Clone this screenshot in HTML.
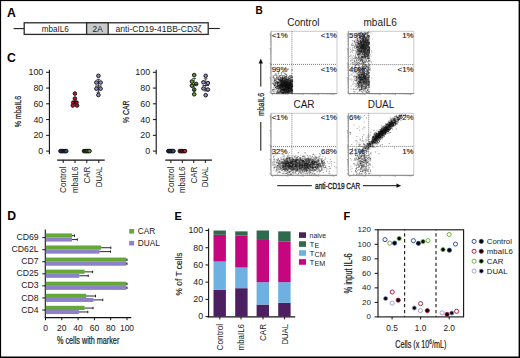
<!DOCTYPE html>
<html><head><meta charset="utf-8"><title>Figure</title>
<style>html,body{margin:0;padding:0;background:#fff;width:520px;height:358px;overflow:hidden}svg{display:block}text{font-family:"Liberation Sans", sans-serif}</style>
</head><body>
<svg width="520" height="358" viewBox="0 0 520 358" font-family='"Liberation Sans", sans-serif'><rect width="520" height="358" fill="#fff"/><rect x="0.00" y="0.00" width="520.00" height="1.10" fill="#000" stroke="none" stroke-width="1" />
<rect x="0.00" y="0.00" width="1.10" height="358.00" fill="#000" stroke="none" stroke-width="1" />
<rect x="518.60" y="0.00" width="1.40" height="358.00" fill="#000" stroke="none" stroke-width="1" />
<rect x="0.00" y="356.50" width="520.00" height="1.50" fill="#000" stroke="none" stroke-width="1" />
<text x="7.00" y="16.60" font-size="12.2" text-anchor="start" font-weight="bold" fill="#000" >A</text>
<line x1="13.60" y1="28.60" x2="24.20" y2="28.60" stroke="#222" stroke-width="1.1" />
<line x1="208.20" y1="28.50" x2="219.80" y2="28.50" stroke="#222" stroke-width="1.1" />
<rect x="24.20" y="22.80" width="184.00" height="11.60" fill="#fff" stroke="#2a2a2a" stroke-width="1.3" />
<rect x="86.60" y="22.80" width="21.60" height="11.60" fill="#cbcbcb" stroke="#2a2a2a" stroke-width="1.3" />
<text x="55.30" y="32.01" font-size="8.7" text-anchor="middle" font-weight="normal" fill="#1a1a1a" textLength="27" lengthAdjust="spacingAndGlyphs">mbaIL6</text>
<text x="97.70" y="31.87" font-size="8.3" text-anchor="middle" font-weight="normal" fill="#1a1a1a" >2A</text>
<text x="158.60" y="31.98" font-size="8.6" text-anchor="middle" font-weight="normal" fill="#1a1a1a" textLength="86" lengthAdjust="spacingAndGlyphs">anti-CD19-41BB-CD3ζ</text>
<text x="255.50" y="14.20" font-size="10" text-anchor="start" font-weight="bold" fill="#000" >B</text>
<text x="303.30" y="25.98" font-size="10" text-anchor="middle" font-weight="normal" fill="#1a1a1a" >Control</text>
<text x="380.20" y="25.98" font-size="10" text-anchor="middle" font-weight="normal" fill="#1a1a1a" >mbaIL6</text>
<text x="304.00" y="107.58" font-size="10" text-anchor="middle" font-weight="normal" fill="#1a1a1a" >CAR</text>
<text x="381.00" y="107.58" font-size="10" text-anchor="middle" font-weight="normal" fill="#1a1a1a" >DUAL</text>
<line x1="271.00" y1="31.30" x2="337.00" y2="31.30" stroke="#c4c4c4" stroke-width="0.9" />
<line x1="337.00" y1="31.30" x2="337.00" y2="93.60" stroke="#c4c4c4" stroke-width="0.9" />
<line x1="291.90" y1="31.30" x2="291.90" y2="93.60" stroke="#707070" stroke-width="0.9" stroke-dasharray="1 1"/>
<line x1="271.00" y1="64.40" x2="337.00" y2="64.40" stroke="#6a6a6a" stroke-width="0.9" stroke-dasharray="1 1"/>
<line x1="271.00" y1="31.30" x2="271.00" y2="93.60" stroke="#7a7a7a" stroke-width="0.9" />
<line x1="271.00" y1="93.60" x2="337.00" y2="93.60" stroke="#6a6a6a" stroke-width="0.9" />
<path d="M272.50 93.60v1.6M277.12 93.60v0.9M279.82 93.60v0.9M281.74 93.60v0.9M283.23 93.60v0.9M284.44 93.60v0.9M285.47 93.60v0.9M286.36 93.60v0.9M287.15 93.60v0.9M287.85 93.60v1.6M292.47 93.60v0.9M295.17 93.60v0.9M297.09 93.60v0.9M298.58 93.60v0.9M299.79 93.60v0.9M300.82 93.60v0.9M301.71 93.60v0.9M302.50 93.60v0.9M303.20 93.60v1.6M307.82 93.60v0.9M310.52 93.60v0.9M312.44 93.60v0.9M313.93 93.60v0.9M315.14 93.60v0.9M316.17 93.60v0.9M317.06 93.60v0.9M317.84 93.60v0.9M318.55 93.60v1.6M323.17 93.60v0.9M325.87 93.60v0.9M327.79 93.60v0.9M329.27 93.60v0.9M330.49 93.60v0.9M331.52 93.60v0.9M332.41 93.60v0.9M333.19 93.60v0.9M333.90 93.60v1.6M271.00 92.10h-1.6M271.00 87.74h-0.9M271.00 85.19h-0.9M271.00 83.38h-0.9M271.00 81.97h-0.9M271.00 80.83h-0.9M271.00 79.86h-0.9M271.00 79.02h-0.9M271.00 78.27h-0.9M271.00 77.61h-1.6M271.00 73.25h-0.9M271.00 70.70h-0.9M271.00 68.89h-0.9M271.00 67.48h-0.9M271.00 66.34h-0.9M271.00 65.37h-0.9M271.00 64.53h-0.9M271.00 63.79h-0.9M271.00 63.12h-1.6M271.00 58.76h-0.9M271.00 56.21h-0.9M271.00 54.40h-0.9M271.00 53.00h-0.9M271.00 51.85h-0.9M271.00 50.88h-0.9M271.00 50.04h-0.9M271.00 49.30h-0.9M271.00 48.63h-1.6M271.00 44.27h-0.9M271.00 41.72h-0.9M271.00 39.91h-0.9M271.00 38.51h-0.9M271.00 37.36h-0.9M271.00 36.39h-0.9M271.00 35.55h-0.9M271.00 34.81h-0.9M271.00 34.15h-1.6" stroke="#888" stroke-width="0.6" fill="none"/>
<line x1="348.30" y1="31.30" x2="413.80" y2="31.30" stroke="#c4c4c4" stroke-width="0.9" />
<line x1="413.80" y1="31.30" x2="413.80" y2="93.60" stroke="#c4c4c4" stroke-width="0.9" />
<line x1="368.70" y1="31.30" x2="368.70" y2="93.60" stroke="#707070" stroke-width="0.9" stroke-dasharray="1 1"/>
<line x1="348.30" y1="64.60" x2="413.80" y2="64.60" stroke="#6a6a6a" stroke-width="0.9" stroke-dasharray="1 1"/>
<line x1="348.30" y1="31.30" x2="348.30" y2="93.60" stroke="#7a7a7a" stroke-width="0.9" />
<line x1="348.30" y1="93.60" x2="413.80" y2="93.60" stroke="#6a6a6a" stroke-width="0.9" />
<path d="M349.80 93.60v1.6M354.39 93.60v0.9M357.07 93.60v0.9M358.97 93.60v0.9M360.45 93.60v0.9M361.65 93.60v0.9M362.67 93.60v0.9M363.56 93.60v0.9M364.34 93.60v0.9M365.03 93.60v1.6M369.62 93.60v0.9M372.30 93.60v0.9M374.20 93.60v0.9M375.68 93.60v0.9M376.89 93.60v0.9M377.91 93.60v0.9M378.79 93.60v0.9M379.57 93.60v0.9M380.27 93.60v1.6M384.85 93.60v0.9M387.53 93.60v0.9M389.44 93.60v0.9M390.91 93.60v0.9M392.12 93.60v0.9M393.14 93.60v0.9M394.02 93.60v0.9M394.80 93.60v0.9M395.50 93.60v1.6M400.08 93.60v0.9M402.77 93.60v0.9M404.67 93.60v0.9M406.14 93.60v0.9M407.35 93.60v0.9M408.37 93.60v0.9M409.25 93.60v0.9M410.03 93.60v0.9M410.73 93.60v1.6M348.30 92.10h-1.6M348.30 87.74h-0.9M348.30 85.19h-0.9M348.30 83.38h-0.9M348.30 81.97h-0.9M348.30 80.83h-0.9M348.30 79.86h-0.9M348.30 79.02h-0.9M348.30 78.27h-0.9M348.30 77.61h-1.6M348.30 73.25h-0.9M348.30 70.70h-0.9M348.30 68.89h-0.9M348.30 67.48h-0.9M348.30 66.34h-0.9M348.30 65.37h-0.9M348.30 64.53h-0.9M348.30 63.79h-0.9M348.30 63.12h-1.6M348.30 58.76h-0.9M348.30 56.21h-0.9M348.30 54.40h-0.9M348.30 53.00h-0.9M348.30 51.85h-0.9M348.30 50.88h-0.9M348.30 50.04h-0.9M348.30 49.30h-0.9M348.30 48.63h-1.6M348.30 44.27h-0.9M348.30 41.72h-0.9M348.30 39.91h-0.9M348.30 38.51h-0.9M348.30 37.36h-0.9M348.30 36.39h-0.9M348.30 35.55h-0.9M348.30 34.81h-0.9M348.30 34.15h-1.6" stroke="#888" stroke-width="0.6" fill="none"/>
<line x1="271.00" y1="113.30" x2="337.00" y2="113.30" stroke="#c4c4c4" stroke-width="0.9" />
<line x1="337.00" y1="113.30" x2="337.00" y2="175.30" stroke="#c4c4c4" stroke-width="0.9" />
<line x1="291.90" y1="113.30" x2="291.90" y2="175.30" stroke="#707070" stroke-width="0.9" stroke-dasharray="1 1"/>
<line x1="271.00" y1="146.60" x2="337.00" y2="146.60" stroke="#6a6a6a" stroke-width="0.9" stroke-dasharray="1 1"/>
<line x1="271.00" y1="113.30" x2="271.00" y2="175.30" stroke="#7a7a7a" stroke-width="0.9" />
<line x1="271.00" y1="175.30" x2="337.00" y2="175.30" stroke="#6a6a6a" stroke-width="0.9" />
<path d="M272.50 175.30v1.6M277.12 175.30v0.9M279.82 175.30v0.9M281.74 175.30v0.9M283.23 175.30v0.9M284.44 175.30v0.9M285.47 175.30v0.9M286.36 175.30v0.9M287.15 175.30v0.9M287.85 175.30v1.6M292.47 175.30v0.9M295.17 175.30v0.9M297.09 175.30v0.9M298.58 175.30v0.9M299.79 175.30v0.9M300.82 175.30v0.9M301.71 175.30v0.9M302.50 175.30v0.9M303.20 175.30v1.6M307.82 175.30v0.9M310.52 175.30v0.9M312.44 175.30v0.9M313.93 175.30v0.9M315.14 175.30v0.9M316.17 175.30v0.9M317.06 175.30v0.9M317.84 175.30v0.9M318.55 175.30v1.6M323.17 175.30v0.9M325.87 175.30v0.9M327.79 175.30v0.9M329.27 175.30v0.9M330.49 175.30v0.9M331.52 175.30v0.9M332.41 175.30v0.9M333.19 175.30v0.9M333.90 175.30v1.6M271.00 173.80h-1.6M271.00 169.46h-0.9M271.00 166.92h-0.9M271.00 165.12h-0.9M271.00 163.72h-0.9M271.00 162.58h-0.9M271.00 161.61h-0.9M271.00 160.78h-0.9M271.00 160.04h-0.9M271.00 159.38h-1.6M271.00 155.04h-0.9M271.00 152.50h-0.9M271.00 150.70h-0.9M271.00 149.30h-0.9M271.00 148.16h-0.9M271.00 147.20h-0.9M271.00 146.36h-0.9M271.00 145.62h-0.9M271.00 144.96h-1.6M271.00 140.62h-0.9M271.00 138.08h-0.9M271.00 136.28h-0.9M271.00 134.88h-0.9M271.00 133.74h-0.9M271.00 132.78h-0.9M271.00 131.94h-0.9M271.00 131.20h-0.9M271.00 130.54h-1.6M271.00 126.20h-0.9M271.00 123.66h-0.9M271.00 121.86h-0.9M271.00 120.47h-0.9M271.00 119.32h-0.9M271.00 118.36h-0.9M271.00 117.52h-0.9M271.00 116.79h-0.9M271.00 116.13h-1.6" stroke="#888" stroke-width="0.6" fill="none"/>
<line x1="348.30" y1="113.30" x2="413.80" y2="113.30" stroke="#c4c4c4" stroke-width="0.9" />
<line x1="413.80" y1="113.30" x2="413.80" y2="175.30" stroke="#c4c4c4" stroke-width="0.9" />
<line x1="368.70" y1="113.30" x2="368.70" y2="175.30" stroke="#707070" stroke-width="0.9" stroke-dasharray="1 1"/>
<line x1="348.30" y1="146.40" x2="413.80" y2="146.40" stroke="#6a6a6a" stroke-width="0.9" stroke-dasharray="1 1"/>
<line x1="348.30" y1="113.30" x2="348.30" y2="175.30" stroke="#7a7a7a" stroke-width="0.9" />
<line x1="348.30" y1="175.30" x2="413.80" y2="175.30" stroke="#6a6a6a" stroke-width="0.9" />
<path d="M349.80 175.30v1.6M354.39 175.30v0.9M357.07 175.30v0.9M358.97 175.30v0.9M360.45 175.30v0.9M361.65 175.30v0.9M362.67 175.30v0.9M363.56 175.30v0.9M364.34 175.30v0.9M365.03 175.30v1.6M369.62 175.30v0.9M372.30 175.30v0.9M374.20 175.30v0.9M375.68 175.30v0.9M376.89 175.30v0.9M377.91 175.30v0.9M378.79 175.30v0.9M379.57 175.30v0.9M380.27 175.30v1.6M384.85 175.30v0.9M387.53 175.30v0.9M389.44 175.30v0.9M390.91 175.30v0.9M392.12 175.30v0.9M393.14 175.30v0.9M394.02 175.30v0.9M394.80 175.30v0.9M395.50 175.30v1.6M400.08 175.30v0.9M402.77 175.30v0.9M404.67 175.30v0.9M406.14 175.30v0.9M407.35 175.30v0.9M408.37 175.30v0.9M409.25 175.30v0.9M410.03 175.30v0.9M410.73 175.30v1.6M348.30 173.80h-1.6M348.30 169.46h-0.9M348.30 166.92h-0.9M348.30 165.12h-0.9M348.30 163.72h-0.9M348.30 162.58h-0.9M348.30 161.61h-0.9M348.30 160.78h-0.9M348.30 160.04h-0.9M348.30 159.38h-1.6M348.30 155.04h-0.9M348.30 152.50h-0.9M348.30 150.70h-0.9M348.30 149.30h-0.9M348.30 148.16h-0.9M348.30 147.20h-0.9M348.30 146.36h-0.9M348.30 145.62h-0.9M348.30 144.96h-1.6M348.30 140.62h-0.9M348.30 138.08h-0.9M348.30 136.28h-0.9M348.30 134.88h-0.9M348.30 133.74h-0.9M348.30 132.78h-0.9M348.30 131.94h-0.9M348.30 131.20h-0.9M348.30 130.54h-1.6M348.30 126.20h-0.9M348.30 123.66h-0.9M348.30 121.86h-0.9M348.30 120.47h-0.9M348.30 119.32h-0.9M348.30 118.36h-0.9M348.30 117.52h-0.9M348.30 116.79h-0.9M348.30 116.13h-1.6" stroke="#888" stroke-width="0.6" fill="none"/>
<path d="M286.0 85.8h1.0v1.0h-1.0zM285.6 83.2h1.0v1.0h-1.0zM280.1 84.2h1.0v1.0h-1.0zM286.4 85.5h1.0v1.0h-1.0zM292.0 83.5h1.0v1.0h-1.0zM286.9 91.7h1.0v1.0h-1.0zM287.5 79.9h1.0v1.0h-1.0zM286.4 84.8h1.0v1.0h-1.0zM287.8 80.4h1.0v1.0h-1.0zM282.2 85.6h1.0v1.0h-1.0zM287.0 80.0h1.0v1.0h-1.0zM286.2 86.2h1.0v1.0h-1.0zM285.9 83.4h1.0v1.0h-1.0zM285.8 84.8h1.0v1.0h-1.0zM287.2 81.5h1.0v1.0h-1.0zM285.3 86.1h1.0v1.0h-1.0zM283.1 79.1h1.0v1.0h-1.0zM277.6 85.8h1.0v1.0h-1.0zM287.7 79.8h1.0v1.0h-1.0zM285.7 83.3h1.0v1.0h-1.0zM273.8 74.7h1.0v1.0h-1.0zM284.1 79.7h1.0v1.0h-1.0zM286.6 91.1h1.0v1.0h-1.0zM291.1 83.2h1.0v1.0h-1.0zM281.8 87.1h1.0v1.0h-1.0zM289.1 87.5h1.0v1.0h-1.0zM288.9 88.2h1.0v1.0h-1.0zM290.7 78.9h1.0v1.0h-1.0zM280.4 85.6h1.0v1.0h-1.0zM272.5 75.5h1.0v1.0h-1.0zM285.0 84.3h1.0v1.0h-1.0zM284.8 85.2h1.0v1.0h-1.0zM274.7 73.7h1.0v1.0h-1.0zM284.3 89.9h1.0v1.0h-1.0zM285.5 88.5h1.0v1.0h-1.0zM284.0 88.5h1.0v1.0h-1.0zM287.9 81.5h1.0v1.0h-1.0zM290.0 90.5h1.0v1.0h-1.0zM280.3 79.2h1.0v1.0h-1.0zM291.2 90.6h1.0v1.0h-1.0zM291.6 86.4h1.0v1.0h-1.0zM279.0 86.2h1.0v1.0h-1.0zM286.5 84.5h1.0v1.0h-1.0zM279.9 85.4h1.0v1.0h-1.0zM285.6 89.7h1.0v1.0h-1.0zM281.2 84.7h1.0v1.0h-1.0zM289.5 89.1h1.0v1.0h-1.0zM277.0 82.2h1.0v1.0h-1.0zM285.0 88.0h1.0v1.0h-1.0zM287.5 80.6h1.0v1.0h-1.0zM273.4 84.2h1.0v1.0h-1.0zM285.4 87.6h1.0v1.0h-1.0zM282.8 88.6h1.0v1.0h-1.0zM280.9 86.4h1.0v1.0h-1.0zM286.2 88.2h1.0v1.0h-1.0zM285.6 88.1h1.0v1.0h-1.0zM289.6 80.1h1.0v1.0h-1.0zM285.7 84.2h1.0v1.0h-1.0zM286.6 86.5h1.0v1.0h-1.0zM282.4 90.4h1.0v1.0h-1.0zM285.6 86.4h1.0v1.0h-1.0zM285.4 80.0h1.0v1.0h-1.0zM274.7 83.6h1.0v1.0h-1.0zM284.4 90.6h1.0v1.0h-1.0zM284.4 81.1h1.0v1.0h-1.0zM287.1 80.0h1.0v1.0h-1.0zM279.9 84.1h1.0v1.0h-1.0zM285.1 84.8h1.0v1.0h-1.0zM285.9 91.8h1.0v1.0h-1.0zM286.9 82.3h1.0v1.0h-1.0zM281.1 79.8h1.0v1.0h-1.0zM287.4 85.1h1.0v1.0h-1.0zM287.3 83.6h1.0v1.0h-1.0zM278.7 85.8h1.0v1.0h-1.0zM280.9 84.4h1.0v1.0h-1.0zM286.7 86.8h1.0v1.0h-1.0zM287.3 86.9h1.0v1.0h-1.0zM286.2 87.8h1.0v1.0h-1.0zM279.7 83.9h1.0v1.0h-1.0zM276.0 79.2h1.0v1.0h-1.0zM283.7 82.9h1.0v1.0h-1.0zM282.2 85.3h1.0v1.0h-1.0zM277.4 86.9h1.0v1.0h-1.0zM288.5 78.8h1.0v1.0h-1.0zM292.1 88.9h1.0v1.0h-1.0zM289.4 89.2h1.0v1.0h-1.0zM286.9 86.1h1.0v1.0h-1.0zM285.6 82.3h1.0v1.0h-1.0zM289.7 86.1h1.0v1.0h-1.0zM277.2 83.5h1.0v1.0h-1.0zM281.8 89.0h1.0v1.0h-1.0zM290.5 90.3h1.0v1.0h-1.0zM274.6 80.1h1.0v1.0h-1.0zM283.2 86.9h1.0v1.0h-1.0zM290.3 85.2h1.0v1.0h-1.0zM289.1 83.5h1.0v1.0h-1.0zM290.4 87.4h1.0v1.0h-1.0zM281.2 92.3h1.0v1.0h-1.0zM288.1 78.6h1.0v1.0h-1.0zM291.7 70.0h1.0v1.0h-1.0zM282.8 86.0h1.0v1.0h-1.0zM283.7 91.7h1.0v1.0h-1.0zM284.4 91.3h1.0v1.0h-1.0zM286.9 84.9h1.0v1.0h-1.0zM283.4 88.7h1.0v1.0h-1.0zM280.9 85.9h1.0v1.0h-1.0zM279.1 91.3h1.0v1.0h-1.0zM280.4 88.5h1.0v1.0h-1.0zM290.8 82.4h1.0v1.0h-1.0zM290.4 79.8h1.0v1.0h-1.0zM280.4 88.3h1.0v1.0h-1.0zM282.6 87.1h1.0v1.0h-1.0zM277.8 85.1h1.0v1.0h-1.0zM279.7 84.1h1.0v1.0h-1.0zM285.4 89.7h1.0v1.0h-1.0zM275.0 86.7h1.0v1.0h-1.0zM286.9 87.5h1.0v1.0h-1.0zM284.5 91.8h1.0v1.0h-1.0zM291.6 69.3h1.0v1.0h-1.0zM287.4 82.9h1.0v1.0h-1.0zM290.0 82.7h1.0v1.0h-1.0zM280.1 79.5h1.0v1.0h-1.0zM276.8 92.5h1.0v1.0h-1.0zM286.1 91.3h1.0v1.0h-1.0zM281.8 77.6h1.0v1.0h-1.0zM275.3 79.4h1.0v1.0h-1.0zM281.9 83.9h1.0v1.0h-1.0zM290.9 87.7h1.0v1.0h-1.0zM287.6 86.7h1.0v1.0h-1.0zM282.7 91.9h1.0v1.0h-1.0zM280.6 89.4h1.0v1.0h-1.0zM278.1 88.2h1.0v1.0h-1.0zM283.7 80.6h1.0v1.0h-1.0zM276.0 77.6h1.0v1.0h-1.0zM278.4 84.3h1.0v1.0h-1.0zM288.0 87.8h1.0v1.0h-1.0zM282.4 86.6h1.0v1.0h-1.0zM280.5 80.5h1.0v1.0h-1.0zM285.7 82.7h1.0v1.0h-1.0zM286.7 81.7h1.0v1.0h-1.0zM285.2 88.0h1.0v1.0h-1.0zM285.3 84.5h1.0v1.0h-1.0zM289.6 76.3h1.0v1.0h-1.0zM286.2 91.2h1.0v1.0h-1.0zM283.9 90.7h1.0v1.0h-1.0zM282.4 83.9h1.0v1.0h-1.0zM284.0 87.6h1.0v1.0h-1.0zM282.0 89.0h1.0v1.0h-1.0zM276.7 87.8h1.0v1.0h-1.0zM281.1 73.8h1.0v1.0h-1.0zM291.1 85.3h1.0v1.0h-1.0zM291.1 75.6h1.0v1.0h-1.0zM274.8 84.6h1.0v1.0h-1.0zM281.7 82.1h1.0v1.0h-1.0zM283.1 81.5h1.0v1.0h-1.0zM282.0 78.4h1.0v1.0h-1.0zM284.5 82.3h1.0v1.0h-1.0zM287.4 90.9h1.0v1.0h-1.0zM285.6 83.5h1.0v1.0h-1.0zM284.2 84.8h1.0v1.0h-1.0zM285.9 76.8h1.0v1.0h-1.0zM287.8 86.2h1.0v1.0h-1.0zM287.4 92.7h1.0v1.0h-1.0zM277.5 71.6h1.0v1.0h-1.0zM288.8 85.4h1.0v1.0h-1.0zM282.2 87.0h1.0v1.0h-1.0zM286.9 91.7h1.0v1.0h-1.0zM284.1 84.2h1.0v1.0h-1.0zM285.5 88.5h1.0v1.0h-1.0zM280.9 88.6h1.0v1.0h-1.0zM279.6 86.5h1.0v1.0h-1.0zM279.8 86.2h1.0v1.0h-1.0zM284.7 86.5h1.0v1.0h-1.0zM280.9 91.8h1.0v1.0h-1.0zM286.4 87.0h1.0v1.0h-1.0zM291.7 81.0h1.0v1.0h-1.0zM284.6 88.4h1.0v1.0h-1.0zM275.1 79.8h1.0v1.0h-1.0zM288.8 87.0h1.0v1.0h-1.0zM279.9 79.9h1.0v1.0h-1.0zM291.1 89.7h1.0v1.0h-1.0zM280.4 87.7h1.0v1.0h-1.0zM288.7 82.1h1.0v1.0h-1.0zM290.5 92.7h1.0v1.0h-1.0zM289.0 84.4h1.0v1.0h-1.0zM287.7 84.5h1.0v1.0h-1.0zM274.6 79.5h1.0v1.0h-1.0zM289.1 83.4h1.0v1.0h-1.0zM284.9 82.2h1.0v1.0h-1.0zM288.1 85.4h1.0v1.0h-1.0zM278.8 91.6h1.0v1.0h-1.0zM280.2 91.8h1.0v1.0h-1.0zM280.3 83.0h1.0v1.0h-1.0zM282.0 85.7h1.0v1.0h-1.0zM291.8 81.3h1.0v1.0h-1.0zM277.1 76.6h1.0v1.0h-1.0zM280.5 85.9h1.0v1.0h-1.0zM290.8 90.5h1.0v1.0h-1.0zM286.3 83.3h1.0v1.0h-1.0zM284.2 90.6h1.0v1.0h-1.0zM287.0 83.1h1.0v1.0h-1.0zM288.0 84.9h1.0v1.0h-1.0zM288.9 90.6h1.0v1.0h-1.0zM289.5 76.1h1.0v1.0h-1.0zM279.9 90.1h1.0v1.0h-1.0zM287.0 83.0h1.0v1.0h-1.0zM277.6 82.4h1.0v1.0h-1.0zM286.1 86.0h1.0v1.0h-1.0zM287.0 89.8h1.0v1.0h-1.0zM282.3 78.0h1.0v1.0h-1.0zM287.4 81.0h1.0v1.0h-1.0zM288.3 88.1h1.0v1.0h-1.0zM280.4 82.7h1.0v1.0h-1.0zM286.1 90.0h1.0v1.0h-1.0zM289.7 86.7h1.0v1.0h-1.0zM287.3 86.8h1.0v1.0h-1.0zM290.0 85.4h1.0v1.0h-1.0zM289.7 86.4h1.0v1.0h-1.0zM285.2 83.0h1.0v1.0h-1.0zM284.7 88.2h1.0v1.0h-1.0zM290.9 82.2h1.0v1.0h-1.0zM288.7 90.5h1.0v1.0h-1.0zM287.6 84.5h1.0v1.0h-1.0zM284.1 86.0h1.0v1.0h-1.0zM282.1 86.0h1.0v1.0h-1.0zM282.1 80.0h1.0v1.0h-1.0zM284.0 90.6h1.0v1.0h-1.0zM287.2 92.2h1.0v1.0h-1.0zM289.5 86.3h1.0v1.0h-1.0zM285.4 82.6h1.0v1.0h-1.0zM289.2 84.7h1.0v1.0h-1.0zM286.9 85.8h1.0v1.0h-1.0zM289.7 85.4h1.0v1.0h-1.0zM287.0 83.1h1.0v1.0h-1.0zM286.9 81.8h1.0v1.0h-1.0zM289.1 77.9h1.0v1.0h-1.0zM279.7 85.0h1.0v1.0h-1.0zM289.9 88.6h1.0v1.0h-1.0zM272.5 82.5h1.0v1.0h-1.0zM287.8 68.8h1.0v1.0h-1.0zM279.4 85.3h1.0v1.0h-1.0zM276.5 91.1h1.0v1.0h-1.0zM283.2 81.2h1.0v1.0h-1.0zM288.3 92.0h1.0v1.0h-1.0zM285.7 81.1h1.0v1.0h-1.0zM273.2 88.8h1.0v1.0h-1.0zM289.3 82.5h1.0v1.0h-1.0zM283.8 84.0h1.0v1.0h-1.0zM287.3 83.6h1.0v1.0h-1.0zM283.8 82.6h1.0v1.0h-1.0zM288.7 75.8h1.0v1.0h-1.0zM282.3 87.6h1.0v1.0h-1.0zM291.5 77.0h1.0v1.0h-1.0zM289.4 84.1h1.0v1.0h-1.0zM278.2 83.4h1.0v1.0h-1.0zM282.9 80.8h1.0v1.0h-1.0zM282.6 79.4h1.0v1.0h-1.0zM275.0 80.6h1.0v1.0h-1.0zM287.6 82.7h1.0v1.0h-1.0zM278.3 80.3h1.0v1.0h-1.0zM280.9 83.2h1.0v1.0h-1.0zM279.4 75.0h1.0v1.0h-1.0zM279.6 87.3h1.0v1.0h-1.0zM286.5 90.3h1.0v1.0h-1.0zM285.3 85.0h1.0v1.0h-1.0zM284.6 83.8h1.0v1.0h-1.0zM284.3 87.7h1.0v1.0h-1.0zM291.0 80.7h1.0v1.0h-1.0zM285.0 87.2h1.0v1.0h-1.0zM291.0 88.3h1.0v1.0h-1.0zM280.4 85.5h1.0v1.0h-1.0zM289.1 87.5h1.0v1.0h-1.0zM284.6 73.1h1.0v1.0h-1.0zM281.4 85.5h1.0v1.0h-1.0zM287.7 87.2h1.0v1.0h-1.0zM276.9 80.9h1.0v1.0h-1.0zM276.7 85.9h1.0v1.0h-1.0zM284.7 83.8h1.0v1.0h-1.0zM284.6 82.9h1.0v1.0h-1.0zM288.2 90.2h1.0v1.0h-1.0zM281.0 86.5h1.0v1.0h-1.0zM284.9 82.7h1.0v1.0h-1.0zM287.0 84.8h1.0v1.0h-1.0zM281.0 82.3h1.0v1.0h-1.0zM291.0 90.7h1.0v1.0h-1.0zM285.0 80.7h1.0v1.0h-1.0zM281.4 83.5h1.0v1.0h-1.0zM281.9 84.3h1.0v1.0h-1.0zM289.7 81.8h1.0v1.0h-1.0zM281.2 90.5h1.0v1.0h-1.0z" fill="#000" fill-opacity="0.42"/>
<path d="M286.9 86.5h1.0v1.0h-1.0zM280.0 83.6h1.0v1.0h-1.0zM277.4 75.8h1.0v1.0h-1.0zM291.6 76.1h1.0v1.0h-1.0zM282.1 89.0h1.0v1.0h-1.0zM289.0 90.4h1.0v1.0h-1.0zM283.9 82.3h1.0v1.0h-1.0zM288.3 77.3h1.0v1.0h-1.0zM282.2 89.6h1.0v1.0h-1.0zM283.5 88.6h1.0v1.0h-1.0zM283.3 87.0h1.0v1.0h-1.0zM287.5 88.9h1.0v1.0h-1.0zM288.5 83.1h1.0v1.0h-1.0zM280.4 83.6h1.0v1.0h-1.0zM280.9 88.9h1.0v1.0h-1.0zM272.3 89.5h1.0v1.0h-1.0zM285.5 84.2h1.0v1.0h-1.0zM287.0 86.1h1.0v1.0h-1.0zM279.9 91.6h1.0v1.0h-1.0zM286.6 91.4h1.0v1.0h-1.0zM285.5 87.0h1.0v1.0h-1.0zM292.1 79.0h1.0v1.0h-1.0zM285.7 88.4h1.0v1.0h-1.0zM285.2 86.2h1.0v1.0h-1.0zM282.7 86.3h1.0v1.0h-1.0zM280.9 80.7h1.0v1.0h-1.0zM285.7 80.7h1.0v1.0h-1.0zM278.3 84.8h1.0v1.0h-1.0zM290.9 87.1h1.0v1.0h-1.0zM286.0 84.7h1.0v1.0h-1.0zM290.8 89.4h1.0v1.0h-1.0zM283.9 80.3h1.0v1.0h-1.0zM286.3 84.4h1.0v1.0h-1.0zM280.5 82.0h1.0v1.0h-1.0zM282.1 83.4h1.0v1.0h-1.0zM272.6 90.8h1.0v1.0h-1.0zM285.3 89.6h1.0v1.0h-1.0zM287.2 86.8h1.0v1.0h-1.0zM289.4 84.1h1.0v1.0h-1.0zM286.6 89.7h1.0v1.0h-1.0zM284.7 85.0h1.0v1.0h-1.0zM279.5 79.2h1.0v1.0h-1.0zM289.8 90.9h1.0v1.0h-1.0zM290.5 88.0h1.0v1.0h-1.0zM287.4 82.8h1.0v1.0h-1.0zM284.0 90.2h1.0v1.0h-1.0zM279.7 85.4h1.0v1.0h-1.0zM288.1 81.0h1.0v1.0h-1.0zM278.7 79.2h1.0v1.0h-1.0zM288.8 85.2h1.0v1.0h-1.0zM287.7 82.5h1.0v1.0h-1.0zM282.5 81.0h1.0v1.0h-1.0zM281.2 84.9h1.0v1.0h-1.0zM287.8 86.5h1.0v1.0h-1.0zM291.6 85.8h1.0v1.0h-1.0zM279.6 84.6h1.0v1.0h-1.0zM287.2 79.4h1.0v1.0h-1.0zM276.7 84.5h1.0v1.0h-1.0zM278.2 82.3h1.0v1.0h-1.0zM283.8 76.8h1.0v1.0h-1.0zM271.9 82.7h1.0v1.0h-1.0zM281.7 83.9h1.0v1.0h-1.0zM272.9 75.4h1.0v1.0h-1.0zM291.2 92.2h1.0v1.0h-1.0zM279.7 87.0h1.0v1.0h-1.0zM287.9 82.3h1.0v1.0h-1.0zM283.0 89.9h1.0v1.0h-1.0zM285.4 87.7h1.0v1.0h-1.0zM290.2 91.2h1.0v1.0h-1.0zM292.1 80.2h1.0v1.0h-1.0zM277.2 82.1h1.0v1.0h-1.0zM285.5 85.3h1.0v1.0h-1.0zM284.9 88.1h1.0v1.0h-1.0zM292.0 85.5h1.0v1.0h-1.0zM289.1 86.7h1.0v1.0h-1.0zM281.7 89.0h1.0v1.0h-1.0zM287.9 88.7h1.0v1.0h-1.0zM287.6 89.4h1.0v1.0h-1.0zM285.7 85.0h1.0v1.0h-1.0zM280.2 84.4h1.0v1.0h-1.0zM289.5 84.8h1.0v1.0h-1.0zM281.5 86.7h1.0v1.0h-1.0zM283.5 83.1h1.0v1.0h-1.0zM278.5 88.0h1.0v1.0h-1.0zM283.7 85.4h1.0v1.0h-1.0zM290.2 91.7h1.0v1.0h-1.0zM281.9 81.9h1.0v1.0h-1.0zM288.9 81.0h1.0v1.0h-1.0zM283.8 85.9h1.0v1.0h-1.0zM286.2 85.1h1.0v1.0h-1.0zM287.8 79.5h1.0v1.0h-1.0zM272.8 91.1h1.0v1.0h-1.0zM282.2 87.1h1.0v1.0h-1.0zM281.0 86.0h1.0v1.0h-1.0zM290.3 82.2h1.0v1.0h-1.0zM286.1 92.0h1.0v1.0h-1.0zM286.8 83.3h1.0v1.0h-1.0zM283.6 85.2h1.0v1.0h-1.0zM284.4 89.2h1.0v1.0h-1.0zM284.7 82.2h1.0v1.0h-1.0zM281.6 85.2h1.0v1.0h-1.0zM283.9 82.9h1.0v1.0h-1.0zM282.4 85.5h1.0v1.0h-1.0zM288.9 90.9h1.0v1.0h-1.0zM283.7 83.3h1.0v1.0h-1.0zM290.7 83.7h1.0v1.0h-1.0zM289.3 88.4h1.0v1.0h-1.0zM287.4 90.6h1.0v1.0h-1.0zM280.1 77.1h1.0v1.0h-1.0zM288.9 84.5h1.0v1.0h-1.0zM279.7 83.7h1.0v1.0h-1.0zM272.4 90.4h1.0v1.0h-1.0zM282.3 85.2h1.0v1.0h-1.0zM287.7 87.7h1.0v1.0h-1.0zM292.0 84.0h1.0v1.0h-1.0zM289.9 84.4h1.0v1.0h-1.0zM288.6 85.2h1.0v1.0h-1.0zM287.0 81.8h1.0v1.0h-1.0zM290.4 84.3h1.0v1.0h-1.0zM280.4 87.2h1.0v1.0h-1.0zM289.3 84.3h1.0v1.0h-1.0zM290.5 87.7h1.0v1.0h-1.0zM289.7 85.4h1.0v1.0h-1.0zM290.3 90.1h1.0v1.0h-1.0zM285.8 89.1h1.0v1.0h-1.0zM275.1 86.3h1.0v1.0h-1.0zM277.4 74.5h1.0v1.0h-1.0zM289.1 85.3h1.0v1.0h-1.0zM285.5 90.2h1.0v1.0h-1.0zM278.7 91.6h1.0v1.0h-1.0zM282.3 83.0h1.0v1.0h-1.0zM274.0 85.1h1.0v1.0h-1.0zM285.9 82.9h1.0v1.0h-1.0zM285.3 76.8h1.0v1.0h-1.0zM279.6 90.3h1.0v1.0h-1.0zM277.2 84.9h1.0v1.0h-1.0zM284.1 82.5h1.0v1.0h-1.0zM285.6 90.9h1.0v1.0h-1.0zM273.3 87.1h1.0v1.0h-1.0zM284.3 84.8h1.0v1.0h-1.0zM286.3 85.4h1.0v1.0h-1.0zM282.3 77.5h1.0v1.0h-1.0zM283.0 92.7h1.0v1.0h-1.0zM287.9 90.1h1.0v1.0h-1.0zM281.9 77.6h1.0v1.0h-1.0zM287.5 80.4h1.0v1.0h-1.0zM281.9 82.7h1.0v1.0h-1.0zM285.2 81.3h1.0v1.0h-1.0zM285.1 84.7h1.0v1.0h-1.0zM291.0 86.3h1.0v1.0h-1.0zM288.7 90.4h1.0v1.0h-1.0zM289.7 78.5h1.0v1.0h-1.0zM281.6 85.2h1.0v1.0h-1.0zM290.0 78.5h1.0v1.0h-1.0zM284.4 86.8h1.0v1.0h-1.0zM288.1 83.5h1.0v1.0h-1.0zM285.0 86.7h1.0v1.0h-1.0zM281.7 86.2h1.0v1.0h-1.0zM283.2 89.7h1.0v1.0h-1.0zM291.8 81.3h1.0v1.0h-1.0zM286.0 78.9h1.0v1.0h-1.0zM280.6 90.4h1.0v1.0h-1.0zM287.3 85.5h1.0v1.0h-1.0zM282.9 77.6h1.0v1.0h-1.0zM282.4 80.1h1.0v1.0h-1.0zM280.9 87.0h1.0v1.0h-1.0zM282.1 92.3h1.0v1.0h-1.0zM286.6 86.7h1.0v1.0h-1.0zM281.2 83.1h1.0v1.0h-1.0zM280.2 83.4h1.0v1.0h-1.0zM284.3 88.1h1.0v1.0h-1.0zM288.4 82.2h1.0v1.0h-1.0zM283.4 75.2h1.0v1.0h-1.0zM278.2 72.2h1.0v1.0h-1.0zM287.3 88.1h1.0v1.0h-1.0zM287.8 82.5h1.0v1.0h-1.0zM282.3 84.6h1.0v1.0h-1.0zM284.1 86.4h1.0v1.0h-1.0zM285.3 81.8h1.0v1.0h-1.0zM283.6 87.1h1.0v1.0h-1.0zM274.3 82.4h1.0v1.0h-1.0zM286.1 89.7h1.0v1.0h-1.0zM284.1 88.3h1.0v1.0h-1.0zM292.2 80.8h1.0v1.0h-1.0zM286.0 89.7h1.0v1.0h-1.0zM283.9 89.0h1.0v1.0h-1.0zM280.3 82.5h1.0v1.0h-1.0zM282.1 78.4h1.0v1.0h-1.0zM285.9 81.2h1.0v1.0h-1.0zM282.5 85.7h1.0v1.0h-1.0zM285.9 91.6h1.0v1.0h-1.0zM282.0 82.3h1.0v1.0h-1.0zM275.5 74.3h1.0v1.0h-1.0zM286.2 88.0h1.0v1.0h-1.0zM281.6 89.4h1.0v1.0h-1.0zM288.3 78.8h1.0v1.0h-1.0zM284.2 88.5h1.0v1.0h-1.0zM286.2 84.6h1.0v1.0h-1.0zM282.7 80.8h1.0v1.0h-1.0zM286.3 85.1h1.0v1.0h-1.0zM288.4 87.8h1.0v1.0h-1.0zM288.9 82.6h1.0v1.0h-1.0zM277.9 78.9h1.0v1.0h-1.0zM286.5 84.3h1.0v1.0h-1.0zM290.5 89.5h1.0v1.0h-1.0zM288.5 88.1h1.0v1.0h-1.0zM282.2 79.6h1.0v1.0h-1.0zM291.9 85.9h1.0v1.0h-1.0zM280.5 74.9h1.0v1.0h-1.0zM291.9 85.3h1.0v1.0h-1.0zM285.3 85.9h1.0v1.0h-1.0zM287.0 89.1h1.0v1.0h-1.0zM275.4 82.4h1.0v1.0h-1.0zM285.1 85.6h1.0v1.0h-1.0zM287.8 84.7h1.0v1.0h-1.0zM286.3 83.4h1.0v1.0h-1.0zM290.9 86.2h1.0v1.0h-1.0zM289.2 85.3h1.0v1.0h-1.0zM283.0 87.1h1.0v1.0h-1.0zM282.3 80.8h1.0v1.0h-1.0zM284.3 79.3h1.0v1.0h-1.0zM290.4 80.5h1.0v1.0h-1.0zM282.2 84.2h1.0v1.0h-1.0zM275.9 88.2h1.0v1.0h-1.0zM289.5 85.4h1.0v1.0h-1.0zM273.0 76.5h1.0v1.0h-1.0zM284.3 82.7h1.0v1.0h-1.0zM282.9 83.8h1.0v1.0h-1.0zM290.1 92.6h1.0v1.0h-1.0zM279.6 82.7h1.0v1.0h-1.0zM287.0 78.7h1.0v1.0h-1.0zM288.0 87.9h1.0v1.0h-1.0zM291.7 82.8h1.0v1.0h-1.0zM284.3 81.1h1.0v1.0h-1.0zM282.7 83.4h1.0v1.0h-1.0zM292.2 84.2h1.0v1.0h-1.0zM284.9 79.4h1.0v1.0h-1.0zM283.6 86.9h1.0v1.0h-1.0zM288.5 91.3h1.0v1.0h-1.0zM284.5 78.2h1.0v1.0h-1.0zM290.1 88.9h1.0v1.0h-1.0zM283.7 87.2h1.0v1.0h-1.0zM283.5 82.0h1.0v1.0h-1.0zM281.4 86.1h1.0v1.0h-1.0zM283.2 88.4h1.0v1.0h-1.0zM285.9 82.3h1.0v1.0h-1.0zM281.4 86.6h1.0v1.0h-1.0zM290.4 82.3h1.0v1.0h-1.0zM285.5 85.7h1.0v1.0h-1.0zM284.5 88.2h1.0v1.0h-1.0zM289.8 88.2h1.0v1.0h-1.0zM285.2 88.9h1.0v1.0h-1.0zM286.8 81.3h1.0v1.0h-1.0zM281.4 79.7h1.0v1.0h-1.0zM283.1 84.0h1.0v1.0h-1.0zM283.2 84.8h1.0v1.0h-1.0zM276.6 87.0h1.0v1.0h-1.0zM285.4 92.5h1.0v1.0h-1.0zM281.4 84.6h1.0v1.0h-1.0zM285.7 86.6h1.0v1.0h-1.0zM278.9 79.4h1.0v1.0h-1.0zM287.0 79.4h1.0v1.0h-1.0zM284.7 83.1h1.0v1.0h-1.0zM284.5 85.8h1.0v1.0h-1.0zM285.0 83.8h1.0v1.0h-1.0zM288.8 91.4h1.0v1.0h-1.0zM281.5 79.1h1.0v1.0h-1.0zM285.2 87.1h1.0v1.0h-1.0zM280.4 80.3h1.0v1.0h-1.0zM290.7 82.3h1.0v1.0h-1.0zM276.7 89.9h1.0v1.0h-1.0zM287.7 84.2h1.0v1.0h-1.0zM278.9 86.8h1.0v1.0h-1.0zM283.3 84.6h1.0v1.0h-1.0zM279.7 90.0h1.0v1.0h-1.0zM285.6 92.4h1.0v1.0h-1.0zM279.4 83.8h1.0v1.0h-1.0zM274.3 81.0h1.0v1.0h-1.0zM282.5 83.1h1.0v1.0h-1.0zM283.4 83.2h1.0v1.0h-1.0zM274.0 80.4h1.0v1.0h-1.0zM287.6 77.3h1.0v1.0h-1.0zM288.0 92.8h1.0v1.0h-1.0zM289.9 82.0h1.0v1.0h-1.0zM282.7 82.4h1.0v1.0h-1.0zM285.4 78.9h1.0v1.0h-1.0zM284.6 88.5h1.0v1.0h-1.0zM287.5 85.7h1.0v1.0h-1.0zM285.6 84.4h1.0v1.0h-1.0zM286.8 89.7h1.0v1.0h-1.0z" fill="#000" fill-opacity="0.42"/>
<path d="M282.5 89.3h1.0v1.0h-1.0zM284.5 83.2h1.0v1.0h-1.0zM281.9 80.5h1.0v1.0h-1.0zM284.1 83.3h1.0v1.0h-1.0zM282.0 82.4h1.0v1.0h-1.0zM280.7 84.5h1.0v1.0h-1.0zM285.4 91.5h1.0v1.0h-1.0zM291.0 91.8h1.0v1.0h-1.0zM272.5 76.9h1.0v1.0h-1.0zM282.1 92.4h1.0v1.0h-1.0zM275.5 73.1h1.0v1.0h-1.0zM280.3 80.6h1.0v1.0h-1.0zM288.3 83.0h1.0v1.0h-1.0zM281.0 88.7h1.0v1.0h-1.0zM285.0 87.1h1.0v1.0h-1.0zM286.4 84.2h1.0v1.0h-1.0zM285.1 80.2h1.0v1.0h-1.0zM285.7 78.5h1.0v1.0h-1.0zM288.0 84.5h1.0v1.0h-1.0zM292.1 89.2h1.0v1.0h-1.0zM285.9 83.2h1.0v1.0h-1.0zM278.9 80.6h1.0v1.0h-1.0zM282.9 82.9h1.0v1.0h-1.0zM284.7 86.8h1.0v1.0h-1.0zM276.8 83.8h1.0v1.0h-1.0zM281.3 86.5h1.0v1.0h-1.0zM284.5 79.5h1.0v1.0h-1.0zM280.9 85.9h1.0v1.0h-1.0zM284.2 73.3h1.0v1.0h-1.0zM282.0 81.3h1.0v1.0h-1.0zM283.2 82.4h1.0v1.0h-1.0zM285.8 86.9h1.0v1.0h-1.0zM282.5 75.2h1.0v1.0h-1.0zM282.6 83.9h1.0v1.0h-1.0zM275.7 87.0h1.0v1.0h-1.0zM289.4 89.8h1.0v1.0h-1.0zM285.8 81.9h1.0v1.0h-1.0zM285.4 81.4h1.0v1.0h-1.0zM284.2 85.2h1.0v1.0h-1.0zM281.3 84.0h1.0v1.0h-1.0zM272.7 89.1h1.0v1.0h-1.0zM288.1 85.4h1.0v1.0h-1.0zM288.5 90.7h1.0v1.0h-1.0zM284.5 78.2h1.0v1.0h-1.0zM283.8 88.6h1.0v1.0h-1.0zM279.5 91.3h1.0v1.0h-1.0zM283.1 81.0h1.0v1.0h-1.0zM284.7 87.2h1.0v1.0h-1.0zM281.3 88.5h1.0v1.0h-1.0zM289.0 82.4h1.0v1.0h-1.0zM288.6 92.5h1.0v1.0h-1.0zM277.5 82.6h1.0v1.0h-1.0zM284.0 80.3h1.0v1.0h-1.0zM291.5 92.2h1.0v1.0h-1.0zM280.3 86.9h1.0v1.0h-1.0zM279.1 75.2h1.0v1.0h-1.0zM285.3 80.3h1.0v1.0h-1.0zM286.1 85.6h1.0v1.0h-1.0zM277.6 78.9h1.0v1.0h-1.0zM288.2 88.5h1.0v1.0h-1.0zM282.5 83.5h1.0v1.0h-1.0zM291.6 89.5h1.0v1.0h-1.0zM287.6 77.1h1.0v1.0h-1.0zM284.6 92.7h1.0v1.0h-1.0zM286.9 84.4h1.0v1.0h-1.0zM287.8 80.3h1.0v1.0h-1.0zM291.5 80.3h1.0v1.0h-1.0zM285.2 85.8h1.0v1.0h-1.0zM278.6 86.5h1.0v1.0h-1.0zM286.1 88.4h1.0v1.0h-1.0zM280.8 83.6h1.0v1.0h-1.0zM278.3 90.7h1.0v1.0h-1.0zM290.7 86.8h1.0v1.0h-1.0zM284.6 82.5h1.0v1.0h-1.0zM290.7 90.1h1.0v1.0h-1.0zM291.5 79.7h1.0v1.0h-1.0zM283.7 90.2h1.0v1.0h-1.0zM275.9 74.8h1.0v1.0h-1.0zM286.8 86.6h1.0v1.0h-1.0zM277.0 84.5h1.0v1.0h-1.0zM286.5 81.3h1.0v1.0h-1.0zM280.1 84.8h1.0v1.0h-1.0zM288.3 86.8h1.0v1.0h-1.0zM282.8 85.0h1.0v1.0h-1.0zM279.3 81.9h1.0v1.0h-1.0zM289.7 88.3h1.0v1.0h-1.0zM280.3 78.8h1.0v1.0h-1.0zM281.1 86.0h1.0v1.0h-1.0zM288.9 78.3h1.0v1.0h-1.0zM289.9 83.7h1.0v1.0h-1.0zM283.3 82.8h1.0v1.0h-1.0zM289.1 81.4h1.0v1.0h-1.0zM284.9 91.5h1.0v1.0h-1.0zM287.8 88.4h1.0v1.0h-1.0zM283.7 88.9h1.0v1.0h-1.0zM280.0 87.6h1.0v1.0h-1.0zM286.5 85.0h1.0v1.0h-1.0zM285.1 84.4h1.0v1.0h-1.0zM291.4 92.5h1.0v1.0h-1.0zM281.1 86.6h1.0v1.0h-1.0zM289.4 81.5h1.0v1.0h-1.0zM289.7 82.5h1.0v1.0h-1.0zM281.6 78.6h1.0v1.0h-1.0zM283.2 89.6h1.0v1.0h-1.0zM281.9 77.1h1.0v1.0h-1.0zM290.0 81.1h1.0v1.0h-1.0zM286.9 82.8h1.0v1.0h-1.0zM275.5 86.4h1.0v1.0h-1.0zM286.5 89.3h1.0v1.0h-1.0zM282.4 82.9h1.0v1.0h-1.0zM280.6 82.2h1.0v1.0h-1.0zM282.4 92.3h1.0v1.0h-1.0zM281.0 72.0h1.0v1.0h-1.0zM288.2 90.3h1.0v1.0h-1.0zM289.2 84.3h1.0v1.0h-1.0zM282.0 80.5h1.0v1.0h-1.0zM276.8 85.4h1.0v1.0h-1.0zM290.9 87.8h1.0v1.0h-1.0zM290.8 91.7h1.0v1.0h-1.0zM291.8 89.1h1.0v1.0h-1.0zM286.0 85.1h1.0v1.0h-1.0zM281.0 88.8h1.0v1.0h-1.0zM284.5 88.1h1.0v1.0h-1.0zM282.0 78.6h1.0v1.0h-1.0zM290.9 89.0h1.0v1.0h-1.0zM291.4 85.3h1.0v1.0h-1.0zM283.8 83.2h1.0v1.0h-1.0zM284.4 86.7h1.0v1.0h-1.0zM292.0 76.5h1.0v1.0h-1.0zM289.0 88.9h1.0v1.0h-1.0zM277.7 82.5h1.0v1.0h-1.0zM285.6 86.9h1.0v1.0h-1.0zM291.9 89.9h1.0v1.0h-1.0zM284.8 92.2h1.0v1.0h-1.0zM282.6 82.7h1.0v1.0h-1.0zM285.9 86.8h1.0v1.0h-1.0zM284.5 88.7h1.0v1.0h-1.0zM284.9 82.9h1.0v1.0h-1.0zM288.2 81.4h1.0v1.0h-1.0zM275.4 84.9h1.0v1.0h-1.0zM281.4 88.8h1.0v1.0h-1.0zM286.0 85.2h1.0v1.0h-1.0zM285.6 89.3h1.0v1.0h-1.0zM288.3 82.6h1.0v1.0h-1.0zM279.7 87.1h1.0v1.0h-1.0zM286.4 84.6h1.0v1.0h-1.0zM279.0 86.7h1.0v1.0h-1.0zM286.2 84.4h1.0v1.0h-1.0zM282.2 85.9h1.0v1.0h-1.0zM274.9 82.2h1.0v1.0h-1.0zM281.6 85.7h1.0v1.0h-1.0zM290.3 82.5h1.0v1.0h-1.0zM277.2 85.9h1.0v1.0h-1.0zM284.5 84.5h1.0v1.0h-1.0zM289.1 79.8h1.0v1.0h-1.0zM291.7 86.0h1.0v1.0h-1.0zM273.8 85.2h1.0v1.0h-1.0zM279.5 80.7h1.0v1.0h-1.0zM289.9 87.5h1.0v1.0h-1.0zM281.2 80.7h1.0v1.0h-1.0zM276.3 79.4h1.0v1.0h-1.0zM287.5 85.8h1.0v1.0h-1.0zM275.0 87.2h1.0v1.0h-1.0zM280.8 86.8h1.0v1.0h-1.0zM276.6 81.0h1.0v1.0h-1.0zM287.7 86.0h1.0v1.0h-1.0zM289.2 83.4h1.0v1.0h-1.0zM283.0 81.9h1.0v1.0h-1.0zM287.4 83.9h1.0v1.0h-1.0zM285.3 85.8h1.0v1.0h-1.0zM277.3 91.5h1.0v1.0h-1.0zM289.4 83.6h1.0v1.0h-1.0zM288.2 81.8h1.0v1.0h-1.0zM281.9 86.0h1.0v1.0h-1.0zM290.0 79.6h1.0v1.0h-1.0zM287.3 91.2h1.0v1.0h-1.0zM291.0 81.5h1.0v1.0h-1.0zM285.4 86.7h1.0v1.0h-1.0zM285.8 85.7h1.0v1.0h-1.0zM289.9 81.4h1.0v1.0h-1.0zM289.0 83.0h1.0v1.0h-1.0zM285.0 83.4h1.0v1.0h-1.0zM280.3 82.7h1.0v1.0h-1.0zM282.0 86.5h1.0v1.0h-1.0zM284.7 92.7h1.0v1.0h-1.0zM284.0 87.1h1.0v1.0h-1.0zM286.5 86.7h1.0v1.0h-1.0zM291.3 87.2h1.0v1.0h-1.0zM288.4 85.1h1.0v1.0h-1.0zM281.3 89.3h1.0v1.0h-1.0zM286.2 88.0h1.0v1.0h-1.0zM287.2 87.0h1.0v1.0h-1.0zM286.4 75.3h1.0v1.0h-1.0zM279.0 86.6h1.0v1.0h-1.0zM276.6 82.5h1.0v1.0h-1.0zM289.2 86.3h1.0v1.0h-1.0zM281.0 83.6h1.0v1.0h-1.0zM284.1 82.3h1.0v1.0h-1.0zM281.5 88.4h1.0v1.0h-1.0zM290.4 80.3h1.0v1.0h-1.0zM284.9 83.6h1.0v1.0h-1.0zM285.7 87.0h1.0v1.0h-1.0zM287.6 89.6h1.0v1.0h-1.0zM275.2 78.0h1.0v1.0h-1.0zM278.7 84.9h1.0v1.0h-1.0zM284.2 81.8h1.0v1.0h-1.0zM281.3 81.0h1.0v1.0h-1.0zM287.9 86.8h1.0v1.0h-1.0zM281.2 86.0h1.0v1.0h-1.0zM285.9 83.8h1.0v1.0h-1.0zM279.6 86.4h1.0v1.0h-1.0zM286.9 84.0h1.0v1.0h-1.0zM290.7 86.1h1.0v1.0h-1.0zM288.1 87.1h1.0v1.0h-1.0zM283.4 83.4h1.0v1.0h-1.0zM284.1 77.9h1.0v1.0h-1.0zM285.5 81.5h1.0v1.0h-1.0zM288.1 90.0h1.0v1.0h-1.0zM285.8 78.7h1.0v1.0h-1.0zM285.2 85.1h1.0v1.0h-1.0zM289.2 87.3h1.0v1.0h-1.0zM288.2 86.0h1.0v1.0h-1.0zM289.6 80.7h1.0v1.0h-1.0zM291.0 86.7h1.0v1.0h-1.0zM282.0 79.8h1.0v1.0h-1.0zM291.4 83.6h1.0v1.0h-1.0zM287.3 81.0h1.0v1.0h-1.0zM287.7 82.8h1.0v1.0h-1.0zM282.1 86.6h1.0v1.0h-1.0zM291.3 90.6h1.0v1.0h-1.0zM291.8 77.7h1.0v1.0h-1.0zM282.8 81.0h1.0v1.0h-1.0zM286.4 89.2h1.0v1.0h-1.0zM280.3 85.3h1.0v1.0h-1.0zM288.0 87.8h1.0v1.0h-1.0zM280.9 80.0h1.0v1.0h-1.0zM284.4 82.0h1.0v1.0h-1.0zM282.8 88.0h1.0v1.0h-1.0zM282.8 85.1h1.0v1.0h-1.0zM290.7 75.0h1.0v1.0h-1.0zM285.7 85.3h1.0v1.0h-1.0zM286.5 85.3h1.0v1.0h-1.0zM282.0 84.9h1.0v1.0h-1.0zM283.8 84.1h1.0v1.0h-1.0zM288.5 85.4h1.0v1.0h-1.0zM275.0 87.1h1.0v1.0h-1.0zM280.4 80.7h1.0v1.0h-1.0zM284.6 84.6h1.0v1.0h-1.0zM292.1 81.5h1.0v1.0h-1.0zM290.0 78.8h1.0v1.0h-1.0zM286.5 82.6h1.0v1.0h-1.0zM285.6 76.0h1.0v1.0h-1.0zM284.5 84.1h1.0v1.0h-1.0zM290.7 86.6h1.0v1.0h-1.0zM286.4 85.3h1.0v1.0h-1.0zM287.6 80.3h1.0v1.0h-1.0zM284.6 75.8h1.0v1.0h-1.0zM276.5 87.6h1.0v1.0h-1.0zM284.8 78.0h1.0v1.0h-1.0zM290.6 91.1h1.0v1.0h-1.0zM288.1 83.7h1.0v1.0h-1.0zM286.8 79.1h1.0v1.0h-1.0zM290.2 83.5h1.0v1.0h-1.0zM290.1 84.7h1.0v1.0h-1.0zM288.1 85.6h1.0v1.0h-1.0zM283.9 91.4h1.0v1.0h-1.0zM288.9 88.5h1.0v1.0h-1.0zM284.6 89.0h1.0v1.0h-1.0zM286.9 88.4h1.0v1.0h-1.0zM288.5 85.5h1.0v1.0h-1.0zM288.8 86.4h1.0v1.0h-1.0zM274.2 91.5h1.0v1.0h-1.0zM282.7 88.9h1.0v1.0h-1.0zM286.5 88.4h1.0v1.0h-1.0zM288.8 91.9h1.0v1.0h-1.0zM284.7 82.9h1.0v1.0h-1.0zM286.3 91.6h1.0v1.0h-1.0zM286.2 85.8h1.0v1.0h-1.0zM279.7 84.3h1.0v1.0h-1.0zM281.6 87.0h1.0v1.0h-1.0zM289.1 80.4h1.0v1.0h-1.0zM287.3 92.3h1.0v1.0h-1.0zM284.3 78.2h1.0v1.0h-1.0zM282.7 84.0h1.0v1.0h-1.0zM281.5 76.7h1.0v1.0h-1.0zM285.5 88.5h1.0v1.0h-1.0zM289.3 87.8h1.0v1.0h-1.0zM283.2 92.6h1.0v1.0h-1.0zM283.0 85.5h1.0v1.0h-1.0zM284.7 92.1h1.0v1.0h-1.0z" fill="#000" fill-opacity="0.42"/>
<path d="M286.3 86.1h1.0v1.0h-1.0zM281.3 90.9h1.0v1.0h-1.0zM287.8 90.8h1.0v1.0h-1.0zM287.4 86.2h1.0v1.0h-1.0zM284.7 83.7h1.0v1.0h-1.0zM275.2 87.1h1.0v1.0h-1.0zM285.9 85.7h1.0v1.0h-1.0zM291.8 82.5h1.0v1.0h-1.0zM284.9 80.7h1.0v1.0h-1.0zM280.5 84.3h1.0v1.0h-1.0zM292.1 79.3h1.0v1.0h-1.0zM282.1 85.9h1.0v1.0h-1.0zM285.1 86.8h1.0v1.0h-1.0zM284.7 89.0h1.0v1.0h-1.0zM285.8 80.5h1.0v1.0h-1.0zM285.1 90.3h1.0v1.0h-1.0zM280.1 86.6h1.0v1.0h-1.0zM284.8 88.7h1.0v1.0h-1.0zM282.2 77.7h1.0v1.0h-1.0zM283.0 86.0h1.0v1.0h-1.0zM281.2 91.8h1.0v1.0h-1.0zM281.8 88.5h1.0v1.0h-1.0zM276.7 77.3h1.0v1.0h-1.0zM288.2 84.0h1.0v1.0h-1.0zM277.8 73.1h1.0v1.0h-1.0zM282.5 87.5h1.0v1.0h-1.0zM277.0 83.3h1.0v1.0h-1.0zM284.9 86.4h1.0v1.0h-1.0zM289.6 89.2h1.0v1.0h-1.0zM285.6 86.1h1.0v1.0h-1.0zM286.7 84.5h1.0v1.0h-1.0zM287.6 83.9h1.0v1.0h-1.0zM286.7 83.7h1.0v1.0h-1.0zM282.5 81.8h1.0v1.0h-1.0zM278.7 81.5h1.0v1.0h-1.0zM273.3 83.6h1.0v1.0h-1.0zM290.2 77.1h1.0v1.0h-1.0zM289.0 86.0h1.0v1.0h-1.0zM276.5 82.2h1.0v1.0h-1.0zM284.6 90.1h1.0v1.0h-1.0zM280.7 79.9h1.0v1.0h-1.0zM284.7 85.2h1.0v1.0h-1.0zM288.7 87.5h1.0v1.0h-1.0zM278.8 84.9h1.0v1.0h-1.0zM290.5 86.5h1.0v1.0h-1.0zM288.0 85.7h1.0v1.0h-1.0zM280.7 81.6h1.0v1.0h-1.0zM282.7 86.3h1.0v1.0h-1.0zM288.6 79.2h1.0v1.0h-1.0zM282.7 85.3h1.0v1.0h-1.0zM291.0 88.3h1.0v1.0h-1.0zM282.6 77.3h1.0v1.0h-1.0zM289.5 84.9h1.0v1.0h-1.0zM290.7 85.8h1.0v1.0h-1.0zM287.2 84.0h1.0v1.0h-1.0zM283.4 83.6h1.0v1.0h-1.0zM286.7 86.4h1.0v1.0h-1.0zM284.5 82.2h1.0v1.0h-1.0zM287.6 78.2h1.0v1.0h-1.0zM279.4 88.5h1.0v1.0h-1.0zM277.1 78.4h1.0v1.0h-1.0zM282.6 89.7h1.0v1.0h-1.0zM291.9 79.7h1.0v1.0h-1.0zM283.0 86.9h1.0v1.0h-1.0zM291.1 83.6h1.0v1.0h-1.0zM287.9 85.9h1.0v1.0h-1.0zM288.6 80.5h1.0v1.0h-1.0zM278.7 80.5h1.0v1.0h-1.0zM283.0 85.1h1.0v1.0h-1.0zM280.7 85.4h1.0v1.0h-1.0zM277.0 85.9h1.0v1.0h-1.0zM281.6 90.6h1.0v1.0h-1.0zM282.3 87.3h1.0v1.0h-1.0zM288.4 85.8h1.0v1.0h-1.0zM290.2 89.4h1.0v1.0h-1.0zM279.1 79.7h1.0v1.0h-1.0zM286.4 82.2h1.0v1.0h-1.0zM285.0 80.1h1.0v1.0h-1.0zM285.7 88.7h1.0v1.0h-1.0zM290.4 84.7h1.0v1.0h-1.0zM283.8 89.8h1.0v1.0h-1.0zM279.6 81.8h1.0v1.0h-1.0zM287.2 86.4h1.0v1.0h-1.0zM290.6 82.6h1.0v1.0h-1.0zM289.0 82.8h1.0v1.0h-1.0zM283.5 85.9h1.0v1.0h-1.0zM292.0 79.2h1.0v1.0h-1.0zM276.5 85.8h1.0v1.0h-1.0zM281.6 92.3h1.0v1.0h-1.0zM289.8 82.6h1.0v1.0h-1.0zM285.7 88.0h1.0v1.0h-1.0zM283.2 91.0h1.0v1.0h-1.0zM287.6 82.9h1.0v1.0h-1.0zM279.8 84.5h1.0v1.0h-1.0zM284.3 80.0h1.0v1.0h-1.0zM287.1 91.9h1.0v1.0h-1.0zM281.0 88.7h1.0v1.0h-1.0zM278.7 85.2h1.0v1.0h-1.0zM275.8 87.4h1.0v1.0h-1.0zM287.5 84.4h1.0v1.0h-1.0zM283.4 79.7h1.0v1.0h-1.0zM281.8 85.9h1.0v1.0h-1.0zM288.5 90.8h1.0v1.0h-1.0zM282.9 89.1h1.0v1.0h-1.0zM283.7 85.3h1.0v1.0h-1.0zM289.7 85.4h1.0v1.0h-1.0zM285.5 86.8h1.0v1.0h-1.0zM287.8 87.4h1.0v1.0h-1.0zM288.4 81.3h1.0v1.0h-1.0zM285.9 78.4h1.0v1.0h-1.0zM287.2 79.4h1.0v1.0h-1.0zM283.6 88.1h1.0v1.0h-1.0zM282.4 84.1h1.0v1.0h-1.0zM277.6 88.3h1.0v1.0h-1.0zM283.1 83.9h1.0v1.0h-1.0zM276.0 76.2h1.0v1.0h-1.0zM279.9 90.6h1.0v1.0h-1.0zM282.5 84.7h1.0v1.0h-1.0zM285.7 90.7h1.0v1.0h-1.0zM286.8 89.1h1.0v1.0h-1.0zM281.0 83.6h1.0v1.0h-1.0zM287.2 81.6h1.0v1.0h-1.0zM286.4 81.2h1.0v1.0h-1.0zM284.5 85.8h1.0v1.0h-1.0zM285.8 83.2h1.0v1.0h-1.0zM288.9 87.9h1.0v1.0h-1.0zM285.0 89.9h1.0v1.0h-1.0zM290.9 89.2h1.0v1.0h-1.0zM275.4 75.0h1.0v1.0h-1.0zM286.9 88.9h1.0v1.0h-1.0zM284.6 88.2h1.0v1.0h-1.0zM281.5 82.0h1.0v1.0h-1.0zM281.3 84.7h1.0v1.0h-1.0zM286.7 81.1h1.0v1.0h-1.0zM282.3 84.5h1.0v1.0h-1.0zM284.5 85.5h1.0v1.0h-1.0zM290.3 77.4h1.0v1.0h-1.0zM286.3 90.7h1.0v1.0h-1.0zM281.8 89.5h1.0v1.0h-1.0zM281.6 82.9h1.0v1.0h-1.0zM283.0 89.5h1.0v1.0h-1.0zM279.7 77.5h1.0v1.0h-1.0zM280.0 78.4h1.0v1.0h-1.0zM285.7 89.8h1.0v1.0h-1.0zM283.1 89.9h1.0v1.0h-1.0zM289.1 88.3h1.0v1.0h-1.0zM283.3 79.9h1.0v1.0h-1.0zM289.3 84.5h1.0v1.0h-1.0zM291.9 86.4h1.0v1.0h-1.0zM281.7 79.4h1.0v1.0h-1.0zM289.9 89.1h1.0v1.0h-1.0zM280.7 77.5h1.0v1.0h-1.0zM278.9 76.0h1.0v1.0h-1.0zM284.3 89.0h1.0v1.0h-1.0zM282.4 75.8h1.0v1.0h-1.0zM289.3 88.4h1.0v1.0h-1.0zM281.5 86.3h1.0v1.0h-1.0zM278.0 81.8h1.0v1.0h-1.0zM292.0 90.1h1.0v1.0h-1.0zM285.3 85.4h1.0v1.0h-1.0zM292.1 82.6h1.0v1.0h-1.0zM283.9 82.8h1.0v1.0h-1.0zM285.2 83.8h1.0v1.0h-1.0zM278.0 87.5h1.0v1.0h-1.0zM280.6 77.3h1.0v1.0h-1.0zM275.9 91.8h1.0v1.0h-1.0zM284.1 80.8h1.0v1.0h-1.0zM285.1 73.9h1.0v1.0h-1.0zM289.2 75.6h1.0v1.0h-1.0zM283.1 78.1h1.0v1.0h-1.0zM283.7 84.6h1.0v1.0h-1.0zM288.4 85.2h1.0v1.0h-1.0zM287.0 87.5h1.0v1.0h-1.0zM288.0 84.8h1.0v1.0h-1.0zM282.2 86.8h1.0v1.0h-1.0zM283.5 70.7h1.0v1.0h-1.0zM291.4 88.3h1.0v1.0h-1.0zM282.5 89.8h1.0v1.0h-1.0zM282.3 87.3h1.0v1.0h-1.0zM287.4 87.0h1.0v1.0h-1.0zM284.4 89.3h1.0v1.0h-1.0zM290.4 84.0h1.0v1.0h-1.0zM291.4 89.9h1.0v1.0h-1.0zM283.5 78.6h1.0v1.0h-1.0zM273.9 78.5h1.0v1.0h-1.0zM280.9 92.4h1.0v1.0h-1.0zM276.0 77.2h1.0v1.0h-1.0zM273.6 81.2h1.0v1.0h-1.0zM274.3 85.0h1.0v1.0h-1.0zM290.6 87.6h1.0v1.0h-1.0zM286.7 82.6h1.0v1.0h-1.0zM290.3 89.7h1.0v1.0h-1.0zM284.6 92.3h1.0v1.0h-1.0zM287.2 87.4h1.0v1.0h-1.0zM286.2 87.0h1.0v1.0h-1.0zM287.2 81.5h1.0v1.0h-1.0zM281.8 83.5h1.0v1.0h-1.0zM281.5 88.3h1.0v1.0h-1.0zM286.3 81.7h1.0v1.0h-1.0zM281.4 80.1h1.0v1.0h-1.0zM285.8 83.5h1.0v1.0h-1.0zM287.9 84.8h1.0v1.0h-1.0zM289.0 90.5h1.0v1.0h-1.0zM284.2 86.3h1.0v1.0h-1.0zM287.4 84.2h1.0v1.0h-1.0zM285.4 88.3h1.0v1.0h-1.0zM276.0 92.4h1.0v1.0h-1.0zM280.2 87.9h1.0v1.0h-1.0zM286.4 82.3h1.0v1.0h-1.0zM279.5 81.7h1.0v1.0h-1.0zM291.5 84.0h1.0v1.0h-1.0zM289.1 86.9h1.0v1.0h-1.0zM282.7 86.3h1.0v1.0h-1.0zM285.9 86.5h1.0v1.0h-1.0zM276.7 82.4h1.0v1.0h-1.0zM290.5 86.4h1.0v1.0h-1.0zM283.9 88.4h1.0v1.0h-1.0zM285.8 83.3h1.0v1.0h-1.0zM277.3 81.5h1.0v1.0h-1.0zM286.5 84.2h1.0v1.0h-1.0zM282.1 85.2h1.0v1.0h-1.0zM280.0 79.5h1.0v1.0h-1.0zM279.9 80.5h1.0v1.0h-1.0zM285.5 87.1h1.0v1.0h-1.0zM286.9 87.9h1.0v1.0h-1.0zM273.0 83.9h1.0v1.0h-1.0zM285.8 88.8h1.0v1.0h-1.0zM290.0 81.2h1.0v1.0h-1.0zM292.1 86.2h1.0v1.0h-1.0zM282.2 79.1h1.0v1.0h-1.0zM289.2 83.5h1.0v1.0h-1.0zM278.3 89.2h1.0v1.0h-1.0zM286.3 79.6h1.0v1.0h-1.0zM282.7 81.2h1.0v1.0h-1.0zM283.6 86.2h1.0v1.0h-1.0zM291.6 76.6h1.0v1.0h-1.0zM278.1 85.1h1.0v1.0h-1.0zM283.2 87.8h1.0v1.0h-1.0zM280.8 80.7h1.0v1.0h-1.0zM283.8 77.5h1.0v1.0h-1.0zM289.0 89.1h1.0v1.0h-1.0zM291.6 80.5h1.0v1.0h-1.0zM281.1 85.5h1.0v1.0h-1.0zM283.6 83.3h1.0v1.0h-1.0zM286.5 85.1h1.0v1.0h-1.0zM287.5 68.5h1.0v1.0h-1.0zM283.8 83.4h1.0v1.0h-1.0zM290.5 83.7h1.0v1.0h-1.0zM291.1 90.4h1.0v1.0h-1.0zM290.5 79.5h1.0v1.0h-1.0zM278.9 92.4h1.0v1.0h-1.0zM290.1 82.9h1.0v1.0h-1.0zM288.0 88.6h1.0v1.0h-1.0zM288.2 84.5h1.0v1.0h-1.0zM288.6 87.0h1.0v1.0h-1.0zM288.9 89.4h1.0v1.0h-1.0zM281.2 88.9h1.0v1.0h-1.0zM291.0 82.6h1.0v1.0h-1.0zM285.0 77.6h1.0v1.0h-1.0zM290.2 86.4h1.0v1.0h-1.0zM275.7 88.8h1.0v1.0h-1.0zM280.8 72.9h1.0v1.0h-1.0zM279.4 86.5h1.0v1.0h-1.0zM282.2 86.6h1.0v1.0h-1.0zM286.9 79.0h1.0v1.0h-1.0zM292.0 79.8h1.0v1.0h-1.0zM278.5 83.3h1.0v1.0h-1.0zM288.6 82.7h1.0v1.0h-1.0zM277.4 77.4h1.0v1.0h-1.0zM284.6 82.3h1.0v1.0h-1.0zM283.2 92.2h1.0v1.0h-1.0zM288.3 87.2h1.0v1.0h-1.0zM284.6 83.3h1.0v1.0h-1.0zM276.6 87.9h1.0v1.0h-1.0zM282.6 83.4h1.0v1.0h-1.0zM281.4 88.1h1.0v1.0h-1.0zM283.3 85.9h1.0v1.0h-1.0zM279.4 91.5h1.0v1.0h-1.0zM277.7 82.7h1.0v1.0h-1.0zM288.1 90.0h1.0v1.0h-1.0zM278.0 84.9h1.0v1.0h-1.0zM286.4 85.2h1.0v1.0h-1.0zM283.7 89.8h1.0v1.0h-1.0zM284.7 82.4h1.0v1.0h-1.0zM287.6 86.3h1.0v1.0h-1.0zM286.0 86.9h1.0v1.0h-1.0zM281.5 83.4h1.0v1.0h-1.0zM283.7 89.9h1.0v1.0h-1.0zM291.0 85.5h1.0v1.0h-1.0z" fill="#000" fill-opacity="0.42"/>
<path d="M286.6 85.9h1.0v1.0h-1.0zM282.5 90.7h1.0v1.0h-1.0zM286.5 87.2h1.0v1.0h-1.0zM283.2 86.3h1.0v1.0h-1.0zM287.6 87.3h1.0v1.0h-1.0zM289.1 83.8h1.0v1.0h-1.0zM288.1 91.5h1.0v1.0h-1.0zM281.2 77.7h1.0v1.0h-1.0zM286.5 88.7h1.0v1.0h-1.0zM285.0 88.5h1.0v1.0h-1.0zM289.8 88.3h1.0v1.0h-1.0zM287.3 90.4h1.0v1.0h-1.0zM283.4 90.9h1.0v1.0h-1.0zM290.0 86.9h1.0v1.0h-1.0zM291.1 86.7h1.0v1.0h-1.0zM281.8 82.7h1.0v1.0h-1.0zM286.9 82.2h1.0v1.0h-1.0zM286.8 86.8h1.0v1.0h-1.0zM288.1 86.4h1.0v1.0h-1.0zM280.2 84.4h1.0v1.0h-1.0zM290.7 90.5h1.0v1.0h-1.0zM277.0 83.0h1.0v1.0h-1.0zM289.3 81.9h1.0v1.0h-1.0zM281.8 87.4h1.0v1.0h-1.0zM278.0 86.6h1.0v1.0h-1.0zM283.0 91.3h1.0v1.0h-1.0zM288.2 90.4h1.0v1.0h-1.0zM285.5 83.0h1.0v1.0h-1.0zM284.6 82.6h1.0v1.0h-1.0zM281.9 84.6h1.0v1.0h-1.0zM286.8 88.3h1.0v1.0h-1.0zM280.0 80.4h1.0v1.0h-1.0zM292.0 87.8h1.0v1.0h-1.0zM282.3 84.3h1.0v1.0h-1.0zM292.1 90.9h1.0v1.0h-1.0zM278.4 85.9h1.0v1.0h-1.0zM289.7 81.9h1.0v1.0h-1.0zM280.0 88.5h1.0v1.0h-1.0zM273.3 88.7h1.0v1.0h-1.0zM287.6 76.2h1.0v1.0h-1.0zM278.0 76.7h1.0v1.0h-1.0zM282.3 84.8h1.0v1.0h-1.0zM285.6 83.6h1.0v1.0h-1.0zM282.2 90.2h1.0v1.0h-1.0zM286.3 75.0h1.0v1.0h-1.0zM284.1 82.6h1.0v1.0h-1.0zM283.9 83.6h1.0v1.0h-1.0zM274.3 82.7h1.0v1.0h-1.0zM291.8 92.6h1.0v1.0h-1.0zM287.8 83.9h1.0v1.0h-1.0zM278.1 92.2h1.0v1.0h-1.0zM284.9 91.9h1.0v1.0h-1.0zM281.2 81.6h1.0v1.0h-1.0zM285.4 90.9h1.0v1.0h-1.0zM283.3 89.8h1.0v1.0h-1.0zM283.0 82.0h1.0v1.0h-1.0zM281.3 79.3h1.0v1.0h-1.0zM290.7 86.4h1.0v1.0h-1.0zM289.9 84.6h1.0v1.0h-1.0zM283.6 83.4h1.0v1.0h-1.0zM276.0 85.9h1.0v1.0h-1.0zM286.3 87.7h1.0v1.0h-1.0zM288.4 87.7h1.0v1.0h-1.0zM289.4 85.7h1.0v1.0h-1.0zM285.4 89.9h1.0v1.0h-1.0zM284.9 91.0h1.0v1.0h-1.0zM289.0 86.2h1.0v1.0h-1.0zM291.9 84.6h1.0v1.0h-1.0zM283.2 89.4h1.0v1.0h-1.0zM285.8 92.4h1.0v1.0h-1.0zM280.4 74.9h1.0v1.0h-1.0zM288.3 88.9h1.0v1.0h-1.0zM284.1 85.5h1.0v1.0h-1.0zM290.8 89.4h1.0v1.0h-1.0zM284.1 90.0h1.0v1.0h-1.0zM285.9 81.1h1.0v1.0h-1.0zM279.8 83.8h1.0v1.0h-1.0zM282.8 88.4h1.0v1.0h-1.0zM285.5 84.8h1.0v1.0h-1.0zM276.9 91.5h1.0v1.0h-1.0zM284.7 90.5h1.0v1.0h-1.0zM272.7 92.5h1.0v1.0h-1.0zM285.7 84.5h1.0v1.0h-1.0zM288.4 89.2h1.0v1.0h-1.0zM290.8 84.6h1.0v1.0h-1.0zM283.7 84.6h1.0v1.0h-1.0zM286.5 81.8h1.0v1.0h-1.0zM278.1 81.3h1.0v1.0h-1.0zM282.6 81.0h1.0v1.0h-1.0zM286.3 85.8h1.0v1.0h-1.0zM288.7 80.5h1.0v1.0h-1.0zM291.0 88.1h1.0v1.0h-1.0zM282.3 81.2h1.0v1.0h-1.0zM285.1 79.6h1.0v1.0h-1.0zM285.9 78.3h1.0v1.0h-1.0zM287.5 78.2h1.0v1.0h-1.0zM280.2 90.6h1.0v1.0h-1.0zM285.9 92.2h1.0v1.0h-1.0zM290.7 86.6h1.0v1.0h-1.0zM272.7 81.3h1.0v1.0h-1.0zM284.0 81.8h1.0v1.0h-1.0zM285.4 85.0h1.0v1.0h-1.0zM274.3 84.2h1.0v1.0h-1.0zM288.8 82.5h1.0v1.0h-1.0zM288.5 83.8h1.0v1.0h-1.0zM277.2 88.3h1.0v1.0h-1.0zM289.0 89.2h1.0v1.0h-1.0zM276.3 82.7h1.0v1.0h-1.0zM285.3 83.1h1.0v1.0h-1.0zM281.7 78.8h1.0v1.0h-1.0zM289.7 85.3h1.0v1.0h-1.0zM288.3 90.9h1.0v1.0h-1.0zM288.9 91.1h1.0v1.0h-1.0zM274.9 83.2h1.0v1.0h-1.0zM282.7 86.4h1.0v1.0h-1.0zM289.6 91.6h1.0v1.0h-1.0zM288.0 84.2h1.0v1.0h-1.0zM283.8 83.7h1.0v1.0h-1.0zM281.4 85.3h1.0v1.0h-1.0zM285.0 87.2h1.0v1.0h-1.0zM285.3 85.5h1.0v1.0h-1.0zM281.3 84.2h1.0v1.0h-1.0zM277.0 83.7h1.0v1.0h-1.0zM287.7 85.2h1.0v1.0h-1.0zM289.0 92.0h1.0v1.0h-1.0zM283.3 88.8h1.0v1.0h-1.0zM283.8 76.2h1.0v1.0h-1.0zM284.0 90.5h1.0v1.0h-1.0zM290.0 82.9h1.0v1.0h-1.0zM282.1 82.2h1.0v1.0h-1.0zM283.8 83.6h1.0v1.0h-1.0zM279.6 89.5h1.0v1.0h-1.0zM285.3 79.2h1.0v1.0h-1.0zM287.5 82.7h1.0v1.0h-1.0zM280.6 82.8h1.0v1.0h-1.0zM285.5 89.6h1.0v1.0h-1.0zM286.0 80.8h1.0v1.0h-1.0zM286.2 86.6h1.0v1.0h-1.0zM286.0 76.1h1.0v1.0h-1.0zM287.9 91.2h1.0v1.0h-1.0zM285.1 82.2h1.0v1.0h-1.0zM286.1 78.7h1.0v1.0h-1.0zM277.5 78.2h1.0v1.0h-1.0zM286.9 91.2h1.0v1.0h-1.0zM286.0 83.1h1.0v1.0h-1.0zM292.0 90.1h1.0v1.0h-1.0zM283.9 80.8h1.0v1.0h-1.0zM284.8 78.2h1.0v1.0h-1.0zM277.5 88.5h1.0v1.0h-1.0zM278.4 78.7h1.0v1.0h-1.0zM285.7 92.3h1.0v1.0h-1.0zM290.6 78.7h1.0v1.0h-1.0zM284.2 76.7h1.0v1.0h-1.0zM284.7 92.5h1.0v1.0h-1.0zM288.0 90.3h1.0v1.0h-1.0zM279.5 87.0h1.0v1.0h-1.0zM280.2 88.3h1.0v1.0h-1.0zM283.6 92.0h1.0v1.0h-1.0zM291.3 88.4h1.0v1.0h-1.0zM288.9 85.4h1.0v1.0h-1.0zM282.4 81.7h1.0v1.0h-1.0zM282.7 82.6h1.0v1.0h-1.0zM279.9 85.7h1.0v1.0h-1.0zM279.3 85.0h1.0v1.0h-1.0zM289.7 82.0h1.0v1.0h-1.0zM279.6 79.1h1.0v1.0h-1.0zM280.5 85.1h1.0v1.0h-1.0zM283.7 84.3h1.0v1.0h-1.0zM289.8 88.6h1.0v1.0h-1.0zM284.0 78.9h1.0v1.0h-1.0zM281.9 84.8h1.0v1.0h-1.0zM280.2 83.5h1.0v1.0h-1.0zM288.1 78.4h1.0v1.0h-1.0zM283.8 71.5h1.0v1.0h-1.0zM285.6 87.4h1.0v1.0h-1.0zM274.2 79.7h1.0v1.0h-1.0zM287.5 87.6h1.0v1.0h-1.0zM289.5 92.1h1.0v1.0h-1.0zM284.4 83.9h1.0v1.0h-1.0zM280.4 88.9h1.0v1.0h-1.0zM291.4 87.3h1.0v1.0h-1.0zM273.9 79.4h1.0v1.0h-1.0zM285.0 87.2h1.0v1.0h-1.0zM274.3 79.5h1.0v1.0h-1.0zM285.4 84.7h1.0v1.0h-1.0zM277.3 82.0h1.0v1.0h-1.0zM286.3 84.2h1.0v1.0h-1.0zM281.8 89.4h1.0v1.0h-1.0zM283.6 77.2h1.0v1.0h-1.0zM287.7 84.8h1.0v1.0h-1.0zM288.0 90.6h1.0v1.0h-1.0zM291.7 86.8h1.0v1.0h-1.0zM287.7 86.3h1.0v1.0h-1.0zM287.4 84.4h1.0v1.0h-1.0zM289.3 83.6h1.0v1.0h-1.0zM278.8 87.3h1.0v1.0h-1.0zM282.0 89.6h1.0v1.0h-1.0zM280.2 80.5h1.0v1.0h-1.0zM286.3 80.2h1.0v1.0h-1.0zM289.7 84.7h1.0v1.0h-1.0zM289.9 85.2h1.0v1.0h-1.0zM282.5 83.0h1.0v1.0h-1.0zM285.8 92.8h1.0v1.0h-1.0zM290.3 87.0h1.0v1.0h-1.0zM290.5 80.1h1.0v1.0h-1.0zM277.5 90.4h1.0v1.0h-1.0zM285.1 82.4h1.0v1.0h-1.0zM285.5 77.2h1.0v1.0h-1.0zM289.8 82.6h1.0v1.0h-1.0zM272.3 79.5h1.0v1.0h-1.0zM289.4 82.7h1.0v1.0h-1.0zM274.6 82.4h1.0v1.0h-1.0zM279.0 79.2h1.0v1.0h-1.0zM274.4 82.3h1.0v1.0h-1.0zM279.9 81.8h1.0v1.0h-1.0zM285.9 90.4h1.0v1.0h-1.0zM283.9 88.8h1.0v1.0h-1.0zM280.8 92.2h1.0v1.0h-1.0zM283.9 91.2h1.0v1.0h-1.0zM284.9 87.2h1.0v1.0h-1.0zM283.6 85.6h1.0v1.0h-1.0zM286.1 82.5h1.0v1.0h-1.0zM290.3 80.8h1.0v1.0h-1.0zM286.7 91.7h1.0v1.0h-1.0zM289.4 75.3h1.0v1.0h-1.0zM287.2 84.3h1.0v1.0h-1.0zM287.2 88.7h1.0v1.0h-1.0zM283.4 84.7h1.0v1.0h-1.0zM285.5 73.7h1.0v1.0h-1.0zM286.2 86.3h1.0v1.0h-1.0zM289.0 88.3h1.0v1.0h-1.0zM279.0 87.9h1.0v1.0h-1.0zM289.3 84.6h1.0v1.0h-1.0zM276.5 82.1h1.0v1.0h-1.0zM289.7 85.2h1.0v1.0h-1.0zM279.6 89.9h1.0v1.0h-1.0zM278.7 77.7h1.0v1.0h-1.0zM289.4 83.3h1.0v1.0h-1.0zM284.6 82.1h1.0v1.0h-1.0zM285.0 78.7h1.0v1.0h-1.0zM285.5 92.1h1.0v1.0h-1.0zM282.6 90.1h1.0v1.0h-1.0zM287.0 89.2h1.0v1.0h-1.0zM281.5 91.7h1.0v1.0h-1.0zM291.3 92.5h1.0v1.0h-1.0zM287.9 90.1h1.0v1.0h-1.0zM282.2 92.7h1.0v1.0h-1.0zM283.3 81.6h1.0v1.0h-1.0zM281.5 85.9h1.0v1.0h-1.0zM283.1 92.8h1.0v1.0h-1.0zM286.6 82.3h1.0v1.0h-1.0zM286.2 86.2h1.0v1.0h-1.0zM279.0 70.8h1.0v1.0h-1.0zM285.1 86.7h1.0v1.0h-1.0zM280.9 84.0h1.0v1.0h-1.0zM276.2 84.4h1.0v1.0h-1.0zM285.4 83.2h1.0v1.0h-1.0zM279.9 88.1h1.0v1.0h-1.0zM272.7 77.8h1.0v1.0h-1.0zM284.2 84.6h1.0v1.0h-1.0zM281.9 76.7h1.0v1.0h-1.0zM289.7 87.6h1.0v1.0h-1.0zM284.4 83.1h1.0v1.0h-1.0zM287.2 88.7h1.0v1.0h-1.0zM286.8 82.9h1.0v1.0h-1.0zM283.2 91.7h1.0v1.0h-1.0zM288.5 82.3h1.0v1.0h-1.0zM285.8 84.2h1.0v1.0h-1.0zM278.0 92.8h1.0v1.0h-1.0zM288.3 85.0h1.0v1.0h-1.0zM289.8 88.6h1.0v1.0h-1.0zM285.0 86.2h1.0v1.0h-1.0zM286.3 81.4h1.0v1.0h-1.0zM283.3 82.5h1.0v1.0h-1.0zM284.9 83.8h1.0v1.0h-1.0zM290.1 83.9h1.0v1.0h-1.0zM292.2 85.7h1.0v1.0h-1.0zM286.5 85.6h1.0v1.0h-1.0zM276.1 81.4h1.0v1.0h-1.0zM285.5 83.1h1.0v1.0h-1.0zM279.4 76.2h1.0v1.0h-1.0zM280.9 88.4h1.0v1.0h-1.0zM286.2 76.4h1.0v1.0h-1.0zM288.3 86.6h1.0v1.0h-1.0zM287.8 88.2h1.0v1.0h-1.0zM283.7 82.1h1.0v1.0h-1.0zM277.3 84.2h1.0v1.0h-1.0zM290.3 83.8h1.0v1.0h-1.0zM292.1 81.6h1.0v1.0h-1.0z" fill="#000" fill-opacity="0.42"/>
<path d="M290.8 84.2h1.0v1.0h-1.0zM280.6 81.8h1.0v1.0h-1.0zM286.0 74.1h1.0v1.0h-1.0zM287.8 82.0h1.0v1.0h-1.0zM280.1 90.2h1.0v1.0h-1.0zM277.9 88.4h1.0v1.0h-1.0zM285.2 86.6h1.0v1.0h-1.0zM287.9 89.4h1.0v1.0h-1.0zM284.5 89.4h1.0v1.0h-1.0zM283.4 85.8h1.0v1.0h-1.0zM285.2 82.5h1.0v1.0h-1.0zM286.9 88.4h1.0v1.0h-1.0zM281.4 88.1h1.0v1.0h-1.0zM282.8 84.4h1.0v1.0h-1.0zM290.9 83.7h1.0v1.0h-1.0zM281.6 80.6h1.0v1.0h-1.0zM277.7 82.3h1.0v1.0h-1.0zM285.2 87.4h1.0v1.0h-1.0zM289.9 80.6h1.0v1.0h-1.0zM282.9 89.5h1.0v1.0h-1.0zM284.2 83.4h1.0v1.0h-1.0zM290.0 90.9h1.0v1.0h-1.0zM281.8 85.5h1.0v1.0h-1.0zM277.8 91.9h1.0v1.0h-1.0zM277.0 90.4h1.0v1.0h-1.0zM284.8 92.6h1.0v1.0h-1.0zM287.7 78.8h1.0v1.0h-1.0zM280.6 81.1h1.0v1.0h-1.0zM285.1 76.0h1.0v1.0h-1.0zM278.7 86.3h1.0v1.0h-1.0zM284.8 84.8h1.0v1.0h-1.0zM281.5 87.8h1.0v1.0h-1.0zM286.5 86.8h1.0v1.0h-1.0zM290.3 85.1h1.0v1.0h-1.0zM281.9 84.0h1.0v1.0h-1.0zM278.8 85.3h1.0v1.0h-1.0zM287.6 87.5h1.0v1.0h-1.0zM288.4 78.5h1.0v1.0h-1.0zM287.2 91.7h1.0v1.0h-1.0zM287.8 91.5h1.0v1.0h-1.0zM284.6 76.4h1.0v1.0h-1.0zM286.8 84.9h1.0v1.0h-1.0zM290.4 87.0h1.0v1.0h-1.0zM281.5 80.4h1.0v1.0h-1.0zM292.2 92.4h1.0v1.0h-1.0zM283.2 84.0h1.0v1.0h-1.0zM279.6 79.2h1.0v1.0h-1.0zM278.3 89.6h1.0v1.0h-1.0zM281.6 78.5h1.0v1.0h-1.0zM291.3 80.8h1.0v1.0h-1.0zM286.5 89.2h1.0v1.0h-1.0zM273.6 77.1h1.0v1.0h-1.0zM291.9 85.9h1.0v1.0h-1.0zM280.4 78.1h1.0v1.0h-1.0zM276.8 92.3h1.0v1.0h-1.0zM290.3 75.5h1.0v1.0h-1.0zM287.6 87.0h1.0v1.0h-1.0zM282.7 78.0h1.0v1.0h-1.0zM290.1 85.3h1.0v1.0h-1.0zM288.6 82.9h1.0v1.0h-1.0zM290.3 87.7h1.0v1.0h-1.0zM280.5 80.7h1.0v1.0h-1.0zM274.3 78.0h1.0v1.0h-1.0zM291.4 73.2h1.0v1.0h-1.0zM287.9 90.3h1.0v1.0h-1.0zM291.3 83.6h1.0v1.0h-1.0zM289.2 85.3h1.0v1.0h-1.0zM287.6 80.6h1.0v1.0h-1.0zM283.0 87.9h1.0v1.0h-1.0zM283.3 92.3h1.0v1.0h-1.0zM284.3 81.7h1.0v1.0h-1.0zM291.3 85.2h1.0v1.0h-1.0zM285.6 81.8h1.0v1.0h-1.0zM279.9 87.5h1.0v1.0h-1.0zM292.2 85.4h1.0v1.0h-1.0zM283.0 85.8h1.0v1.0h-1.0zM282.5 87.4h1.0v1.0h-1.0zM278.0 85.9h1.0v1.0h-1.0zM283.6 88.2h1.0v1.0h-1.0zM283.9 80.5h1.0v1.0h-1.0zM284.4 80.8h1.0v1.0h-1.0zM286.0 86.5h1.0v1.0h-1.0zM282.8 88.3h1.0v1.0h-1.0zM282.8 83.9h1.0v1.0h-1.0zM291.4 88.3h1.0v1.0h-1.0zM286.5 84.2h1.0v1.0h-1.0zM278.8 83.0h1.0v1.0h-1.0zM274.0 85.8h1.0v1.0h-1.0zM284.4 88.6h1.0v1.0h-1.0zM290.9 77.3h1.0v1.0h-1.0zM288.7 79.9h1.0v1.0h-1.0zM289.1 83.7h1.0v1.0h-1.0zM281.5 78.0h1.0v1.0h-1.0zM279.2 84.2h1.0v1.0h-1.0zM291.5 86.0h1.0v1.0h-1.0zM284.4 77.5h1.0v1.0h-1.0zM291.7 91.8h1.0v1.0h-1.0zM286.7 88.9h1.0v1.0h-1.0zM272.8 83.0h1.0v1.0h-1.0zM281.3 90.4h1.0v1.0h-1.0zM285.8 77.7h1.0v1.0h-1.0zM284.3 81.2h1.0v1.0h-1.0zM275.6 82.0h1.0v1.0h-1.0zM289.7 87.1h1.0v1.0h-1.0zM278.0 78.3h1.0v1.0h-1.0zM283.4 81.9h1.0v1.0h-1.0zM289.9 89.6h1.0v1.0h-1.0zM288.2 90.0h1.0v1.0h-1.0zM287.3 92.3h1.0v1.0h-1.0zM282.3 91.5h1.0v1.0h-1.0zM283.2 91.7h1.0v1.0h-1.0zM285.3 84.3h1.0v1.0h-1.0zM283.6 89.8h1.0v1.0h-1.0zM281.6 92.2h1.0v1.0h-1.0zM281.3 87.8h1.0v1.0h-1.0zM275.9 81.1h1.0v1.0h-1.0zM290.4 81.2h1.0v1.0h-1.0zM288.9 84.7h1.0v1.0h-1.0zM274.2 88.5h1.0v1.0h-1.0zM286.7 90.4h1.0v1.0h-1.0zM281.9 79.6h1.0v1.0h-1.0zM279.5 86.1h1.0v1.0h-1.0zM286.2 79.4h1.0v1.0h-1.0zM283.6 88.3h1.0v1.0h-1.0zM282.6 80.5h1.0v1.0h-1.0zM282.6 71.7h1.0v1.0h-1.0zM283.0 82.5h1.0v1.0h-1.0zM288.1 82.5h1.0v1.0h-1.0zM281.4 89.0h1.0v1.0h-1.0zM285.4 82.3h1.0v1.0h-1.0zM285.0 85.8h1.0v1.0h-1.0zM286.1 80.0h1.0v1.0h-1.0zM287.3 85.3h1.0v1.0h-1.0zM287.1 88.8h1.0v1.0h-1.0zM282.6 83.3h1.0v1.0h-1.0zM282.4 84.9h1.0v1.0h-1.0zM291.8 90.4h1.0v1.0h-1.0zM279.9 88.2h1.0v1.0h-1.0zM288.6 87.5h1.0v1.0h-1.0zM281.2 81.1h1.0v1.0h-1.0zM282.0 75.6h1.0v1.0h-1.0zM286.1 84.8h1.0v1.0h-1.0zM291.6 80.1h1.0v1.0h-1.0zM289.9 84.0h1.0v1.0h-1.0zM278.4 77.4h1.0v1.0h-1.0zM281.9 84.8h1.0v1.0h-1.0zM283.5 85.6h1.0v1.0h-1.0zM281.7 84.3h1.0v1.0h-1.0zM279.6 81.2h1.0v1.0h-1.0zM282.6 81.3h1.0v1.0h-1.0zM290.4 85.3h1.0v1.0h-1.0zM274.6 84.3h1.0v1.0h-1.0zM286.8 82.2h1.0v1.0h-1.0zM289.2 78.0h1.0v1.0h-1.0zM291.5 80.4h1.0v1.0h-1.0zM284.3 88.7h1.0v1.0h-1.0zM286.6 84.9h1.0v1.0h-1.0zM281.6 85.5h1.0v1.0h-1.0zM282.0 77.8h1.0v1.0h-1.0zM283.9 86.5h1.0v1.0h-1.0zM289.6 90.7h1.0v1.0h-1.0zM280.2 90.7h1.0v1.0h-1.0zM289.3 86.8h1.0v1.0h-1.0zM282.0 92.5h1.0v1.0h-1.0zM276.7 85.7h1.0v1.0h-1.0zM281.0 82.3h1.0v1.0h-1.0zM284.9 82.6h1.0v1.0h-1.0zM282.6 79.6h1.0v1.0h-1.0zM282.2 86.9h1.0v1.0h-1.0zM275.0 79.5h1.0v1.0h-1.0zM278.1 87.1h1.0v1.0h-1.0zM285.9 90.9h1.0v1.0h-1.0zM292.0 84.8h1.0v1.0h-1.0zM289.6 83.1h1.0v1.0h-1.0zM285.2 86.1h1.0v1.0h-1.0zM282.2 91.0h1.0v1.0h-1.0zM283.1 89.4h1.0v1.0h-1.0zM290.5 82.9h1.0v1.0h-1.0zM279.0 88.5h1.0v1.0h-1.0zM292.0 85.0h1.0v1.0h-1.0zM274.4 88.8h1.0v1.0h-1.0zM281.3 81.3h1.0v1.0h-1.0zM274.2 80.1h1.0v1.0h-1.0zM290.3 83.9h1.0v1.0h-1.0zM284.3 91.1h1.0v1.0h-1.0zM279.7 91.9h1.0v1.0h-1.0zM286.8 91.4h1.0v1.0h-1.0zM278.8 83.8h1.0v1.0h-1.0zM284.3 84.2h1.0v1.0h-1.0zM280.9 91.6h1.0v1.0h-1.0zM284.4 91.0h1.0v1.0h-1.0zM285.6 80.8h1.0v1.0h-1.0zM286.0 89.9h1.0v1.0h-1.0zM285.5 79.4h1.0v1.0h-1.0zM281.6 92.3h1.0v1.0h-1.0zM283.0 79.6h1.0v1.0h-1.0zM281.6 79.3h1.0v1.0h-1.0zM283.8 77.8h1.0v1.0h-1.0zM281.5 90.0h1.0v1.0h-1.0zM290.4 84.0h1.0v1.0h-1.0zM283.3 90.6h1.0v1.0h-1.0zM285.7 82.2h1.0v1.0h-1.0zM287.8 88.6h1.0v1.0h-1.0zM291.3 88.3h1.0v1.0h-1.0zM289.6 80.1h1.0v1.0h-1.0zM283.6 83.9h1.0v1.0h-1.0zM283.4 83.0h1.0v1.0h-1.0zM275.6 79.5h1.0v1.0h-1.0zM290.3 80.1h1.0v1.0h-1.0zM287.8 83.9h1.0v1.0h-1.0zM290.6 83.2h1.0v1.0h-1.0zM287.0 89.1h1.0v1.0h-1.0zM285.8 89.5h1.0v1.0h-1.0zM287.4 81.6h1.0v1.0h-1.0zM278.8 79.4h1.0v1.0h-1.0zM290.4 84.2h1.0v1.0h-1.0zM288.5 88.4h1.0v1.0h-1.0zM283.7 84.5h1.0v1.0h-1.0zM291.2 86.1h1.0v1.0h-1.0zM283.7 74.7h1.0v1.0h-1.0zM274.4 90.2h1.0v1.0h-1.0zM277.6 85.0h1.0v1.0h-1.0zM289.3 83.2h1.0v1.0h-1.0zM275.2 82.7h1.0v1.0h-1.0zM288.7 76.8h1.0v1.0h-1.0zM281.8 85.1h1.0v1.0h-1.0zM289.7 84.2h1.0v1.0h-1.0zM283.3 89.4h1.0v1.0h-1.0zM288.0 92.0h1.0v1.0h-1.0zM289.0 91.2h1.0v1.0h-1.0zM284.7 81.9h1.0v1.0h-1.0zM282.7 79.8h1.0v1.0h-1.0zM286.6 88.8h1.0v1.0h-1.0zM274.4 79.4h1.0v1.0h-1.0zM285.0 81.3h1.0v1.0h-1.0zM280.6 84.2h1.0v1.0h-1.0zM284.7 83.9h1.0v1.0h-1.0zM291.2 89.6h1.0v1.0h-1.0zM283.2 79.7h1.0v1.0h-1.0zM284.2 84.9h1.0v1.0h-1.0zM281.6 78.6h1.0v1.0h-1.0zM280.8 89.4h1.0v1.0h-1.0zM281.2 81.6h1.0v1.0h-1.0zM281.5 84.1h1.0v1.0h-1.0zM282.3 81.5h1.0v1.0h-1.0zM285.5 83.4h1.0v1.0h-1.0zM283.5 83.1h1.0v1.0h-1.0zM289.8 85.8h1.0v1.0h-1.0zM289.2 83.9h1.0v1.0h-1.0zM288.1 90.7h1.0v1.0h-1.0zM286.3 90.7h1.0v1.0h-1.0zM288.5 84.8h1.0v1.0h-1.0zM290.4 76.7h1.0v1.0h-1.0zM291.2 76.7h1.0v1.0h-1.0zM282.8 89.8h1.0v1.0h-1.0zM282.2 81.8h1.0v1.0h-1.0zM285.6 85.1h1.0v1.0h-1.0zM283.0 90.4h1.0v1.0h-1.0zM292.0 92.2h1.0v1.0h-1.0zM290.1 81.0h1.0v1.0h-1.0zM272.0 89.6h1.0v1.0h-1.0zM283.8 89.2h1.0v1.0h-1.0zM286.9 79.6h1.0v1.0h-1.0zM284.3 81.4h1.0v1.0h-1.0zM279.4 81.6h1.0v1.0h-1.0zM283.9 81.8h1.0v1.0h-1.0zM285.2 92.1h1.0v1.0h-1.0zM278.1 91.9h1.0v1.0h-1.0zM275.6 82.7h1.0v1.0h-1.0zM291.6 81.3h1.0v1.0h-1.0zM283.5 89.5h1.0v1.0h-1.0zM286.7 85.9h1.0v1.0h-1.0zM281.9 87.4h1.0v1.0h-1.0zM280.1 84.0h1.0v1.0h-1.0zM286.6 83.4h1.0v1.0h-1.0zM281.6 84.9h1.0v1.0h-1.0zM288.4 88.0h1.0v1.0h-1.0zM278.8 82.5h1.0v1.0h-1.0zM286.1 86.3h1.0v1.0h-1.0zM280.0 86.7h1.0v1.0h-1.0zM285.1 91.8h1.0v1.0h-1.0zM280.1 76.6h1.0v1.0h-1.0zM292.0 84.4h1.0v1.0h-1.0zM289.9 83.4h1.0v1.0h-1.0zM286.3 86.0h1.0v1.0h-1.0zM289.0 87.2h1.0v1.0h-1.0zM286.0 83.7h1.0v1.0h-1.0zM288.4 85.1h1.0v1.0h-1.0zM284.0 86.2h1.0v1.0h-1.0z" fill="#000" fill-opacity="0.42"/>
<path d="M363.7 72.3h1.0v1.0h-1.0zM368.2 77.9h1.0v1.0h-1.0zM361.6 60.1h1.0v1.0h-1.0zM368.8 36.0h1.0v1.0h-1.0zM362.5 81.4h1.0v1.0h-1.0zM361.2 88.4h1.0v1.0h-1.0zM359.2 43.0h1.0v1.0h-1.0zM361.4 48.7h1.0v1.0h-1.0zM364.4 50.0h1.0v1.0h-1.0zM357.8 43.0h1.0v1.0h-1.0zM365.6 59.1h1.0v1.0h-1.0zM368.5 49.8h1.0v1.0h-1.0zM365.5 36.3h1.0v1.0h-1.0zM362.1 72.7h1.0v1.0h-1.0zM367.4 39.5h1.0v1.0h-1.0zM367.6 44.5h1.0v1.0h-1.0zM362.5 85.3h1.0v1.0h-1.0zM365.8 42.2h1.0v1.0h-1.0zM356.4 42.0h1.0v1.0h-1.0zM367.5 43.3h1.0v1.0h-1.0zM365.0 83.4h1.0v1.0h-1.0zM364.0 54.4h1.0v1.0h-1.0zM362.9 55.3h1.0v1.0h-1.0zM355.1 70.1h1.0v1.0h-1.0zM362.6 86.1h1.0v1.0h-1.0zM366.9 45.2h1.0v1.0h-1.0zM364.4 32.2h1.0v1.0h-1.0zM364.4 52.8h1.0v1.0h-1.0zM360.8 70.0h1.0v1.0h-1.0zM357.0 83.1h1.0v1.0h-1.0zM366.3 49.4h1.0v1.0h-1.0zM361.8 56.2h1.0v1.0h-1.0zM365.4 81.1h1.0v1.0h-1.0zM367.8 81.8h1.0v1.0h-1.0zM362.3 44.3h1.0v1.0h-1.0zM359.3 70.1h1.0v1.0h-1.0zM368.7 50.1h1.0v1.0h-1.0zM363.3 41.0h1.0v1.0h-1.0zM360.2 44.8h1.0v1.0h-1.0zM365.7 50.6h1.0v1.0h-1.0zM367.9 53.9h1.0v1.0h-1.0zM364.7 38.1h1.0v1.0h-1.0zM356.4 45.3h1.0v1.0h-1.0zM362.7 55.2h1.0v1.0h-1.0zM359.3 54.1h1.0v1.0h-1.0zM368.4 43.2h1.0v1.0h-1.0zM367.2 47.5h1.0v1.0h-1.0zM361.5 49.7h1.0v1.0h-1.0zM352.3 83.5h1.0v1.0h-1.0zM358.1 47.4h1.0v1.0h-1.0zM363.4 34.7h1.0v1.0h-1.0zM368.6 35.4h1.0v1.0h-1.0zM366.0 86.2h1.0v1.0h-1.0zM359.3 79.4h1.0v1.0h-1.0zM361.2 57.9h1.0v1.0h-1.0zM361.1 56.4h1.0v1.0h-1.0zM365.4 41.2h1.0v1.0h-1.0zM360.1 82.6h1.0v1.0h-1.0zM356.2 32.7h1.0v1.0h-1.0zM364.4 83.2h1.0v1.0h-1.0zM365.2 53.2h1.0v1.0h-1.0zM365.3 57.3h1.0v1.0h-1.0zM361.4 51.0h1.0v1.0h-1.0zM354.4 35.4h1.0v1.0h-1.0zM367.1 47.1h1.0v1.0h-1.0zM365.3 53.5h1.0v1.0h-1.0zM360.1 41.2h1.0v1.0h-1.0zM367.5 50.1h1.0v1.0h-1.0zM364.2 44.8h1.0v1.0h-1.0zM369.1 48.4h1.0v1.0h-1.0zM360.9 87.7h1.0v1.0h-1.0zM359.1 69.1h1.0v1.0h-1.0zM367.2 35.0h1.0v1.0h-1.0zM366.8 40.0h1.0v1.0h-1.0zM365.9 32.8h1.0v1.0h-1.0zM365.7 78.4h1.0v1.0h-1.0zM366.8 81.0h1.0v1.0h-1.0zM359.1 85.0h1.0v1.0h-1.0zM366.1 70.2h1.0v1.0h-1.0zM357.0 53.9h1.0v1.0h-1.0zM364.4 51.7h1.0v1.0h-1.0zM359.5 81.3h1.0v1.0h-1.0zM364.7 56.7h1.0v1.0h-1.0zM366.7 77.2h1.0v1.0h-1.0zM364.7 65.6h1.0v1.0h-1.0zM365.2 33.5h1.0v1.0h-1.0zM366.9 49.3h1.0v1.0h-1.0zM364.4 87.8h1.0v1.0h-1.0zM363.7 40.5h1.0v1.0h-1.0zM360.9 41.5h1.0v1.0h-1.0zM362.5 40.2h1.0v1.0h-1.0zM363.6 35.6h1.0v1.0h-1.0zM352.5 49.7h1.0v1.0h-1.0zM356.2 56.9h1.0v1.0h-1.0zM361.9 50.7h1.0v1.0h-1.0zM363.7 81.9h1.0v1.0h-1.0zM357.1 38.3h1.0v1.0h-1.0zM366.9 43.8h1.0v1.0h-1.0zM358.7 83.1h1.0v1.0h-1.0zM367.5 74.8h1.0v1.0h-1.0zM358.7 36.4h1.0v1.0h-1.0zM367.9 84.5h1.0v1.0h-1.0zM357.6 43.6h1.0v1.0h-1.0zM357.1 36.4h1.0v1.0h-1.0zM364.1 37.1h1.0v1.0h-1.0zM363.2 50.2h1.0v1.0h-1.0zM355.2 56.2h1.0v1.0h-1.0zM363.0 43.9h1.0v1.0h-1.0zM366.3 42.3h1.0v1.0h-1.0zM363.6 45.9h1.0v1.0h-1.0zM364.8 46.8h1.0v1.0h-1.0zM357.2 84.5h1.0v1.0h-1.0zM362.0 49.8h1.0v1.0h-1.0zM368.1 71.3h1.0v1.0h-1.0zM360.2 42.0h1.0v1.0h-1.0zM363.2 44.9h1.0v1.0h-1.0zM367.0 51.8h1.0v1.0h-1.0zM365.8 41.1h1.0v1.0h-1.0zM368.4 72.6h1.0v1.0h-1.0zM363.4 75.8h1.0v1.0h-1.0zM360.2 40.5h1.0v1.0h-1.0zM366.2 81.8h1.0v1.0h-1.0zM368.5 81.8h1.0v1.0h-1.0zM361.8 50.1h1.0v1.0h-1.0zM360.5 43.8h1.0v1.0h-1.0zM365.9 55.5h1.0v1.0h-1.0zM367.6 87.4h1.0v1.0h-1.0zM367.7 42.7h1.0v1.0h-1.0zM360.9 74.2h1.0v1.0h-1.0zM362.2 40.4h1.0v1.0h-1.0zM363.8 47.7h1.0v1.0h-1.0zM365.7 70.0h1.0v1.0h-1.0zM355.5 42.7h1.0v1.0h-1.0zM365.3 45.0h1.0v1.0h-1.0zM363.6 78.7h1.0v1.0h-1.0zM362.4 81.9h1.0v1.0h-1.0zM354.8 42.1h1.0v1.0h-1.0zM358.1 82.3h1.0v1.0h-1.0zM365.3 77.5h1.0v1.0h-1.0zM360.2 46.7h1.0v1.0h-1.0zM365.2 51.7h1.0v1.0h-1.0zM368.9 52.8h1.0v1.0h-1.0zM356.4 79.0h1.0v1.0h-1.0zM363.5 50.4h1.0v1.0h-1.0zM360.5 78.4h1.0v1.0h-1.0zM364.3 47.7h1.0v1.0h-1.0zM359.9 39.8h1.0v1.0h-1.0zM366.2 74.0h1.0v1.0h-1.0zM365.0 81.8h1.0v1.0h-1.0zM363.0 43.5h1.0v1.0h-1.0zM363.3 47.0h1.0v1.0h-1.0zM362.7 48.3h1.0v1.0h-1.0zM368.4 77.3h1.0v1.0h-1.0zM357.7 80.7h1.0v1.0h-1.0zM361.3 86.8h1.0v1.0h-1.0zM361.0 79.2h1.0v1.0h-1.0zM361.6 49.7h1.0v1.0h-1.0zM360.9 46.4h1.0v1.0h-1.0zM361.2 44.0h1.0v1.0h-1.0zM365.2 46.3h1.0v1.0h-1.0zM360.7 40.7h1.0v1.0h-1.0zM357.1 48.4h1.0v1.0h-1.0zM362.7 51.5h1.0v1.0h-1.0zM361.1 36.2h1.0v1.0h-1.0zM358.4 75.1h1.0v1.0h-1.0zM362.2 87.0h1.0v1.0h-1.0zM369.1 57.9h1.0v1.0h-1.0zM362.0 78.8h1.0v1.0h-1.0zM367.1 72.9h1.0v1.0h-1.0zM356.0 76.9h1.0v1.0h-1.0zM359.4 32.7h1.0v1.0h-1.0zM363.5 77.6h1.0v1.0h-1.0zM361.0 46.0h1.0v1.0h-1.0zM356.9 40.6h1.0v1.0h-1.0zM363.8 65.3h1.0v1.0h-1.0zM363.1 49.6h1.0v1.0h-1.0zM362.7 44.5h1.0v1.0h-1.0zM368.7 58.1h1.0v1.0h-1.0zM366.8 33.7h1.0v1.0h-1.0zM369.2 86.5h1.0v1.0h-1.0zM368.4 48.7h1.0v1.0h-1.0zM360.5 74.3h1.0v1.0h-1.0zM365.1 41.4h1.0v1.0h-1.0zM365.4 48.0h1.0v1.0h-1.0zM364.1 88.7h1.0v1.0h-1.0zM359.7 49.4h1.0v1.0h-1.0zM357.3 87.4h1.0v1.0h-1.0zM363.5 74.3h1.0v1.0h-1.0zM367.0 83.3h1.0v1.0h-1.0zM365.1 80.6h1.0v1.0h-1.0zM365.9 48.0h1.0v1.0h-1.0zM361.7 61.2h1.0v1.0h-1.0zM366.9 52.7h1.0v1.0h-1.0zM363.8 35.5h1.0v1.0h-1.0zM368.9 80.7h1.0v1.0h-1.0zM367.5 32.2h1.0v1.0h-1.0zM367.2 40.8h1.0v1.0h-1.0zM359.4 79.1h1.0v1.0h-1.0zM369.0 75.3h1.0v1.0h-1.0zM361.7 45.3h1.0v1.0h-1.0zM361.4 54.1h1.0v1.0h-1.0zM361.8 43.7h1.0v1.0h-1.0zM364.4 36.5h1.0v1.0h-1.0zM361.0 82.0h1.0v1.0h-1.0zM365.5 51.0h1.0v1.0h-1.0zM362.7 32.9h1.0v1.0h-1.0zM360.6 45.4h1.0v1.0h-1.0zM358.1 49.0h1.0v1.0h-1.0zM361.9 84.8h1.0v1.0h-1.0zM359.0 44.9h1.0v1.0h-1.0zM362.9 72.4h1.0v1.0h-1.0zM361.4 77.8h1.0v1.0h-1.0zM352.9 76.4h1.0v1.0h-1.0zM363.2 46.4h1.0v1.0h-1.0zM359.6 80.4h1.0v1.0h-1.0zM364.5 80.4h1.0v1.0h-1.0zM362.5 76.6h1.0v1.0h-1.0zM358.7 43.0h1.0v1.0h-1.0zM365.1 53.6h1.0v1.0h-1.0zM361.1 69.0h1.0v1.0h-1.0zM365.9 47.4h1.0v1.0h-1.0zM361.6 55.8h1.0v1.0h-1.0zM365.1 81.7h1.0v1.0h-1.0zM365.6 91.3h1.0v1.0h-1.0zM363.8 52.9h1.0v1.0h-1.0zM358.7 41.0h1.0v1.0h-1.0zM366.8 42.4h1.0v1.0h-1.0zM364.7 75.9h1.0v1.0h-1.0zM366.2 66.6h1.0v1.0h-1.0zM361.6 71.9h1.0v1.0h-1.0zM361.7 32.4h1.0v1.0h-1.0zM368.7 55.4h1.0v1.0h-1.0zM358.8 52.7h1.0v1.0h-1.0zM369.0 39.5h1.0v1.0h-1.0zM358.5 49.9h1.0v1.0h-1.0zM362.0 38.4h1.0v1.0h-1.0zM362.0 33.6h1.0v1.0h-1.0zM361.9 41.7h1.0v1.0h-1.0zM365.3 81.6h1.0v1.0h-1.0zM364.3 40.0h1.0v1.0h-1.0zM362.4 53.1h1.0v1.0h-1.0zM363.7 52.7h1.0v1.0h-1.0zM367.8 51.9h1.0v1.0h-1.0zM359.9 49.3h1.0v1.0h-1.0zM364.7 45.0h1.0v1.0h-1.0zM363.8 44.9h1.0v1.0h-1.0zM361.6 48.9h1.0v1.0h-1.0zM363.5 81.9h1.0v1.0h-1.0zM362.6 51.3h1.0v1.0h-1.0zM365.9 37.1h1.0v1.0h-1.0zM362.2 79.2h1.0v1.0h-1.0zM364.0 71.9h1.0v1.0h-1.0zM356.1 88.6h1.0v1.0h-1.0zM360.6 83.2h1.0v1.0h-1.0zM363.4 45.1h1.0v1.0h-1.0zM361.1 79.3h1.0v1.0h-1.0zM364.2 55.0h1.0v1.0h-1.0zM365.6 47.5h1.0v1.0h-1.0zM360.6 68.7h1.0v1.0h-1.0zM363.8 52.8h1.0v1.0h-1.0zM367.7 66.4h1.0v1.0h-1.0zM367.7 77.4h1.0v1.0h-1.0zM353.7 76.0h1.0v1.0h-1.0zM362.2 79.4h1.0v1.0h-1.0zM368.2 71.9h1.0v1.0h-1.0zM361.7 71.9h1.0v1.0h-1.0zM355.4 56.2h1.0v1.0h-1.0zM363.3 42.2h1.0v1.0h-1.0zM362.9 39.3h1.0v1.0h-1.0zM359.2 53.6h1.0v1.0h-1.0zM368.8 83.8h1.0v1.0h-1.0zM360.0 72.0h1.0v1.0h-1.0zM364.1 33.9h1.0v1.0h-1.0zM359.0 53.0h1.0v1.0h-1.0zM362.7 74.2h1.0v1.0h-1.0zM358.3 82.7h1.0v1.0h-1.0zM360.3 72.6h1.0v1.0h-1.0zM362.4 77.0h1.0v1.0h-1.0zM361.4 70.4h1.0v1.0h-1.0zM364.2 45.6h1.0v1.0h-1.0zM364.2 85.9h1.0v1.0h-1.0zM356.2 79.4h1.0v1.0h-1.0zM361.4 47.8h1.0v1.0h-1.0zM361.9 39.1h1.0v1.0h-1.0zM361.0 83.5h1.0v1.0h-1.0zM362.4 36.5h1.0v1.0h-1.0zM365.1 77.1h1.0v1.0h-1.0zM360.0 46.0h1.0v1.0h-1.0zM364.9 46.9h1.0v1.0h-1.0zM362.5 76.9h1.0v1.0h-1.0zM356.4 45.7h1.0v1.0h-1.0zM368.6 76.2h1.0v1.0h-1.0zM366.7 39.4h1.0v1.0h-1.0zM358.8 79.0h1.0v1.0h-1.0zM367.1 91.9h1.0v1.0h-1.0zM361.7 47.3h1.0v1.0h-1.0zM360.5 81.4h1.0v1.0h-1.0zM363.6 49.4h1.0v1.0h-1.0zM364.2 44.5h1.0v1.0h-1.0zM361.2 40.3h1.0v1.0h-1.0zM366.7 80.3h1.0v1.0h-1.0zM359.1 76.4h1.0v1.0h-1.0zM359.9 78.3h1.0v1.0h-1.0zM360.8 89.0h1.0v1.0h-1.0zM366.0 82.8h1.0v1.0h-1.0zM364.1 77.0h1.0v1.0h-1.0zM359.5 47.3h1.0v1.0h-1.0zM363.1 43.4h1.0v1.0h-1.0zM357.6 76.5h1.0v1.0h-1.0zM359.5 83.4h1.0v1.0h-1.0zM369.0 49.9h1.0v1.0h-1.0zM354.7 46.2h1.0v1.0h-1.0zM363.5 80.1h1.0v1.0h-1.0zM358.5 43.0h1.0v1.0h-1.0zM363.2 52.1h1.0v1.0h-1.0zM361.1 45.7h1.0v1.0h-1.0zM364.8 78.8h1.0v1.0h-1.0zM364.3 80.5h1.0v1.0h-1.0zM368.6 86.4h1.0v1.0h-1.0zM368.9 36.0h1.0v1.0h-1.0zM368.6 76.6h1.0v1.0h-1.0zM360.5 40.9h1.0v1.0h-1.0zM364.8 76.5h1.0v1.0h-1.0zM362.2 46.4h1.0v1.0h-1.0zM363.6 55.6h1.0v1.0h-1.0zM361.5 79.4h1.0v1.0h-1.0zM365.9 79.1h1.0v1.0h-1.0zM362.9 38.3h1.0v1.0h-1.0zM360.3 32.0h1.0v1.0h-1.0zM365.6 75.2h1.0v1.0h-1.0zM353.0 81.4h1.0v1.0h-1.0zM359.9 50.6h1.0v1.0h-1.0zM361.7 53.6h1.0v1.0h-1.0zM366.8 53.7h1.0v1.0h-1.0zM359.1 44.1h1.0v1.0h-1.0z" fill="#000" fill-opacity="0.38"/>
<path d="M359.6 56.2h1.0v1.0h-1.0zM360.8 79.0h1.0v1.0h-1.0zM363.3 37.7h1.0v1.0h-1.0zM364.8 46.8h1.0v1.0h-1.0zM361.6 47.6h1.0v1.0h-1.0zM365.5 58.4h1.0v1.0h-1.0zM365.7 46.5h1.0v1.0h-1.0zM364.1 78.3h1.0v1.0h-1.0zM361.7 55.8h1.0v1.0h-1.0zM361.5 46.3h1.0v1.0h-1.0zM367.9 37.5h1.0v1.0h-1.0zM363.2 73.2h1.0v1.0h-1.0zM364.2 87.3h1.0v1.0h-1.0zM368.1 54.0h1.0v1.0h-1.0zM367.6 41.8h1.0v1.0h-1.0zM361.6 52.2h1.0v1.0h-1.0zM360.8 85.3h1.0v1.0h-1.0zM366.5 80.2h1.0v1.0h-1.0zM360.3 47.1h1.0v1.0h-1.0zM356.2 83.4h1.0v1.0h-1.0zM361.2 68.8h1.0v1.0h-1.0zM367.8 79.4h1.0v1.0h-1.0zM363.4 73.0h1.0v1.0h-1.0zM358.6 52.5h1.0v1.0h-1.0zM363.5 80.4h1.0v1.0h-1.0zM366.2 81.6h1.0v1.0h-1.0zM364.9 73.5h1.0v1.0h-1.0zM364.3 47.3h1.0v1.0h-1.0zM359.5 43.5h1.0v1.0h-1.0zM364.8 82.5h1.0v1.0h-1.0zM362.2 77.9h1.0v1.0h-1.0zM364.2 81.2h1.0v1.0h-1.0zM364.2 32.6h1.0v1.0h-1.0zM364.0 78.0h1.0v1.0h-1.0zM364.1 78.2h1.0v1.0h-1.0zM366.3 37.0h1.0v1.0h-1.0zM366.3 54.2h1.0v1.0h-1.0zM364.6 63.7h1.0v1.0h-1.0zM366.7 33.2h1.0v1.0h-1.0zM363.7 68.2h1.0v1.0h-1.0zM360.2 75.7h1.0v1.0h-1.0zM366.3 86.2h1.0v1.0h-1.0zM366.9 41.1h1.0v1.0h-1.0zM365.8 42.2h1.0v1.0h-1.0zM367.8 73.7h1.0v1.0h-1.0zM364.2 37.1h1.0v1.0h-1.0zM360.0 50.7h1.0v1.0h-1.0zM361.4 44.2h1.0v1.0h-1.0zM361.0 83.9h1.0v1.0h-1.0zM362.1 40.2h1.0v1.0h-1.0zM360.0 53.4h1.0v1.0h-1.0zM360.6 89.1h1.0v1.0h-1.0zM367.9 46.0h1.0v1.0h-1.0zM369.2 47.8h1.0v1.0h-1.0zM364.9 47.0h1.0v1.0h-1.0zM367.7 80.7h1.0v1.0h-1.0zM363.5 86.0h1.0v1.0h-1.0zM364.6 48.7h1.0v1.0h-1.0zM366.0 74.3h1.0v1.0h-1.0zM364.2 41.0h1.0v1.0h-1.0zM365.0 77.8h1.0v1.0h-1.0zM367.3 79.1h1.0v1.0h-1.0zM358.2 73.8h1.0v1.0h-1.0zM358.1 47.3h1.0v1.0h-1.0zM362.8 44.0h1.0v1.0h-1.0zM358.8 87.3h1.0v1.0h-1.0zM362.8 44.2h1.0v1.0h-1.0zM361.6 71.1h1.0v1.0h-1.0zM366.1 87.8h1.0v1.0h-1.0zM361.2 84.6h1.0v1.0h-1.0zM366.1 80.6h1.0v1.0h-1.0zM362.5 45.4h1.0v1.0h-1.0zM360.0 79.5h1.0v1.0h-1.0zM367.3 39.8h1.0v1.0h-1.0zM355.2 55.5h1.0v1.0h-1.0zM364.0 45.1h1.0v1.0h-1.0zM368.6 51.5h1.0v1.0h-1.0zM358.8 37.1h1.0v1.0h-1.0zM365.4 42.6h1.0v1.0h-1.0zM365.2 54.3h1.0v1.0h-1.0zM360.4 44.6h1.0v1.0h-1.0zM366.4 43.6h1.0v1.0h-1.0zM362.7 41.2h1.0v1.0h-1.0zM365.4 76.0h1.0v1.0h-1.0zM364.9 75.6h1.0v1.0h-1.0zM356.9 46.0h1.0v1.0h-1.0zM369.0 52.5h1.0v1.0h-1.0zM367.8 35.3h1.0v1.0h-1.0zM366.3 39.8h1.0v1.0h-1.0zM356.6 77.5h1.0v1.0h-1.0zM363.0 35.4h1.0v1.0h-1.0zM357.2 41.7h1.0v1.0h-1.0zM365.2 76.7h1.0v1.0h-1.0zM357.5 51.3h1.0v1.0h-1.0zM367.5 64.1h1.0v1.0h-1.0zM363.2 39.5h1.0v1.0h-1.0zM360.4 77.1h1.0v1.0h-1.0zM362.0 79.6h1.0v1.0h-1.0zM363.5 47.7h1.0v1.0h-1.0zM364.8 67.0h1.0v1.0h-1.0zM358.5 42.5h1.0v1.0h-1.0zM368.5 66.9h1.0v1.0h-1.0zM363.2 76.2h1.0v1.0h-1.0zM367.6 78.8h1.0v1.0h-1.0zM363.4 36.9h1.0v1.0h-1.0zM363.4 47.9h1.0v1.0h-1.0zM360.4 48.4h1.0v1.0h-1.0zM364.5 52.3h1.0v1.0h-1.0zM353.8 83.2h1.0v1.0h-1.0zM360.7 42.7h1.0v1.0h-1.0zM359.1 54.4h1.0v1.0h-1.0zM364.6 45.9h1.0v1.0h-1.0zM363.5 43.4h1.0v1.0h-1.0zM360.0 75.9h1.0v1.0h-1.0zM359.9 40.1h1.0v1.0h-1.0zM367.5 81.0h1.0v1.0h-1.0zM360.0 37.6h1.0v1.0h-1.0zM359.8 85.7h1.0v1.0h-1.0zM364.7 41.9h1.0v1.0h-1.0zM367.3 34.2h1.0v1.0h-1.0zM362.1 74.6h1.0v1.0h-1.0zM358.0 50.1h1.0v1.0h-1.0zM359.8 42.8h1.0v1.0h-1.0zM363.4 78.7h1.0v1.0h-1.0zM362.6 41.0h1.0v1.0h-1.0zM363.9 41.3h1.0v1.0h-1.0zM361.2 52.5h1.0v1.0h-1.0zM362.1 87.8h1.0v1.0h-1.0zM368.3 53.5h1.0v1.0h-1.0zM366.9 35.7h1.0v1.0h-1.0zM363.9 41.0h1.0v1.0h-1.0zM355.3 71.9h1.0v1.0h-1.0zM368.1 46.5h1.0v1.0h-1.0zM359.8 89.2h1.0v1.0h-1.0zM362.5 72.7h1.0v1.0h-1.0zM361.3 74.5h1.0v1.0h-1.0zM365.2 54.9h1.0v1.0h-1.0zM362.8 69.0h1.0v1.0h-1.0zM365.0 85.5h1.0v1.0h-1.0zM360.6 84.7h1.0v1.0h-1.0zM358.0 39.8h1.0v1.0h-1.0zM362.9 79.7h1.0v1.0h-1.0zM367.0 83.5h1.0v1.0h-1.0zM358.9 82.1h1.0v1.0h-1.0zM360.8 37.8h1.0v1.0h-1.0zM362.0 67.4h1.0v1.0h-1.0zM366.7 41.9h1.0v1.0h-1.0zM360.5 78.7h1.0v1.0h-1.0zM365.9 48.5h1.0v1.0h-1.0zM365.9 80.5h1.0v1.0h-1.0zM366.5 70.3h1.0v1.0h-1.0zM361.4 45.5h1.0v1.0h-1.0zM364.0 74.4h1.0v1.0h-1.0zM358.5 51.0h1.0v1.0h-1.0zM358.4 52.9h1.0v1.0h-1.0zM355.3 75.9h1.0v1.0h-1.0zM369.0 38.1h1.0v1.0h-1.0zM358.2 40.8h1.0v1.0h-1.0zM368.0 60.0h1.0v1.0h-1.0zM364.4 41.1h1.0v1.0h-1.0zM363.3 90.0h1.0v1.0h-1.0zM365.2 73.4h1.0v1.0h-1.0zM367.2 71.2h1.0v1.0h-1.0zM359.4 86.2h1.0v1.0h-1.0zM360.3 35.9h1.0v1.0h-1.0zM361.4 48.2h1.0v1.0h-1.0zM365.3 45.1h1.0v1.0h-1.0zM357.2 46.4h1.0v1.0h-1.0zM357.7 54.0h1.0v1.0h-1.0zM360.8 42.1h1.0v1.0h-1.0zM362.6 75.3h1.0v1.0h-1.0zM364.5 47.2h1.0v1.0h-1.0zM362.3 68.2h1.0v1.0h-1.0zM368.3 47.3h1.0v1.0h-1.0zM368.3 83.9h1.0v1.0h-1.0zM355.4 45.2h1.0v1.0h-1.0zM367.7 50.3h1.0v1.0h-1.0zM362.6 80.1h1.0v1.0h-1.0zM366.9 45.1h1.0v1.0h-1.0zM367.2 66.9h1.0v1.0h-1.0zM363.2 38.1h1.0v1.0h-1.0zM364.6 37.0h1.0v1.0h-1.0zM366.3 49.9h1.0v1.0h-1.0zM367.6 69.6h1.0v1.0h-1.0zM363.4 38.9h1.0v1.0h-1.0zM364.2 44.4h1.0v1.0h-1.0zM363.3 79.3h1.0v1.0h-1.0zM362.9 48.9h1.0v1.0h-1.0zM357.5 78.4h1.0v1.0h-1.0zM364.1 45.9h1.0v1.0h-1.0zM363.1 50.4h1.0v1.0h-1.0zM363.0 48.3h1.0v1.0h-1.0zM368.4 47.8h1.0v1.0h-1.0zM367.2 89.3h1.0v1.0h-1.0zM359.6 80.4h1.0v1.0h-1.0zM357.9 70.0h1.0v1.0h-1.0zM357.8 70.7h1.0v1.0h-1.0zM361.1 47.1h1.0v1.0h-1.0zM363.5 43.0h1.0v1.0h-1.0zM365.9 56.3h1.0v1.0h-1.0zM362.2 79.0h1.0v1.0h-1.0zM356.0 60.1h1.0v1.0h-1.0zM366.1 53.5h1.0v1.0h-1.0zM360.8 42.8h1.0v1.0h-1.0zM360.1 74.5h1.0v1.0h-1.0zM363.5 71.5h1.0v1.0h-1.0zM363.5 80.6h1.0v1.0h-1.0zM359.6 53.1h1.0v1.0h-1.0zM368.4 52.1h1.0v1.0h-1.0zM368.3 43.9h1.0v1.0h-1.0zM369.2 50.6h1.0v1.0h-1.0zM362.1 76.6h1.0v1.0h-1.0zM361.8 45.1h1.0v1.0h-1.0zM363.0 82.2h1.0v1.0h-1.0zM361.9 45.7h1.0v1.0h-1.0zM366.4 80.2h1.0v1.0h-1.0zM357.1 82.0h1.0v1.0h-1.0zM360.6 45.5h1.0v1.0h-1.0zM362.0 60.5h1.0v1.0h-1.0zM366.1 44.7h1.0v1.0h-1.0zM365.0 32.7h1.0v1.0h-1.0zM356.0 44.2h1.0v1.0h-1.0zM369.0 51.2h1.0v1.0h-1.0zM362.3 56.2h1.0v1.0h-1.0zM356.0 46.9h1.0v1.0h-1.0zM363.9 36.0h1.0v1.0h-1.0zM364.9 77.4h1.0v1.0h-1.0zM366.3 53.8h1.0v1.0h-1.0zM367.6 55.8h1.0v1.0h-1.0zM367.8 83.9h1.0v1.0h-1.0zM363.1 63.1h1.0v1.0h-1.0zM358.7 48.2h1.0v1.0h-1.0zM367.4 47.4h1.0v1.0h-1.0zM368.2 54.0h1.0v1.0h-1.0zM364.9 78.8h1.0v1.0h-1.0zM358.2 53.8h1.0v1.0h-1.0zM361.7 78.4h1.0v1.0h-1.0zM364.2 60.9h1.0v1.0h-1.0zM364.1 77.6h1.0v1.0h-1.0zM362.0 76.4h1.0v1.0h-1.0zM363.4 80.1h1.0v1.0h-1.0zM363.5 82.7h1.0v1.0h-1.0zM358.8 85.1h1.0v1.0h-1.0zM363.9 75.6h1.0v1.0h-1.0zM361.9 61.3h1.0v1.0h-1.0zM368.2 62.8h1.0v1.0h-1.0zM365.8 75.9h1.0v1.0h-1.0zM358.0 85.9h1.0v1.0h-1.0zM360.7 79.1h1.0v1.0h-1.0zM366.2 67.6h1.0v1.0h-1.0zM362.6 56.6h1.0v1.0h-1.0zM360.5 43.3h1.0v1.0h-1.0zM368.7 67.6h1.0v1.0h-1.0zM366.6 53.0h1.0v1.0h-1.0zM365.6 39.1h1.0v1.0h-1.0zM368.4 61.1h1.0v1.0h-1.0zM354.6 77.9h1.0v1.0h-1.0zM365.9 82.3h1.0v1.0h-1.0zM363.6 54.0h1.0v1.0h-1.0zM366.7 72.3h1.0v1.0h-1.0zM361.5 78.8h1.0v1.0h-1.0zM361.2 45.0h1.0v1.0h-1.0zM363.7 73.1h1.0v1.0h-1.0zM365.2 41.2h1.0v1.0h-1.0zM362.5 41.6h1.0v1.0h-1.0zM367.3 51.9h1.0v1.0h-1.0zM367.6 81.6h1.0v1.0h-1.0zM364.6 54.9h1.0v1.0h-1.0zM365.6 85.7h1.0v1.0h-1.0zM364.5 39.1h1.0v1.0h-1.0zM368.1 84.5h1.0v1.0h-1.0zM367.7 82.1h1.0v1.0h-1.0zM362.1 76.3h1.0v1.0h-1.0zM368.9 41.9h1.0v1.0h-1.0zM368.9 69.1h1.0v1.0h-1.0zM364.9 89.7h1.0v1.0h-1.0zM367.1 35.5h1.0v1.0h-1.0zM361.5 74.1h1.0v1.0h-1.0zM364.2 46.0h1.0v1.0h-1.0zM360.1 59.5h1.0v1.0h-1.0zM361.7 74.2h1.0v1.0h-1.0zM363.7 42.4h1.0v1.0h-1.0zM362.8 85.9h1.0v1.0h-1.0zM367.5 79.3h1.0v1.0h-1.0zM360.0 43.6h1.0v1.0h-1.0zM357.5 44.4h1.0v1.0h-1.0zM363.7 76.8h1.0v1.0h-1.0zM362.9 45.5h1.0v1.0h-1.0zM366.9 69.3h1.0v1.0h-1.0zM362.1 47.6h1.0v1.0h-1.0zM361.2 50.4h1.0v1.0h-1.0zM362.3 41.7h1.0v1.0h-1.0zM358.0 42.9h1.0v1.0h-1.0zM356.5 72.6h1.0v1.0h-1.0zM360.7 74.4h1.0v1.0h-1.0zM361.8 47.5h1.0v1.0h-1.0zM361.8 71.4h1.0v1.0h-1.0zM364.9 37.5h1.0v1.0h-1.0zM358.9 57.4h1.0v1.0h-1.0zM366.6 55.8h1.0v1.0h-1.0zM364.1 78.0h1.0v1.0h-1.0zM361.7 74.6h1.0v1.0h-1.0zM358.7 76.7h1.0v1.0h-1.0zM368.2 52.7h1.0v1.0h-1.0zM363.2 41.5h1.0v1.0h-1.0zM361.7 38.1h1.0v1.0h-1.0zM367.2 32.0h1.0v1.0h-1.0zM362.3 79.6h1.0v1.0h-1.0zM357.3 39.5h1.0v1.0h-1.0zM364.0 45.0h1.0v1.0h-1.0zM358.8 90.1h1.0v1.0h-1.0zM365.4 52.4h1.0v1.0h-1.0zM365.4 56.8h1.0v1.0h-1.0zM361.8 57.0h1.0v1.0h-1.0zM367.7 54.0h1.0v1.0h-1.0zM363.9 50.3h1.0v1.0h-1.0zM362.1 73.4h1.0v1.0h-1.0zM365.6 38.2h1.0v1.0h-1.0zM361.3 56.1h1.0v1.0h-1.0zM360.4 32.1h1.0v1.0h-1.0zM368.3 78.2h1.0v1.0h-1.0zM362.8 78.5h1.0v1.0h-1.0zM368.5 42.8h1.0v1.0h-1.0zM362.3 78.6h1.0v1.0h-1.0zM364.6 68.0h1.0v1.0h-1.0zM364.7 40.4h1.0v1.0h-1.0zM361.0 84.2h1.0v1.0h-1.0zM363.2 47.5h1.0v1.0h-1.0zM362.9 47.5h1.0v1.0h-1.0zM363.5 48.4h1.0v1.0h-1.0zM362.9 74.5h1.0v1.0h-1.0zM362.6 57.4h1.0v1.0h-1.0zM358.3 77.7h1.0v1.0h-1.0zM366.7 77.2h1.0v1.0h-1.0zM363.6 81.2h1.0v1.0h-1.0z" fill="#000" fill-opacity="0.38"/>
<path d="M357.5 72.0h1.0v1.0h-1.0zM364.0 82.5h1.0v1.0h-1.0zM360.1 33.2h1.0v1.0h-1.0zM366.2 49.1h1.0v1.0h-1.0zM364.3 81.3h1.0v1.0h-1.0zM359.2 38.9h1.0v1.0h-1.0zM358.4 75.0h1.0v1.0h-1.0zM358.9 83.9h1.0v1.0h-1.0zM364.9 39.0h1.0v1.0h-1.0zM359.3 60.6h1.0v1.0h-1.0zM365.5 43.9h1.0v1.0h-1.0zM359.6 52.6h1.0v1.0h-1.0zM363.2 47.3h1.0v1.0h-1.0zM359.8 40.4h1.0v1.0h-1.0zM359.4 32.6h1.0v1.0h-1.0zM362.0 74.7h1.0v1.0h-1.0zM365.2 52.3h1.0v1.0h-1.0zM360.4 88.9h1.0v1.0h-1.0zM362.8 76.1h1.0v1.0h-1.0zM361.8 86.1h1.0v1.0h-1.0zM359.6 40.2h1.0v1.0h-1.0zM368.3 34.9h1.0v1.0h-1.0zM366.1 75.4h1.0v1.0h-1.0zM360.7 49.1h1.0v1.0h-1.0zM367.3 39.4h1.0v1.0h-1.0zM366.2 84.1h1.0v1.0h-1.0zM356.5 51.4h1.0v1.0h-1.0zM358.1 51.7h1.0v1.0h-1.0zM368.0 81.8h1.0v1.0h-1.0zM367.6 79.2h1.0v1.0h-1.0zM365.6 46.4h1.0v1.0h-1.0zM363.2 37.2h1.0v1.0h-1.0zM360.7 50.4h1.0v1.0h-1.0zM365.8 72.5h1.0v1.0h-1.0zM365.2 40.9h1.0v1.0h-1.0zM362.5 76.3h1.0v1.0h-1.0zM367.9 55.2h1.0v1.0h-1.0zM362.6 76.8h1.0v1.0h-1.0zM366.6 46.2h1.0v1.0h-1.0zM360.5 74.4h1.0v1.0h-1.0zM363.9 75.7h1.0v1.0h-1.0zM362.9 46.2h1.0v1.0h-1.0zM358.8 35.3h1.0v1.0h-1.0zM367.3 50.2h1.0v1.0h-1.0zM363.0 51.5h1.0v1.0h-1.0zM368.2 45.9h1.0v1.0h-1.0zM366.6 65.8h1.0v1.0h-1.0zM357.8 83.1h1.0v1.0h-1.0zM360.5 77.9h1.0v1.0h-1.0zM364.0 83.0h1.0v1.0h-1.0zM368.3 54.7h1.0v1.0h-1.0zM357.2 50.0h1.0v1.0h-1.0zM364.9 33.5h1.0v1.0h-1.0zM360.3 44.0h1.0v1.0h-1.0zM358.5 37.8h1.0v1.0h-1.0zM364.4 50.1h1.0v1.0h-1.0zM360.3 72.8h1.0v1.0h-1.0zM356.9 50.7h1.0v1.0h-1.0zM366.7 81.6h1.0v1.0h-1.0zM363.2 83.1h1.0v1.0h-1.0zM356.1 76.5h1.0v1.0h-1.0zM364.9 66.3h1.0v1.0h-1.0zM358.3 53.2h1.0v1.0h-1.0zM368.1 79.1h1.0v1.0h-1.0zM362.5 67.9h1.0v1.0h-1.0zM366.6 70.6h1.0v1.0h-1.0zM362.6 39.6h1.0v1.0h-1.0zM360.8 74.6h1.0v1.0h-1.0zM361.7 85.3h1.0v1.0h-1.0zM365.2 57.6h1.0v1.0h-1.0zM361.2 48.1h1.0v1.0h-1.0zM363.4 49.4h1.0v1.0h-1.0zM364.7 42.8h1.0v1.0h-1.0zM364.6 67.9h1.0v1.0h-1.0zM362.3 79.4h1.0v1.0h-1.0zM355.1 57.5h1.0v1.0h-1.0zM358.2 46.2h1.0v1.0h-1.0zM361.2 77.2h1.0v1.0h-1.0zM364.0 54.6h1.0v1.0h-1.0zM364.5 84.7h1.0v1.0h-1.0zM357.6 46.9h1.0v1.0h-1.0zM360.6 79.8h1.0v1.0h-1.0zM362.0 83.7h1.0v1.0h-1.0zM361.4 77.0h1.0v1.0h-1.0zM364.8 41.7h1.0v1.0h-1.0zM360.4 67.3h1.0v1.0h-1.0zM362.7 55.9h1.0v1.0h-1.0zM367.2 89.8h1.0v1.0h-1.0zM365.2 40.3h1.0v1.0h-1.0zM366.8 81.8h1.0v1.0h-1.0zM367.0 57.4h1.0v1.0h-1.0zM365.6 75.6h1.0v1.0h-1.0zM362.3 87.9h1.0v1.0h-1.0zM361.1 56.7h1.0v1.0h-1.0zM363.7 54.7h1.0v1.0h-1.0zM366.8 50.1h1.0v1.0h-1.0zM362.3 84.9h1.0v1.0h-1.0zM358.1 65.2h1.0v1.0h-1.0zM367.5 48.9h1.0v1.0h-1.0zM368.8 42.1h1.0v1.0h-1.0zM357.3 47.8h1.0v1.0h-1.0zM356.9 39.6h1.0v1.0h-1.0zM363.1 85.5h1.0v1.0h-1.0zM364.9 79.6h1.0v1.0h-1.0zM359.8 69.9h1.0v1.0h-1.0zM362.2 33.2h1.0v1.0h-1.0zM358.2 41.6h1.0v1.0h-1.0zM357.0 49.9h1.0v1.0h-1.0zM365.9 84.9h1.0v1.0h-1.0zM362.3 43.6h1.0v1.0h-1.0zM366.5 37.4h1.0v1.0h-1.0zM358.2 42.7h1.0v1.0h-1.0zM365.4 47.5h1.0v1.0h-1.0zM362.9 44.7h1.0v1.0h-1.0zM366.0 68.9h1.0v1.0h-1.0zM368.9 75.3h1.0v1.0h-1.0zM365.2 63.8h1.0v1.0h-1.0zM361.9 53.5h1.0v1.0h-1.0zM358.1 80.7h1.0v1.0h-1.0zM364.9 78.7h1.0v1.0h-1.0zM365.0 75.5h1.0v1.0h-1.0zM360.3 42.2h1.0v1.0h-1.0zM362.2 52.6h1.0v1.0h-1.0zM363.5 51.1h1.0v1.0h-1.0zM361.5 72.4h1.0v1.0h-1.0zM362.9 77.8h1.0v1.0h-1.0zM360.8 43.4h1.0v1.0h-1.0zM361.5 59.1h1.0v1.0h-1.0zM366.8 74.3h1.0v1.0h-1.0zM361.4 79.8h1.0v1.0h-1.0zM357.7 76.9h1.0v1.0h-1.0zM365.8 45.4h1.0v1.0h-1.0zM360.8 75.1h1.0v1.0h-1.0zM359.0 76.7h1.0v1.0h-1.0zM366.7 84.7h1.0v1.0h-1.0zM365.6 39.9h1.0v1.0h-1.0zM359.2 82.1h1.0v1.0h-1.0zM361.8 46.0h1.0v1.0h-1.0zM367.8 36.9h1.0v1.0h-1.0zM364.8 86.7h1.0v1.0h-1.0zM364.2 38.6h1.0v1.0h-1.0zM364.9 72.9h1.0v1.0h-1.0zM359.3 77.2h1.0v1.0h-1.0zM360.3 43.3h1.0v1.0h-1.0zM361.0 76.1h1.0v1.0h-1.0zM362.4 79.0h1.0v1.0h-1.0zM365.1 38.2h1.0v1.0h-1.0zM362.2 82.3h1.0v1.0h-1.0zM357.6 43.8h1.0v1.0h-1.0zM363.8 78.0h1.0v1.0h-1.0zM361.0 50.1h1.0v1.0h-1.0zM368.9 59.9h1.0v1.0h-1.0zM362.6 79.8h1.0v1.0h-1.0zM364.2 85.5h1.0v1.0h-1.0zM365.5 85.8h1.0v1.0h-1.0zM367.3 78.9h1.0v1.0h-1.0zM363.7 35.1h1.0v1.0h-1.0zM364.2 78.2h1.0v1.0h-1.0zM360.0 81.5h1.0v1.0h-1.0zM365.3 63.7h1.0v1.0h-1.0zM362.2 80.9h1.0v1.0h-1.0zM365.2 80.5h1.0v1.0h-1.0zM365.8 75.5h1.0v1.0h-1.0zM366.8 44.0h1.0v1.0h-1.0zM364.1 82.3h1.0v1.0h-1.0zM360.6 51.2h1.0v1.0h-1.0zM361.7 35.9h1.0v1.0h-1.0zM364.8 85.7h1.0v1.0h-1.0zM361.0 77.4h1.0v1.0h-1.0zM368.0 66.2h1.0v1.0h-1.0zM359.9 49.7h1.0v1.0h-1.0zM361.0 32.2h1.0v1.0h-1.0zM363.3 43.8h1.0v1.0h-1.0zM358.1 60.1h1.0v1.0h-1.0zM363.1 49.7h1.0v1.0h-1.0zM358.7 54.6h1.0v1.0h-1.0zM365.6 85.9h1.0v1.0h-1.0zM361.0 52.1h1.0v1.0h-1.0zM363.5 79.6h1.0v1.0h-1.0zM365.5 77.7h1.0v1.0h-1.0zM357.8 49.9h1.0v1.0h-1.0zM360.8 56.2h1.0v1.0h-1.0zM356.8 75.8h1.0v1.0h-1.0zM359.1 82.2h1.0v1.0h-1.0zM365.0 47.5h1.0v1.0h-1.0zM361.7 47.6h1.0v1.0h-1.0zM361.1 38.9h1.0v1.0h-1.0zM364.7 48.5h1.0v1.0h-1.0zM360.4 57.6h1.0v1.0h-1.0zM359.9 51.9h1.0v1.0h-1.0zM362.1 46.9h1.0v1.0h-1.0zM359.7 35.9h1.0v1.0h-1.0zM360.5 40.6h1.0v1.0h-1.0zM359.7 38.5h1.0v1.0h-1.0zM366.1 77.5h1.0v1.0h-1.0zM361.9 43.5h1.0v1.0h-1.0zM366.2 72.6h1.0v1.0h-1.0zM360.7 85.2h1.0v1.0h-1.0zM367.7 58.1h1.0v1.0h-1.0zM362.8 38.1h1.0v1.0h-1.0zM361.5 49.4h1.0v1.0h-1.0zM363.3 75.4h1.0v1.0h-1.0zM357.8 86.5h1.0v1.0h-1.0zM362.5 40.7h1.0v1.0h-1.0zM364.8 49.9h1.0v1.0h-1.0zM361.2 78.8h1.0v1.0h-1.0zM367.0 54.5h1.0v1.0h-1.0zM365.9 92.1h1.0v1.0h-1.0zM367.6 41.9h1.0v1.0h-1.0zM368.5 46.7h1.0v1.0h-1.0zM366.8 54.0h1.0v1.0h-1.0zM358.7 37.0h1.0v1.0h-1.0zM368.6 55.4h1.0v1.0h-1.0zM364.1 81.3h1.0v1.0h-1.0zM360.1 79.5h1.0v1.0h-1.0zM359.2 47.3h1.0v1.0h-1.0zM360.8 46.4h1.0v1.0h-1.0zM364.8 53.4h1.0v1.0h-1.0zM369.1 36.6h1.0v1.0h-1.0zM364.4 43.5h1.0v1.0h-1.0zM361.8 47.9h1.0v1.0h-1.0zM364.3 72.7h1.0v1.0h-1.0zM363.5 69.8h1.0v1.0h-1.0zM363.7 45.3h1.0v1.0h-1.0zM366.8 61.0h1.0v1.0h-1.0zM356.4 39.3h1.0v1.0h-1.0zM361.9 45.2h1.0v1.0h-1.0zM364.4 42.7h1.0v1.0h-1.0zM364.0 43.8h1.0v1.0h-1.0zM364.8 49.7h1.0v1.0h-1.0zM369.1 64.3h1.0v1.0h-1.0zM364.2 42.1h1.0v1.0h-1.0zM358.5 63.8h1.0v1.0h-1.0zM361.8 56.7h1.0v1.0h-1.0zM366.7 81.9h1.0v1.0h-1.0zM368.4 40.7h1.0v1.0h-1.0zM362.5 73.2h1.0v1.0h-1.0zM367.0 44.5h1.0v1.0h-1.0zM362.8 71.0h1.0v1.0h-1.0zM365.2 45.1h1.0v1.0h-1.0zM362.3 34.1h1.0v1.0h-1.0zM355.7 64.1h1.0v1.0h-1.0zM365.9 38.1h1.0v1.0h-1.0zM367.3 46.8h1.0v1.0h-1.0zM361.5 75.0h1.0v1.0h-1.0zM360.6 79.3h1.0v1.0h-1.0zM364.5 50.0h1.0v1.0h-1.0zM363.1 46.3h1.0v1.0h-1.0zM358.7 58.8h1.0v1.0h-1.0zM363.0 61.9h1.0v1.0h-1.0zM364.3 53.4h1.0v1.0h-1.0zM367.2 39.4h1.0v1.0h-1.0zM367.4 46.6h1.0v1.0h-1.0zM366.9 35.2h1.0v1.0h-1.0zM365.5 82.2h1.0v1.0h-1.0zM358.4 85.2h1.0v1.0h-1.0zM364.2 73.5h1.0v1.0h-1.0zM368.7 58.1h1.0v1.0h-1.0zM363.1 35.3h1.0v1.0h-1.0zM359.4 76.4h1.0v1.0h-1.0zM363.0 44.8h1.0v1.0h-1.0zM361.7 73.2h1.0v1.0h-1.0zM361.0 87.2h1.0v1.0h-1.0zM365.8 74.3h1.0v1.0h-1.0zM362.9 71.7h1.0v1.0h-1.0zM358.2 56.6h1.0v1.0h-1.0zM350.7 73.7h1.0v1.0h-1.0zM367.0 53.5h1.0v1.0h-1.0zM364.9 55.7h1.0v1.0h-1.0zM360.7 78.5h1.0v1.0h-1.0zM354.7 39.5h1.0v1.0h-1.0zM367.5 85.3h1.0v1.0h-1.0zM361.2 41.9h1.0v1.0h-1.0zM365.3 80.7h1.0v1.0h-1.0zM363.7 37.1h1.0v1.0h-1.0zM365.4 56.2h1.0v1.0h-1.0zM367.7 81.5h1.0v1.0h-1.0zM359.5 52.2h1.0v1.0h-1.0zM359.3 49.1h1.0v1.0h-1.0zM364.5 87.9h1.0v1.0h-1.0zM363.8 76.1h1.0v1.0h-1.0zM365.8 42.2h1.0v1.0h-1.0zM364.2 56.0h1.0v1.0h-1.0zM363.4 81.4h1.0v1.0h-1.0zM364.7 39.5h1.0v1.0h-1.0zM363.7 34.7h1.0v1.0h-1.0zM362.4 57.1h1.0v1.0h-1.0zM367.2 42.0h1.0v1.0h-1.0zM360.4 43.8h1.0v1.0h-1.0zM367.7 44.2h1.0v1.0h-1.0zM368.2 85.6h1.0v1.0h-1.0zM367.5 80.2h1.0v1.0h-1.0zM365.3 78.0h1.0v1.0h-1.0zM362.7 84.1h1.0v1.0h-1.0zM363.1 78.6h1.0v1.0h-1.0zM368.5 35.5h1.0v1.0h-1.0zM365.8 56.3h1.0v1.0h-1.0zM363.4 38.8h1.0v1.0h-1.0zM363.6 52.0h1.0v1.0h-1.0zM365.0 41.5h1.0v1.0h-1.0zM356.0 76.7h1.0v1.0h-1.0zM362.3 80.6h1.0v1.0h-1.0zM364.1 73.7h1.0v1.0h-1.0zM367.3 76.3h1.0v1.0h-1.0zM359.6 42.5h1.0v1.0h-1.0zM361.4 89.2h1.0v1.0h-1.0zM360.3 45.4h1.0v1.0h-1.0zM359.4 71.7h1.0v1.0h-1.0zM362.0 53.4h1.0v1.0h-1.0zM359.0 49.3h1.0v1.0h-1.0zM364.0 41.0h1.0v1.0h-1.0zM354.5 66.3h1.0v1.0h-1.0zM363.4 82.3h1.0v1.0h-1.0zM364.0 56.7h1.0v1.0h-1.0zM363.3 41.8h1.0v1.0h-1.0zM362.2 34.1h1.0v1.0h-1.0zM363.4 85.5h1.0v1.0h-1.0zM355.3 83.2h1.0v1.0h-1.0zM365.5 40.2h1.0v1.0h-1.0zM366.6 51.9h1.0v1.0h-1.0zM366.8 36.0h1.0v1.0h-1.0zM365.8 38.6h1.0v1.0h-1.0zM367.6 76.5h1.0v1.0h-1.0zM359.4 60.5h1.0v1.0h-1.0zM364.3 40.7h1.0v1.0h-1.0zM361.0 66.5h1.0v1.0h-1.0zM358.0 50.0h1.0v1.0h-1.0zM362.8 40.3h1.0v1.0h-1.0zM366.2 76.6h1.0v1.0h-1.0zM365.6 32.6h1.0v1.0h-1.0zM359.8 53.0h1.0v1.0h-1.0zM362.9 47.4h1.0v1.0h-1.0zM361.9 86.2h1.0v1.0h-1.0zM365.2 82.7h1.0v1.0h-1.0zM359.0 85.4h1.0v1.0h-1.0z" fill="#000" fill-opacity="0.38"/>
<path d="M363.8 84.0h1.0v1.0h-1.0zM363.7 74.0h1.0v1.0h-1.0zM368.3 54.6h1.0v1.0h-1.0zM360.9 50.2h1.0v1.0h-1.0zM368.4 43.7h1.0v1.0h-1.0zM359.5 52.9h1.0v1.0h-1.0zM359.7 77.6h1.0v1.0h-1.0zM361.0 42.7h1.0v1.0h-1.0zM358.7 91.1h1.0v1.0h-1.0zM365.4 79.9h1.0v1.0h-1.0zM365.2 49.0h1.0v1.0h-1.0zM358.6 74.7h1.0v1.0h-1.0zM365.8 85.6h1.0v1.0h-1.0zM366.1 79.2h1.0v1.0h-1.0zM355.4 53.5h1.0v1.0h-1.0zM362.6 40.4h1.0v1.0h-1.0zM362.3 55.9h1.0v1.0h-1.0zM365.5 46.3h1.0v1.0h-1.0zM355.5 48.2h1.0v1.0h-1.0zM366.6 32.8h1.0v1.0h-1.0zM361.1 81.3h1.0v1.0h-1.0zM365.4 52.8h1.0v1.0h-1.0zM360.0 76.8h1.0v1.0h-1.0zM363.5 51.5h1.0v1.0h-1.0zM365.2 38.2h1.0v1.0h-1.0zM366.0 73.4h1.0v1.0h-1.0zM357.4 50.3h1.0v1.0h-1.0zM367.8 91.7h1.0v1.0h-1.0zM365.3 76.4h1.0v1.0h-1.0zM365.4 41.7h1.0v1.0h-1.0zM364.4 77.1h1.0v1.0h-1.0zM363.3 80.6h1.0v1.0h-1.0zM365.3 51.6h1.0v1.0h-1.0zM365.7 85.6h1.0v1.0h-1.0zM366.3 42.7h1.0v1.0h-1.0zM369.0 69.8h1.0v1.0h-1.0zM363.4 35.1h1.0v1.0h-1.0zM363.8 51.6h1.0v1.0h-1.0zM363.0 77.0h1.0v1.0h-1.0zM366.2 79.4h1.0v1.0h-1.0zM365.8 46.8h1.0v1.0h-1.0zM362.4 35.9h1.0v1.0h-1.0zM359.1 36.2h1.0v1.0h-1.0zM369.0 49.0h1.0v1.0h-1.0zM363.3 55.9h1.0v1.0h-1.0zM361.0 81.9h1.0v1.0h-1.0zM361.3 41.8h1.0v1.0h-1.0zM361.6 48.3h1.0v1.0h-1.0zM361.6 49.0h1.0v1.0h-1.0zM359.7 43.1h1.0v1.0h-1.0zM363.0 54.1h1.0v1.0h-1.0zM359.0 73.4h1.0v1.0h-1.0zM364.3 91.3h1.0v1.0h-1.0zM366.1 47.1h1.0v1.0h-1.0zM362.0 46.1h1.0v1.0h-1.0zM366.7 55.5h1.0v1.0h-1.0zM365.7 60.4h1.0v1.0h-1.0zM367.8 72.2h1.0v1.0h-1.0zM359.6 90.2h1.0v1.0h-1.0zM359.6 48.3h1.0v1.0h-1.0zM363.3 68.7h1.0v1.0h-1.0zM362.0 40.0h1.0v1.0h-1.0zM361.8 51.2h1.0v1.0h-1.0zM360.8 73.9h1.0v1.0h-1.0zM364.7 37.9h1.0v1.0h-1.0zM365.1 34.1h1.0v1.0h-1.0zM357.7 54.5h1.0v1.0h-1.0zM358.4 72.1h1.0v1.0h-1.0zM363.8 77.2h1.0v1.0h-1.0zM365.2 45.8h1.0v1.0h-1.0zM361.1 76.3h1.0v1.0h-1.0zM366.8 56.1h1.0v1.0h-1.0zM364.6 41.3h1.0v1.0h-1.0zM366.5 50.9h1.0v1.0h-1.0zM364.0 42.3h1.0v1.0h-1.0zM364.8 61.4h1.0v1.0h-1.0zM366.4 77.9h1.0v1.0h-1.0zM361.3 62.5h1.0v1.0h-1.0zM368.2 34.9h1.0v1.0h-1.0zM360.3 41.8h1.0v1.0h-1.0zM358.5 46.1h1.0v1.0h-1.0zM357.6 85.4h1.0v1.0h-1.0zM364.9 87.6h1.0v1.0h-1.0zM357.6 52.5h1.0v1.0h-1.0zM365.5 38.6h1.0v1.0h-1.0zM357.7 40.4h1.0v1.0h-1.0zM365.6 82.9h1.0v1.0h-1.0zM360.6 41.2h1.0v1.0h-1.0zM367.0 85.1h1.0v1.0h-1.0zM360.5 42.8h1.0v1.0h-1.0zM361.7 59.5h1.0v1.0h-1.0zM361.8 45.0h1.0v1.0h-1.0zM363.3 80.9h1.0v1.0h-1.0zM356.7 37.8h1.0v1.0h-1.0zM359.3 49.9h1.0v1.0h-1.0zM363.8 52.4h1.0v1.0h-1.0zM363.4 69.3h1.0v1.0h-1.0zM364.5 53.3h1.0v1.0h-1.0zM364.2 40.9h1.0v1.0h-1.0zM367.1 50.6h1.0v1.0h-1.0zM364.3 41.1h1.0v1.0h-1.0zM360.4 46.5h1.0v1.0h-1.0zM363.1 51.1h1.0v1.0h-1.0zM364.4 39.6h1.0v1.0h-1.0zM359.6 51.3h1.0v1.0h-1.0zM360.5 47.1h1.0v1.0h-1.0zM367.3 40.8h1.0v1.0h-1.0zM360.6 43.7h1.0v1.0h-1.0zM352.8 64.2h1.0v1.0h-1.0zM367.0 51.5h1.0v1.0h-1.0zM368.2 48.7h1.0v1.0h-1.0zM355.3 79.9h1.0v1.0h-1.0zM364.9 46.3h1.0v1.0h-1.0zM367.4 40.5h1.0v1.0h-1.0zM365.3 48.2h1.0v1.0h-1.0zM369.2 47.2h1.0v1.0h-1.0zM362.5 41.7h1.0v1.0h-1.0zM368.7 49.7h1.0v1.0h-1.0zM365.0 64.3h1.0v1.0h-1.0zM362.8 42.0h1.0v1.0h-1.0zM356.0 35.2h1.0v1.0h-1.0zM358.8 45.3h1.0v1.0h-1.0zM366.0 54.1h1.0v1.0h-1.0zM360.6 79.1h1.0v1.0h-1.0zM361.9 68.2h1.0v1.0h-1.0zM358.4 81.8h1.0v1.0h-1.0zM357.5 76.6h1.0v1.0h-1.0zM363.8 47.5h1.0v1.0h-1.0zM362.9 43.5h1.0v1.0h-1.0zM364.2 49.4h1.0v1.0h-1.0zM361.5 56.9h1.0v1.0h-1.0zM366.5 48.3h1.0v1.0h-1.0zM355.9 41.8h1.0v1.0h-1.0zM361.8 73.8h1.0v1.0h-1.0zM365.9 39.4h1.0v1.0h-1.0zM361.3 47.9h1.0v1.0h-1.0zM359.1 36.8h1.0v1.0h-1.0zM364.6 49.2h1.0v1.0h-1.0zM364.7 79.2h1.0v1.0h-1.0zM363.6 77.9h1.0v1.0h-1.0zM368.9 48.2h1.0v1.0h-1.0zM363.2 40.6h1.0v1.0h-1.0zM355.8 57.0h1.0v1.0h-1.0zM361.2 43.3h1.0v1.0h-1.0zM361.1 50.7h1.0v1.0h-1.0zM357.8 78.7h1.0v1.0h-1.0zM367.4 54.9h1.0v1.0h-1.0zM361.3 73.0h1.0v1.0h-1.0zM366.9 71.2h1.0v1.0h-1.0zM367.6 41.8h1.0v1.0h-1.0zM364.2 43.1h1.0v1.0h-1.0zM363.3 88.5h1.0v1.0h-1.0zM366.6 66.4h1.0v1.0h-1.0zM361.8 84.6h1.0v1.0h-1.0zM355.5 67.7h1.0v1.0h-1.0zM366.4 45.2h1.0v1.0h-1.0zM358.0 68.0h1.0v1.0h-1.0zM359.0 82.2h1.0v1.0h-1.0zM353.9 46.1h1.0v1.0h-1.0zM362.0 84.2h1.0v1.0h-1.0zM360.4 79.8h1.0v1.0h-1.0zM366.9 79.6h1.0v1.0h-1.0zM359.5 38.0h1.0v1.0h-1.0zM366.1 52.2h1.0v1.0h-1.0zM366.3 47.4h1.0v1.0h-1.0zM363.6 32.6h1.0v1.0h-1.0zM364.2 47.3h1.0v1.0h-1.0zM366.3 43.5h1.0v1.0h-1.0zM361.3 45.0h1.0v1.0h-1.0zM362.0 48.1h1.0v1.0h-1.0zM362.5 45.7h1.0v1.0h-1.0zM366.1 52.9h1.0v1.0h-1.0zM364.2 34.1h1.0v1.0h-1.0zM358.6 76.2h1.0v1.0h-1.0zM361.0 78.4h1.0v1.0h-1.0zM367.5 36.2h1.0v1.0h-1.0zM361.0 51.4h1.0v1.0h-1.0zM367.0 74.5h1.0v1.0h-1.0zM361.8 78.8h1.0v1.0h-1.0zM366.8 73.7h1.0v1.0h-1.0zM357.1 69.7h1.0v1.0h-1.0zM354.0 79.5h1.0v1.0h-1.0zM364.3 48.9h1.0v1.0h-1.0zM355.7 47.6h1.0v1.0h-1.0zM364.1 74.9h1.0v1.0h-1.0zM367.6 49.6h1.0v1.0h-1.0zM357.6 46.9h1.0v1.0h-1.0zM364.7 79.5h1.0v1.0h-1.0zM366.1 39.2h1.0v1.0h-1.0zM368.1 67.9h1.0v1.0h-1.0zM351.9 33.4h1.0v1.0h-1.0zM363.6 50.0h1.0v1.0h-1.0zM363.0 34.7h1.0v1.0h-1.0zM364.4 39.5h1.0v1.0h-1.0zM362.6 48.5h1.0v1.0h-1.0zM360.8 43.6h1.0v1.0h-1.0zM361.3 43.1h1.0v1.0h-1.0zM358.9 78.2h1.0v1.0h-1.0zM361.0 44.8h1.0v1.0h-1.0zM361.8 47.3h1.0v1.0h-1.0zM361.7 46.4h1.0v1.0h-1.0zM365.2 39.0h1.0v1.0h-1.0zM363.9 66.1h1.0v1.0h-1.0zM364.9 39.8h1.0v1.0h-1.0zM361.4 41.7h1.0v1.0h-1.0zM363.5 76.1h1.0v1.0h-1.0zM366.0 87.5h1.0v1.0h-1.0zM367.8 80.4h1.0v1.0h-1.0zM364.0 48.6h1.0v1.0h-1.0zM363.9 34.3h1.0v1.0h-1.0zM363.1 56.2h1.0v1.0h-1.0zM362.7 77.0h1.0v1.0h-1.0zM366.0 50.7h1.0v1.0h-1.0zM358.6 86.4h1.0v1.0h-1.0zM365.4 77.5h1.0v1.0h-1.0zM364.6 41.8h1.0v1.0h-1.0zM361.8 44.3h1.0v1.0h-1.0zM363.2 75.3h1.0v1.0h-1.0zM362.9 46.6h1.0v1.0h-1.0zM367.5 45.8h1.0v1.0h-1.0zM356.2 79.2h1.0v1.0h-1.0zM357.4 42.0h1.0v1.0h-1.0zM364.2 43.3h1.0v1.0h-1.0zM363.8 48.3h1.0v1.0h-1.0zM358.2 62.1h1.0v1.0h-1.0zM365.8 79.7h1.0v1.0h-1.0zM368.3 68.5h1.0v1.0h-1.0zM365.7 81.4h1.0v1.0h-1.0zM360.0 81.9h1.0v1.0h-1.0zM360.6 41.7h1.0v1.0h-1.0zM360.9 88.2h1.0v1.0h-1.0zM366.8 47.3h1.0v1.0h-1.0zM362.1 89.0h1.0v1.0h-1.0zM367.4 51.4h1.0v1.0h-1.0zM366.1 45.0h1.0v1.0h-1.0zM359.2 80.8h1.0v1.0h-1.0zM367.5 44.8h1.0v1.0h-1.0zM361.8 47.2h1.0v1.0h-1.0zM362.6 78.4h1.0v1.0h-1.0zM361.1 79.5h1.0v1.0h-1.0zM364.1 72.4h1.0v1.0h-1.0zM361.2 43.3h1.0v1.0h-1.0zM365.9 45.0h1.0v1.0h-1.0zM357.7 73.3h1.0v1.0h-1.0zM366.9 68.7h1.0v1.0h-1.0zM360.6 40.8h1.0v1.0h-1.0zM357.2 76.3h1.0v1.0h-1.0zM363.1 47.2h1.0v1.0h-1.0zM365.8 83.4h1.0v1.0h-1.0zM364.6 77.8h1.0v1.0h-1.0zM365.8 43.2h1.0v1.0h-1.0zM363.6 80.3h1.0v1.0h-1.0zM365.8 50.8h1.0v1.0h-1.0zM359.1 62.7h1.0v1.0h-1.0zM365.3 76.2h1.0v1.0h-1.0zM365.0 56.4h1.0v1.0h-1.0zM369.1 45.8h1.0v1.0h-1.0zM362.9 45.3h1.0v1.0h-1.0zM357.9 41.2h1.0v1.0h-1.0zM362.1 54.2h1.0v1.0h-1.0zM361.5 71.9h1.0v1.0h-1.0zM362.4 45.5h1.0v1.0h-1.0zM364.2 51.8h1.0v1.0h-1.0zM356.7 75.0h1.0v1.0h-1.0zM369.2 82.2h1.0v1.0h-1.0zM368.8 43.2h1.0v1.0h-1.0zM362.7 44.5h1.0v1.0h-1.0zM364.5 68.1h1.0v1.0h-1.0zM364.6 37.0h1.0v1.0h-1.0zM361.7 82.4h1.0v1.0h-1.0zM362.6 65.8h1.0v1.0h-1.0zM363.8 73.6h1.0v1.0h-1.0zM363.3 35.7h1.0v1.0h-1.0zM366.9 71.0h1.0v1.0h-1.0zM362.2 47.2h1.0v1.0h-1.0zM358.3 83.6h1.0v1.0h-1.0zM360.4 41.5h1.0v1.0h-1.0zM362.1 39.8h1.0v1.0h-1.0zM361.6 45.8h1.0v1.0h-1.0zM359.0 74.6h1.0v1.0h-1.0zM363.3 74.0h1.0v1.0h-1.0zM363.6 44.7h1.0v1.0h-1.0zM360.3 41.1h1.0v1.0h-1.0zM362.6 62.1h1.0v1.0h-1.0zM368.4 76.6h1.0v1.0h-1.0zM365.3 45.9h1.0v1.0h-1.0zM358.5 74.4h1.0v1.0h-1.0zM364.6 43.9h1.0v1.0h-1.0zM364.3 83.8h1.0v1.0h-1.0zM363.8 83.1h1.0v1.0h-1.0zM368.9 80.7h1.0v1.0h-1.0zM366.8 74.2h1.0v1.0h-1.0zM364.2 55.7h1.0v1.0h-1.0zM364.7 45.6h1.0v1.0h-1.0zM357.9 55.1h1.0v1.0h-1.0zM363.2 53.9h1.0v1.0h-1.0zM361.8 78.7h1.0v1.0h-1.0zM359.0 81.2h1.0v1.0h-1.0zM357.4 63.5h1.0v1.0h-1.0zM359.7 47.7h1.0v1.0h-1.0zM362.4 74.5h1.0v1.0h-1.0zM364.0 35.2h1.0v1.0h-1.0zM368.9 46.3h1.0v1.0h-1.0zM364.7 48.7h1.0v1.0h-1.0zM363.5 68.9h1.0v1.0h-1.0zM358.9 44.0h1.0v1.0h-1.0zM361.1 75.4h1.0v1.0h-1.0zM367.5 78.0h1.0v1.0h-1.0zM364.7 56.2h1.0v1.0h-1.0zM365.8 41.8h1.0v1.0h-1.0zM366.1 66.2h1.0v1.0h-1.0zM354.1 41.0h1.0v1.0h-1.0zM363.8 68.8h1.0v1.0h-1.0zM362.9 32.8h1.0v1.0h-1.0zM358.7 89.0h1.0v1.0h-1.0zM368.7 59.9h1.0v1.0h-1.0zM357.5 41.9h1.0v1.0h-1.0zM359.7 47.7h1.0v1.0h-1.0zM366.9 70.7h1.0v1.0h-1.0zM365.4 68.3h1.0v1.0h-1.0zM365.5 84.2h1.0v1.0h-1.0zM364.6 87.4h1.0v1.0h-1.0zM365.6 45.0h1.0v1.0h-1.0zM363.9 69.3h1.0v1.0h-1.0zM364.2 74.8h1.0v1.0h-1.0zM364.3 81.2h1.0v1.0h-1.0zM367.3 58.2h1.0v1.0h-1.0zM364.3 53.4h1.0v1.0h-1.0zM365.1 53.0h1.0v1.0h-1.0zM366.1 54.6h1.0v1.0h-1.0zM365.5 40.2h1.0v1.0h-1.0zM366.6 43.7h1.0v1.0h-1.0zM365.6 48.0h1.0v1.0h-1.0zM361.3 91.2h1.0v1.0h-1.0zM367.1 49.3h1.0v1.0h-1.0z" fill="#000" fill-opacity="0.38"/>
<path d="M358.7 34.0h1.0v1.0h-1.0zM360.9 42.4h1.0v1.0h-1.0zM358.9 50.2h1.0v1.0h-1.0zM361.9 48.6h1.0v1.0h-1.0zM365.4 81.6h1.0v1.0h-1.0zM358.8 78.5h1.0v1.0h-1.0zM360.5 87.8h1.0v1.0h-1.0zM365.1 48.9h1.0v1.0h-1.0zM360.9 81.7h1.0v1.0h-1.0zM366.3 51.2h1.0v1.0h-1.0zM364.8 40.2h1.0v1.0h-1.0zM368.4 36.4h1.0v1.0h-1.0zM360.2 37.3h1.0v1.0h-1.0zM365.7 39.1h1.0v1.0h-1.0zM363.7 56.0h1.0v1.0h-1.0zM368.8 77.0h1.0v1.0h-1.0zM364.5 48.8h1.0v1.0h-1.0zM366.3 40.0h1.0v1.0h-1.0zM362.1 42.2h1.0v1.0h-1.0zM363.3 38.8h1.0v1.0h-1.0zM361.1 83.3h1.0v1.0h-1.0zM361.2 44.4h1.0v1.0h-1.0zM367.7 41.2h1.0v1.0h-1.0zM368.0 77.3h1.0v1.0h-1.0zM363.7 74.4h1.0v1.0h-1.0zM367.9 38.1h1.0v1.0h-1.0zM367.3 55.9h1.0v1.0h-1.0zM354.7 69.1h1.0v1.0h-1.0zM369.0 51.5h1.0v1.0h-1.0zM367.6 42.8h1.0v1.0h-1.0zM368.5 32.0h1.0v1.0h-1.0zM364.4 54.9h1.0v1.0h-1.0zM367.5 84.8h1.0v1.0h-1.0zM359.3 35.0h1.0v1.0h-1.0zM354.7 45.0h1.0v1.0h-1.0zM367.2 71.4h1.0v1.0h-1.0zM369.2 80.3h1.0v1.0h-1.0zM362.9 43.3h1.0v1.0h-1.0zM359.2 76.8h1.0v1.0h-1.0zM363.6 77.1h1.0v1.0h-1.0zM369.0 72.3h1.0v1.0h-1.0zM359.5 34.7h1.0v1.0h-1.0zM357.8 54.3h1.0v1.0h-1.0zM357.5 43.1h1.0v1.0h-1.0zM358.7 74.0h1.0v1.0h-1.0zM361.7 42.9h1.0v1.0h-1.0zM367.4 75.6h1.0v1.0h-1.0zM360.1 50.5h1.0v1.0h-1.0zM366.5 73.6h1.0v1.0h-1.0zM359.5 50.4h1.0v1.0h-1.0zM358.6 76.1h1.0v1.0h-1.0zM361.8 37.9h1.0v1.0h-1.0zM365.4 36.6h1.0v1.0h-1.0zM363.5 75.3h1.0v1.0h-1.0zM355.8 86.2h1.0v1.0h-1.0zM359.2 86.4h1.0v1.0h-1.0zM361.3 80.5h1.0v1.0h-1.0zM364.2 56.4h1.0v1.0h-1.0zM363.4 49.3h1.0v1.0h-1.0zM357.7 58.6h1.0v1.0h-1.0zM365.1 56.8h1.0v1.0h-1.0zM365.6 42.4h1.0v1.0h-1.0zM362.8 81.0h1.0v1.0h-1.0zM365.9 65.5h1.0v1.0h-1.0zM366.9 89.8h1.0v1.0h-1.0zM363.8 55.5h1.0v1.0h-1.0zM368.0 48.9h1.0v1.0h-1.0zM366.7 46.0h1.0v1.0h-1.0zM364.1 40.6h1.0v1.0h-1.0zM367.8 45.9h1.0v1.0h-1.0zM366.2 43.3h1.0v1.0h-1.0zM367.1 37.5h1.0v1.0h-1.0zM368.3 41.6h1.0v1.0h-1.0zM365.8 60.0h1.0v1.0h-1.0zM360.4 43.8h1.0v1.0h-1.0zM361.6 45.7h1.0v1.0h-1.0zM364.6 42.6h1.0v1.0h-1.0zM365.8 52.0h1.0v1.0h-1.0zM359.6 36.9h1.0v1.0h-1.0zM358.3 80.4h1.0v1.0h-1.0zM363.9 45.3h1.0v1.0h-1.0zM366.4 77.4h1.0v1.0h-1.0zM362.5 45.9h1.0v1.0h-1.0zM366.0 44.2h1.0v1.0h-1.0zM366.2 44.3h1.0v1.0h-1.0zM368.6 67.4h1.0v1.0h-1.0zM367.5 68.5h1.0v1.0h-1.0zM362.3 63.0h1.0v1.0h-1.0zM360.1 44.3h1.0v1.0h-1.0zM366.2 79.9h1.0v1.0h-1.0zM358.9 58.5h1.0v1.0h-1.0zM364.2 41.5h1.0v1.0h-1.0zM367.8 47.4h1.0v1.0h-1.0zM360.4 78.0h1.0v1.0h-1.0zM360.5 84.9h1.0v1.0h-1.0zM366.6 71.8h1.0v1.0h-1.0zM362.9 45.8h1.0v1.0h-1.0zM361.7 59.6h1.0v1.0h-1.0zM364.9 76.1h1.0v1.0h-1.0zM366.2 66.3h1.0v1.0h-1.0zM364.3 46.6h1.0v1.0h-1.0zM362.1 43.0h1.0v1.0h-1.0zM359.4 75.9h1.0v1.0h-1.0zM360.7 76.6h1.0v1.0h-1.0zM369.0 42.2h1.0v1.0h-1.0zM360.8 42.4h1.0v1.0h-1.0zM358.8 43.7h1.0v1.0h-1.0zM354.2 42.6h1.0v1.0h-1.0zM362.9 46.9h1.0v1.0h-1.0zM364.6 82.0h1.0v1.0h-1.0zM362.4 39.3h1.0v1.0h-1.0zM356.3 46.6h1.0v1.0h-1.0zM369.0 46.9h1.0v1.0h-1.0zM354.5 45.2h1.0v1.0h-1.0zM363.7 48.3h1.0v1.0h-1.0zM360.4 51.7h1.0v1.0h-1.0zM366.3 52.0h1.0v1.0h-1.0zM361.3 76.7h1.0v1.0h-1.0zM359.6 77.1h1.0v1.0h-1.0zM364.9 67.9h1.0v1.0h-1.0zM362.7 53.9h1.0v1.0h-1.0zM363.5 84.2h1.0v1.0h-1.0zM365.4 70.9h1.0v1.0h-1.0zM360.2 57.2h1.0v1.0h-1.0zM362.0 43.1h1.0v1.0h-1.0zM363.2 74.4h1.0v1.0h-1.0zM356.9 49.3h1.0v1.0h-1.0zM354.4 91.5h1.0v1.0h-1.0zM362.0 91.8h1.0v1.0h-1.0zM363.7 36.6h1.0v1.0h-1.0zM359.6 82.3h1.0v1.0h-1.0zM366.0 75.6h1.0v1.0h-1.0zM364.7 88.5h1.0v1.0h-1.0zM363.0 88.3h1.0v1.0h-1.0zM365.8 47.9h1.0v1.0h-1.0zM361.2 48.3h1.0v1.0h-1.0zM362.7 43.4h1.0v1.0h-1.0zM364.1 51.1h1.0v1.0h-1.0zM362.7 52.3h1.0v1.0h-1.0zM365.6 52.7h1.0v1.0h-1.0zM364.3 71.9h1.0v1.0h-1.0zM366.3 35.6h1.0v1.0h-1.0zM362.1 45.0h1.0v1.0h-1.0zM361.5 56.4h1.0v1.0h-1.0zM362.8 57.8h1.0v1.0h-1.0zM362.2 42.0h1.0v1.0h-1.0zM367.4 39.2h1.0v1.0h-1.0zM364.5 41.7h1.0v1.0h-1.0zM365.0 73.2h1.0v1.0h-1.0zM366.4 90.7h1.0v1.0h-1.0zM356.1 75.9h1.0v1.0h-1.0zM358.1 54.1h1.0v1.0h-1.0zM358.7 50.8h1.0v1.0h-1.0zM363.8 77.1h1.0v1.0h-1.0zM366.9 50.9h1.0v1.0h-1.0zM359.5 51.6h1.0v1.0h-1.0zM360.3 77.2h1.0v1.0h-1.0zM364.0 68.6h1.0v1.0h-1.0zM363.1 51.3h1.0v1.0h-1.0zM360.8 50.9h1.0v1.0h-1.0zM367.9 73.0h1.0v1.0h-1.0zM362.3 33.6h1.0v1.0h-1.0zM359.9 45.7h1.0v1.0h-1.0zM362.3 48.9h1.0v1.0h-1.0zM366.7 39.9h1.0v1.0h-1.0zM361.7 51.4h1.0v1.0h-1.0zM363.9 56.2h1.0v1.0h-1.0zM360.7 41.2h1.0v1.0h-1.0zM362.3 43.7h1.0v1.0h-1.0zM363.3 57.9h1.0v1.0h-1.0zM368.4 76.3h1.0v1.0h-1.0zM368.1 74.4h1.0v1.0h-1.0zM355.7 77.1h1.0v1.0h-1.0zM363.8 44.1h1.0v1.0h-1.0zM364.9 50.7h1.0v1.0h-1.0zM357.5 43.8h1.0v1.0h-1.0zM358.1 56.4h1.0v1.0h-1.0zM363.5 72.2h1.0v1.0h-1.0zM366.6 41.7h1.0v1.0h-1.0zM360.7 45.2h1.0v1.0h-1.0zM366.0 53.8h1.0v1.0h-1.0zM367.2 57.4h1.0v1.0h-1.0zM368.5 82.8h1.0v1.0h-1.0zM365.6 35.8h1.0v1.0h-1.0zM360.0 78.7h1.0v1.0h-1.0zM368.4 76.6h1.0v1.0h-1.0zM364.3 77.2h1.0v1.0h-1.0zM363.5 52.1h1.0v1.0h-1.0zM363.5 46.2h1.0v1.0h-1.0zM366.2 51.9h1.0v1.0h-1.0zM362.9 68.2h1.0v1.0h-1.0zM360.1 60.1h1.0v1.0h-1.0zM356.3 62.1h1.0v1.0h-1.0zM362.7 82.8h1.0v1.0h-1.0zM355.4 64.2h1.0v1.0h-1.0zM360.9 44.7h1.0v1.0h-1.0zM367.8 83.1h1.0v1.0h-1.0zM363.5 78.4h1.0v1.0h-1.0zM354.2 57.6h1.0v1.0h-1.0zM358.1 83.9h1.0v1.0h-1.0zM364.3 71.0h1.0v1.0h-1.0zM365.7 79.1h1.0v1.0h-1.0zM364.5 80.7h1.0v1.0h-1.0zM360.7 86.7h1.0v1.0h-1.0zM357.3 44.9h1.0v1.0h-1.0zM363.3 43.4h1.0v1.0h-1.0zM366.7 45.7h1.0v1.0h-1.0zM362.8 45.8h1.0v1.0h-1.0zM361.8 51.3h1.0v1.0h-1.0zM366.5 42.0h1.0v1.0h-1.0zM364.1 46.7h1.0v1.0h-1.0zM364.8 73.6h1.0v1.0h-1.0zM366.4 52.3h1.0v1.0h-1.0zM363.9 45.2h1.0v1.0h-1.0zM363.7 41.4h1.0v1.0h-1.0zM366.2 44.6h1.0v1.0h-1.0zM366.2 45.2h1.0v1.0h-1.0zM359.3 36.0h1.0v1.0h-1.0zM358.6 48.1h1.0v1.0h-1.0zM365.4 42.5h1.0v1.0h-1.0zM361.7 78.3h1.0v1.0h-1.0zM367.6 49.4h1.0v1.0h-1.0zM362.9 81.2h1.0v1.0h-1.0zM356.6 79.5h1.0v1.0h-1.0zM358.7 75.7h1.0v1.0h-1.0zM365.6 39.9h1.0v1.0h-1.0zM365.9 47.2h1.0v1.0h-1.0zM361.4 73.7h1.0v1.0h-1.0zM355.0 43.6h1.0v1.0h-1.0zM367.8 39.2h1.0v1.0h-1.0zM366.6 32.5h1.0v1.0h-1.0zM360.7 86.5h1.0v1.0h-1.0zM361.2 50.8h1.0v1.0h-1.0zM364.1 78.0h1.0v1.0h-1.0zM354.2 42.4h1.0v1.0h-1.0zM366.9 76.8h1.0v1.0h-1.0zM365.4 44.0h1.0v1.0h-1.0zM367.7 56.8h1.0v1.0h-1.0zM359.2 42.6h1.0v1.0h-1.0zM367.3 45.6h1.0v1.0h-1.0zM362.5 50.5h1.0v1.0h-1.0zM363.1 66.3h1.0v1.0h-1.0zM366.9 83.6h1.0v1.0h-1.0zM363.2 41.6h1.0v1.0h-1.0zM364.3 51.0h1.0v1.0h-1.0zM359.8 36.5h1.0v1.0h-1.0zM365.0 44.0h1.0v1.0h-1.0zM365.5 64.5h1.0v1.0h-1.0zM361.1 78.8h1.0v1.0h-1.0zM362.7 70.6h1.0v1.0h-1.0zM359.9 46.9h1.0v1.0h-1.0zM366.8 38.7h1.0v1.0h-1.0zM362.0 61.1h1.0v1.0h-1.0zM366.1 45.2h1.0v1.0h-1.0zM361.3 57.3h1.0v1.0h-1.0zM365.8 75.4h1.0v1.0h-1.0zM357.7 45.4h1.0v1.0h-1.0zM363.9 46.7h1.0v1.0h-1.0zM356.4 45.8h1.0v1.0h-1.0zM363.4 89.5h1.0v1.0h-1.0zM361.9 41.5h1.0v1.0h-1.0zM365.3 35.3h1.0v1.0h-1.0zM367.0 44.7h1.0v1.0h-1.0zM366.8 72.0h1.0v1.0h-1.0zM363.0 43.3h1.0v1.0h-1.0zM366.8 42.5h1.0v1.0h-1.0zM362.0 42.8h1.0v1.0h-1.0zM364.0 74.7h1.0v1.0h-1.0zM367.8 79.9h1.0v1.0h-1.0zM358.1 44.5h1.0v1.0h-1.0zM360.6 80.8h1.0v1.0h-1.0zM368.6 83.8h1.0v1.0h-1.0zM362.7 48.8h1.0v1.0h-1.0zM368.4 91.0h1.0v1.0h-1.0zM364.9 87.3h1.0v1.0h-1.0zM356.9 34.4h1.0v1.0h-1.0zM363.2 50.4h1.0v1.0h-1.0zM359.5 77.1h1.0v1.0h-1.0zM363.1 40.1h1.0v1.0h-1.0zM366.7 46.1h1.0v1.0h-1.0zM365.1 82.2h1.0v1.0h-1.0zM359.6 82.7h1.0v1.0h-1.0zM358.1 83.4h1.0v1.0h-1.0zM358.5 47.3h1.0v1.0h-1.0zM366.5 55.0h1.0v1.0h-1.0zM368.7 86.9h1.0v1.0h-1.0zM362.1 65.6h1.0v1.0h-1.0zM363.7 47.0h1.0v1.0h-1.0zM363.7 58.2h1.0v1.0h-1.0zM365.5 35.2h1.0v1.0h-1.0zM360.9 38.4h1.0v1.0h-1.0zM368.5 50.5h1.0v1.0h-1.0zM355.3 33.8h1.0v1.0h-1.0zM364.0 45.4h1.0v1.0h-1.0zM364.9 46.4h1.0v1.0h-1.0zM365.2 52.5h1.0v1.0h-1.0zM361.9 47.9h1.0v1.0h-1.0zM360.8 36.2h1.0v1.0h-1.0zM362.7 47.2h1.0v1.0h-1.0zM364.6 53.1h1.0v1.0h-1.0zM362.3 49.3h1.0v1.0h-1.0zM364.5 43.9h1.0v1.0h-1.0zM360.1 58.7h1.0v1.0h-1.0zM360.4 42.1h1.0v1.0h-1.0zM365.1 75.3h1.0v1.0h-1.0zM364.2 40.4h1.0v1.0h-1.0zM366.7 43.7h1.0v1.0h-1.0zM364.6 54.6h1.0v1.0h-1.0zM362.5 39.3h1.0v1.0h-1.0zM362.1 45.0h1.0v1.0h-1.0zM361.9 77.0h1.0v1.0h-1.0zM367.7 84.2h1.0v1.0h-1.0zM359.3 79.8h1.0v1.0h-1.0zM356.4 36.3h1.0v1.0h-1.0zM363.0 63.9h1.0v1.0h-1.0zM365.5 48.5h1.0v1.0h-1.0zM359.0 45.4h1.0v1.0h-1.0zM368.4 44.0h1.0v1.0h-1.0zM362.8 68.8h1.0v1.0h-1.0zM368.6 78.9h1.0v1.0h-1.0zM358.7 80.3h1.0v1.0h-1.0zM368.6 35.2h1.0v1.0h-1.0zM365.0 76.0h1.0v1.0h-1.0zM362.2 43.9h1.0v1.0h-1.0zM368.7 36.0h1.0v1.0h-1.0zM361.0 48.0h1.0v1.0h-1.0zM367.6 50.4h1.0v1.0h-1.0zM366.2 87.3h1.0v1.0h-1.0zM364.4 33.3h1.0v1.0h-1.0zM360.6 44.1h1.0v1.0h-1.0zM360.0 50.2h1.0v1.0h-1.0zM362.2 56.6h1.0v1.0h-1.0zM363.3 81.6h1.0v1.0h-1.0zM363.3 59.9h1.0v1.0h-1.0zM362.7 53.4h1.0v1.0h-1.0z" fill="#000" fill-opacity="0.38"/>
<path d="M369.0 47.9h1.0v1.0h-1.0zM363.0 76.4h1.0v1.0h-1.0zM365.1 87.5h1.0v1.0h-1.0zM363.6 81.8h1.0v1.0h-1.0zM368.6 72.1h1.0v1.0h-1.0zM360.0 79.9h1.0v1.0h-1.0zM367.0 55.5h1.0v1.0h-1.0zM363.8 70.1h1.0v1.0h-1.0zM364.2 61.6h1.0v1.0h-1.0zM363.2 39.8h1.0v1.0h-1.0zM362.5 44.2h1.0v1.0h-1.0zM367.1 38.6h1.0v1.0h-1.0zM367.7 35.9h1.0v1.0h-1.0zM368.9 64.8h1.0v1.0h-1.0zM357.4 48.4h1.0v1.0h-1.0zM362.1 33.9h1.0v1.0h-1.0zM358.7 51.0h1.0v1.0h-1.0zM361.0 84.8h1.0v1.0h-1.0zM358.7 65.2h1.0v1.0h-1.0zM367.5 53.1h1.0v1.0h-1.0zM359.6 73.5h1.0v1.0h-1.0zM365.0 47.9h1.0v1.0h-1.0zM367.9 58.0h1.0v1.0h-1.0zM362.1 39.9h1.0v1.0h-1.0zM361.5 45.4h1.0v1.0h-1.0zM366.6 37.5h1.0v1.0h-1.0zM360.8 41.1h1.0v1.0h-1.0zM364.9 46.6h1.0v1.0h-1.0zM360.0 76.8h1.0v1.0h-1.0zM365.3 38.9h1.0v1.0h-1.0zM366.1 83.4h1.0v1.0h-1.0zM357.8 73.9h1.0v1.0h-1.0zM369.2 49.3h1.0v1.0h-1.0zM359.3 36.6h1.0v1.0h-1.0zM358.4 51.8h1.0v1.0h-1.0zM358.8 70.9h1.0v1.0h-1.0zM364.9 49.8h1.0v1.0h-1.0zM369.1 43.4h1.0v1.0h-1.0zM361.3 40.6h1.0v1.0h-1.0zM365.8 43.0h1.0v1.0h-1.0zM367.6 76.7h1.0v1.0h-1.0zM359.0 89.4h1.0v1.0h-1.0zM357.9 56.4h1.0v1.0h-1.0zM365.0 51.3h1.0v1.0h-1.0zM356.4 46.4h1.0v1.0h-1.0zM364.1 75.0h1.0v1.0h-1.0zM350.3 54.7h1.0v1.0h-1.0zM366.2 44.1h1.0v1.0h-1.0zM363.8 43.9h1.0v1.0h-1.0zM363.3 75.9h1.0v1.0h-1.0zM362.7 46.2h1.0v1.0h-1.0zM364.4 75.2h1.0v1.0h-1.0zM364.0 44.7h1.0v1.0h-1.0zM357.1 52.9h1.0v1.0h-1.0zM364.7 49.6h1.0v1.0h-1.0zM363.2 71.9h1.0v1.0h-1.0zM362.2 37.4h1.0v1.0h-1.0zM359.2 81.7h1.0v1.0h-1.0zM368.8 49.8h1.0v1.0h-1.0zM364.9 46.3h1.0v1.0h-1.0zM363.9 78.3h1.0v1.0h-1.0zM361.6 80.4h1.0v1.0h-1.0zM364.2 79.3h1.0v1.0h-1.0zM357.4 86.7h1.0v1.0h-1.0zM368.4 72.4h1.0v1.0h-1.0zM368.2 71.9h1.0v1.0h-1.0zM362.8 66.6h1.0v1.0h-1.0zM359.8 48.3h1.0v1.0h-1.0zM364.7 55.3h1.0v1.0h-1.0zM363.5 37.5h1.0v1.0h-1.0zM356.5 51.2h1.0v1.0h-1.0zM362.7 36.8h1.0v1.0h-1.0zM365.5 40.9h1.0v1.0h-1.0zM366.0 83.0h1.0v1.0h-1.0zM364.6 56.7h1.0v1.0h-1.0zM367.6 49.1h1.0v1.0h-1.0zM357.0 49.1h1.0v1.0h-1.0zM364.0 43.0h1.0v1.0h-1.0zM364.1 77.8h1.0v1.0h-1.0zM368.4 81.2h1.0v1.0h-1.0zM363.4 74.4h1.0v1.0h-1.0zM362.3 67.9h1.0v1.0h-1.0zM365.6 42.7h1.0v1.0h-1.0zM359.0 56.3h1.0v1.0h-1.0zM359.5 81.3h1.0v1.0h-1.0zM361.4 33.1h1.0v1.0h-1.0zM366.3 49.0h1.0v1.0h-1.0zM364.2 53.6h1.0v1.0h-1.0zM364.9 84.2h1.0v1.0h-1.0zM368.7 51.6h1.0v1.0h-1.0zM357.9 75.1h1.0v1.0h-1.0zM358.5 80.3h1.0v1.0h-1.0zM364.6 57.3h1.0v1.0h-1.0zM357.6 44.2h1.0v1.0h-1.0zM366.8 49.6h1.0v1.0h-1.0zM368.9 92.5h1.0v1.0h-1.0zM362.7 67.0h1.0v1.0h-1.0zM365.8 55.7h1.0v1.0h-1.0zM366.1 46.0h1.0v1.0h-1.0zM361.0 47.6h1.0v1.0h-1.0zM367.5 57.1h1.0v1.0h-1.0zM362.9 86.9h1.0v1.0h-1.0zM365.1 70.6h1.0v1.0h-1.0zM359.4 57.2h1.0v1.0h-1.0zM361.3 59.2h1.0v1.0h-1.0zM360.4 72.6h1.0v1.0h-1.0zM361.1 76.1h1.0v1.0h-1.0zM354.9 54.5h1.0v1.0h-1.0zM365.8 41.4h1.0v1.0h-1.0zM359.4 45.1h1.0v1.0h-1.0zM368.9 83.1h1.0v1.0h-1.0zM361.8 37.5h1.0v1.0h-1.0zM359.7 40.1h1.0v1.0h-1.0zM365.2 75.3h1.0v1.0h-1.0zM365.7 48.1h1.0v1.0h-1.0zM357.9 83.9h1.0v1.0h-1.0zM362.6 75.4h1.0v1.0h-1.0zM358.0 80.9h1.0v1.0h-1.0zM362.8 46.8h1.0v1.0h-1.0zM368.3 84.2h1.0v1.0h-1.0zM363.9 43.4h1.0v1.0h-1.0zM365.9 50.5h1.0v1.0h-1.0zM362.1 43.7h1.0v1.0h-1.0zM363.5 80.4h1.0v1.0h-1.0zM359.4 89.1h1.0v1.0h-1.0zM368.6 53.6h1.0v1.0h-1.0zM358.5 41.3h1.0v1.0h-1.0zM364.5 42.9h1.0v1.0h-1.0zM368.9 81.3h1.0v1.0h-1.0zM364.1 51.0h1.0v1.0h-1.0zM358.1 84.2h1.0v1.0h-1.0zM365.8 45.7h1.0v1.0h-1.0zM360.1 37.7h1.0v1.0h-1.0zM354.1 47.5h1.0v1.0h-1.0zM357.1 46.6h1.0v1.0h-1.0zM364.7 51.1h1.0v1.0h-1.0zM366.2 37.1h1.0v1.0h-1.0zM363.6 47.9h1.0v1.0h-1.0zM365.2 78.7h1.0v1.0h-1.0zM360.7 46.2h1.0v1.0h-1.0zM360.3 74.4h1.0v1.0h-1.0zM365.3 44.6h1.0v1.0h-1.0zM366.6 48.2h1.0v1.0h-1.0zM359.0 70.3h1.0v1.0h-1.0zM364.7 58.0h1.0v1.0h-1.0zM360.6 34.8h1.0v1.0h-1.0zM359.5 48.6h1.0v1.0h-1.0zM358.2 46.0h1.0v1.0h-1.0zM362.9 73.8h1.0v1.0h-1.0zM358.2 42.9h1.0v1.0h-1.0zM361.5 47.9h1.0v1.0h-1.0zM363.1 38.2h1.0v1.0h-1.0zM361.9 76.9h1.0v1.0h-1.0zM364.2 37.8h1.0v1.0h-1.0zM360.0 76.5h1.0v1.0h-1.0zM364.3 76.9h1.0v1.0h-1.0zM360.0 47.2h1.0v1.0h-1.0zM366.4 91.4h1.0v1.0h-1.0zM360.9 86.9h1.0v1.0h-1.0zM358.2 56.3h1.0v1.0h-1.0zM360.8 79.8h1.0v1.0h-1.0zM366.6 77.6h1.0v1.0h-1.0zM368.6 42.4h1.0v1.0h-1.0zM365.3 39.6h1.0v1.0h-1.0zM361.0 49.9h1.0v1.0h-1.0zM367.7 42.3h1.0v1.0h-1.0zM362.8 74.0h1.0v1.0h-1.0zM362.7 43.7h1.0v1.0h-1.0zM365.4 38.8h1.0v1.0h-1.0zM368.4 84.3h1.0v1.0h-1.0zM365.2 41.1h1.0v1.0h-1.0zM365.9 43.5h1.0v1.0h-1.0zM366.1 51.2h1.0v1.0h-1.0zM368.2 40.6h1.0v1.0h-1.0zM358.9 51.5h1.0v1.0h-1.0zM360.6 45.8h1.0v1.0h-1.0zM360.3 76.6h1.0v1.0h-1.0zM367.1 41.0h1.0v1.0h-1.0zM363.1 82.7h1.0v1.0h-1.0zM356.5 38.3h1.0v1.0h-1.0zM367.2 89.5h1.0v1.0h-1.0zM358.3 77.8h1.0v1.0h-1.0zM363.9 47.1h1.0v1.0h-1.0zM358.8 81.4h1.0v1.0h-1.0zM367.1 42.7h1.0v1.0h-1.0zM362.5 64.9h1.0v1.0h-1.0zM358.4 34.8h1.0v1.0h-1.0zM366.5 40.0h1.0v1.0h-1.0zM368.0 47.4h1.0v1.0h-1.0zM367.7 39.5h1.0v1.0h-1.0zM361.6 46.7h1.0v1.0h-1.0zM362.8 44.4h1.0v1.0h-1.0zM361.6 36.0h1.0v1.0h-1.0zM363.6 73.5h1.0v1.0h-1.0zM363.1 41.6h1.0v1.0h-1.0zM358.7 71.1h1.0v1.0h-1.0zM358.9 77.6h1.0v1.0h-1.0zM367.3 47.6h1.0v1.0h-1.0zM363.0 39.2h1.0v1.0h-1.0zM361.7 47.9h1.0v1.0h-1.0zM363.7 78.6h1.0v1.0h-1.0zM362.2 82.2h1.0v1.0h-1.0zM360.7 51.3h1.0v1.0h-1.0zM360.5 82.9h1.0v1.0h-1.0zM364.8 51.0h1.0v1.0h-1.0zM360.6 85.0h1.0v1.0h-1.0zM358.8 81.9h1.0v1.0h-1.0zM356.4 75.8h1.0v1.0h-1.0zM361.6 59.1h1.0v1.0h-1.0zM365.6 88.5h1.0v1.0h-1.0zM366.6 32.6h1.0v1.0h-1.0zM361.3 85.1h1.0v1.0h-1.0zM368.8 52.3h1.0v1.0h-1.0zM359.6 42.5h1.0v1.0h-1.0zM357.6 85.1h1.0v1.0h-1.0zM368.7 84.4h1.0v1.0h-1.0zM364.0 75.0h1.0v1.0h-1.0zM367.0 42.2h1.0v1.0h-1.0zM362.8 78.5h1.0v1.0h-1.0zM359.4 76.2h1.0v1.0h-1.0zM362.0 73.8h1.0v1.0h-1.0zM356.6 78.0h1.0v1.0h-1.0zM362.4 68.6h1.0v1.0h-1.0zM366.5 34.3h1.0v1.0h-1.0zM362.6 81.6h1.0v1.0h-1.0zM364.6 79.8h1.0v1.0h-1.0zM361.9 47.9h1.0v1.0h-1.0zM365.0 32.8h1.0v1.0h-1.0zM365.2 43.3h1.0v1.0h-1.0zM358.0 50.5h1.0v1.0h-1.0zM366.9 46.3h1.0v1.0h-1.0zM364.5 53.2h1.0v1.0h-1.0zM358.3 45.8h1.0v1.0h-1.0zM364.2 75.7h1.0v1.0h-1.0zM368.7 43.1h1.0v1.0h-1.0zM361.5 84.6h1.0v1.0h-1.0zM358.5 83.1h1.0v1.0h-1.0zM357.3 82.4h1.0v1.0h-1.0zM367.3 45.5h1.0v1.0h-1.0zM366.8 54.0h1.0v1.0h-1.0zM359.8 70.8h1.0v1.0h-1.0zM362.8 44.2h1.0v1.0h-1.0zM367.9 43.2h1.0v1.0h-1.0zM360.6 82.9h1.0v1.0h-1.0zM361.3 71.5h1.0v1.0h-1.0zM359.5 54.6h1.0v1.0h-1.0zM355.6 79.6h1.0v1.0h-1.0zM368.3 39.3h1.0v1.0h-1.0zM360.5 86.1h1.0v1.0h-1.0zM361.2 45.7h1.0v1.0h-1.0zM367.1 58.3h1.0v1.0h-1.0zM357.1 46.0h1.0v1.0h-1.0zM363.8 40.5h1.0v1.0h-1.0zM359.7 37.4h1.0v1.0h-1.0zM362.1 82.2h1.0v1.0h-1.0zM362.0 41.2h1.0v1.0h-1.0zM358.5 50.9h1.0v1.0h-1.0zM366.6 81.8h1.0v1.0h-1.0zM364.2 75.6h1.0v1.0h-1.0zM361.5 85.6h1.0v1.0h-1.0zM363.1 40.1h1.0v1.0h-1.0zM360.7 78.1h1.0v1.0h-1.0zM363.4 66.4h1.0v1.0h-1.0zM360.5 46.6h1.0v1.0h-1.0zM367.3 67.5h1.0v1.0h-1.0zM367.5 54.0h1.0v1.0h-1.0zM362.4 53.4h1.0v1.0h-1.0zM367.4 55.7h1.0v1.0h-1.0zM358.7 75.4h1.0v1.0h-1.0zM366.0 72.8h1.0v1.0h-1.0zM358.8 49.7h1.0v1.0h-1.0zM360.2 89.8h1.0v1.0h-1.0zM366.8 50.0h1.0v1.0h-1.0zM362.9 46.7h1.0v1.0h-1.0zM366.5 71.1h1.0v1.0h-1.0zM363.2 47.3h1.0v1.0h-1.0zM360.1 42.1h1.0v1.0h-1.0zM367.8 47.0h1.0v1.0h-1.0zM365.1 55.8h1.0v1.0h-1.0zM364.1 51.6h1.0v1.0h-1.0zM357.6 51.5h1.0v1.0h-1.0zM362.1 46.4h1.0v1.0h-1.0zM364.4 47.4h1.0v1.0h-1.0zM360.1 60.6h1.0v1.0h-1.0zM362.5 72.4h1.0v1.0h-1.0zM363.4 54.5h1.0v1.0h-1.0zM359.5 79.4h1.0v1.0h-1.0zM360.1 68.1h1.0v1.0h-1.0zM367.2 47.5h1.0v1.0h-1.0zM363.9 46.8h1.0v1.0h-1.0zM360.4 52.2h1.0v1.0h-1.0zM366.6 78.9h1.0v1.0h-1.0zM363.0 35.5h1.0v1.0h-1.0zM358.0 77.2h1.0v1.0h-1.0zM365.6 65.6h1.0v1.0h-1.0zM354.5 40.4h1.0v1.0h-1.0zM362.4 39.3h1.0v1.0h-1.0zM362.6 37.8h1.0v1.0h-1.0zM360.1 35.5h1.0v1.0h-1.0zM368.9 81.5h1.0v1.0h-1.0zM365.4 42.3h1.0v1.0h-1.0zM358.4 73.4h1.0v1.0h-1.0zM365.5 83.6h1.0v1.0h-1.0zM367.4 74.8h1.0v1.0h-1.0zM368.2 44.3h1.0v1.0h-1.0zM367.8 43.4h1.0v1.0h-1.0zM361.3 49.2h1.0v1.0h-1.0zM361.0 84.6h1.0v1.0h-1.0zM359.3 46.2h1.0v1.0h-1.0zM364.2 76.2h1.0v1.0h-1.0zM363.1 40.6h1.0v1.0h-1.0zM367.2 73.7h1.0v1.0h-1.0zM362.2 64.6h1.0v1.0h-1.0zM363.1 46.1h1.0v1.0h-1.0zM355.6 57.9h1.0v1.0h-1.0zM361.2 83.1h1.0v1.0h-1.0zM364.4 44.1h1.0v1.0h-1.0zM359.3 56.7h1.0v1.0h-1.0zM364.0 46.7h1.0v1.0h-1.0zM363.0 35.7h1.0v1.0h-1.0zM358.6 81.0h1.0v1.0h-1.0zM365.1 78.0h1.0v1.0h-1.0zM364.2 48.2h1.0v1.0h-1.0zM358.5 51.3h1.0v1.0h-1.0zM360.3 41.1h1.0v1.0h-1.0zM358.4 43.6h1.0v1.0h-1.0zM360.9 86.4h1.0v1.0h-1.0zM360.4 33.5h1.0v1.0h-1.0zM361.8 79.6h1.0v1.0h-1.0zM364.9 50.2h1.0v1.0h-1.0zM365.8 43.9h1.0v1.0h-1.0zM366.1 40.5h1.0v1.0h-1.0zM368.6 82.5h1.0v1.0h-1.0zM363.2 76.6h1.0v1.0h-1.0z" fill="#000" fill-opacity="0.38"/>
<path d="M355.2 80.3h1.0v1.0h-1.0zM351.0 36.3h1.0v1.0h-1.0zM356.2 80.9h1.0v1.0h-1.0zM349.2 68.8h1.0v1.0h-1.0zM358.8 67.3h1.0v1.0h-1.0zM349.9 60.8h1.0v1.0h-1.0zM354.5 75.8h1.0v1.0h-1.0zM354.6 57.3h1.0v1.0h-1.0zM351.9 40.0h1.0v1.0h-1.0zM357.1 82.6h1.0v1.0h-1.0zM358.4 59.0h1.0v1.0h-1.0zM365.3 61.6h1.0v1.0h-1.0zM355.2 69.1h1.0v1.0h-1.0zM365.9 83.8h1.0v1.0h-1.0zM360.5 68.5h1.0v1.0h-1.0zM350.5 85.8h1.0v1.0h-1.0zM356.4 63.4h1.0v1.0h-1.0zM361.6 66.0h1.0v1.0h-1.0zM357.3 87.5h1.0v1.0h-1.0zM358.7 74.7h1.0v1.0h-1.0zM353.2 44.7h1.0v1.0h-1.0zM362.6 51.5h1.0v1.0h-1.0zM356.0 64.1h1.0v1.0h-1.0zM355.6 52.2h1.0v1.0h-1.0zM369.8 69.0h1.0v1.0h-1.0zM350.4 55.5h1.0v1.0h-1.0zM352.3 79.2h1.0v1.0h-1.0zM352.7 71.5h1.0v1.0h-1.0zM359.6 75.7h1.0v1.0h-1.0zM362.6 62.8h1.0v1.0h-1.0zM359.5 74.4h1.0v1.0h-1.0zM359.6 79.1h1.0v1.0h-1.0zM366.0 80.9h1.0v1.0h-1.0zM355.4 50.0h1.0v1.0h-1.0zM360.7 59.5h1.0v1.0h-1.0zM352.0 59.8h1.0v1.0h-1.0zM351.9 51.8h1.0v1.0h-1.0zM357.3 54.1h1.0v1.0h-1.0zM359.5 54.4h1.0v1.0h-1.0zM364.5 64.7h1.0v1.0h-1.0zM361.4 60.5h1.0v1.0h-1.0zM368.6 64.6h1.0v1.0h-1.0zM354.7 64.9h1.0v1.0h-1.0zM367.7 55.1h1.0v1.0h-1.0zM349.2 56.1h1.0v1.0h-1.0zM360.6 57.9h1.0v1.0h-1.0zM354.9 62.3h1.0v1.0h-1.0zM354.0 60.8h1.0v1.0h-1.0zM349.1 74.9h1.0v1.0h-1.0zM356.0 58.9h1.0v1.0h-1.0zM368.1 69.6h1.0v1.0h-1.0zM362.5 58.6h1.0v1.0h-1.0zM352.3 49.7h1.0v1.0h-1.0zM364.2 59.6h1.0v1.0h-1.0zM359.1 45.7h1.0v1.0h-1.0zM367.9 51.6h1.0v1.0h-1.0zM355.6 51.2h1.0v1.0h-1.0zM353.6 55.8h1.0v1.0h-1.0zM359.5 51.2h1.0v1.0h-1.0zM369.8 69.8h1.0v1.0h-1.0zM356.8 73.7h1.0v1.0h-1.0zM350.6 88.5h1.0v1.0h-1.0zM369.0 48.0h1.0v1.0h-1.0zM356.9 40.2h1.0v1.0h-1.0zM363.0 43.2h1.0v1.0h-1.0zM365.6 86.6h1.0v1.0h-1.0zM353.9 91.2h1.0v1.0h-1.0zM358.7 78.0h1.0v1.0h-1.0zM366.8 78.4h1.0v1.0h-1.0zM360.1 48.0h1.0v1.0h-1.0zM364.2 36.2h1.0v1.0h-1.0zM358.4 48.3h1.0v1.0h-1.0zM355.5 83.9h1.0v1.0h-1.0zM351.8 45.2h1.0v1.0h-1.0zM352.7 62.0h1.0v1.0h-1.0zM356.2 51.5h1.0v1.0h-1.0zM353.7 40.1h1.0v1.0h-1.0zM363.4 71.5h1.0v1.0h-1.0zM361.8 67.7h1.0v1.0h-1.0zM361.1 41.6h1.0v1.0h-1.0zM371.0 77.6h1.0v1.0h-1.0zM363.4 46.1h1.0v1.0h-1.0zM367.7 51.3h1.0v1.0h-1.0zM360.7 54.2h1.0v1.0h-1.0zM362.6 44.7h1.0v1.0h-1.0zM361.3 74.8h1.0v1.0h-1.0zM358.1 49.4h1.0v1.0h-1.0zM356.5 58.2h1.0v1.0h-1.0zM369.0 56.7h1.0v1.0h-1.0zM359.1 66.4h1.0v1.0h-1.0zM355.0 44.0h1.0v1.0h-1.0zM361.2 38.5h1.0v1.0h-1.0zM350.4 71.0h1.0v1.0h-1.0zM360.5 58.9h1.0v1.0h-1.0zM353.3 68.3h1.0v1.0h-1.0zM356.6 77.7h1.0v1.0h-1.0zM352.8 40.8h1.0v1.0h-1.0zM356.2 61.0h1.0v1.0h-1.0zM365.3 43.7h1.0v1.0h-1.0zM360.0 83.8h1.0v1.0h-1.0zM354.1 59.6h1.0v1.0h-1.0zM370.7 55.4h1.0v1.0h-1.0zM349.5 36.9h1.0v1.0h-1.0zM364.2 34.0h1.0v1.0h-1.0zM366.7 65.3h1.0v1.0h-1.0zM359.8 81.3h1.0v1.0h-1.0zM368.7 52.3h1.0v1.0h-1.0zM352.5 68.0h1.0v1.0h-1.0zM359.0 76.8h1.0v1.0h-1.0zM358.7 45.9h1.0v1.0h-1.0zM354.3 66.9h1.0v1.0h-1.0zM349.4 66.1h1.0v1.0h-1.0zM358.2 64.4h1.0v1.0h-1.0zM362.1 37.4h1.0v1.0h-1.0zM369.4 66.5h1.0v1.0h-1.0zM363.8 62.2h1.0v1.0h-1.0zM352.4 42.6h1.0v1.0h-1.0zM357.7 81.4h1.0v1.0h-1.0zM360.0 45.3h1.0v1.0h-1.0zM363.7 62.2h1.0v1.0h-1.0zM370.5 32.4h1.0v1.0h-1.0zM355.9 64.1h1.0v1.0h-1.0zM365.6 65.4h1.0v1.0h-1.0zM352.9 89.3h1.0v1.0h-1.0zM368.1 70.3h1.0v1.0h-1.0zM369.0 42.0h1.0v1.0h-1.0zM357.6 32.2h1.0v1.0h-1.0zM351.6 62.8h1.0v1.0h-1.0zM365.0 42.8h1.0v1.0h-1.0zM351.8 62.6h1.0v1.0h-1.0zM368.6 50.5h1.0v1.0h-1.0zM354.2 60.9h1.0v1.0h-1.0zM352.4 49.2h1.0v1.0h-1.0zM366.3 58.2h1.0v1.0h-1.0zM353.4 58.0h1.0v1.0h-1.0zM357.5 41.5h1.0v1.0h-1.0zM367.3 87.3h1.0v1.0h-1.0zM354.0 41.0h1.0v1.0h-1.0z" fill="#000" fill-opacity="0.3"/>
<path d="M354.8 73.6h1.0v1.0h-1.0zM362.4 90.2h1.0v1.0h-1.0zM355.0 65.7h1.0v1.0h-1.0zM365.7 47.3h1.0v1.0h-1.0zM363.9 48.3h1.0v1.0h-1.0zM355.7 63.3h1.0v1.0h-1.0zM365.5 40.5h1.0v1.0h-1.0zM354.1 71.2h1.0v1.0h-1.0zM351.6 57.8h1.0v1.0h-1.0zM356.6 89.3h1.0v1.0h-1.0zM352.2 65.9h1.0v1.0h-1.0zM361.3 58.8h1.0v1.0h-1.0zM359.3 63.0h1.0v1.0h-1.0zM356.0 41.3h1.0v1.0h-1.0zM356.5 39.9h1.0v1.0h-1.0zM363.8 46.9h1.0v1.0h-1.0zM356.8 73.0h1.0v1.0h-1.0zM361.9 66.9h1.0v1.0h-1.0zM359.1 48.9h1.0v1.0h-1.0zM360.2 54.9h1.0v1.0h-1.0zM358.2 66.9h1.0v1.0h-1.0zM360.5 69.6h1.0v1.0h-1.0zM360.7 46.5h1.0v1.0h-1.0zM359.1 67.3h1.0v1.0h-1.0zM360.6 76.9h1.0v1.0h-1.0zM354.5 80.2h1.0v1.0h-1.0zM362.2 78.5h1.0v1.0h-1.0zM359.3 48.0h1.0v1.0h-1.0zM362.0 70.0h1.0v1.0h-1.0zM362.3 67.3h1.0v1.0h-1.0zM369.0 51.5h1.0v1.0h-1.0zM356.8 62.6h1.0v1.0h-1.0zM358.5 33.6h1.0v1.0h-1.0zM369.5 65.4h1.0v1.0h-1.0zM356.9 43.3h1.0v1.0h-1.0zM356.8 55.0h1.0v1.0h-1.0zM356.6 61.3h1.0v1.0h-1.0zM357.9 69.8h1.0v1.0h-1.0zM362.3 62.5h1.0v1.0h-1.0zM362.8 91.6h1.0v1.0h-1.0zM358.4 50.8h1.0v1.0h-1.0zM358.0 68.6h1.0v1.0h-1.0zM354.4 62.1h1.0v1.0h-1.0zM351.4 45.0h1.0v1.0h-1.0zM362.2 52.4h1.0v1.0h-1.0zM364.1 63.6h1.0v1.0h-1.0zM361.9 71.3h1.0v1.0h-1.0zM361.9 39.2h1.0v1.0h-1.0zM362.2 60.2h1.0v1.0h-1.0zM363.5 88.5h1.0v1.0h-1.0zM359.4 74.7h1.0v1.0h-1.0zM350.1 59.9h1.0v1.0h-1.0zM372.0 38.4h1.0v1.0h-1.0zM351.2 79.7h1.0v1.0h-1.0zM362.9 57.2h1.0v1.0h-1.0zM357.6 60.0h1.0v1.0h-1.0zM351.7 42.9h1.0v1.0h-1.0zM363.6 51.8h1.0v1.0h-1.0zM364.5 49.1h1.0v1.0h-1.0zM365.1 49.8h1.0v1.0h-1.0zM361.4 36.2h1.0v1.0h-1.0zM357.6 47.1h1.0v1.0h-1.0zM357.3 55.4h1.0v1.0h-1.0zM358.5 67.7h1.0v1.0h-1.0zM350.3 51.0h1.0v1.0h-1.0zM361.3 87.2h1.0v1.0h-1.0zM356.4 81.8h1.0v1.0h-1.0zM364.8 61.9h1.0v1.0h-1.0zM361.8 50.6h1.0v1.0h-1.0zM357.3 38.5h1.0v1.0h-1.0zM353.7 62.9h1.0v1.0h-1.0zM361.1 64.1h1.0v1.0h-1.0zM362.6 60.7h1.0v1.0h-1.0zM352.1 62.0h1.0v1.0h-1.0zM363.5 61.3h1.0v1.0h-1.0zM356.4 63.6h1.0v1.0h-1.0zM363.0 60.8h1.0v1.0h-1.0zM354.7 78.4h1.0v1.0h-1.0zM357.4 43.0h1.0v1.0h-1.0zM359.1 72.8h1.0v1.0h-1.0zM354.5 88.9h1.0v1.0h-1.0zM358.3 53.3h1.0v1.0h-1.0zM355.6 52.8h1.0v1.0h-1.0zM357.5 83.4h1.0v1.0h-1.0zM356.4 73.7h1.0v1.0h-1.0zM371.2 50.1h1.0v1.0h-1.0zM354.6 75.5h1.0v1.0h-1.0zM357.4 80.4h1.0v1.0h-1.0zM355.6 63.2h1.0v1.0h-1.0zM360.1 82.0h1.0v1.0h-1.0zM364.8 67.3h1.0v1.0h-1.0zM358.1 57.8h1.0v1.0h-1.0zM353.7 60.7h1.0v1.0h-1.0zM369.9 59.6h1.0v1.0h-1.0zM359.9 47.2h1.0v1.0h-1.0zM356.0 85.2h1.0v1.0h-1.0zM369.1 91.2h1.0v1.0h-1.0zM370.1 67.9h1.0v1.0h-1.0zM360.0 60.8h1.0v1.0h-1.0zM356.0 48.8h1.0v1.0h-1.0zM359.4 70.9h1.0v1.0h-1.0zM355.5 71.2h1.0v1.0h-1.0zM366.7 70.0h1.0v1.0h-1.0zM355.4 69.0h1.0v1.0h-1.0zM354.0 63.5h1.0v1.0h-1.0zM353.3 58.0h1.0v1.0h-1.0zM358.0 56.9h1.0v1.0h-1.0zM363.8 66.7h1.0v1.0h-1.0zM351.5 66.5h1.0v1.0h-1.0zM360.7 63.0h1.0v1.0h-1.0zM352.5 46.7h1.0v1.0h-1.0zM359.6 80.7h1.0v1.0h-1.0zM356.8 39.0h1.0v1.0h-1.0zM358.1 71.8h1.0v1.0h-1.0zM356.6 64.8h1.0v1.0h-1.0zM357.7 62.4h1.0v1.0h-1.0zM359.7 59.8h1.0v1.0h-1.0zM354.3 76.7h1.0v1.0h-1.0zM355.0 70.9h1.0v1.0h-1.0zM351.3 50.6h1.0v1.0h-1.0zM363.5 62.5h1.0v1.0h-1.0zM361.2 43.5h1.0v1.0h-1.0zM354.4 68.1h1.0v1.0h-1.0zM350.8 44.5h1.0v1.0h-1.0zM352.4 63.5h1.0v1.0h-1.0zM361.0 77.1h1.0v1.0h-1.0zM351.4 74.6h1.0v1.0h-1.0zM359.2 65.7h1.0v1.0h-1.0zM359.3 72.2h1.0v1.0h-1.0zM363.9 49.5h1.0v1.0h-1.0zM358.2 77.7h1.0v1.0h-1.0zM353.2 88.4h1.0v1.0h-1.0zM355.2 86.3h1.0v1.0h-1.0zM358.6 58.5h1.0v1.0h-1.0zM357.1 42.0h1.0v1.0h-1.0zM354.8 63.5h1.0v1.0h-1.0zM368.8 85.8h1.0v1.0h-1.0zM354.4 60.8h1.0v1.0h-1.0z" fill="#000" fill-opacity="0.3"/>
<path d="M363.1 69.2h1.0v1.0h-1.0zM364.7 91.3h1.0v1.0h-1.0zM363.5 54.1h1.0v1.0h-1.0zM365.3 68.4h1.0v1.0h-1.0zM360.6 74.1h1.0v1.0h-1.0zM360.4 40.4h1.0v1.0h-1.0zM368.6 56.5h1.0v1.0h-1.0zM367.6 69.7h1.0v1.0h-1.0zM354.7 85.6h1.0v1.0h-1.0zM355.7 35.2h1.0v1.0h-1.0zM354.9 50.4h1.0v1.0h-1.0zM353.6 47.2h1.0v1.0h-1.0zM358.4 70.2h1.0v1.0h-1.0zM351.9 47.8h1.0v1.0h-1.0zM358.4 56.4h1.0v1.0h-1.0zM352.3 73.3h1.0v1.0h-1.0zM359.7 51.2h1.0v1.0h-1.0zM356.2 45.8h1.0v1.0h-1.0zM355.9 78.0h1.0v1.0h-1.0zM355.5 58.2h1.0v1.0h-1.0zM359.4 69.4h1.0v1.0h-1.0zM362.7 63.9h1.0v1.0h-1.0zM358.9 69.2h1.0v1.0h-1.0zM357.5 70.1h1.0v1.0h-1.0zM355.3 88.8h1.0v1.0h-1.0zM350.8 69.3h1.0v1.0h-1.0zM359.5 78.5h1.0v1.0h-1.0zM365.6 60.1h1.0v1.0h-1.0zM355.4 47.8h1.0v1.0h-1.0zM367.0 62.1h1.0v1.0h-1.0zM371.2 51.6h1.0v1.0h-1.0zM356.4 80.1h1.0v1.0h-1.0zM359.1 88.4h1.0v1.0h-1.0zM358.9 32.9h1.0v1.0h-1.0zM357.8 77.5h1.0v1.0h-1.0zM357.0 84.8h1.0v1.0h-1.0zM364.3 67.4h1.0v1.0h-1.0zM356.8 46.5h1.0v1.0h-1.0zM364.2 57.5h1.0v1.0h-1.0zM369.4 61.2h1.0v1.0h-1.0zM357.8 69.1h1.0v1.0h-1.0zM351.8 44.3h1.0v1.0h-1.0zM371.0 62.4h1.0v1.0h-1.0zM355.4 67.1h1.0v1.0h-1.0zM351.5 60.2h1.0v1.0h-1.0zM369.0 46.7h1.0v1.0h-1.0zM350.1 48.9h1.0v1.0h-1.0zM357.8 67.0h1.0v1.0h-1.0zM362.1 65.4h1.0v1.0h-1.0zM367.4 82.9h1.0v1.0h-1.0zM360.6 73.5h1.0v1.0h-1.0zM358.5 47.9h1.0v1.0h-1.0zM362.5 80.9h1.0v1.0h-1.0zM368.4 73.6h1.0v1.0h-1.0zM366.6 56.5h1.0v1.0h-1.0zM354.9 65.0h1.0v1.0h-1.0zM356.6 58.6h1.0v1.0h-1.0zM356.4 47.0h1.0v1.0h-1.0zM359.0 75.4h1.0v1.0h-1.0zM353.1 91.3h1.0v1.0h-1.0zM359.8 83.6h1.0v1.0h-1.0zM349.4 78.7h1.0v1.0h-1.0zM353.8 59.8h1.0v1.0h-1.0zM357.8 77.0h1.0v1.0h-1.0zM360.0 77.5h1.0v1.0h-1.0zM361.1 58.4h1.0v1.0h-1.0zM352.7 44.8h1.0v1.0h-1.0zM366.9 50.2h1.0v1.0h-1.0zM359.9 48.2h1.0v1.0h-1.0zM357.2 63.2h1.0v1.0h-1.0zM361.3 54.9h1.0v1.0h-1.0zM350.6 78.5h1.0v1.0h-1.0zM359.5 39.6h1.0v1.0h-1.0zM361.4 58.4h1.0v1.0h-1.0zM353.7 74.8h1.0v1.0h-1.0zM357.9 61.4h1.0v1.0h-1.0zM361.1 56.1h1.0v1.0h-1.0zM351.5 58.9h1.0v1.0h-1.0zM359.7 47.6h1.0v1.0h-1.0zM356.5 49.7h1.0v1.0h-1.0zM357.4 68.4h1.0v1.0h-1.0zM370.8 61.3h1.0v1.0h-1.0zM361.4 86.1h1.0v1.0h-1.0zM349.8 58.0h1.0v1.0h-1.0zM360.7 50.0h1.0v1.0h-1.0zM362.6 70.3h1.0v1.0h-1.0zM358.9 68.4h1.0v1.0h-1.0zM357.4 48.8h1.0v1.0h-1.0zM349.8 47.4h1.0v1.0h-1.0zM349.9 51.9h1.0v1.0h-1.0zM361.3 53.2h1.0v1.0h-1.0zM357.2 92.2h1.0v1.0h-1.0zM359.6 41.3h1.0v1.0h-1.0zM357.1 57.7h1.0v1.0h-1.0zM359.1 61.6h1.0v1.0h-1.0zM353.5 50.0h1.0v1.0h-1.0zM351.3 44.1h1.0v1.0h-1.0zM369.8 53.9h1.0v1.0h-1.0zM352.8 55.2h1.0v1.0h-1.0zM356.3 44.7h1.0v1.0h-1.0zM359.5 78.0h1.0v1.0h-1.0zM363.7 49.0h1.0v1.0h-1.0zM356.6 52.6h1.0v1.0h-1.0zM361.0 45.1h1.0v1.0h-1.0zM356.8 53.9h1.0v1.0h-1.0zM353.2 67.7h1.0v1.0h-1.0zM354.4 60.8h1.0v1.0h-1.0zM358.5 78.7h1.0v1.0h-1.0zM356.4 59.7h1.0v1.0h-1.0zM360.9 62.9h1.0v1.0h-1.0zM354.1 70.2h1.0v1.0h-1.0zM359.4 78.9h1.0v1.0h-1.0zM354.5 66.9h1.0v1.0h-1.0zM365.6 61.5h1.0v1.0h-1.0zM369.1 85.0h1.0v1.0h-1.0zM362.5 50.2h1.0v1.0h-1.0zM353.3 72.1h1.0v1.0h-1.0zM351.6 56.6h1.0v1.0h-1.0zM359.5 51.1h1.0v1.0h-1.0zM361.6 55.9h1.0v1.0h-1.0zM363.1 66.5h1.0v1.0h-1.0zM361.0 46.0h1.0v1.0h-1.0zM363.5 59.5h1.0v1.0h-1.0zM350.9 60.4h1.0v1.0h-1.0zM360.9 90.7h1.0v1.0h-1.0zM360.6 38.4h1.0v1.0h-1.0zM352.8 88.5h1.0v1.0h-1.0zM359.6 71.9h1.0v1.0h-1.0zM363.2 69.8h1.0v1.0h-1.0zM356.1 46.2h1.0v1.0h-1.0zM363.3 84.1h1.0v1.0h-1.0zM362.5 43.1h1.0v1.0h-1.0zM358.8 32.7h1.0v1.0h-1.0zM350.2 62.9h1.0v1.0h-1.0zM359.7 58.1h1.0v1.0h-1.0zM362.8 75.6h1.0v1.0h-1.0zM359.5 63.2h1.0v1.0h-1.0z" fill="#000" fill-opacity="0.3"/>
<path d="M315.4 166.3h1.0v1.0h-1.0zM277.1 165.1h1.0v1.0h-1.0zM286.3 165.0h1.0v1.0h-1.0zM292.2 168.4h1.0v1.0h-1.0zM307.7 164.3h1.0v1.0h-1.0zM304.6 167.5h1.0v1.0h-1.0zM310.3 164.2h1.0v1.0h-1.0zM305.1 173.5h1.0v1.0h-1.0zM291.8 169.8h1.0v1.0h-1.0zM328.5 166.3h1.0v1.0h-1.0zM283.3 164.3h1.0v1.0h-1.0zM289.5 160.2h1.0v1.0h-1.0zM322.8 165.0h1.0v1.0h-1.0zM312.2 165.3h1.0v1.0h-1.0zM295.0 160.4h1.0v1.0h-1.0zM299.9 165.9h1.0v1.0h-1.0zM293.2 160.8h1.0v1.0h-1.0zM290.9 165.9h1.0v1.0h-1.0zM312.9 166.8h1.0v1.0h-1.0zM312.7 168.5h1.0v1.0h-1.0zM298.4 165.2h1.0v1.0h-1.0zM284.9 162.0h1.0v1.0h-1.0zM317.7 173.9h1.0v1.0h-1.0zM282.4 159.0h1.0v1.0h-1.0zM286.2 158.6h1.0v1.0h-1.0zM312.3 167.3h1.0v1.0h-1.0zM288.5 157.4h1.0v1.0h-1.0zM284.4 156.4h1.0v1.0h-1.0zM287.7 170.7h1.0v1.0h-1.0zM278.1 163.1h1.0v1.0h-1.0zM308.0 165.2h1.0v1.0h-1.0zM300.4 157.5h1.0v1.0h-1.0zM292.3 161.5h1.0v1.0h-1.0zM300.0 161.3h1.0v1.0h-1.0zM303.6 168.8h1.0v1.0h-1.0zM286.2 164.2h1.0v1.0h-1.0zM295.6 161.5h1.0v1.0h-1.0zM289.9 160.1h1.0v1.0h-1.0zM317.8 158.9h1.0v1.0h-1.0zM313.1 163.9h1.0v1.0h-1.0zM296.7 169.3h1.0v1.0h-1.0zM300.3 163.0h1.0v1.0h-1.0zM303.5 163.3h1.0v1.0h-1.0zM317.5 161.0h1.0v1.0h-1.0zM301.0 160.4h1.0v1.0h-1.0zM299.5 171.3h1.0v1.0h-1.0zM282.0 162.1h1.0v1.0h-1.0zM293.7 157.2h1.0v1.0h-1.0zM290.2 161.0h1.0v1.0h-1.0zM285.8 160.6h1.0v1.0h-1.0zM273.2 156.0h1.0v1.0h-1.0zM300.8 162.2h1.0v1.0h-1.0zM302.6 169.7h1.0v1.0h-1.0zM301.9 166.2h1.0v1.0h-1.0zM297.9 156.1h1.0v1.0h-1.0zM311.0 161.7h1.0v1.0h-1.0zM309.8 163.8h1.0v1.0h-1.0zM315.1 170.1h1.0v1.0h-1.0zM330.1 167.7h1.0v1.0h-1.0zM283.7 158.4h1.0v1.0h-1.0zM303.8 172.5h1.0v1.0h-1.0zM296.0 160.8h1.0v1.0h-1.0zM291.9 164.8h1.0v1.0h-1.0zM313.4 157.3h1.0v1.0h-1.0zM301.8 160.3h1.0v1.0h-1.0zM285.9 160.6h1.0v1.0h-1.0zM304.3 162.8h1.0v1.0h-1.0zM317.0 163.2h1.0v1.0h-1.0zM316.5 167.2h1.0v1.0h-1.0zM303.9 170.7h1.0v1.0h-1.0zM304.2 169.5h1.0v1.0h-1.0zM302.5 165.1h1.0v1.0h-1.0zM283.1 163.1h1.0v1.0h-1.0zM289.4 161.9h1.0v1.0h-1.0zM285.6 166.9h1.0v1.0h-1.0zM293.0 170.5h1.0v1.0h-1.0zM313.0 164.0h1.0v1.0h-1.0zM291.1 161.5h1.0v1.0h-1.0zM301.4 167.0h1.0v1.0h-1.0zM315.5 174.4h1.0v1.0h-1.0zM300.1 163.0h1.0v1.0h-1.0zM279.4 172.0h1.0v1.0h-1.0zM291.1 162.6h1.0v1.0h-1.0zM306.8 164.6h1.0v1.0h-1.0zM286.4 164.1h1.0v1.0h-1.0zM318.0 164.5h1.0v1.0h-1.0zM315.4 161.1h1.0v1.0h-1.0zM277.5 165.2h1.0v1.0h-1.0zM288.1 167.2h1.0v1.0h-1.0zM304.0 167.2h1.0v1.0h-1.0zM299.8 168.0h1.0v1.0h-1.0zM307.2 162.8h1.0v1.0h-1.0zM303.5 162.7h1.0v1.0h-1.0zM290.7 167.3h1.0v1.0h-1.0zM314.5 157.6h1.0v1.0h-1.0zM295.1 158.3h1.0v1.0h-1.0zM299.9 172.6h1.0v1.0h-1.0zM321.2 169.7h1.0v1.0h-1.0zM280.0 163.2h1.0v1.0h-1.0zM288.9 165.8h1.0v1.0h-1.0zM295.1 165.4h1.0v1.0h-1.0zM285.1 165.7h1.0v1.0h-1.0zM314.7 166.7h1.0v1.0h-1.0zM288.1 160.9h1.0v1.0h-1.0zM305.9 161.6h1.0v1.0h-1.0zM315.4 161.4h1.0v1.0h-1.0zM304.9 165.0h1.0v1.0h-1.0zM307.1 157.7h1.0v1.0h-1.0zM304.2 155.9h1.0v1.0h-1.0zM298.5 164.9h1.0v1.0h-1.0zM275.4 154.2h1.0v1.0h-1.0zM306.2 166.9h1.0v1.0h-1.0zM312.3 167.4h1.0v1.0h-1.0zM288.0 168.6h1.0v1.0h-1.0zM284.5 168.3h1.0v1.0h-1.0zM299.4 170.8h1.0v1.0h-1.0zM311.8 160.1h1.0v1.0h-1.0zM311.4 170.3h1.0v1.0h-1.0zM291.4 157.3h1.0v1.0h-1.0zM299.4 167.7h1.0v1.0h-1.0zM320.9 160.2h1.0v1.0h-1.0zM321.2 161.8h1.0v1.0h-1.0zM287.5 166.8h1.0v1.0h-1.0zM309.6 159.4h1.0v1.0h-1.0zM285.1 169.3h1.0v1.0h-1.0zM306.0 172.4h1.0v1.0h-1.0zM296.5 164.1h1.0v1.0h-1.0zM311.8 164.5h1.0v1.0h-1.0zM317.1 169.1h1.0v1.0h-1.0zM319.5 171.1h1.0v1.0h-1.0zM305.3 166.2h1.0v1.0h-1.0zM278.2 161.3h1.0v1.0h-1.0zM302.1 163.0h1.0v1.0h-1.0zM306.2 159.9h1.0v1.0h-1.0zM295.2 164.5h1.0v1.0h-1.0zM289.9 162.2h1.0v1.0h-1.0zM283.9 159.5h1.0v1.0h-1.0zM307.5 167.0h1.0v1.0h-1.0zM313.1 164.8h1.0v1.0h-1.0zM283.2 163.8h1.0v1.0h-1.0zM278.4 162.0h1.0v1.0h-1.0zM281.4 162.3h1.0v1.0h-1.0zM301.7 156.4h1.0v1.0h-1.0zM301.0 164.5h1.0v1.0h-1.0zM308.9 166.5h1.0v1.0h-1.0zM299.9 164.9h1.0v1.0h-1.0zM310.7 164.0h1.0v1.0h-1.0zM278.6 164.5h1.0v1.0h-1.0zM281.5 162.8h1.0v1.0h-1.0zM312.3 159.3h1.0v1.0h-1.0zM281.2 166.2h1.0v1.0h-1.0zM283.1 163.3h1.0v1.0h-1.0zM289.7 160.5h1.0v1.0h-1.0zM299.1 168.7h1.0v1.0h-1.0zM316.4 166.7h1.0v1.0h-1.0zM282.6 169.6h1.0v1.0h-1.0zM286.8 161.4h1.0v1.0h-1.0zM298.1 158.5h1.0v1.0h-1.0zM299.2 162.1h1.0v1.0h-1.0zM287.5 163.6h1.0v1.0h-1.0zM290.9 161.8h1.0v1.0h-1.0zM296.8 164.8h1.0v1.0h-1.0zM283.6 160.0h1.0v1.0h-1.0zM289.8 163.3h1.0v1.0h-1.0zM294.2 161.6h1.0v1.0h-1.0zM285.7 168.0h1.0v1.0h-1.0zM282.5 164.3h1.0v1.0h-1.0zM293.2 171.7h1.0v1.0h-1.0zM311.4 161.3h1.0v1.0h-1.0zM298.2 162.2h1.0v1.0h-1.0zM298.8 168.8h1.0v1.0h-1.0zM319.5 162.9h1.0v1.0h-1.0zM288.2 165.7h1.0v1.0h-1.0zM296.0 159.1h1.0v1.0h-1.0zM307.8 158.9h1.0v1.0h-1.0zM273.6 161.7h1.0v1.0h-1.0zM298.6 166.0h1.0v1.0h-1.0zM283.8 172.4h1.0v1.0h-1.0zM284.2 167.6h1.0v1.0h-1.0zM282.3 154.1h1.0v1.0h-1.0zM319.0 161.8h1.0v1.0h-1.0zM296.4 160.1h1.0v1.0h-1.0zM306.9 164.0h1.0v1.0h-1.0zM325.9 168.5h1.0v1.0h-1.0zM295.5 172.8h1.0v1.0h-1.0zM280.5 162.6h1.0v1.0h-1.0zM304.7 163.2h1.0v1.0h-1.0zM289.3 163.4h1.0v1.0h-1.0zM305.5 160.4h1.0v1.0h-1.0zM284.2 163.0h1.0v1.0h-1.0zM303.1 161.2h1.0v1.0h-1.0zM299.2 165.9h1.0v1.0h-1.0zM290.1 161.1h1.0v1.0h-1.0zM285.9 168.3h1.0v1.0h-1.0zM306.3 161.8h1.0v1.0h-1.0zM316.1 161.9h1.0v1.0h-1.0zM306.0 169.1h1.0v1.0h-1.0zM308.1 168.1h1.0v1.0h-1.0zM307.6 169.8h1.0v1.0h-1.0zM304.5 166.1h1.0v1.0h-1.0zM304.2 165.2h1.0v1.0h-1.0zM284.4 168.7h1.0v1.0h-1.0zM302.4 160.1h1.0v1.0h-1.0zM306.3 171.0h1.0v1.0h-1.0zM299.7 164.9h1.0v1.0h-1.0zM304.3 167.0h1.0v1.0h-1.0zM296.9 167.9h1.0v1.0h-1.0zM309.0 166.1h1.0v1.0h-1.0zM289.6 162.5h1.0v1.0h-1.0zM300.0 164.3h1.0v1.0h-1.0zM295.8 161.5h1.0v1.0h-1.0zM303.6 166.3h1.0v1.0h-1.0zM320.6 169.4h1.0v1.0h-1.0zM283.4 158.6h1.0v1.0h-1.0zM300.4 159.2h1.0v1.0h-1.0zM300.2 164.3h1.0v1.0h-1.0zM295.4 160.2h1.0v1.0h-1.0zM307.5 168.6h1.0v1.0h-1.0zM315.5 166.7h1.0v1.0h-1.0zM308.4 172.5h1.0v1.0h-1.0zM278.4 172.0h1.0v1.0h-1.0zM283.6 155.2h1.0v1.0h-1.0zM299.6 160.2h1.0v1.0h-1.0zM312.1 164.5h1.0v1.0h-1.0zM295.0 161.8h1.0v1.0h-1.0zM319.8 154.1h1.0v1.0h-1.0zM303.6 168.5h1.0v1.0h-1.0zM285.7 168.6h1.0v1.0h-1.0zM294.4 159.3h1.0v1.0h-1.0zM327.4 168.5h1.0v1.0h-1.0zM296.7 162.5h1.0v1.0h-1.0zM296.1 163.9h1.0v1.0h-1.0zM301.7 161.5h1.0v1.0h-1.0zM286.0 170.7h1.0v1.0h-1.0zM291.6 166.2h1.0v1.0h-1.0zM304.4 167.8h1.0v1.0h-1.0zM275.6 160.4h1.0v1.0h-1.0zM290.5 166.3h1.0v1.0h-1.0zM305.7 154.4h1.0v1.0h-1.0zM279.8 166.9h1.0v1.0h-1.0zM307.4 166.2h1.0v1.0h-1.0zM290.2 163.7h1.0v1.0h-1.0zM308.7 160.7h1.0v1.0h-1.0zM312.5 163.0h1.0v1.0h-1.0zM324.9 167.1h1.0v1.0h-1.0zM320.4 164.4h1.0v1.0h-1.0zM284.7 165.1h1.0v1.0h-1.0zM299.6 164.5h1.0v1.0h-1.0zM288.9 163.6h1.0v1.0h-1.0zM286.3 162.1h1.0v1.0h-1.0zM293.5 171.4h1.0v1.0h-1.0zM293.8 156.4h1.0v1.0h-1.0zM322.4 162.9h1.0v1.0h-1.0zM273.7 162.7h1.0v1.0h-1.0zM299.8 162.0h1.0v1.0h-1.0zM306.5 170.1h1.0v1.0h-1.0zM291.7 165.7h1.0v1.0h-1.0zM293.5 161.6h1.0v1.0h-1.0zM284.9 161.4h1.0v1.0h-1.0zM308.3 164.8h1.0v1.0h-1.0zM324.8 158.8h1.0v1.0h-1.0zM290.5 158.7h1.0v1.0h-1.0zM304.5 158.2h1.0v1.0h-1.0zM273.0 157.2h1.0v1.0h-1.0zM285.0 166.3h1.0v1.0h-1.0zM305.6 159.2h1.0v1.0h-1.0zM315.5 161.8h1.0v1.0h-1.0zM313.8 164.7h1.0v1.0h-1.0zM278.8 166.8h1.0v1.0h-1.0zM291.2 161.1h1.0v1.0h-1.0zM318.5 156.5h1.0v1.0h-1.0zM320.0 165.1h1.0v1.0h-1.0zM320.1 163.8h1.0v1.0h-1.0zM303.7 168.3h1.0v1.0h-1.0zM288.1 167.8h1.0v1.0h-1.0zM293.7 162.5h1.0v1.0h-1.0zM308.1 163.5h1.0v1.0h-1.0zM306.2 166.2h1.0v1.0h-1.0zM305.3 164.5h1.0v1.0h-1.0zM291.9 160.4h1.0v1.0h-1.0zM311.5 165.5h1.0v1.0h-1.0zM306.3 165.6h1.0v1.0h-1.0zM292.9 171.9h1.0v1.0h-1.0zM311.7 162.6h1.0v1.0h-1.0zM285.2 163.6h1.0v1.0h-1.0zM319.2 172.4h1.0v1.0h-1.0zM305.4 158.5h1.0v1.0h-1.0zM292.2 165.3h1.0v1.0h-1.0zM299.6 164.3h1.0v1.0h-1.0zM293.7 166.0h1.0v1.0h-1.0zM306.2 170.1h1.0v1.0h-1.0zM294.3 160.4h1.0v1.0h-1.0zM303.3 162.6h1.0v1.0h-1.0zM312.1 161.1h1.0v1.0h-1.0zM314.9 160.9h1.0v1.0h-1.0zM303.2 162.1h1.0v1.0h-1.0zM313.2 159.4h1.0v1.0h-1.0zM284.5 164.7h1.0v1.0h-1.0zM313.2 158.4h1.0v1.0h-1.0zM295.9 169.6h1.0v1.0h-1.0zM291.7 166.0h1.0v1.0h-1.0zM298.1 152.3h1.0v1.0h-1.0zM297.1 163.0h1.0v1.0h-1.0zM306.1 163.0h1.0v1.0h-1.0zM302.0 163.9h1.0v1.0h-1.0zM301.1 162.7h1.0v1.0h-1.0zM286.2 166.6h1.0v1.0h-1.0zM291.3 167.6h1.0v1.0h-1.0zM321.6 158.8h1.0v1.0h-1.0zM280.2 164.9h1.0v1.0h-1.0zM311.5 165.1h1.0v1.0h-1.0zM305.5 170.4h1.0v1.0h-1.0zM286.3 163.5h1.0v1.0h-1.0zM288.8 157.7h1.0v1.0h-1.0zM295.6 169.9h1.0v1.0h-1.0zM290.5 167.9h1.0v1.0h-1.0zM281.1 164.7h1.0v1.0h-1.0zM319.8 165.0h1.0v1.0h-1.0zM289.5 168.2h1.0v1.0h-1.0zM287.3 170.1h1.0v1.0h-1.0zM305.2 167.6h1.0v1.0h-1.0zM307.9 163.3h1.0v1.0h-1.0zM295.5 164.7h1.0v1.0h-1.0zM290.1 170.6h1.0v1.0h-1.0zM283.4 154.3h1.0v1.0h-1.0zM301.6 161.3h1.0v1.0h-1.0zM287.4 163.3h1.0v1.0h-1.0zM301.5 164.5h1.0v1.0h-1.0zM304.2 163.8h1.0v1.0h-1.0zM294.2 168.2h1.0v1.0h-1.0zM299.0 166.2h1.0v1.0h-1.0zM321.6 165.1h1.0v1.0h-1.0zM287.2 162.5h1.0v1.0h-1.0zM282.4 162.6h1.0v1.0h-1.0zM317.4 166.0h1.0v1.0h-1.0zM285.4 162.6h1.0v1.0h-1.0zM290.0 162.7h1.0v1.0h-1.0zM316.7 159.9h1.0v1.0h-1.0zM322.7 166.5h1.0v1.0h-1.0zM293.2 167.5h1.0v1.0h-1.0zM290.7 161.6h1.0v1.0h-1.0zM289.6 167.8h1.0v1.0h-1.0zM286.1 157.8h1.0v1.0h-1.0zM291.3 161.6h1.0v1.0h-1.0zM296.7 158.9h1.0v1.0h-1.0zM282.2 167.2h1.0v1.0h-1.0zM306.5 161.4h1.0v1.0h-1.0zM289.9 164.8h1.0v1.0h-1.0zM293.1 164.2h1.0v1.0h-1.0zM304.0 163.5h1.0v1.0h-1.0zM321.2 167.7h1.0v1.0h-1.0zM287.0 160.4h1.0v1.0h-1.0zM301.2 168.8h1.0v1.0h-1.0zM297.7 166.5h1.0v1.0h-1.0zM291.9 161.8h1.0v1.0h-1.0zM305.3 168.4h1.0v1.0h-1.0zM318.1 163.4h1.0v1.0h-1.0zM299.5 157.9h1.0v1.0h-1.0zM297.4 159.2h1.0v1.0h-1.0zM311.6 159.7h1.0v1.0h-1.0zM308.1 159.4h1.0v1.0h-1.0zM322.6 161.7h1.0v1.0h-1.0zM296.1 162.0h1.0v1.0h-1.0zM314.0 169.1h1.0v1.0h-1.0zM328.6 162.9h1.0v1.0h-1.0zM316.2 161.2h1.0v1.0h-1.0zM293.3 159.1h1.0v1.0h-1.0zM321.3 162.6h1.0v1.0h-1.0zM310.8 163.2h1.0v1.0h-1.0zM299.0 164.6h1.0v1.0h-1.0zM300.0 159.0h1.0v1.0h-1.0zM307.0 166.8h1.0v1.0h-1.0zM276.2 158.8h1.0v1.0h-1.0zM298.2 165.4h1.0v1.0h-1.0zM306.0 169.4h1.0v1.0h-1.0zM302.5 157.7h1.0v1.0h-1.0zM314.5 156.3h1.0v1.0h-1.0zM285.2 170.3h1.0v1.0h-1.0zM317.6 160.6h1.0v1.0h-1.0zM307.5 167.8h1.0v1.0h-1.0z" fill="#000" fill-opacity="0.36"/>
<path d="M297.0 157.0h1.0v1.0h-1.0zM300.4 164.8h1.0v1.0h-1.0zM279.3 160.2h1.0v1.0h-1.0zM311.3 156.8h1.0v1.0h-1.0zM299.0 167.3h1.0v1.0h-1.0zM284.3 162.0h1.0v1.0h-1.0zM271.6 150.8h1.0v1.0h-1.0zM293.9 160.5h1.0v1.0h-1.0zM289.9 160.6h1.0v1.0h-1.0zM284.7 162.7h1.0v1.0h-1.0zM280.5 162.1h1.0v1.0h-1.0zM321.4 161.2h1.0v1.0h-1.0zM304.0 168.6h1.0v1.0h-1.0zM289.8 162.5h1.0v1.0h-1.0zM315.0 166.8h1.0v1.0h-1.0zM309.9 167.1h1.0v1.0h-1.0zM306.0 167.9h1.0v1.0h-1.0zM288.0 153.4h1.0v1.0h-1.0zM296.1 165.7h1.0v1.0h-1.0zM284.7 167.6h1.0v1.0h-1.0zM302.9 170.4h1.0v1.0h-1.0zM303.3 169.1h1.0v1.0h-1.0zM287.1 172.6h1.0v1.0h-1.0zM329.3 173.1h1.0v1.0h-1.0zM300.4 169.7h1.0v1.0h-1.0zM288.8 164.6h1.0v1.0h-1.0zM304.0 159.0h1.0v1.0h-1.0zM295.2 156.7h1.0v1.0h-1.0zM274.9 164.4h1.0v1.0h-1.0zM278.1 168.3h1.0v1.0h-1.0zM314.3 161.2h1.0v1.0h-1.0zM279.3 165.8h1.0v1.0h-1.0zM309.3 161.3h1.0v1.0h-1.0zM302.8 159.6h1.0v1.0h-1.0zM294.9 172.0h1.0v1.0h-1.0zM289.7 164.4h1.0v1.0h-1.0zM296.3 165.7h1.0v1.0h-1.0zM322.5 163.3h1.0v1.0h-1.0zM284.4 169.4h1.0v1.0h-1.0zM298.9 161.2h1.0v1.0h-1.0zM314.0 163.9h1.0v1.0h-1.0zM284.0 161.9h1.0v1.0h-1.0zM293.6 165.9h1.0v1.0h-1.0zM285.4 166.5h1.0v1.0h-1.0zM309.4 159.4h1.0v1.0h-1.0zM317.2 163.9h1.0v1.0h-1.0zM288.8 162.1h1.0v1.0h-1.0zM279.3 165.7h1.0v1.0h-1.0zM291.6 169.0h1.0v1.0h-1.0zM307.1 167.3h1.0v1.0h-1.0zM276.7 161.1h1.0v1.0h-1.0zM316.4 170.7h1.0v1.0h-1.0zM316.3 165.3h1.0v1.0h-1.0zM295.0 171.4h1.0v1.0h-1.0zM298.0 172.7h1.0v1.0h-1.0zM333.9 161.7h1.0v1.0h-1.0zM290.1 168.3h1.0v1.0h-1.0zM298.4 163.8h1.0v1.0h-1.0zM312.3 162.5h1.0v1.0h-1.0zM305.2 162.2h1.0v1.0h-1.0zM294.9 156.3h1.0v1.0h-1.0zM302.6 161.7h1.0v1.0h-1.0zM281.6 163.3h1.0v1.0h-1.0zM324.6 167.0h1.0v1.0h-1.0zM283.5 160.8h1.0v1.0h-1.0zM328.7 170.5h1.0v1.0h-1.0zM311.4 167.2h1.0v1.0h-1.0zM316.9 165.9h1.0v1.0h-1.0zM311.6 163.3h1.0v1.0h-1.0zM273.4 169.6h1.0v1.0h-1.0zM291.9 160.5h1.0v1.0h-1.0zM293.2 159.8h1.0v1.0h-1.0zM281.8 165.3h1.0v1.0h-1.0zM301.8 166.4h1.0v1.0h-1.0zM300.4 162.9h1.0v1.0h-1.0zM294.1 166.2h1.0v1.0h-1.0zM290.8 159.7h1.0v1.0h-1.0zM309.6 159.6h1.0v1.0h-1.0zM310.2 156.5h1.0v1.0h-1.0zM310.8 163.9h1.0v1.0h-1.0zM306.4 166.8h1.0v1.0h-1.0zM309.5 169.3h1.0v1.0h-1.0zM281.7 163.6h1.0v1.0h-1.0zM333.6 161.7h1.0v1.0h-1.0zM288.0 167.2h1.0v1.0h-1.0zM288.2 166.7h1.0v1.0h-1.0zM304.8 167.1h1.0v1.0h-1.0zM311.9 154.2h1.0v1.0h-1.0zM302.3 165.7h1.0v1.0h-1.0zM286.2 165.9h1.0v1.0h-1.0zM306.3 164.1h1.0v1.0h-1.0zM290.4 165.4h1.0v1.0h-1.0zM304.9 160.1h1.0v1.0h-1.0zM302.3 164.2h1.0v1.0h-1.0zM290.3 161.2h1.0v1.0h-1.0zM292.9 165.5h1.0v1.0h-1.0zM305.1 162.4h1.0v1.0h-1.0zM288.7 167.8h1.0v1.0h-1.0zM287.4 163.1h1.0v1.0h-1.0zM278.3 167.3h1.0v1.0h-1.0zM306.6 167.1h1.0v1.0h-1.0zM298.8 166.1h1.0v1.0h-1.0zM288.9 165.9h1.0v1.0h-1.0zM284.4 166.2h1.0v1.0h-1.0zM299.3 165.2h1.0v1.0h-1.0zM298.8 158.0h1.0v1.0h-1.0zM299.5 162.7h1.0v1.0h-1.0zM312.9 163.8h1.0v1.0h-1.0zM292.0 163.7h1.0v1.0h-1.0zM283.3 161.7h1.0v1.0h-1.0zM293.0 162.6h1.0v1.0h-1.0zM289.3 157.1h1.0v1.0h-1.0zM296.5 160.0h1.0v1.0h-1.0zM290.9 159.6h1.0v1.0h-1.0zM307.4 162.6h1.0v1.0h-1.0zM306.8 158.2h1.0v1.0h-1.0zM318.0 165.4h1.0v1.0h-1.0zM287.6 164.6h1.0v1.0h-1.0zM333.9 166.1h1.0v1.0h-1.0zM298.3 163.5h1.0v1.0h-1.0zM306.8 169.0h1.0v1.0h-1.0zM280.6 162.2h1.0v1.0h-1.0zM307.3 159.5h1.0v1.0h-1.0zM303.9 161.6h1.0v1.0h-1.0zM304.6 164.6h1.0v1.0h-1.0zM282.3 159.5h1.0v1.0h-1.0zM282.7 171.6h1.0v1.0h-1.0zM292.8 166.8h1.0v1.0h-1.0zM287.8 162.9h1.0v1.0h-1.0zM312.3 163.7h1.0v1.0h-1.0zM316.7 166.0h1.0v1.0h-1.0zM286.7 157.9h1.0v1.0h-1.0zM304.8 162.0h1.0v1.0h-1.0zM305.9 159.4h1.0v1.0h-1.0zM291.6 155.6h1.0v1.0h-1.0zM296.6 158.8h1.0v1.0h-1.0zM277.2 159.7h1.0v1.0h-1.0zM300.2 164.1h1.0v1.0h-1.0zM311.2 163.8h1.0v1.0h-1.0zM309.1 172.2h1.0v1.0h-1.0zM293.0 165.3h1.0v1.0h-1.0zM287.7 162.9h1.0v1.0h-1.0zM309.2 163.9h1.0v1.0h-1.0zM304.8 169.5h1.0v1.0h-1.0zM282.3 163.0h1.0v1.0h-1.0zM306.8 163.8h1.0v1.0h-1.0zM307.3 164.1h1.0v1.0h-1.0zM311.7 170.3h1.0v1.0h-1.0zM318.2 161.1h1.0v1.0h-1.0zM288.5 154.9h1.0v1.0h-1.0zM288.5 161.9h1.0v1.0h-1.0zM323.6 168.6h1.0v1.0h-1.0zM316.9 171.1h1.0v1.0h-1.0zM279.0 163.3h1.0v1.0h-1.0zM284.6 162.7h1.0v1.0h-1.0zM298.1 167.4h1.0v1.0h-1.0zM305.4 169.9h1.0v1.0h-1.0zM295.0 164.2h1.0v1.0h-1.0zM314.2 163.6h1.0v1.0h-1.0zM296.4 165.5h1.0v1.0h-1.0zM293.2 168.7h1.0v1.0h-1.0zM293.3 161.1h1.0v1.0h-1.0zM298.0 167.0h1.0v1.0h-1.0zM292.4 163.9h1.0v1.0h-1.0zM319.9 166.1h1.0v1.0h-1.0zM286.2 164.0h1.0v1.0h-1.0zM287.2 161.3h1.0v1.0h-1.0zM297.8 168.4h1.0v1.0h-1.0zM306.3 165.8h1.0v1.0h-1.0zM305.6 163.9h1.0v1.0h-1.0zM316.3 163.8h1.0v1.0h-1.0zM289.8 162.2h1.0v1.0h-1.0zM303.8 165.5h1.0v1.0h-1.0zM297.1 167.9h1.0v1.0h-1.0zM288.3 163.4h1.0v1.0h-1.0zM289.1 164.0h1.0v1.0h-1.0zM284.9 164.1h1.0v1.0h-1.0zM293.3 166.4h1.0v1.0h-1.0zM290.2 165.0h1.0v1.0h-1.0zM303.5 155.0h1.0v1.0h-1.0zM286.9 170.0h1.0v1.0h-1.0zM285.8 163.8h1.0v1.0h-1.0zM303.8 167.9h1.0v1.0h-1.0zM283.0 161.2h1.0v1.0h-1.0zM283.9 160.9h1.0v1.0h-1.0zM315.4 167.8h1.0v1.0h-1.0zM292.6 161.6h1.0v1.0h-1.0zM318.5 165.9h1.0v1.0h-1.0zM289.6 157.3h1.0v1.0h-1.0zM308.8 169.5h1.0v1.0h-1.0zM308.9 165.1h1.0v1.0h-1.0zM305.0 156.7h1.0v1.0h-1.0zM298.7 164.0h1.0v1.0h-1.0zM283.2 168.3h1.0v1.0h-1.0zM305.4 159.0h1.0v1.0h-1.0zM306.8 164.0h1.0v1.0h-1.0zM306.2 160.8h1.0v1.0h-1.0zM311.1 159.7h1.0v1.0h-1.0zM297.8 163.6h1.0v1.0h-1.0zM283.3 164.6h1.0v1.0h-1.0zM292.3 161.6h1.0v1.0h-1.0zM295.7 163.3h1.0v1.0h-1.0zM285.5 168.2h1.0v1.0h-1.0zM291.1 162.7h1.0v1.0h-1.0zM283.2 172.9h1.0v1.0h-1.0zM291.7 169.4h1.0v1.0h-1.0zM288.6 162.2h1.0v1.0h-1.0zM290.5 174.0h1.0v1.0h-1.0zM322.7 159.9h1.0v1.0h-1.0zM277.6 169.0h1.0v1.0h-1.0zM291.0 161.2h1.0v1.0h-1.0zM279.3 169.1h1.0v1.0h-1.0zM295.9 169.5h1.0v1.0h-1.0zM301.8 164.9h1.0v1.0h-1.0zM293.3 159.6h1.0v1.0h-1.0zM303.5 162.6h1.0v1.0h-1.0zM288.0 162.4h1.0v1.0h-1.0zM304.7 163.2h1.0v1.0h-1.0zM280.7 168.1h1.0v1.0h-1.0zM290.9 173.8h1.0v1.0h-1.0zM299.6 170.9h1.0v1.0h-1.0zM312.6 159.3h1.0v1.0h-1.0zM279.7 161.0h1.0v1.0h-1.0zM285.1 166.4h1.0v1.0h-1.0zM276.8 173.6h1.0v1.0h-1.0zM306.3 161.5h1.0v1.0h-1.0zM288.2 162.4h1.0v1.0h-1.0zM297.9 166.9h1.0v1.0h-1.0zM311.3 168.7h1.0v1.0h-1.0zM304.5 168.3h1.0v1.0h-1.0zM298.3 167.1h1.0v1.0h-1.0zM294.9 165.3h1.0v1.0h-1.0zM302.9 155.9h1.0v1.0h-1.0zM301.8 158.8h1.0v1.0h-1.0zM284.0 161.3h1.0v1.0h-1.0zM298.9 161.0h1.0v1.0h-1.0zM324.7 163.1h1.0v1.0h-1.0zM311.8 167.1h1.0v1.0h-1.0zM314.0 169.9h1.0v1.0h-1.0zM284.9 165.3h1.0v1.0h-1.0zM307.6 159.7h1.0v1.0h-1.0zM307.6 165.9h1.0v1.0h-1.0zM318.8 169.3h1.0v1.0h-1.0zM324.0 166.9h1.0v1.0h-1.0zM287.8 161.5h1.0v1.0h-1.0zM309.0 162.0h1.0v1.0h-1.0zM318.0 169.5h1.0v1.0h-1.0zM316.8 161.6h1.0v1.0h-1.0zM283.9 170.1h1.0v1.0h-1.0zM307.2 165.2h1.0v1.0h-1.0zM286.3 164.6h1.0v1.0h-1.0zM285.8 160.7h1.0v1.0h-1.0zM290.3 165.8h1.0v1.0h-1.0zM286.7 162.2h1.0v1.0h-1.0zM301.7 161.5h1.0v1.0h-1.0zM291.5 163.7h1.0v1.0h-1.0zM283.2 168.9h1.0v1.0h-1.0zM283.7 161.1h1.0v1.0h-1.0zM278.2 163.3h1.0v1.0h-1.0zM317.2 166.9h1.0v1.0h-1.0zM308.7 169.5h1.0v1.0h-1.0zM316.1 162.3h1.0v1.0h-1.0zM319.4 170.6h1.0v1.0h-1.0zM303.9 164.1h1.0v1.0h-1.0zM295.4 164.4h1.0v1.0h-1.0zM297.2 170.2h1.0v1.0h-1.0zM300.3 166.8h1.0v1.0h-1.0zM309.1 170.8h1.0v1.0h-1.0zM304.4 152.4h1.0v1.0h-1.0zM290.4 160.9h1.0v1.0h-1.0zM286.5 169.5h1.0v1.0h-1.0zM289.7 159.5h1.0v1.0h-1.0zM283.2 167.8h1.0v1.0h-1.0zM306.5 164.7h1.0v1.0h-1.0zM297.1 162.5h1.0v1.0h-1.0zM308.7 169.2h1.0v1.0h-1.0zM311.7 160.5h1.0v1.0h-1.0zM303.1 168.7h1.0v1.0h-1.0zM287.5 160.5h1.0v1.0h-1.0zM283.3 161.9h1.0v1.0h-1.0zM285.2 159.5h1.0v1.0h-1.0zM276.4 170.5h1.0v1.0h-1.0zM309.7 174.4h1.0v1.0h-1.0zM302.1 166.1h1.0v1.0h-1.0zM283.3 165.7h1.0v1.0h-1.0zM303.6 166.5h1.0v1.0h-1.0zM286.3 161.8h1.0v1.0h-1.0zM281.7 161.1h1.0v1.0h-1.0zM302.5 166.1h1.0v1.0h-1.0zM308.7 158.2h1.0v1.0h-1.0zM297.4 166.8h1.0v1.0h-1.0zM308.0 160.0h1.0v1.0h-1.0zM290.4 163.2h1.0v1.0h-1.0zM314.4 164.0h1.0v1.0h-1.0zM306.8 169.5h1.0v1.0h-1.0zM292.0 166.1h1.0v1.0h-1.0zM309.7 167.0h1.0v1.0h-1.0zM314.9 168.7h1.0v1.0h-1.0zM284.3 168.5h1.0v1.0h-1.0zM294.6 161.7h1.0v1.0h-1.0zM294.7 163.7h1.0v1.0h-1.0zM287.5 155.8h1.0v1.0h-1.0zM306.1 166.9h1.0v1.0h-1.0zM295.6 164.9h1.0v1.0h-1.0zM306.5 166.2h1.0v1.0h-1.0zM312.4 164.1h1.0v1.0h-1.0zM318.9 153.1h1.0v1.0h-1.0zM297.6 167.9h1.0v1.0h-1.0zM293.2 165.9h1.0v1.0h-1.0zM316.5 171.5h1.0v1.0h-1.0zM296.0 164.6h1.0v1.0h-1.0zM308.5 167.1h1.0v1.0h-1.0zM312.5 161.1h1.0v1.0h-1.0zM322.0 161.1h1.0v1.0h-1.0zM284.5 160.4h1.0v1.0h-1.0zM301.6 161.4h1.0v1.0h-1.0zM296.7 165.3h1.0v1.0h-1.0zM317.6 161.5h1.0v1.0h-1.0zM288.6 171.8h1.0v1.0h-1.0zM300.6 167.4h1.0v1.0h-1.0zM302.2 161.6h1.0v1.0h-1.0zM307.6 160.7h1.0v1.0h-1.0zM285.1 162.9h1.0v1.0h-1.0zM305.7 162.9h1.0v1.0h-1.0zM304.0 162.0h1.0v1.0h-1.0zM315.5 161.9h1.0v1.0h-1.0zM314.8 163.6h1.0v1.0h-1.0zM310.5 163.1h1.0v1.0h-1.0zM307.5 164.4h1.0v1.0h-1.0zM300.1 158.2h1.0v1.0h-1.0zM297.2 163.2h1.0v1.0h-1.0zM328.8 171.0h1.0v1.0h-1.0zM310.3 169.3h1.0v1.0h-1.0zM315.6 157.6h1.0v1.0h-1.0zM301.2 164.3h1.0v1.0h-1.0zM290.9 165.8h1.0v1.0h-1.0zM295.6 164.8h1.0v1.0h-1.0zM287.5 163.3h1.0v1.0h-1.0zM293.1 169.3h1.0v1.0h-1.0zM307.8 163.6h1.0v1.0h-1.0zM286.8 174.3h1.0v1.0h-1.0zM299.5 166.6h1.0v1.0h-1.0zM312.7 167.9h1.0v1.0h-1.0zM297.9 163.0h1.0v1.0h-1.0zM305.6 161.5h1.0v1.0h-1.0zM309.1 164.8h1.0v1.0h-1.0zM308.1 161.6h1.0v1.0h-1.0zM313.1 161.1h1.0v1.0h-1.0zM309.6 166.8h1.0v1.0h-1.0zM299.6 164.6h1.0v1.0h-1.0zM288.2 156.7h1.0v1.0h-1.0zM299.3 160.7h1.0v1.0h-1.0zM319.3 165.4h1.0v1.0h-1.0zM299.5 162.4h1.0v1.0h-1.0zM293.0 166.7h1.0v1.0h-1.0zM301.3 169.7h1.0v1.0h-1.0zM293.3 164.5h1.0v1.0h-1.0zM280.4 157.3h1.0v1.0h-1.0zM297.5 164.2h1.0v1.0h-1.0zM276.4 164.7h1.0v1.0h-1.0zM289.1 171.0h1.0v1.0h-1.0zM285.1 159.2h1.0v1.0h-1.0zM284.3 170.6h1.0v1.0h-1.0zM304.0 165.2h1.0v1.0h-1.0zM307.1 170.0h1.0v1.0h-1.0zM290.3 163.1h1.0v1.0h-1.0zM310.6 157.7h1.0v1.0h-1.0zM303.8 160.8h1.0v1.0h-1.0zM302.2 160.7h1.0v1.0h-1.0zM296.9 158.9h1.0v1.0h-1.0zM309.9 158.5h1.0v1.0h-1.0zM315.1 159.2h1.0v1.0h-1.0zM288.4 165.9h1.0v1.0h-1.0zM283.2 165.4h1.0v1.0h-1.0zM305.0 169.0h1.0v1.0h-1.0zM315.8 158.6h1.0v1.0h-1.0zM308.5 159.0h1.0v1.0h-1.0zM302.0 167.3h1.0v1.0h-1.0zM305.5 162.3h1.0v1.0h-1.0zM313.9 162.1h1.0v1.0h-1.0z" fill="#000" fill-opacity="0.36"/>
<path d="M279.4 162.0h1.0v1.0h-1.0zM301.2 172.6h1.0v1.0h-1.0zM281.8 173.0h1.0v1.0h-1.0zM312.6 167.0h1.0v1.0h-1.0zM288.8 161.2h1.0v1.0h-1.0zM283.3 163.6h1.0v1.0h-1.0zM281.4 161.5h1.0v1.0h-1.0zM308.6 161.5h1.0v1.0h-1.0zM307.4 160.8h1.0v1.0h-1.0zM301.6 160.2h1.0v1.0h-1.0zM290.4 174.2h1.0v1.0h-1.0zM292.1 169.1h1.0v1.0h-1.0zM322.4 169.5h1.0v1.0h-1.0zM315.4 160.9h1.0v1.0h-1.0zM302.1 155.6h1.0v1.0h-1.0zM289.3 167.4h1.0v1.0h-1.0zM288.5 161.8h1.0v1.0h-1.0zM310.1 164.6h1.0v1.0h-1.0zM310.1 164.8h1.0v1.0h-1.0zM294.1 167.4h1.0v1.0h-1.0zM280.1 163.7h1.0v1.0h-1.0zM303.8 161.7h1.0v1.0h-1.0zM315.6 163.0h1.0v1.0h-1.0zM303.8 164.2h1.0v1.0h-1.0zM294.1 165.9h1.0v1.0h-1.0zM309.1 162.8h1.0v1.0h-1.0zM325.0 165.5h1.0v1.0h-1.0zM292.5 168.8h1.0v1.0h-1.0zM293.8 166.7h1.0v1.0h-1.0zM286.3 166.4h1.0v1.0h-1.0zM292.6 158.9h1.0v1.0h-1.0zM304.7 152.2h1.0v1.0h-1.0zM323.9 162.1h1.0v1.0h-1.0zM290.1 168.4h1.0v1.0h-1.0zM297.4 159.8h1.0v1.0h-1.0zM307.6 167.8h1.0v1.0h-1.0zM296.4 160.7h1.0v1.0h-1.0zM287.4 164.7h1.0v1.0h-1.0zM294.3 165.2h1.0v1.0h-1.0zM277.2 166.3h1.0v1.0h-1.0zM299.8 157.4h1.0v1.0h-1.0zM312.0 166.5h1.0v1.0h-1.0zM300.3 159.0h1.0v1.0h-1.0zM287.1 161.0h1.0v1.0h-1.0zM312.1 161.0h1.0v1.0h-1.0zM285.4 164.9h1.0v1.0h-1.0zM313.7 174.3h1.0v1.0h-1.0zM303.4 165.0h1.0v1.0h-1.0zM285.5 162.9h1.0v1.0h-1.0zM285.4 158.0h1.0v1.0h-1.0zM307.5 159.4h1.0v1.0h-1.0zM286.5 162.4h1.0v1.0h-1.0zM294.5 165.3h1.0v1.0h-1.0zM291.9 164.3h1.0v1.0h-1.0zM286.3 162.2h1.0v1.0h-1.0zM276.0 170.2h1.0v1.0h-1.0zM320.2 155.4h1.0v1.0h-1.0zM286.9 156.3h1.0v1.0h-1.0zM312.2 162.8h1.0v1.0h-1.0zM319.7 164.9h1.0v1.0h-1.0zM275.9 168.9h1.0v1.0h-1.0zM304.7 162.3h1.0v1.0h-1.0zM277.1 169.8h1.0v1.0h-1.0zM289.7 173.9h1.0v1.0h-1.0zM293.5 168.4h1.0v1.0h-1.0zM285.8 168.8h1.0v1.0h-1.0zM283.3 166.8h1.0v1.0h-1.0zM280.6 165.2h1.0v1.0h-1.0zM284.3 166.0h1.0v1.0h-1.0zM331.1 164.8h1.0v1.0h-1.0zM281.3 158.5h1.0v1.0h-1.0zM313.1 167.1h1.0v1.0h-1.0zM294.1 163.7h1.0v1.0h-1.0zM309.2 160.8h1.0v1.0h-1.0zM311.1 166.2h1.0v1.0h-1.0zM322.6 155.7h1.0v1.0h-1.0zM310.4 167.2h1.0v1.0h-1.0zM282.2 163.8h1.0v1.0h-1.0zM313.8 162.4h1.0v1.0h-1.0zM309.8 165.9h1.0v1.0h-1.0zM307.8 163.2h1.0v1.0h-1.0zM290.3 166.2h1.0v1.0h-1.0zM283.9 163.9h1.0v1.0h-1.0zM289.9 167.4h1.0v1.0h-1.0zM281.1 162.6h1.0v1.0h-1.0zM297.5 169.5h1.0v1.0h-1.0zM299.9 164.7h1.0v1.0h-1.0zM313.0 163.5h1.0v1.0h-1.0zM297.0 158.9h1.0v1.0h-1.0zM286.9 165.0h1.0v1.0h-1.0zM288.3 165.9h1.0v1.0h-1.0zM289.7 162.2h1.0v1.0h-1.0zM321.6 164.6h1.0v1.0h-1.0zM313.2 153.5h1.0v1.0h-1.0zM319.4 170.2h1.0v1.0h-1.0zM280.0 165.7h1.0v1.0h-1.0zM307.7 164.1h1.0v1.0h-1.0zM293.4 169.7h1.0v1.0h-1.0zM306.1 164.3h1.0v1.0h-1.0zM286.8 157.9h1.0v1.0h-1.0zM317.9 164.3h1.0v1.0h-1.0zM274.2 158.6h1.0v1.0h-1.0zM285.8 169.6h1.0v1.0h-1.0zM324.2 164.8h1.0v1.0h-1.0zM290.1 162.4h1.0v1.0h-1.0zM296.8 168.9h1.0v1.0h-1.0zM298.9 163.0h1.0v1.0h-1.0zM295.1 172.8h1.0v1.0h-1.0zM305.4 163.0h1.0v1.0h-1.0zM309.1 166.1h1.0v1.0h-1.0zM279.8 161.6h1.0v1.0h-1.0zM304.2 157.0h1.0v1.0h-1.0zM292.5 164.5h1.0v1.0h-1.0zM306.7 167.3h1.0v1.0h-1.0zM293.8 165.9h1.0v1.0h-1.0zM289.2 160.6h1.0v1.0h-1.0zM316.2 163.5h1.0v1.0h-1.0zM315.6 166.9h1.0v1.0h-1.0zM304.6 167.5h1.0v1.0h-1.0zM288.6 156.4h1.0v1.0h-1.0zM312.4 172.2h1.0v1.0h-1.0zM294.9 165.4h1.0v1.0h-1.0zM319.3 164.7h1.0v1.0h-1.0zM291.7 169.4h1.0v1.0h-1.0zM301.7 162.1h1.0v1.0h-1.0zM298.4 163.4h1.0v1.0h-1.0zM318.1 162.8h1.0v1.0h-1.0zM314.2 161.6h1.0v1.0h-1.0zM296.1 165.5h1.0v1.0h-1.0zM280.7 159.2h1.0v1.0h-1.0zM301.8 159.7h1.0v1.0h-1.0zM294.9 158.7h1.0v1.0h-1.0zM317.6 164.9h1.0v1.0h-1.0zM290.6 167.8h1.0v1.0h-1.0zM312.8 163.6h1.0v1.0h-1.0zM277.3 170.1h1.0v1.0h-1.0zM295.1 166.2h1.0v1.0h-1.0zM293.8 168.0h1.0v1.0h-1.0zM287.5 166.2h1.0v1.0h-1.0zM297.0 164.6h1.0v1.0h-1.0zM293.1 163.1h1.0v1.0h-1.0zM288.1 161.9h1.0v1.0h-1.0zM313.9 162.1h1.0v1.0h-1.0zM314.7 169.8h1.0v1.0h-1.0zM293.9 165.6h1.0v1.0h-1.0zM273.6 155.4h1.0v1.0h-1.0zM286.8 161.8h1.0v1.0h-1.0zM316.4 165.5h1.0v1.0h-1.0zM292.5 160.7h1.0v1.0h-1.0zM291.9 166.8h1.0v1.0h-1.0zM296.4 166.5h1.0v1.0h-1.0zM290.1 165.1h1.0v1.0h-1.0zM317.2 163.9h1.0v1.0h-1.0zM285.0 173.0h1.0v1.0h-1.0zM286.9 168.5h1.0v1.0h-1.0zM301.4 167.5h1.0v1.0h-1.0zM315.9 165.1h1.0v1.0h-1.0zM286.5 166.1h1.0v1.0h-1.0zM313.5 163.7h1.0v1.0h-1.0zM302.4 160.7h1.0v1.0h-1.0zM308.0 160.4h1.0v1.0h-1.0zM323.7 159.6h1.0v1.0h-1.0zM291.2 162.1h1.0v1.0h-1.0zM290.1 158.6h1.0v1.0h-1.0zM316.1 156.5h1.0v1.0h-1.0zM286.7 162.4h1.0v1.0h-1.0zM322.4 164.2h1.0v1.0h-1.0zM293.3 161.6h1.0v1.0h-1.0zM312.5 168.6h1.0v1.0h-1.0zM301.5 164.8h1.0v1.0h-1.0zM291.4 166.9h1.0v1.0h-1.0zM296.3 162.1h1.0v1.0h-1.0zM318.5 167.8h1.0v1.0h-1.0zM307.8 165.5h1.0v1.0h-1.0zM305.8 160.4h1.0v1.0h-1.0zM307.5 167.3h1.0v1.0h-1.0zM316.4 169.6h1.0v1.0h-1.0zM316.2 164.9h1.0v1.0h-1.0zM290.1 171.0h1.0v1.0h-1.0zM304.4 166.1h1.0v1.0h-1.0zM288.7 164.7h1.0v1.0h-1.0zM281.9 166.7h1.0v1.0h-1.0zM292.8 168.6h1.0v1.0h-1.0zM295.8 160.4h1.0v1.0h-1.0zM274.5 165.5h1.0v1.0h-1.0zM301.5 170.3h1.0v1.0h-1.0zM319.9 164.4h1.0v1.0h-1.0zM313.1 170.5h1.0v1.0h-1.0zM310.1 164.5h1.0v1.0h-1.0zM288.5 163.4h1.0v1.0h-1.0zM299.5 167.7h1.0v1.0h-1.0zM298.3 159.4h1.0v1.0h-1.0zM314.3 159.9h1.0v1.0h-1.0zM282.6 166.4h1.0v1.0h-1.0zM281.0 170.0h1.0v1.0h-1.0zM294.5 168.5h1.0v1.0h-1.0zM279.3 163.5h1.0v1.0h-1.0zM286.4 163.3h1.0v1.0h-1.0zM302.6 165.3h1.0v1.0h-1.0zM321.0 160.6h1.0v1.0h-1.0zM291.6 168.8h1.0v1.0h-1.0zM282.0 169.9h1.0v1.0h-1.0zM295.2 164.8h1.0v1.0h-1.0zM312.4 162.5h1.0v1.0h-1.0zM298.3 162.7h1.0v1.0h-1.0zM312.8 163.3h1.0v1.0h-1.0zM295.4 167.1h1.0v1.0h-1.0zM294.5 165.0h1.0v1.0h-1.0zM281.5 161.2h1.0v1.0h-1.0zM287.3 166.5h1.0v1.0h-1.0zM304.6 164.9h1.0v1.0h-1.0zM291.3 159.5h1.0v1.0h-1.0zM286.3 168.1h1.0v1.0h-1.0zM296.2 159.8h1.0v1.0h-1.0zM305.9 164.9h1.0v1.0h-1.0zM293.5 163.2h1.0v1.0h-1.0zM303.8 161.1h1.0v1.0h-1.0zM284.5 170.6h1.0v1.0h-1.0zM303.9 164.5h1.0v1.0h-1.0zM299.4 168.3h1.0v1.0h-1.0zM296.5 169.2h1.0v1.0h-1.0zM282.2 166.9h1.0v1.0h-1.0zM303.9 164.4h1.0v1.0h-1.0zM295.4 166.4h1.0v1.0h-1.0zM289.0 160.2h1.0v1.0h-1.0zM295.5 169.5h1.0v1.0h-1.0zM296.1 169.2h1.0v1.0h-1.0zM310.1 171.4h1.0v1.0h-1.0zM313.2 170.4h1.0v1.0h-1.0zM299.6 163.6h1.0v1.0h-1.0zM287.8 164.9h1.0v1.0h-1.0zM292.4 167.3h1.0v1.0h-1.0zM279.1 163.7h1.0v1.0h-1.0zM302.0 167.4h1.0v1.0h-1.0zM311.1 159.0h1.0v1.0h-1.0zM309.0 161.7h1.0v1.0h-1.0zM294.5 163.7h1.0v1.0h-1.0zM295.4 167.0h1.0v1.0h-1.0zM302.8 160.2h1.0v1.0h-1.0zM285.9 162.3h1.0v1.0h-1.0zM329.3 168.1h1.0v1.0h-1.0zM289.2 166.1h1.0v1.0h-1.0zM296.4 161.9h1.0v1.0h-1.0zM303.3 156.2h1.0v1.0h-1.0zM291.6 163.3h1.0v1.0h-1.0zM299.6 162.8h1.0v1.0h-1.0zM289.5 161.4h1.0v1.0h-1.0zM308.2 165.6h1.0v1.0h-1.0zM289.2 165.4h1.0v1.0h-1.0zM287.8 163.6h1.0v1.0h-1.0zM294.9 160.7h1.0v1.0h-1.0zM279.9 169.0h1.0v1.0h-1.0zM303.5 162.8h1.0v1.0h-1.0zM294.3 168.9h1.0v1.0h-1.0zM304.5 170.8h1.0v1.0h-1.0zM303.7 163.0h1.0v1.0h-1.0zM299.7 162.7h1.0v1.0h-1.0zM280.3 161.6h1.0v1.0h-1.0zM303.8 165.5h1.0v1.0h-1.0zM293.4 172.8h1.0v1.0h-1.0zM283.0 165.7h1.0v1.0h-1.0zM305.5 163.6h1.0v1.0h-1.0zM302.6 167.1h1.0v1.0h-1.0zM310.2 166.2h1.0v1.0h-1.0zM294.6 162.3h1.0v1.0h-1.0zM292.1 167.4h1.0v1.0h-1.0zM280.8 168.4h1.0v1.0h-1.0zM312.3 160.4h1.0v1.0h-1.0zM304.9 167.5h1.0v1.0h-1.0zM314.1 163.2h1.0v1.0h-1.0zM311.4 166.4h1.0v1.0h-1.0zM320.1 163.6h1.0v1.0h-1.0zM282.1 169.1h1.0v1.0h-1.0zM314.6 167.1h1.0v1.0h-1.0zM297.8 159.6h1.0v1.0h-1.0zM318.5 169.2h1.0v1.0h-1.0zM288.9 167.5h1.0v1.0h-1.0zM315.8 160.0h1.0v1.0h-1.0zM284.8 163.4h1.0v1.0h-1.0zM282.8 168.4h1.0v1.0h-1.0zM278.9 161.3h1.0v1.0h-1.0zM288.8 166.9h1.0v1.0h-1.0zM297.2 162.8h1.0v1.0h-1.0zM295.2 165.7h1.0v1.0h-1.0zM292.0 164.9h1.0v1.0h-1.0zM300.9 165.8h1.0v1.0h-1.0zM286.0 168.0h1.0v1.0h-1.0zM299.5 164.4h1.0v1.0h-1.0zM292.6 164.4h1.0v1.0h-1.0zM294.7 167.1h1.0v1.0h-1.0zM307.2 163.5h1.0v1.0h-1.0zM299.8 160.2h1.0v1.0h-1.0zM291.7 163.8h1.0v1.0h-1.0zM309.2 164.0h1.0v1.0h-1.0zM289.0 172.1h1.0v1.0h-1.0zM283.1 162.0h1.0v1.0h-1.0zM295.9 167.5h1.0v1.0h-1.0zM319.3 169.8h1.0v1.0h-1.0zM284.0 159.9h1.0v1.0h-1.0zM302.1 161.3h1.0v1.0h-1.0zM273.8 167.2h1.0v1.0h-1.0zM282.3 165.5h1.0v1.0h-1.0zM314.4 157.7h1.0v1.0h-1.0zM306.4 161.5h1.0v1.0h-1.0zM307.1 166.8h1.0v1.0h-1.0zM299.4 161.2h1.0v1.0h-1.0zM288.9 160.8h1.0v1.0h-1.0zM299.9 158.3h1.0v1.0h-1.0zM276.7 172.3h1.0v1.0h-1.0zM311.1 170.0h1.0v1.0h-1.0zM299.0 165.9h1.0v1.0h-1.0zM310.2 164.7h1.0v1.0h-1.0zM301.7 174.3h1.0v1.0h-1.0zM301.2 167.3h1.0v1.0h-1.0zM328.7 166.1h1.0v1.0h-1.0zM310.7 161.8h1.0v1.0h-1.0zM297.3 159.6h1.0v1.0h-1.0zM286.7 168.2h1.0v1.0h-1.0zM291.3 160.4h1.0v1.0h-1.0zM289.4 158.8h1.0v1.0h-1.0zM312.6 162.0h1.0v1.0h-1.0zM314.6 165.5h1.0v1.0h-1.0zM316.1 162.7h1.0v1.0h-1.0zM312.1 163.4h1.0v1.0h-1.0zM316.6 164.6h1.0v1.0h-1.0zM311.2 162.6h1.0v1.0h-1.0zM292.6 160.0h1.0v1.0h-1.0zM302.2 165.5h1.0v1.0h-1.0zM295.3 170.1h1.0v1.0h-1.0zM315.3 159.5h1.0v1.0h-1.0zM295.5 170.1h1.0v1.0h-1.0zM276.7 161.8h1.0v1.0h-1.0zM283.6 166.6h1.0v1.0h-1.0zM300.6 164.8h1.0v1.0h-1.0zM296.7 167.4h1.0v1.0h-1.0zM299.2 163.3h1.0v1.0h-1.0zM291.3 161.4h1.0v1.0h-1.0zM287.1 163.0h1.0v1.0h-1.0zM292.3 163.9h1.0v1.0h-1.0zM323.1 166.9h1.0v1.0h-1.0zM305.7 158.7h1.0v1.0h-1.0zM297.2 155.8h1.0v1.0h-1.0zM308.4 162.3h1.0v1.0h-1.0zM295.1 164.3h1.0v1.0h-1.0zM298.7 163.3h1.0v1.0h-1.0zM295.0 162.3h1.0v1.0h-1.0zM273.0 163.8h1.0v1.0h-1.0zM291.8 162.1h1.0v1.0h-1.0zM291.0 163.6h1.0v1.0h-1.0zM297.4 160.3h1.0v1.0h-1.0zM293.4 167.9h1.0v1.0h-1.0zM294.0 160.0h1.0v1.0h-1.0zM313.9 173.1h1.0v1.0h-1.0zM306.6 173.0h1.0v1.0h-1.0zM305.9 164.0h1.0v1.0h-1.0zM299.5 169.4h1.0v1.0h-1.0zM294.5 163.8h1.0v1.0h-1.0zM293.3 162.1h1.0v1.0h-1.0zM297.6 159.8h1.0v1.0h-1.0zM320.2 166.4h1.0v1.0h-1.0zM305.7 160.4h1.0v1.0h-1.0zM294.5 168.3h1.0v1.0h-1.0zM309.6 166.3h1.0v1.0h-1.0zM306.7 166.1h1.0v1.0h-1.0zM275.9 166.5h1.0v1.0h-1.0zM284.2 162.4h1.0v1.0h-1.0zM301.5 160.4h1.0v1.0h-1.0zM294.9 165.9h1.0v1.0h-1.0zM309.5 166.0h1.0v1.0h-1.0zM277.2 160.1h1.0v1.0h-1.0zM294.4 168.0h1.0v1.0h-1.0zM318.7 166.2h1.0v1.0h-1.0zM285.1 162.8h1.0v1.0h-1.0zM285.7 165.0h1.0v1.0h-1.0zM292.5 165.7h1.0v1.0h-1.0zM287.9 163.4h1.0v1.0h-1.0zM311.7 167.7h1.0v1.0h-1.0zM315.1 161.7h1.0v1.0h-1.0zM289.3 162.1h1.0v1.0h-1.0zM315.2 162.3h1.0v1.0h-1.0z" fill="#000" fill-opacity="0.36"/>
<path d="M315.5 166.3h1.0v1.0h-1.0zM288.3 164.3h1.0v1.0h-1.0zM309.8 159.7h1.0v1.0h-1.0zM272.4 164.8h1.0v1.0h-1.0zM318.4 164.9h1.0v1.0h-1.0zM295.0 163.5h1.0v1.0h-1.0zM302.4 164.3h1.0v1.0h-1.0zM277.4 166.1h1.0v1.0h-1.0zM300.8 162.2h1.0v1.0h-1.0zM311.0 162.3h1.0v1.0h-1.0zM288.8 170.8h1.0v1.0h-1.0zM318.5 158.0h1.0v1.0h-1.0zM293.2 158.7h1.0v1.0h-1.0zM308.5 167.7h1.0v1.0h-1.0zM292.0 160.3h1.0v1.0h-1.0zM316.7 165.1h1.0v1.0h-1.0zM288.5 162.8h1.0v1.0h-1.0zM289.5 159.8h1.0v1.0h-1.0zM335.5 167.2h1.0v1.0h-1.0zM286.3 159.1h1.0v1.0h-1.0zM287.0 170.0h1.0v1.0h-1.0zM318.5 165.0h1.0v1.0h-1.0zM308.8 162.2h1.0v1.0h-1.0zM302.3 160.6h1.0v1.0h-1.0zM294.3 164.4h1.0v1.0h-1.0zM290.0 161.8h1.0v1.0h-1.0zM300.6 168.4h1.0v1.0h-1.0zM283.6 165.6h1.0v1.0h-1.0zM299.0 165.9h1.0v1.0h-1.0zM277.8 157.9h1.0v1.0h-1.0zM289.0 167.8h1.0v1.0h-1.0zM298.3 165.3h1.0v1.0h-1.0zM285.9 163.7h1.0v1.0h-1.0zM296.8 165.6h1.0v1.0h-1.0zM307.5 159.9h1.0v1.0h-1.0zM309.5 169.4h1.0v1.0h-1.0zM309.9 163.7h1.0v1.0h-1.0zM294.2 156.0h1.0v1.0h-1.0zM282.7 164.9h1.0v1.0h-1.0zM286.3 163.3h1.0v1.0h-1.0zM287.1 168.4h1.0v1.0h-1.0zM306.9 167.4h1.0v1.0h-1.0zM308.3 166.8h1.0v1.0h-1.0zM289.0 167.8h1.0v1.0h-1.0zM286.1 160.2h1.0v1.0h-1.0zM297.4 170.3h1.0v1.0h-1.0zM307.9 159.7h1.0v1.0h-1.0zM309.9 158.5h1.0v1.0h-1.0zM290.0 165.7h1.0v1.0h-1.0zM277.9 163.9h1.0v1.0h-1.0zM304.9 163.0h1.0v1.0h-1.0zM284.8 160.4h1.0v1.0h-1.0zM309.1 161.1h1.0v1.0h-1.0zM313.0 162.4h1.0v1.0h-1.0zM305.5 167.1h1.0v1.0h-1.0zM295.8 170.6h1.0v1.0h-1.0zM300.2 159.8h1.0v1.0h-1.0zM307.4 170.0h1.0v1.0h-1.0zM301.1 160.7h1.0v1.0h-1.0zM299.8 159.9h1.0v1.0h-1.0zM318.4 162.5h1.0v1.0h-1.0zM287.9 168.5h1.0v1.0h-1.0zM298.3 170.9h1.0v1.0h-1.0zM308.4 158.4h1.0v1.0h-1.0zM304.3 165.0h1.0v1.0h-1.0zM292.6 166.4h1.0v1.0h-1.0zM292.2 166.3h1.0v1.0h-1.0zM304.7 162.7h1.0v1.0h-1.0zM318.6 162.7h1.0v1.0h-1.0zM298.9 164.9h1.0v1.0h-1.0zM297.1 162.7h1.0v1.0h-1.0zM303.2 161.5h1.0v1.0h-1.0zM287.0 165.4h1.0v1.0h-1.0zM310.1 167.3h1.0v1.0h-1.0zM306.2 169.5h1.0v1.0h-1.0zM304.5 164.8h1.0v1.0h-1.0zM276.8 168.1h1.0v1.0h-1.0zM305.8 167.7h1.0v1.0h-1.0zM281.2 159.6h1.0v1.0h-1.0zM289.1 166.5h1.0v1.0h-1.0zM294.3 161.3h1.0v1.0h-1.0zM301.8 170.9h1.0v1.0h-1.0zM302.0 170.9h1.0v1.0h-1.0zM310.0 164.1h1.0v1.0h-1.0zM306.7 166.4h1.0v1.0h-1.0zM313.8 161.4h1.0v1.0h-1.0zM287.7 172.0h1.0v1.0h-1.0zM295.7 165.7h1.0v1.0h-1.0zM284.1 160.5h1.0v1.0h-1.0zM294.1 161.2h1.0v1.0h-1.0zM298.5 170.6h1.0v1.0h-1.0zM306.0 165.0h1.0v1.0h-1.0zM284.9 165.8h1.0v1.0h-1.0zM274.8 166.6h1.0v1.0h-1.0zM294.0 160.9h1.0v1.0h-1.0zM318.8 159.4h1.0v1.0h-1.0zM294.5 169.2h1.0v1.0h-1.0zM296.9 169.1h1.0v1.0h-1.0zM288.6 159.8h1.0v1.0h-1.0zM294.4 168.6h1.0v1.0h-1.0zM292.9 167.2h1.0v1.0h-1.0zM295.1 161.1h1.0v1.0h-1.0zM286.5 171.4h1.0v1.0h-1.0zM298.5 170.8h1.0v1.0h-1.0zM292.0 172.1h1.0v1.0h-1.0zM311.5 164.0h1.0v1.0h-1.0zM320.3 159.0h1.0v1.0h-1.0zM296.3 158.3h1.0v1.0h-1.0zM312.1 163.2h1.0v1.0h-1.0zM302.0 165.0h1.0v1.0h-1.0zM298.6 171.7h1.0v1.0h-1.0zM304.2 162.8h1.0v1.0h-1.0zM312.0 164.9h1.0v1.0h-1.0zM299.0 162.4h1.0v1.0h-1.0zM310.0 155.6h1.0v1.0h-1.0zM308.0 171.4h1.0v1.0h-1.0zM301.7 166.1h1.0v1.0h-1.0zM303.9 166.0h1.0v1.0h-1.0zM301.9 169.7h1.0v1.0h-1.0zM282.4 156.5h1.0v1.0h-1.0zM284.4 163.8h1.0v1.0h-1.0zM303.3 165.1h1.0v1.0h-1.0zM296.7 165.0h1.0v1.0h-1.0zM285.8 162.2h1.0v1.0h-1.0zM290.7 166.8h1.0v1.0h-1.0zM282.9 166.6h1.0v1.0h-1.0zM305.2 172.4h1.0v1.0h-1.0zM302.1 163.3h1.0v1.0h-1.0zM298.3 166.6h1.0v1.0h-1.0zM295.0 160.0h1.0v1.0h-1.0zM299.9 172.7h1.0v1.0h-1.0zM295.3 159.6h1.0v1.0h-1.0zM314.0 162.3h1.0v1.0h-1.0zM304.4 166.3h1.0v1.0h-1.0zM306.8 159.9h1.0v1.0h-1.0zM278.6 165.4h1.0v1.0h-1.0zM292.8 167.7h1.0v1.0h-1.0zM305.5 165.5h1.0v1.0h-1.0zM282.7 164.9h1.0v1.0h-1.0zM309.7 168.2h1.0v1.0h-1.0zM301.6 167.6h1.0v1.0h-1.0zM320.8 160.5h1.0v1.0h-1.0zM305.9 158.2h1.0v1.0h-1.0zM307.3 163.1h1.0v1.0h-1.0zM283.4 158.3h1.0v1.0h-1.0zM299.6 171.9h1.0v1.0h-1.0zM303.5 162.8h1.0v1.0h-1.0zM309.4 165.0h1.0v1.0h-1.0zM296.0 167.8h1.0v1.0h-1.0zM298.9 163.7h1.0v1.0h-1.0zM295.3 164.1h1.0v1.0h-1.0zM297.9 161.3h1.0v1.0h-1.0zM304.0 163.2h1.0v1.0h-1.0zM298.9 162.6h1.0v1.0h-1.0zM319.0 163.4h1.0v1.0h-1.0zM303.3 168.9h1.0v1.0h-1.0zM308.5 168.4h1.0v1.0h-1.0zM301.2 160.0h1.0v1.0h-1.0zM312.5 165.8h1.0v1.0h-1.0zM320.2 165.2h1.0v1.0h-1.0zM281.6 162.6h1.0v1.0h-1.0zM295.2 161.6h1.0v1.0h-1.0zM288.4 165.3h1.0v1.0h-1.0zM287.5 167.2h1.0v1.0h-1.0zM288.4 159.7h1.0v1.0h-1.0zM283.4 158.4h1.0v1.0h-1.0zM290.2 163.1h1.0v1.0h-1.0zM302.6 160.4h1.0v1.0h-1.0zM317.8 162.9h1.0v1.0h-1.0zM295.8 163.5h1.0v1.0h-1.0zM305.4 162.7h1.0v1.0h-1.0zM293.4 159.4h1.0v1.0h-1.0zM321.6 161.3h1.0v1.0h-1.0zM292.4 158.9h1.0v1.0h-1.0zM306.5 167.4h1.0v1.0h-1.0zM279.4 163.5h1.0v1.0h-1.0zM311.2 167.9h1.0v1.0h-1.0zM322.8 159.9h1.0v1.0h-1.0zM329.8 161.4h1.0v1.0h-1.0zM307.6 165.3h1.0v1.0h-1.0zM316.0 168.5h1.0v1.0h-1.0zM289.1 164.1h1.0v1.0h-1.0zM315.4 165.6h1.0v1.0h-1.0zM281.4 165.8h1.0v1.0h-1.0zM277.7 162.3h1.0v1.0h-1.0zM277.6 158.9h1.0v1.0h-1.0zM297.7 166.7h1.0v1.0h-1.0zM278.9 163.2h1.0v1.0h-1.0zM317.0 164.1h1.0v1.0h-1.0zM314.6 173.5h1.0v1.0h-1.0zM285.2 164.7h1.0v1.0h-1.0zM300.3 158.8h1.0v1.0h-1.0zM303.0 159.9h1.0v1.0h-1.0zM311.9 159.0h1.0v1.0h-1.0zM320.8 166.0h1.0v1.0h-1.0zM295.8 161.3h1.0v1.0h-1.0zM306.5 166.1h1.0v1.0h-1.0zM301.3 166.5h1.0v1.0h-1.0zM289.8 165.9h1.0v1.0h-1.0zM289.9 164.9h1.0v1.0h-1.0zM294.5 166.0h1.0v1.0h-1.0zM288.9 170.8h1.0v1.0h-1.0zM288.9 164.7h1.0v1.0h-1.0zM303.6 163.5h1.0v1.0h-1.0zM295.1 160.9h1.0v1.0h-1.0zM299.2 160.6h1.0v1.0h-1.0zM313.9 163.8h1.0v1.0h-1.0zM319.6 165.7h1.0v1.0h-1.0zM303.1 161.2h1.0v1.0h-1.0zM291.3 165.2h1.0v1.0h-1.0zM286.9 154.7h1.0v1.0h-1.0zM279.5 164.3h1.0v1.0h-1.0zM309.8 172.2h1.0v1.0h-1.0zM312.0 166.2h1.0v1.0h-1.0zM304.5 163.7h1.0v1.0h-1.0zM287.7 166.0h1.0v1.0h-1.0zM331.1 161.0h1.0v1.0h-1.0zM288.1 163.2h1.0v1.0h-1.0zM294.3 167.6h1.0v1.0h-1.0zM306.3 165.1h1.0v1.0h-1.0zM281.4 161.1h1.0v1.0h-1.0zM292.5 160.0h1.0v1.0h-1.0zM315.4 169.5h1.0v1.0h-1.0zM323.5 162.6h1.0v1.0h-1.0zM295.6 158.2h1.0v1.0h-1.0zM279.2 167.4h1.0v1.0h-1.0zM309.2 164.6h1.0v1.0h-1.0zM274.0 158.7h1.0v1.0h-1.0zM292.6 173.5h1.0v1.0h-1.0zM307.2 163.2h1.0v1.0h-1.0zM276.3 162.1h1.0v1.0h-1.0zM300.1 160.2h1.0v1.0h-1.0zM300.1 156.9h1.0v1.0h-1.0zM292.4 161.5h1.0v1.0h-1.0zM304.8 162.9h1.0v1.0h-1.0zM303.8 170.6h1.0v1.0h-1.0zM286.9 165.0h1.0v1.0h-1.0zM289.8 160.2h1.0v1.0h-1.0zM315.4 169.1h1.0v1.0h-1.0zM306.4 164.6h1.0v1.0h-1.0zM296.7 161.9h1.0v1.0h-1.0zM309.8 161.5h1.0v1.0h-1.0zM288.8 166.6h1.0v1.0h-1.0zM288.9 166.4h1.0v1.0h-1.0zM299.6 170.2h1.0v1.0h-1.0zM311.7 162.0h1.0v1.0h-1.0zM280.8 168.3h1.0v1.0h-1.0zM298.3 159.3h1.0v1.0h-1.0zM317.1 168.1h1.0v1.0h-1.0zM288.6 167.2h1.0v1.0h-1.0zM305.0 158.8h1.0v1.0h-1.0zM295.2 165.4h1.0v1.0h-1.0zM308.2 157.0h1.0v1.0h-1.0zM292.9 168.5h1.0v1.0h-1.0zM280.6 153.6h1.0v1.0h-1.0zM288.2 158.6h1.0v1.0h-1.0zM306.3 167.2h1.0v1.0h-1.0zM306.8 160.8h1.0v1.0h-1.0zM329.9 158.9h1.0v1.0h-1.0zM302.8 164.1h1.0v1.0h-1.0zM285.8 163.8h1.0v1.0h-1.0zM289.0 167.3h1.0v1.0h-1.0zM312.3 167.4h1.0v1.0h-1.0zM286.1 163.5h1.0v1.0h-1.0zM315.5 169.5h1.0v1.0h-1.0zM293.0 160.1h1.0v1.0h-1.0zM306.1 162.9h1.0v1.0h-1.0zM320.0 170.4h1.0v1.0h-1.0zM292.4 164.6h1.0v1.0h-1.0zM327.0 161.6h1.0v1.0h-1.0zM291.6 157.2h1.0v1.0h-1.0zM286.2 168.3h1.0v1.0h-1.0zM295.2 168.1h1.0v1.0h-1.0zM301.8 164.8h1.0v1.0h-1.0zM309.6 165.4h1.0v1.0h-1.0zM298.3 163.1h1.0v1.0h-1.0zM285.6 164.4h1.0v1.0h-1.0zM289.6 164.0h1.0v1.0h-1.0zM288.9 157.6h1.0v1.0h-1.0zM300.8 162.6h1.0v1.0h-1.0zM315.3 162.5h1.0v1.0h-1.0zM309.2 164.8h1.0v1.0h-1.0zM291.4 162.7h1.0v1.0h-1.0zM302.4 163.5h1.0v1.0h-1.0zM272.8 161.3h1.0v1.0h-1.0zM301.1 162.2h1.0v1.0h-1.0zM304.4 162.9h1.0v1.0h-1.0zM294.6 161.7h1.0v1.0h-1.0zM311.6 167.7h1.0v1.0h-1.0zM299.6 157.3h1.0v1.0h-1.0zM294.7 165.9h1.0v1.0h-1.0zM311.6 167.1h1.0v1.0h-1.0zM302.9 167.4h1.0v1.0h-1.0zM301.6 171.2h1.0v1.0h-1.0zM285.7 172.8h1.0v1.0h-1.0zM298.2 163.5h1.0v1.0h-1.0zM318.4 159.8h1.0v1.0h-1.0zM320.5 162.5h1.0v1.0h-1.0zM310.0 164.1h1.0v1.0h-1.0zM312.5 167.2h1.0v1.0h-1.0zM285.3 159.0h1.0v1.0h-1.0zM307.5 166.1h1.0v1.0h-1.0zM291.5 165.6h1.0v1.0h-1.0zM291.4 166.6h1.0v1.0h-1.0zM288.6 173.7h1.0v1.0h-1.0zM320.6 159.9h1.0v1.0h-1.0zM316.5 163.1h1.0v1.0h-1.0zM286.1 160.4h1.0v1.0h-1.0zM274.1 160.3h1.0v1.0h-1.0zM325.6 165.4h1.0v1.0h-1.0zM289.0 158.6h1.0v1.0h-1.0zM301.7 168.8h1.0v1.0h-1.0zM293.4 155.5h1.0v1.0h-1.0zM312.0 161.2h1.0v1.0h-1.0zM291.6 161.6h1.0v1.0h-1.0zM311.9 156.2h1.0v1.0h-1.0zM307.7 165.1h1.0v1.0h-1.0zM293.0 169.6h1.0v1.0h-1.0zM297.4 167.2h1.0v1.0h-1.0zM298.5 163.7h1.0v1.0h-1.0zM299.5 164.4h1.0v1.0h-1.0zM321.9 167.4h1.0v1.0h-1.0zM314.8 165.8h1.0v1.0h-1.0zM290.6 169.5h1.0v1.0h-1.0zM312.0 162.5h1.0v1.0h-1.0zM300.7 167.4h1.0v1.0h-1.0zM292.1 166.7h1.0v1.0h-1.0zM279.5 170.6h1.0v1.0h-1.0zM309.8 164.6h1.0v1.0h-1.0zM322.0 162.6h1.0v1.0h-1.0zM278.0 158.6h1.0v1.0h-1.0zM295.9 158.7h1.0v1.0h-1.0zM292.1 163.0h1.0v1.0h-1.0zM317.1 162.0h1.0v1.0h-1.0zM298.5 159.3h1.0v1.0h-1.0zM286.6 171.4h1.0v1.0h-1.0zM319.3 163.4h1.0v1.0h-1.0zM298.5 159.4h1.0v1.0h-1.0zM299.0 166.2h1.0v1.0h-1.0zM313.3 160.5h1.0v1.0h-1.0zM304.5 167.1h1.0v1.0h-1.0zM303.6 163.0h1.0v1.0h-1.0zM310.5 172.4h1.0v1.0h-1.0zM312.5 160.8h1.0v1.0h-1.0zM300.8 166.5h1.0v1.0h-1.0zM279.0 170.9h1.0v1.0h-1.0zM299.2 167.7h1.0v1.0h-1.0zM291.0 165.7h1.0v1.0h-1.0zM322.7 164.8h1.0v1.0h-1.0zM289.9 161.9h1.0v1.0h-1.0zM286.7 161.0h1.0v1.0h-1.0zM280.2 166.5h1.0v1.0h-1.0zM284.2 164.7h1.0v1.0h-1.0zM278.1 159.0h1.0v1.0h-1.0zM283.0 163.1h1.0v1.0h-1.0zM290.4 162.8h1.0v1.0h-1.0zM306.0 161.8h1.0v1.0h-1.0zM285.6 163.4h1.0v1.0h-1.0zM277.9 158.4h1.0v1.0h-1.0zM308.1 167.6h1.0v1.0h-1.0zM292.7 166.4h1.0v1.0h-1.0zM289.5 162.4h1.0v1.0h-1.0zM304.4 158.5h1.0v1.0h-1.0zM312.0 155.9h1.0v1.0h-1.0zM315.4 169.4h1.0v1.0h-1.0zM310.2 164.7h1.0v1.0h-1.0zM308.2 162.9h1.0v1.0h-1.0zM309.9 166.1h1.0v1.0h-1.0zM289.5 162.0h1.0v1.0h-1.0zM309.1 168.5h1.0v1.0h-1.0zM298.9 167.3h1.0v1.0h-1.0zM286.9 172.8h1.0v1.0h-1.0zM286.5 162.7h1.0v1.0h-1.0zM283.5 162.7h1.0v1.0h-1.0zM288.0 162.3h1.0v1.0h-1.0zM296.4 165.9h1.0v1.0h-1.0zM294.4 162.4h1.0v1.0h-1.0zM300.7 168.0h1.0v1.0h-1.0zM293.7 158.7h1.0v1.0h-1.0zM316.3 163.7h1.0v1.0h-1.0z" fill="#000" fill-opacity="0.36"/>
<path d="M290.6 165.8h1.0v1.0h-1.0zM284.5 160.4h1.0v1.0h-1.0zM313.1 163.5h1.0v1.0h-1.0zM295.1 160.4h1.0v1.0h-1.0zM282.8 165.7h1.0v1.0h-1.0zM285.4 160.9h1.0v1.0h-1.0zM288.1 162.4h1.0v1.0h-1.0zM291.7 162.7h1.0v1.0h-1.0zM279.6 167.4h1.0v1.0h-1.0zM287.8 165.1h1.0v1.0h-1.0zM312.5 161.7h1.0v1.0h-1.0zM303.1 173.6h1.0v1.0h-1.0zM321.7 158.1h1.0v1.0h-1.0zM326.0 170.5h1.0v1.0h-1.0zM294.9 168.6h1.0v1.0h-1.0zM296.9 161.2h1.0v1.0h-1.0zM305.0 164.5h1.0v1.0h-1.0zM288.9 164.5h1.0v1.0h-1.0zM313.5 160.3h1.0v1.0h-1.0zM296.1 163.7h1.0v1.0h-1.0zM284.9 165.3h1.0v1.0h-1.0zM293.5 164.0h1.0v1.0h-1.0zM315.6 162.5h1.0v1.0h-1.0zM321.4 169.0h1.0v1.0h-1.0zM311.6 164.5h1.0v1.0h-1.0zM286.7 166.6h1.0v1.0h-1.0zM317.3 164.2h1.0v1.0h-1.0zM298.4 162.9h1.0v1.0h-1.0zM294.7 163.6h1.0v1.0h-1.0zM297.2 163.7h1.0v1.0h-1.0zM272.3 153.5h1.0v1.0h-1.0zM321.5 160.5h1.0v1.0h-1.0zM280.5 167.1h1.0v1.0h-1.0zM292.2 162.1h1.0v1.0h-1.0zM313.0 159.9h1.0v1.0h-1.0zM283.2 158.5h1.0v1.0h-1.0zM310.3 165.1h1.0v1.0h-1.0zM320.9 167.2h1.0v1.0h-1.0zM307.9 167.1h1.0v1.0h-1.0zM278.1 171.2h1.0v1.0h-1.0zM292.5 161.1h1.0v1.0h-1.0zM283.5 165.7h1.0v1.0h-1.0zM288.9 162.2h1.0v1.0h-1.0zM300.9 159.0h1.0v1.0h-1.0zM318.4 170.8h1.0v1.0h-1.0zM302.5 163.4h1.0v1.0h-1.0zM291.8 163.5h1.0v1.0h-1.0zM286.4 163.0h1.0v1.0h-1.0zM278.4 168.8h1.0v1.0h-1.0zM286.3 157.6h1.0v1.0h-1.0zM295.6 166.3h1.0v1.0h-1.0zM309.6 168.7h1.0v1.0h-1.0zM286.6 159.7h1.0v1.0h-1.0zM276.1 162.1h1.0v1.0h-1.0zM297.1 166.6h1.0v1.0h-1.0zM285.1 162.4h1.0v1.0h-1.0zM284.5 162.2h1.0v1.0h-1.0zM313.9 158.8h1.0v1.0h-1.0zM296.3 165.1h1.0v1.0h-1.0zM304.5 170.1h1.0v1.0h-1.0zM308.8 158.4h1.0v1.0h-1.0zM279.2 160.1h1.0v1.0h-1.0zM306.8 164.8h1.0v1.0h-1.0zM294.4 160.4h1.0v1.0h-1.0zM314.3 162.0h1.0v1.0h-1.0zM307.0 163.4h1.0v1.0h-1.0zM304.6 165.2h1.0v1.0h-1.0zM289.1 151.9h1.0v1.0h-1.0zM302.2 165.0h1.0v1.0h-1.0zM287.5 158.4h1.0v1.0h-1.0zM318.8 155.6h1.0v1.0h-1.0zM305.0 160.9h1.0v1.0h-1.0zM294.6 166.0h1.0v1.0h-1.0zM290.2 168.7h1.0v1.0h-1.0zM287.4 166.2h1.0v1.0h-1.0zM308.6 163.8h1.0v1.0h-1.0zM316.1 156.7h1.0v1.0h-1.0zM306.6 162.7h1.0v1.0h-1.0zM317.7 159.7h1.0v1.0h-1.0zM315.1 161.5h1.0v1.0h-1.0zM318.5 156.6h1.0v1.0h-1.0zM287.3 166.6h1.0v1.0h-1.0zM310.5 165.8h1.0v1.0h-1.0zM312.1 166.5h1.0v1.0h-1.0zM296.3 170.6h1.0v1.0h-1.0zM292.1 158.0h1.0v1.0h-1.0zM290.1 165.2h1.0v1.0h-1.0zM318.6 159.8h1.0v1.0h-1.0zM300.7 164.1h1.0v1.0h-1.0zM294.9 160.0h1.0v1.0h-1.0zM295.3 164.7h1.0v1.0h-1.0zM303.7 160.1h1.0v1.0h-1.0zM305.5 160.8h1.0v1.0h-1.0zM311.2 160.8h1.0v1.0h-1.0zM285.1 166.0h1.0v1.0h-1.0zM295.9 166.2h1.0v1.0h-1.0zM305.3 162.6h1.0v1.0h-1.0zM310.1 166.3h1.0v1.0h-1.0zM299.9 167.2h1.0v1.0h-1.0zM280.4 158.4h1.0v1.0h-1.0zM280.0 168.1h1.0v1.0h-1.0zM308.2 157.7h1.0v1.0h-1.0zM328.3 172.7h1.0v1.0h-1.0zM288.5 165.5h1.0v1.0h-1.0zM311.8 173.0h1.0v1.0h-1.0zM294.3 165.9h1.0v1.0h-1.0zM300.8 169.8h1.0v1.0h-1.0zM313.8 166.7h1.0v1.0h-1.0zM306.3 162.5h1.0v1.0h-1.0zM299.2 159.7h1.0v1.0h-1.0zM318.0 165.6h1.0v1.0h-1.0zM303.0 169.6h1.0v1.0h-1.0zM288.6 163.9h1.0v1.0h-1.0zM312.1 164.3h1.0v1.0h-1.0zM308.0 162.0h1.0v1.0h-1.0zM287.4 158.3h1.0v1.0h-1.0zM311.5 160.8h1.0v1.0h-1.0zM283.1 169.1h1.0v1.0h-1.0zM303.3 159.9h1.0v1.0h-1.0zM317.0 166.5h1.0v1.0h-1.0zM315.5 157.6h1.0v1.0h-1.0zM302.0 161.1h1.0v1.0h-1.0zM312.9 167.1h1.0v1.0h-1.0zM282.9 155.9h1.0v1.0h-1.0zM314.6 161.1h1.0v1.0h-1.0zM316.1 168.0h1.0v1.0h-1.0zM309.7 165.5h1.0v1.0h-1.0zM305.1 165.3h1.0v1.0h-1.0zM295.9 158.2h1.0v1.0h-1.0zM287.9 168.7h1.0v1.0h-1.0zM297.6 152.2h1.0v1.0h-1.0zM312.4 168.2h1.0v1.0h-1.0zM305.2 164.5h1.0v1.0h-1.0zM282.3 162.0h1.0v1.0h-1.0zM300.4 165.0h1.0v1.0h-1.0zM288.8 166.0h1.0v1.0h-1.0zM312.6 162.2h1.0v1.0h-1.0zM292.2 163.8h1.0v1.0h-1.0zM313.6 170.3h1.0v1.0h-1.0zM282.5 166.4h1.0v1.0h-1.0zM317.3 159.9h1.0v1.0h-1.0zM310.5 157.9h1.0v1.0h-1.0zM282.0 162.7h1.0v1.0h-1.0zM295.2 160.6h1.0v1.0h-1.0zM276.9 165.1h1.0v1.0h-1.0zM318.4 166.8h1.0v1.0h-1.0zM303.7 160.8h1.0v1.0h-1.0zM287.0 168.8h1.0v1.0h-1.0zM296.1 160.1h1.0v1.0h-1.0zM287.3 159.0h1.0v1.0h-1.0zM315.8 160.7h1.0v1.0h-1.0zM303.1 167.6h1.0v1.0h-1.0zM314.7 166.7h1.0v1.0h-1.0zM286.6 157.5h1.0v1.0h-1.0zM285.1 161.1h1.0v1.0h-1.0zM325.8 167.3h1.0v1.0h-1.0zM309.5 164.9h1.0v1.0h-1.0zM294.1 169.3h1.0v1.0h-1.0zM274.3 161.6h1.0v1.0h-1.0zM299.0 164.5h1.0v1.0h-1.0zM295.8 161.8h1.0v1.0h-1.0zM298.9 164.9h1.0v1.0h-1.0zM302.4 165.9h1.0v1.0h-1.0zM294.7 163.6h1.0v1.0h-1.0zM312.7 163.9h1.0v1.0h-1.0zM301.9 164.5h1.0v1.0h-1.0zM287.1 163.1h1.0v1.0h-1.0zM314.3 154.8h1.0v1.0h-1.0zM291.4 168.6h1.0v1.0h-1.0zM309.9 162.5h1.0v1.0h-1.0zM301.5 161.2h1.0v1.0h-1.0zM320.9 168.3h1.0v1.0h-1.0zM276.6 159.2h1.0v1.0h-1.0zM295.9 164.6h1.0v1.0h-1.0zM297.0 157.2h1.0v1.0h-1.0zM292.6 169.0h1.0v1.0h-1.0zM284.9 161.2h1.0v1.0h-1.0zM290.5 163.3h1.0v1.0h-1.0zM284.2 168.8h1.0v1.0h-1.0zM306.2 169.9h1.0v1.0h-1.0zM306.7 167.5h1.0v1.0h-1.0zM323.9 161.9h1.0v1.0h-1.0zM304.5 164.9h1.0v1.0h-1.0zM307.1 174.4h1.0v1.0h-1.0zM294.3 167.5h1.0v1.0h-1.0zM296.0 162.3h1.0v1.0h-1.0zM307.1 166.0h1.0v1.0h-1.0zM297.1 158.2h1.0v1.0h-1.0zM292.1 169.4h1.0v1.0h-1.0zM292.3 162.0h1.0v1.0h-1.0zM300.9 164.7h1.0v1.0h-1.0zM313.9 169.5h1.0v1.0h-1.0zM288.0 163.9h1.0v1.0h-1.0zM288.6 166.0h1.0v1.0h-1.0zM323.3 162.2h1.0v1.0h-1.0zM289.2 158.6h1.0v1.0h-1.0zM309.9 163.2h1.0v1.0h-1.0zM300.8 163.6h1.0v1.0h-1.0zM292.2 160.4h1.0v1.0h-1.0zM303.3 161.1h1.0v1.0h-1.0zM289.8 165.4h1.0v1.0h-1.0zM304.8 167.7h1.0v1.0h-1.0zM310.4 169.5h1.0v1.0h-1.0zM311.1 161.8h1.0v1.0h-1.0zM306.2 163.5h1.0v1.0h-1.0zM303.9 170.2h1.0v1.0h-1.0zM285.8 162.1h1.0v1.0h-1.0zM309.4 165.0h1.0v1.0h-1.0zM287.7 169.6h1.0v1.0h-1.0zM314.0 161.5h1.0v1.0h-1.0zM289.9 156.9h1.0v1.0h-1.0zM297.1 165.9h1.0v1.0h-1.0zM290.0 173.2h1.0v1.0h-1.0zM297.6 162.0h1.0v1.0h-1.0zM289.5 159.2h1.0v1.0h-1.0zM312.4 165.8h1.0v1.0h-1.0zM301.7 171.7h1.0v1.0h-1.0zM295.3 162.7h1.0v1.0h-1.0zM310.2 159.0h1.0v1.0h-1.0zM291.2 169.9h1.0v1.0h-1.0zM299.3 157.1h1.0v1.0h-1.0zM301.4 164.7h1.0v1.0h-1.0zM296.1 161.3h1.0v1.0h-1.0zM291.3 165.6h1.0v1.0h-1.0zM301.2 159.8h1.0v1.0h-1.0zM321.8 164.3h1.0v1.0h-1.0zM321.7 161.4h1.0v1.0h-1.0zM310.7 169.4h1.0v1.0h-1.0zM306.4 165.7h1.0v1.0h-1.0zM278.9 165.7h1.0v1.0h-1.0zM292.6 164.8h1.0v1.0h-1.0zM284.6 164.3h1.0v1.0h-1.0zM298.8 168.0h1.0v1.0h-1.0zM300.0 168.8h1.0v1.0h-1.0zM281.4 168.5h1.0v1.0h-1.0zM284.8 160.8h1.0v1.0h-1.0zM289.7 171.6h1.0v1.0h-1.0zM298.8 161.5h1.0v1.0h-1.0zM284.4 165.9h1.0v1.0h-1.0zM291.6 169.3h1.0v1.0h-1.0zM288.3 157.4h1.0v1.0h-1.0zM295.9 167.0h1.0v1.0h-1.0zM285.6 160.7h1.0v1.0h-1.0zM308.8 168.3h1.0v1.0h-1.0zM318.1 163.9h1.0v1.0h-1.0zM313.3 161.1h1.0v1.0h-1.0zM294.6 161.0h1.0v1.0h-1.0zM311.3 164.8h1.0v1.0h-1.0zM282.1 168.2h1.0v1.0h-1.0zM282.3 165.2h1.0v1.0h-1.0zM285.4 166.7h1.0v1.0h-1.0zM279.3 165.5h1.0v1.0h-1.0zM312.4 160.9h1.0v1.0h-1.0zM282.2 161.7h1.0v1.0h-1.0zM295.4 171.1h1.0v1.0h-1.0zM292.9 163.7h1.0v1.0h-1.0zM318.4 165.1h1.0v1.0h-1.0zM302.8 171.8h1.0v1.0h-1.0zM311.2 162.0h1.0v1.0h-1.0zM311.7 161.4h1.0v1.0h-1.0zM286.0 158.5h1.0v1.0h-1.0zM312.9 153.9h1.0v1.0h-1.0zM281.6 163.0h1.0v1.0h-1.0zM302.9 167.7h1.0v1.0h-1.0zM303.2 166.3h1.0v1.0h-1.0zM309.7 165.9h1.0v1.0h-1.0zM313.2 162.8h1.0v1.0h-1.0zM303.2 167.5h1.0v1.0h-1.0zM283.7 165.8h1.0v1.0h-1.0zM288.9 167.4h1.0v1.0h-1.0zM298.7 169.2h1.0v1.0h-1.0zM290.1 166.6h1.0v1.0h-1.0zM323.0 172.1h1.0v1.0h-1.0zM292.2 158.7h1.0v1.0h-1.0zM314.2 164.6h1.0v1.0h-1.0zM305.7 170.9h1.0v1.0h-1.0zM308.7 171.0h1.0v1.0h-1.0zM312.3 169.5h1.0v1.0h-1.0zM302.0 160.6h1.0v1.0h-1.0zM316.2 166.8h1.0v1.0h-1.0zM313.8 158.5h1.0v1.0h-1.0zM300.4 167.7h1.0v1.0h-1.0zM293.1 158.4h1.0v1.0h-1.0zM282.7 165.3h1.0v1.0h-1.0zM320.9 158.8h1.0v1.0h-1.0zM274.1 163.9h1.0v1.0h-1.0zM299.1 165.4h1.0v1.0h-1.0zM299.0 161.7h1.0v1.0h-1.0zM299.6 169.3h1.0v1.0h-1.0zM277.8 165.6h1.0v1.0h-1.0zM281.9 166.6h1.0v1.0h-1.0zM301.9 166.6h1.0v1.0h-1.0zM313.8 165.5h1.0v1.0h-1.0zM286.8 160.8h1.0v1.0h-1.0zM275.2 170.4h1.0v1.0h-1.0zM286.1 167.0h1.0v1.0h-1.0zM305.8 164.4h1.0v1.0h-1.0zM286.8 166.8h1.0v1.0h-1.0zM317.8 160.6h1.0v1.0h-1.0zM317.9 167.7h1.0v1.0h-1.0zM294.6 160.1h1.0v1.0h-1.0zM300.6 163.9h1.0v1.0h-1.0zM303.7 163.9h1.0v1.0h-1.0zM299.1 159.6h1.0v1.0h-1.0zM296.7 169.4h1.0v1.0h-1.0zM288.1 165.3h1.0v1.0h-1.0zM312.4 163.1h1.0v1.0h-1.0zM283.8 168.7h1.0v1.0h-1.0zM317.0 166.0h1.0v1.0h-1.0zM309.6 170.0h1.0v1.0h-1.0zM315.6 164.4h1.0v1.0h-1.0zM304.4 167.9h1.0v1.0h-1.0zM302.4 165.1h1.0v1.0h-1.0zM301.4 164.5h1.0v1.0h-1.0zM303.7 161.2h1.0v1.0h-1.0zM307.8 167.2h1.0v1.0h-1.0zM297.2 174.1h1.0v1.0h-1.0zM308.4 166.5h1.0v1.0h-1.0zM301.1 172.7h1.0v1.0h-1.0zM287.4 163.2h1.0v1.0h-1.0zM307.5 158.6h1.0v1.0h-1.0zM321.1 165.8h1.0v1.0h-1.0zM289.2 169.2h1.0v1.0h-1.0zM296.4 166.7h1.0v1.0h-1.0zM304.3 161.2h1.0v1.0h-1.0zM310.9 166.4h1.0v1.0h-1.0zM310.1 166.1h1.0v1.0h-1.0zM307.4 160.9h1.0v1.0h-1.0zM292.5 168.3h1.0v1.0h-1.0zM308.7 158.4h1.0v1.0h-1.0zM308.3 167.9h1.0v1.0h-1.0zM308.6 165.4h1.0v1.0h-1.0zM294.8 169.4h1.0v1.0h-1.0zM308.6 158.3h1.0v1.0h-1.0zM315.1 157.3h1.0v1.0h-1.0zM296.5 156.8h1.0v1.0h-1.0zM310.0 168.6h1.0v1.0h-1.0zM305.3 159.6h1.0v1.0h-1.0zM297.4 165.8h1.0v1.0h-1.0zM287.1 158.4h1.0v1.0h-1.0zM305.7 160.7h1.0v1.0h-1.0zM282.9 167.7h1.0v1.0h-1.0zM305.5 168.7h1.0v1.0h-1.0zM281.5 163.5h1.0v1.0h-1.0zM294.3 160.5h1.0v1.0h-1.0zM302.9 168.7h1.0v1.0h-1.0zM305.7 164.5h1.0v1.0h-1.0zM313.8 160.8h1.0v1.0h-1.0zM308.9 159.8h1.0v1.0h-1.0zM288.2 164.7h1.0v1.0h-1.0zM314.4 159.0h1.0v1.0h-1.0zM283.3 166.6h1.0v1.0h-1.0zM306.6 162.3h1.0v1.0h-1.0zM313.2 163.5h1.0v1.0h-1.0zM305.5 166.1h1.0v1.0h-1.0zM308.0 168.1h1.0v1.0h-1.0zM286.3 163.5h1.0v1.0h-1.0zM321.0 162.5h1.0v1.0h-1.0zM307.0 165.1h1.0v1.0h-1.0zM289.5 167.1h1.0v1.0h-1.0zM301.1 166.7h1.0v1.0h-1.0zM298.9 160.1h1.0v1.0h-1.0zM293.7 163.0h1.0v1.0h-1.0zM284.8 168.4h1.0v1.0h-1.0zM322.5 162.6h1.0v1.0h-1.0zM318.8 164.1h1.0v1.0h-1.0zM273.8 167.1h1.0v1.0h-1.0zM309.4 160.0h1.0v1.0h-1.0zM307.5 168.3h1.0v1.0h-1.0zM286.1 168.9h1.0v1.0h-1.0zM308.8 165.3h1.0v1.0h-1.0zM296.6 167.7h1.0v1.0h-1.0zM287.2 159.8h1.0v1.0h-1.0zM289.1 166.9h1.0v1.0h-1.0zM302.4 160.3h1.0v1.0h-1.0zM291.7 161.7h1.0v1.0h-1.0zM283.4 163.0h1.0v1.0h-1.0zM322.4 160.9h1.0v1.0h-1.0zM298.3 160.5h1.0v1.0h-1.0zM307.3 164.7h1.0v1.0h-1.0z" fill="#000" fill-opacity="0.36"/>
<path d="M286.7 164.9h1.0v1.0h-1.0zM286.2 163.7h1.0v1.0h-1.0zM315.0 167.2h1.0v1.0h-1.0zM307.9 161.7h1.0v1.0h-1.0zM277.3 167.0h1.0v1.0h-1.0zM301.0 164.9h1.0v1.0h-1.0zM304.3 169.0h1.0v1.0h-1.0zM317.0 160.8h1.0v1.0h-1.0zM312.0 162.3h1.0v1.0h-1.0zM293.5 166.2h1.0v1.0h-1.0zM304.6 165.2h1.0v1.0h-1.0zM304.9 164.0h1.0v1.0h-1.0zM325.0 157.6h1.0v1.0h-1.0zM322.1 163.3h1.0v1.0h-1.0zM303.7 158.4h1.0v1.0h-1.0zM299.1 163.3h1.0v1.0h-1.0zM321.2 169.5h1.0v1.0h-1.0zM306.0 165.1h1.0v1.0h-1.0zM302.6 161.9h1.0v1.0h-1.0zM318.9 163.0h1.0v1.0h-1.0zM295.9 159.1h1.0v1.0h-1.0zM314.1 161.0h1.0v1.0h-1.0zM290.0 165.9h1.0v1.0h-1.0zM312.3 168.1h1.0v1.0h-1.0zM300.3 154.7h1.0v1.0h-1.0zM310.2 165.1h1.0v1.0h-1.0zM297.6 165.4h1.0v1.0h-1.0zM313.6 163.1h1.0v1.0h-1.0zM308.9 173.2h1.0v1.0h-1.0zM300.4 167.6h1.0v1.0h-1.0zM301.5 169.0h1.0v1.0h-1.0zM312.2 167.3h1.0v1.0h-1.0zM313.6 163.2h1.0v1.0h-1.0zM286.3 162.8h1.0v1.0h-1.0zM307.9 163.5h1.0v1.0h-1.0zM286.1 173.0h1.0v1.0h-1.0zM295.1 159.3h1.0v1.0h-1.0zM295.7 167.3h1.0v1.0h-1.0zM305.0 162.9h1.0v1.0h-1.0zM289.1 167.3h1.0v1.0h-1.0zM297.4 159.5h1.0v1.0h-1.0zM290.4 168.3h1.0v1.0h-1.0zM300.8 168.2h1.0v1.0h-1.0zM295.9 159.1h1.0v1.0h-1.0zM300.4 168.6h1.0v1.0h-1.0zM296.4 169.1h1.0v1.0h-1.0zM308.1 158.1h1.0v1.0h-1.0zM278.7 160.5h1.0v1.0h-1.0zM296.2 156.8h1.0v1.0h-1.0zM300.4 168.4h1.0v1.0h-1.0zM307.6 164.3h1.0v1.0h-1.0zM315.8 164.0h1.0v1.0h-1.0zM319.0 163.2h1.0v1.0h-1.0zM313.1 170.8h1.0v1.0h-1.0zM314.3 166.8h1.0v1.0h-1.0zM319.4 162.8h1.0v1.0h-1.0zM292.9 164.3h1.0v1.0h-1.0zM313.3 166.5h1.0v1.0h-1.0zM295.8 163.5h1.0v1.0h-1.0zM302.3 156.3h1.0v1.0h-1.0zM318.2 159.7h1.0v1.0h-1.0zM309.7 170.4h1.0v1.0h-1.0zM295.6 164.1h1.0v1.0h-1.0zM276.1 166.6h1.0v1.0h-1.0zM298.9 159.0h1.0v1.0h-1.0zM287.7 163.1h1.0v1.0h-1.0zM313.6 168.9h1.0v1.0h-1.0zM317.0 161.5h1.0v1.0h-1.0zM310.3 164.5h1.0v1.0h-1.0zM306.6 168.3h1.0v1.0h-1.0zM302.1 159.5h1.0v1.0h-1.0zM291.3 167.3h1.0v1.0h-1.0zM292.0 161.1h1.0v1.0h-1.0zM310.7 159.7h1.0v1.0h-1.0zM306.0 162.9h1.0v1.0h-1.0zM310.1 165.5h1.0v1.0h-1.0zM273.1 159.3h1.0v1.0h-1.0zM309.2 159.4h1.0v1.0h-1.0zM276.7 163.2h1.0v1.0h-1.0zM298.4 161.2h1.0v1.0h-1.0zM277.4 165.0h1.0v1.0h-1.0zM298.3 173.3h1.0v1.0h-1.0zM318.0 159.6h1.0v1.0h-1.0zM292.2 166.5h1.0v1.0h-1.0zM307.2 158.9h1.0v1.0h-1.0zM289.0 158.4h1.0v1.0h-1.0zM301.9 160.8h1.0v1.0h-1.0zM282.3 167.0h1.0v1.0h-1.0zM310.0 164.1h1.0v1.0h-1.0zM284.2 167.7h1.0v1.0h-1.0zM272.2 161.8h1.0v1.0h-1.0zM297.9 160.0h1.0v1.0h-1.0zM323.4 164.6h1.0v1.0h-1.0zM286.6 162.5h1.0v1.0h-1.0zM298.4 162.1h1.0v1.0h-1.0zM276.2 168.8h1.0v1.0h-1.0zM310.3 164.4h1.0v1.0h-1.0zM285.0 168.4h1.0v1.0h-1.0zM305.1 169.3h1.0v1.0h-1.0zM306.3 170.9h1.0v1.0h-1.0zM283.9 165.8h1.0v1.0h-1.0zM296.8 159.5h1.0v1.0h-1.0zM289.5 166.7h1.0v1.0h-1.0zM283.4 162.4h1.0v1.0h-1.0zM316.3 166.5h1.0v1.0h-1.0zM298.3 160.9h1.0v1.0h-1.0zM282.8 166.8h1.0v1.0h-1.0zM322.7 166.0h1.0v1.0h-1.0zM306.8 162.6h1.0v1.0h-1.0zM291.4 158.8h1.0v1.0h-1.0zM293.6 158.9h1.0v1.0h-1.0zM305.6 165.5h1.0v1.0h-1.0zM285.7 163.5h1.0v1.0h-1.0zM273.7 167.1h1.0v1.0h-1.0zM312.9 159.8h1.0v1.0h-1.0zM287.5 160.0h1.0v1.0h-1.0zM295.9 162.8h1.0v1.0h-1.0zM318.1 163.4h1.0v1.0h-1.0zM311.4 160.6h1.0v1.0h-1.0zM292.0 157.7h1.0v1.0h-1.0zM306.1 168.0h1.0v1.0h-1.0zM281.7 167.3h1.0v1.0h-1.0zM290.8 167.8h1.0v1.0h-1.0zM303.5 167.0h1.0v1.0h-1.0zM286.3 162.6h1.0v1.0h-1.0zM306.9 163.3h1.0v1.0h-1.0zM310.2 165.7h1.0v1.0h-1.0zM303.3 162.5h1.0v1.0h-1.0zM292.1 166.7h1.0v1.0h-1.0zM317.8 167.2h1.0v1.0h-1.0zM291.7 165.0h1.0v1.0h-1.0zM298.0 168.7h1.0v1.0h-1.0zM297.1 170.5h1.0v1.0h-1.0zM275.7 166.5h1.0v1.0h-1.0zM287.8 161.3h1.0v1.0h-1.0zM304.2 168.6h1.0v1.0h-1.0zM305.9 168.6h1.0v1.0h-1.0zM299.9 163.7h1.0v1.0h-1.0zM312.1 166.6h1.0v1.0h-1.0zM311.7 162.5h1.0v1.0h-1.0zM310.5 161.6h1.0v1.0h-1.0zM271.9 163.4h1.0v1.0h-1.0zM291.0 166.9h1.0v1.0h-1.0zM316.8 167.1h1.0v1.0h-1.0zM313.0 162.7h1.0v1.0h-1.0zM300.7 167.7h1.0v1.0h-1.0zM295.4 164.8h1.0v1.0h-1.0zM323.9 161.4h1.0v1.0h-1.0zM289.6 161.1h1.0v1.0h-1.0zM299.4 165.0h1.0v1.0h-1.0zM302.1 170.7h1.0v1.0h-1.0zM316.9 158.9h1.0v1.0h-1.0zM317.3 164.3h1.0v1.0h-1.0zM284.8 161.8h1.0v1.0h-1.0zM300.0 162.1h1.0v1.0h-1.0zM304.1 161.3h1.0v1.0h-1.0zM291.4 164.2h1.0v1.0h-1.0zM294.9 166.0h1.0v1.0h-1.0zM296.0 162.3h1.0v1.0h-1.0zM317.6 160.7h1.0v1.0h-1.0zM289.9 162.4h1.0v1.0h-1.0zM301.6 162.5h1.0v1.0h-1.0zM309.1 155.2h1.0v1.0h-1.0zM282.3 161.3h1.0v1.0h-1.0zM297.6 168.5h1.0v1.0h-1.0zM305.7 169.5h1.0v1.0h-1.0zM323.7 164.2h1.0v1.0h-1.0zM288.6 168.6h1.0v1.0h-1.0zM310.3 171.9h1.0v1.0h-1.0zM313.8 161.4h1.0v1.0h-1.0zM314.9 165.9h1.0v1.0h-1.0zM294.6 164.7h1.0v1.0h-1.0zM295.5 165.0h1.0v1.0h-1.0zM321.7 160.8h1.0v1.0h-1.0zM296.6 169.1h1.0v1.0h-1.0zM297.9 161.3h1.0v1.0h-1.0zM317.2 167.5h1.0v1.0h-1.0zM276.3 163.3h1.0v1.0h-1.0zM302.0 167.6h1.0v1.0h-1.0zM289.5 162.8h1.0v1.0h-1.0zM307.7 156.3h1.0v1.0h-1.0zM299.1 167.7h1.0v1.0h-1.0zM330.9 163.2h1.0v1.0h-1.0zM312.5 169.0h1.0v1.0h-1.0zM283.4 166.8h1.0v1.0h-1.0zM297.6 169.2h1.0v1.0h-1.0zM297.6 165.3h1.0v1.0h-1.0zM302.3 159.3h1.0v1.0h-1.0zM288.1 173.7h1.0v1.0h-1.0zM303.9 167.8h1.0v1.0h-1.0zM301.0 165.4h1.0v1.0h-1.0zM308.4 159.1h1.0v1.0h-1.0zM296.0 159.6h1.0v1.0h-1.0zM292.2 163.9h1.0v1.0h-1.0zM300.8 165.9h1.0v1.0h-1.0zM273.4 165.5h1.0v1.0h-1.0zM295.7 160.9h1.0v1.0h-1.0zM310.0 163.5h1.0v1.0h-1.0zM321.4 165.7h1.0v1.0h-1.0zM291.5 166.6h1.0v1.0h-1.0zM284.2 161.2h1.0v1.0h-1.0zM283.9 169.2h1.0v1.0h-1.0zM287.1 158.3h1.0v1.0h-1.0zM320.2 166.5h1.0v1.0h-1.0zM282.8 168.5h1.0v1.0h-1.0zM313.5 162.5h1.0v1.0h-1.0zM285.8 166.3h1.0v1.0h-1.0zM303.2 159.9h1.0v1.0h-1.0zM292.1 158.4h1.0v1.0h-1.0zM291.1 160.9h1.0v1.0h-1.0zM296.7 163.1h1.0v1.0h-1.0zM299.0 161.4h1.0v1.0h-1.0zM307.0 154.9h1.0v1.0h-1.0zM285.5 159.4h1.0v1.0h-1.0zM282.6 165.1h1.0v1.0h-1.0zM298.7 163.5h1.0v1.0h-1.0zM286.5 160.6h1.0v1.0h-1.0zM288.4 161.9h1.0v1.0h-1.0zM310.2 161.4h1.0v1.0h-1.0zM309.2 169.6h1.0v1.0h-1.0zM317.0 165.7h1.0v1.0h-1.0zM287.7 165.0h1.0v1.0h-1.0zM295.3 154.7h1.0v1.0h-1.0zM310.7 166.9h1.0v1.0h-1.0zM304.8 160.4h1.0v1.0h-1.0zM277.8 162.7h1.0v1.0h-1.0zM306.3 158.0h1.0v1.0h-1.0zM279.4 163.1h1.0v1.0h-1.0zM312.3 157.9h1.0v1.0h-1.0zM314.4 161.9h1.0v1.0h-1.0zM302.1 165.4h1.0v1.0h-1.0zM299.7 166.0h1.0v1.0h-1.0zM296.4 164.0h1.0v1.0h-1.0zM308.5 168.3h1.0v1.0h-1.0zM314.0 167.4h1.0v1.0h-1.0zM289.4 157.9h1.0v1.0h-1.0zM302.4 157.9h1.0v1.0h-1.0zM302.5 161.1h1.0v1.0h-1.0zM287.1 161.8h1.0v1.0h-1.0zM303.3 164.7h1.0v1.0h-1.0zM288.0 162.8h1.0v1.0h-1.0zM295.7 160.8h1.0v1.0h-1.0zM299.8 167.2h1.0v1.0h-1.0zM290.0 163.1h1.0v1.0h-1.0zM305.0 167.3h1.0v1.0h-1.0zM284.1 167.3h1.0v1.0h-1.0zM311.6 167.0h1.0v1.0h-1.0zM307.1 167.2h1.0v1.0h-1.0zM316.1 161.4h1.0v1.0h-1.0zM322.8 163.6h1.0v1.0h-1.0zM294.5 160.9h1.0v1.0h-1.0zM315.8 168.6h1.0v1.0h-1.0zM291.3 160.3h1.0v1.0h-1.0zM312.4 173.6h1.0v1.0h-1.0zM289.5 166.0h1.0v1.0h-1.0zM300.5 163.7h1.0v1.0h-1.0zM302.2 167.2h1.0v1.0h-1.0zM303.4 167.2h1.0v1.0h-1.0zM292.6 162.8h1.0v1.0h-1.0zM293.1 167.7h1.0v1.0h-1.0zM319.5 157.9h1.0v1.0h-1.0zM288.8 163.9h1.0v1.0h-1.0zM318.0 167.4h1.0v1.0h-1.0zM287.3 166.0h1.0v1.0h-1.0zM282.8 164.4h1.0v1.0h-1.0zM309.6 166.5h1.0v1.0h-1.0zM284.3 163.3h1.0v1.0h-1.0zM287.6 171.6h1.0v1.0h-1.0zM289.9 161.8h1.0v1.0h-1.0zM313.4 164.2h1.0v1.0h-1.0zM299.1 166.6h1.0v1.0h-1.0zM288.7 157.9h1.0v1.0h-1.0zM314.9 156.4h1.0v1.0h-1.0zM317.3 161.2h1.0v1.0h-1.0zM308.4 162.3h1.0v1.0h-1.0zM298.2 164.8h1.0v1.0h-1.0zM301.5 166.4h1.0v1.0h-1.0zM301.0 164.8h1.0v1.0h-1.0zM312.0 167.3h1.0v1.0h-1.0zM295.4 170.7h1.0v1.0h-1.0zM285.6 163.9h1.0v1.0h-1.0zM307.8 164.1h1.0v1.0h-1.0zM289.1 171.5h1.0v1.0h-1.0zM312.6 164.8h1.0v1.0h-1.0zM305.0 166.5h1.0v1.0h-1.0zM303.8 163.4h1.0v1.0h-1.0zM325.9 170.8h1.0v1.0h-1.0zM289.5 162.5h1.0v1.0h-1.0zM295.5 167.6h1.0v1.0h-1.0zM282.3 162.4h1.0v1.0h-1.0zM299.8 167.5h1.0v1.0h-1.0zM310.9 174.4h1.0v1.0h-1.0zM283.5 159.4h1.0v1.0h-1.0zM290.7 162.8h1.0v1.0h-1.0zM311.1 160.9h1.0v1.0h-1.0zM314.4 165.7h1.0v1.0h-1.0zM318.9 166.8h1.0v1.0h-1.0zM296.0 161.6h1.0v1.0h-1.0zM301.9 162.2h1.0v1.0h-1.0zM273.6 167.8h1.0v1.0h-1.0zM316.4 157.7h1.0v1.0h-1.0zM288.9 164.9h1.0v1.0h-1.0zM306.8 159.2h1.0v1.0h-1.0zM309.9 161.9h1.0v1.0h-1.0zM283.3 161.4h1.0v1.0h-1.0zM294.9 163.1h1.0v1.0h-1.0zM311.5 165.7h1.0v1.0h-1.0zM284.5 165.6h1.0v1.0h-1.0zM304.7 169.1h1.0v1.0h-1.0zM308.9 164.9h1.0v1.0h-1.0zM301.6 159.3h1.0v1.0h-1.0zM284.6 167.7h1.0v1.0h-1.0zM287.3 159.4h1.0v1.0h-1.0zM307.5 157.9h1.0v1.0h-1.0zM317.5 157.3h1.0v1.0h-1.0zM287.7 166.7h1.0v1.0h-1.0zM287.2 161.9h1.0v1.0h-1.0zM313.4 167.1h1.0v1.0h-1.0zM299.6 167.7h1.0v1.0h-1.0zM295.5 165.4h1.0v1.0h-1.0zM284.8 162.1h1.0v1.0h-1.0zM285.7 165.0h1.0v1.0h-1.0zM289.0 164.6h1.0v1.0h-1.0zM295.6 167.7h1.0v1.0h-1.0zM279.6 171.9h1.0v1.0h-1.0zM312.2 164.6h1.0v1.0h-1.0zM315.0 163.8h1.0v1.0h-1.0zM324.0 163.6h1.0v1.0h-1.0zM306.4 158.7h1.0v1.0h-1.0zM307.0 172.6h1.0v1.0h-1.0zM295.2 166.5h1.0v1.0h-1.0zM294.6 164.5h1.0v1.0h-1.0zM286.8 157.0h1.0v1.0h-1.0zM312.2 170.1h1.0v1.0h-1.0zM291.5 162.4h1.0v1.0h-1.0zM295.2 161.5h1.0v1.0h-1.0zM301.2 163.4h1.0v1.0h-1.0zM309.4 163.9h1.0v1.0h-1.0zM296.1 163.9h1.0v1.0h-1.0zM293.4 164.6h1.0v1.0h-1.0zM305.3 159.7h1.0v1.0h-1.0zM293.3 163.0h1.0v1.0h-1.0zM292.9 163.0h1.0v1.0h-1.0zM315.3 164.0h1.0v1.0h-1.0zM290.4 163.1h1.0v1.0h-1.0zM297.3 165.3h1.0v1.0h-1.0zM294.9 160.2h1.0v1.0h-1.0zM284.8 162.3h1.0v1.0h-1.0zM283.2 166.2h1.0v1.0h-1.0zM302.3 163.8h1.0v1.0h-1.0zM307.2 163.9h1.0v1.0h-1.0zM282.4 162.5h1.0v1.0h-1.0zM284.0 168.2h1.0v1.0h-1.0zM318.1 164.1h1.0v1.0h-1.0zM304.7 164.5h1.0v1.0h-1.0zM275.8 167.6h1.0v1.0h-1.0zM312.1 166.8h1.0v1.0h-1.0zM300.4 159.8h1.0v1.0h-1.0zM296.5 166.2h1.0v1.0h-1.0zM285.5 160.5h1.0v1.0h-1.0zM318.1 164.5h1.0v1.0h-1.0zM290.9 165.9h1.0v1.0h-1.0zM308.6 165.2h1.0v1.0h-1.0zM278.6 160.1h1.0v1.0h-1.0zM301.1 164.2h1.0v1.0h-1.0zM297.8 165.9h1.0v1.0h-1.0zM309.1 160.2h1.0v1.0h-1.0zM284.6 163.8h1.0v1.0h-1.0zM291.4 167.7h1.0v1.0h-1.0zM298.5 164.4h1.0v1.0h-1.0zM287.6 166.0h1.0v1.0h-1.0zM286.5 164.4h1.0v1.0h-1.0zM304.9 163.2h1.0v1.0h-1.0zM286.7 168.6h1.0v1.0h-1.0zM285.1 170.3h1.0v1.0h-1.0zM284.8 167.6h1.0v1.0h-1.0zM285.4 163.8h1.0v1.0h-1.0zM300.4 165.1h1.0v1.0h-1.0zM310.8 163.2h1.0v1.0h-1.0z" fill="#000" fill-opacity="0.36"/>
<path d="M388.4 128.0h1.0v1.0h-1.0zM382.3 131.8h1.0v1.0h-1.0zM392.4 123.2h1.0v1.0h-1.0zM384.8 130.9h1.0v1.0h-1.0zM373.0 142.6h1.0v1.0h-1.0zM379.6 133.9h1.0v1.0h-1.0zM379.9 136.7h1.0v1.0h-1.0zM398.6 117.4h1.0v1.0h-1.0zM379.4 133.7h1.0v1.0h-1.0zM395.5 117.9h1.0v1.0h-1.0zM380.5 133.5h1.0v1.0h-1.0zM395.2 119.5h1.0v1.0h-1.0zM374.1 136.5h1.0v1.0h-1.0zM378.3 135.8h1.0v1.0h-1.0zM375.6 141.2h1.0v1.0h-1.0zM392.1 124.7h1.0v1.0h-1.0zM359.8 139.6h1.0v1.0h-1.0zM378.1 137.3h1.0v1.0h-1.0zM380.1 130.6h1.0v1.0h-1.0zM375.4 141.4h1.0v1.0h-1.0zM389.1 127.0h1.0v1.0h-1.0zM378.8 133.1h1.0v1.0h-1.0zM386.9 130.4h1.0v1.0h-1.0zM385.5 131.7h1.0v1.0h-1.0zM383.9 129.8h1.0v1.0h-1.0zM397.1 118.6h1.0v1.0h-1.0zM372.3 137.6h1.0v1.0h-1.0zM388.3 124.8h1.0v1.0h-1.0zM367.4 142.5h1.0v1.0h-1.0zM389.0 129.0h1.0v1.0h-1.0zM385.3 130.0h1.0v1.0h-1.0zM383.8 127.5h1.0v1.0h-1.0zM385.6 125.6h1.0v1.0h-1.0zM383.2 132.3h1.0v1.0h-1.0zM375.4 139.7h1.0v1.0h-1.0zM365.8 150.8h1.0v1.0h-1.0zM383.8 128.9h1.0v1.0h-1.0zM388.8 126.1h1.0v1.0h-1.0zM377.6 134.4h1.0v1.0h-1.0zM382.1 130.0h1.0v1.0h-1.0zM374.5 137.4h1.0v1.0h-1.0zM372.6 140.7h1.0v1.0h-1.0zM396.9 120.2h1.0v1.0h-1.0zM362.7 151.1h1.0v1.0h-1.0zM382.4 128.6h1.0v1.0h-1.0zM382.1 132.4h1.0v1.0h-1.0zM391.9 122.2h1.0v1.0h-1.0zM383.8 130.5h1.0v1.0h-1.0zM400.8 114.9h1.0v1.0h-1.0zM373.6 142.6h1.0v1.0h-1.0zM377.5 135.2h1.0v1.0h-1.0zM388.7 127.1h1.0v1.0h-1.0zM393.6 121.8h1.0v1.0h-1.0zM394.9 121.5h1.0v1.0h-1.0zM384.1 128.4h1.0v1.0h-1.0zM381.7 134.3h1.0v1.0h-1.0zM386.0 127.6h1.0v1.0h-1.0zM380.0 144.7h1.0v1.0h-1.0zM387.5 126.2h1.0v1.0h-1.0zM389.5 123.3h1.0v1.0h-1.0zM384.6 129.4h1.0v1.0h-1.0zM389.4 124.1h1.0v1.0h-1.0zM381.6 134.0h1.0v1.0h-1.0zM373.4 142.6h1.0v1.0h-1.0zM374.7 136.1h1.0v1.0h-1.0zM395.4 121.7h1.0v1.0h-1.0zM389.7 117.4h1.0v1.0h-1.0zM390.9 124.3h1.0v1.0h-1.0zM373.7 137.1h1.0v1.0h-1.0zM375.2 139.4h1.0v1.0h-1.0zM377.7 134.4h1.0v1.0h-1.0zM396.3 123.8h1.0v1.0h-1.0zM405.0 114.5h1.0v1.0h-1.0zM384.4 133.5h1.0v1.0h-1.0zM369.9 146.3h1.0v1.0h-1.0zM394.9 123.8h1.0v1.0h-1.0zM381.4 129.8h1.0v1.0h-1.0zM379.8 133.4h1.0v1.0h-1.0zM380.8 129.6h1.0v1.0h-1.0zM380.4 131.9h1.0v1.0h-1.0zM389.0 127.6h1.0v1.0h-1.0zM379.5 135.4h1.0v1.0h-1.0zM356.3 143.6h1.0v1.0h-1.0zM387.2 124.7h1.0v1.0h-1.0zM390.0 128.8h1.0v1.0h-1.0zM364.6 144.6h1.0v1.0h-1.0zM376.0 133.8h1.0v1.0h-1.0zM386.9 125.8h1.0v1.0h-1.0zM360.1 151.5h1.0v1.0h-1.0zM377.5 140.0h1.0v1.0h-1.0zM387.3 128.9h1.0v1.0h-1.0zM380.0 134.6h1.0v1.0h-1.0zM393.7 121.6h1.0v1.0h-1.0zM399.3 114.0h1.0v1.0h-1.0zM379.8 133.7h1.0v1.0h-1.0zM389.3 123.6h1.0v1.0h-1.0zM376.1 135.4h1.0v1.0h-1.0zM390.1 131.9h1.0v1.0h-1.0zM376.1 139.3h1.0v1.0h-1.0zM372.3 138.4h1.0v1.0h-1.0zM387.4 131.0h1.0v1.0h-1.0zM384.8 130.6h1.0v1.0h-1.0zM382.5 130.4h1.0v1.0h-1.0zM372.5 138.7h1.0v1.0h-1.0zM390.9 123.4h1.0v1.0h-1.0zM378.1 137.3h1.0v1.0h-1.0zM376.6 139.6h1.0v1.0h-1.0zM380.2 129.2h1.0v1.0h-1.0zM389.7 122.3h1.0v1.0h-1.0zM388.5 128.0h1.0v1.0h-1.0zM394.7 121.0h1.0v1.0h-1.0zM364.9 148.1h1.0v1.0h-1.0zM375.6 133.0h1.0v1.0h-1.0zM377.8 135.6h1.0v1.0h-1.0zM384.4 128.7h1.0v1.0h-1.0zM371.9 137.3h1.0v1.0h-1.0zM386.9 130.8h1.0v1.0h-1.0zM371.3 140.7h1.0v1.0h-1.0zM375.6 135.9h1.0v1.0h-1.0zM382.5 131.9h1.0v1.0h-1.0zM395.9 128.4h1.0v1.0h-1.0zM372.9 139.2h1.0v1.0h-1.0zM392.7 123.7h1.0v1.0h-1.0zM387.4 130.5h1.0v1.0h-1.0zM363.4 149.9h1.0v1.0h-1.0zM389.3 124.3h1.0v1.0h-1.0zM369.9 143.8h1.0v1.0h-1.0zM381.8 129.6h1.0v1.0h-1.0zM386.1 132.1h1.0v1.0h-1.0zM385.5 124.9h1.0v1.0h-1.0zM382.6 129.4h1.0v1.0h-1.0zM380.2 132.8h1.0v1.0h-1.0zM375.7 135.3h1.0v1.0h-1.0zM372.2 139.8h1.0v1.0h-1.0zM376.7 135.1h1.0v1.0h-1.0zM381.2 125.2h1.0v1.0h-1.0zM372.7 136.7h1.0v1.0h-1.0zM376.1 138.7h1.0v1.0h-1.0zM364.1 143.9h1.0v1.0h-1.0zM381.1 131.5h1.0v1.0h-1.0zM381.1 132.5h1.0v1.0h-1.0zM383.8 136.0h1.0v1.0h-1.0zM381.4 127.8h1.0v1.0h-1.0zM373.4 139.9h1.0v1.0h-1.0zM378.3 133.0h1.0v1.0h-1.0zM384.2 127.0h1.0v1.0h-1.0zM386.8 127.6h1.0v1.0h-1.0zM395.2 122.8h1.0v1.0h-1.0zM381.5 137.6h1.0v1.0h-1.0zM385.6 129.5h1.0v1.0h-1.0zM386.8 128.9h1.0v1.0h-1.0zM366.6 144.3h1.0v1.0h-1.0zM373.5 141.1h1.0v1.0h-1.0zM382.0 130.9h1.0v1.0h-1.0zM372.5 143.4h1.0v1.0h-1.0zM386.0 125.2h1.0v1.0h-1.0zM382.7 128.1h1.0v1.0h-1.0zM382.8 134.8h1.0v1.0h-1.0zM388.7 127.5h1.0v1.0h-1.0zM373.7 140.2h1.0v1.0h-1.0zM399.2 118.2h1.0v1.0h-1.0zM378.1 139.4h1.0v1.0h-1.0zM357.0 155.3h1.0v1.0h-1.0zM378.3 134.4h1.0v1.0h-1.0zM380.3 129.8h1.0v1.0h-1.0zM379.5 134.8h1.0v1.0h-1.0zM385.9 128.8h1.0v1.0h-1.0zM390.8 121.2h1.0v1.0h-1.0zM379.4 132.8h1.0v1.0h-1.0zM385.6 129.2h1.0v1.0h-1.0zM374.7 136.6h1.0v1.0h-1.0zM385.8 128.5h1.0v1.0h-1.0zM391.0 123.1h1.0v1.0h-1.0zM379.7 132.7h1.0v1.0h-1.0zM394.6 120.5h1.0v1.0h-1.0zM384.9 128.3h1.0v1.0h-1.0zM396.6 117.1h1.0v1.0h-1.0zM370.7 143.5h1.0v1.0h-1.0zM378.2 135.7h1.0v1.0h-1.0zM387.1 131.0h1.0v1.0h-1.0zM376.4 138.9h1.0v1.0h-1.0zM374.2 136.4h1.0v1.0h-1.0zM373.7 138.6h1.0v1.0h-1.0zM396.3 121.0h1.0v1.0h-1.0zM369.5 145.7h1.0v1.0h-1.0zM375.5 139.5h1.0v1.0h-1.0zM385.9 125.5h1.0v1.0h-1.0zM392.5 122.1h1.0v1.0h-1.0zM381.7 135.0h1.0v1.0h-1.0zM393.9 117.6h1.0v1.0h-1.0zM380.5 132.2h1.0v1.0h-1.0zM368.7 143.8h1.0v1.0h-1.0zM395.4 120.5h1.0v1.0h-1.0zM393.5 122.4h1.0v1.0h-1.0zM374.7 139.1h1.0v1.0h-1.0zM389.8 124.4h1.0v1.0h-1.0zM388.3 126.5h1.0v1.0h-1.0zM384.5 131.6h1.0v1.0h-1.0zM387.1 127.4h1.0v1.0h-1.0zM394.8 121.4h1.0v1.0h-1.0zM394.3 118.1h1.0v1.0h-1.0zM387.9 124.6h1.0v1.0h-1.0zM397.3 116.3h1.0v1.0h-1.0zM394.4 120.1h1.0v1.0h-1.0zM371.3 140.0h1.0v1.0h-1.0zM380.3 137.2h1.0v1.0h-1.0zM383.6 131.8h1.0v1.0h-1.0zM377.1 135.5h1.0v1.0h-1.0zM376.9 134.8h1.0v1.0h-1.0zM386.6 127.9h1.0v1.0h-1.0zM377.3 139.1h1.0v1.0h-1.0zM392.5 125.8h1.0v1.0h-1.0zM385.5 126.9h1.0v1.0h-1.0zM388.8 125.2h1.0v1.0h-1.0zM378.3 133.3h1.0v1.0h-1.0zM399.2 118.8h1.0v1.0h-1.0zM376.7 135.7h1.0v1.0h-1.0zM392.9 123.0h1.0v1.0h-1.0zM378.5 135.3h1.0v1.0h-1.0zM388.5 125.3h1.0v1.0h-1.0zM383.3 135.6h1.0v1.0h-1.0zM389.1 126.8h1.0v1.0h-1.0zM375.2 132.0h1.0v1.0h-1.0zM388.9 123.0h1.0v1.0h-1.0zM376.3 136.2h1.0v1.0h-1.0zM374.9 138.4h1.0v1.0h-1.0zM387.4 129.2h1.0v1.0h-1.0zM364.2 146.8h1.0v1.0h-1.0zM374.5 139.4h1.0v1.0h-1.0zM374.3 139.2h1.0v1.0h-1.0zM366.8 144.7h1.0v1.0h-1.0zM386.1 124.1h1.0v1.0h-1.0zM390.7 123.6h1.0v1.0h-1.0zM368.4 144.8h1.0v1.0h-1.0zM373.7 143.1h1.0v1.0h-1.0zM389.4 125.7h1.0v1.0h-1.0zM381.5 131.0h1.0v1.0h-1.0zM382.3 131.6h1.0v1.0h-1.0zM367.8 143.9h1.0v1.0h-1.0zM376.2 139.6h1.0v1.0h-1.0zM363.1 142.9h1.0v1.0h-1.0zM388.4 128.9h1.0v1.0h-1.0zM376.1 137.6h1.0v1.0h-1.0zM386.9 130.4h1.0v1.0h-1.0zM376.7 136.0h1.0v1.0h-1.0zM375.8 136.6h1.0v1.0h-1.0zM375.6 141.5h1.0v1.0h-1.0zM380.1 131.4h1.0v1.0h-1.0zM373.0 145.7h1.0v1.0h-1.0zM381.2 131.2h1.0v1.0h-1.0zM383.5 129.0h1.0v1.0h-1.0zM399.0 115.6h1.0v1.0h-1.0zM373.8 140.0h1.0v1.0h-1.0zM374.2 138.8h1.0v1.0h-1.0zM372.0 139.0h1.0v1.0h-1.0zM384.6 131.3h1.0v1.0h-1.0zM394.5 121.7h1.0v1.0h-1.0zM382.0 133.8h1.0v1.0h-1.0zM391.8 123.0h1.0v1.0h-1.0zM389.6 126.6h1.0v1.0h-1.0zM392.8 123.4h1.0v1.0h-1.0zM384.8 132.5h1.0v1.0h-1.0zM392.2 128.7h1.0v1.0h-1.0zM387.3 130.7h1.0v1.0h-1.0zM372.3 139.7h1.0v1.0h-1.0zM379.2 132.6h1.0v1.0h-1.0zM388.7 124.4h1.0v1.0h-1.0zM378.3 135.7h1.0v1.0h-1.0zM377.1 134.9h1.0v1.0h-1.0zM386.0 129.4h1.0v1.0h-1.0zM390.8 120.7h1.0v1.0h-1.0zM386.9 126.7h1.0v1.0h-1.0zM377.1 137.3h1.0v1.0h-1.0zM386.3 127.5h1.0v1.0h-1.0zM397.6 119.5h1.0v1.0h-1.0zM397.0 116.2h1.0v1.0h-1.0zM390.2 119.0h1.0v1.0h-1.0zM382.1 131.0h1.0v1.0h-1.0zM381.7 129.5h1.0v1.0h-1.0zM377.5 134.2h1.0v1.0h-1.0zM372.0 139.6h1.0v1.0h-1.0zM391.5 121.4h1.0v1.0h-1.0zM375.8 138.2h1.0v1.0h-1.0zM367.9 147.0h1.0v1.0h-1.0zM389.4 121.2h1.0v1.0h-1.0zM381.3 132.9h1.0v1.0h-1.0zM390.5 119.7h1.0v1.0h-1.0zM377.7 133.7h1.0v1.0h-1.0zM372.5 138.6h1.0v1.0h-1.0zM375.9 142.4h1.0v1.0h-1.0zM377.7 135.9h1.0v1.0h-1.0zM396.9 120.8h1.0v1.0h-1.0zM370.0 143.5h1.0v1.0h-1.0zM379.6 139.3h1.0v1.0h-1.0z" fill="#000" fill-opacity="0.42"/>
<path d="M380.3 136.2h1.0v1.0h-1.0zM368.4 141.9h1.0v1.0h-1.0zM386.2 128.0h1.0v1.0h-1.0zM376.8 137.9h1.0v1.0h-1.0zM375.2 139.9h1.0v1.0h-1.0zM373.8 133.8h1.0v1.0h-1.0zM392.3 121.7h1.0v1.0h-1.0zM383.8 127.2h1.0v1.0h-1.0zM372.5 138.9h1.0v1.0h-1.0zM398.2 120.0h1.0v1.0h-1.0zM394.5 120.1h1.0v1.0h-1.0zM364.9 145.3h1.0v1.0h-1.0zM391.1 125.0h1.0v1.0h-1.0zM374.1 139.8h1.0v1.0h-1.0zM377.4 137.9h1.0v1.0h-1.0zM381.6 129.6h1.0v1.0h-1.0zM381.0 131.6h1.0v1.0h-1.0zM397.9 116.6h1.0v1.0h-1.0zM378.1 134.8h1.0v1.0h-1.0zM390.7 123.5h1.0v1.0h-1.0zM385.8 128.4h1.0v1.0h-1.0zM391.2 125.7h1.0v1.0h-1.0zM378.0 134.2h1.0v1.0h-1.0zM374.8 134.4h1.0v1.0h-1.0zM383.4 129.1h1.0v1.0h-1.0zM380.7 134.4h1.0v1.0h-1.0zM383.1 129.1h1.0v1.0h-1.0zM384.7 126.7h1.0v1.0h-1.0zM376.8 133.3h1.0v1.0h-1.0zM375.9 136.6h1.0v1.0h-1.0zM362.0 153.0h1.0v1.0h-1.0zM372.7 141.6h1.0v1.0h-1.0zM379.9 139.0h1.0v1.0h-1.0zM380.9 132.8h1.0v1.0h-1.0zM398.2 119.1h1.0v1.0h-1.0zM364.8 147.5h1.0v1.0h-1.0zM386.7 132.9h1.0v1.0h-1.0zM405.0 114.2h1.0v1.0h-1.0zM391.4 121.1h1.0v1.0h-1.0zM378.8 128.9h1.0v1.0h-1.0zM394.1 121.6h1.0v1.0h-1.0zM372.4 141.5h1.0v1.0h-1.0zM373.4 140.8h1.0v1.0h-1.0zM389.6 123.3h1.0v1.0h-1.0zM383.1 129.1h1.0v1.0h-1.0zM380.4 133.6h1.0v1.0h-1.0zM382.4 126.9h1.0v1.0h-1.0zM368.5 139.0h1.0v1.0h-1.0zM390.2 123.6h1.0v1.0h-1.0zM379.2 136.9h1.0v1.0h-1.0zM370.2 144.3h1.0v1.0h-1.0zM391.4 123.6h1.0v1.0h-1.0zM385.3 133.2h1.0v1.0h-1.0zM389.4 122.2h1.0v1.0h-1.0zM373.7 139.2h1.0v1.0h-1.0zM390.0 127.5h1.0v1.0h-1.0zM381.3 137.4h1.0v1.0h-1.0zM375.5 134.7h1.0v1.0h-1.0zM366.9 145.5h1.0v1.0h-1.0zM382.6 129.8h1.0v1.0h-1.0zM385.1 126.9h1.0v1.0h-1.0zM384.7 128.0h1.0v1.0h-1.0zM383.4 130.5h1.0v1.0h-1.0zM379.0 136.3h1.0v1.0h-1.0zM374.6 138.2h1.0v1.0h-1.0zM384.9 130.8h1.0v1.0h-1.0zM362.5 145.8h1.0v1.0h-1.0zM369.0 141.8h1.0v1.0h-1.0zM376.3 139.3h1.0v1.0h-1.0zM390.7 126.5h1.0v1.0h-1.0zM385.4 131.2h1.0v1.0h-1.0zM377.6 135.8h1.0v1.0h-1.0zM375.7 140.6h1.0v1.0h-1.0zM395.9 120.8h1.0v1.0h-1.0zM368.8 146.4h1.0v1.0h-1.0zM381.5 128.5h1.0v1.0h-1.0zM401.1 117.4h1.0v1.0h-1.0zM376.7 141.8h1.0v1.0h-1.0zM369.7 145.9h1.0v1.0h-1.0zM388.6 129.1h1.0v1.0h-1.0zM378.4 131.7h1.0v1.0h-1.0zM380.2 138.5h1.0v1.0h-1.0zM378.8 134.9h1.0v1.0h-1.0zM373.9 138.4h1.0v1.0h-1.0zM372.3 139.0h1.0v1.0h-1.0zM381.9 134.4h1.0v1.0h-1.0zM385.1 129.9h1.0v1.0h-1.0zM377.5 134.4h1.0v1.0h-1.0zM396.8 118.0h1.0v1.0h-1.0zM402.0 117.0h1.0v1.0h-1.0zM373.6 136.0h1.0v1.0h-1.0zM360.9 149.9h1.0v1.0h-1.0zM391.3 127.9h1.0v1.0h-1.0zM375.3 137.6h1.0v1.0h-1.0zM386.3 127.1h1.0v1.0h-1.0zM384.7 129.7h1.0v1.0h-1.0zM371.9 140.3h1.0v1.0h-1.0zM381.9 130.5h1.0v1.0h-1.0zM373.9 141.9h1.0v1.0h-1.0zM374.5 136.9h1.0v1.0h-1.0zM366.6 139.9h1.0v1.0h-1.0zM392.2 125.6h1.0v1.0h-1.0zM372.6 137.3h1.0v1.0h-1.0zM392.6 124.9h1.0v1.0h-1.0zM376.0 136.1h1.0v1.0h-1.0zM395.5 120.8h1.0v1.0h-1.0zM376.2 132.2h1.0v1.0h-1.0zM372.4 140.9h1.0v1.0h-1.0zM369.2 146.0h1.0v1.0h-1.0zM393.3 123.0h1.0v1.0h-1.0zM386.0 125.6h1.0v1.0h-1.0zM382.6 131.5h1.0v1.0h-1.0zM386.3 128.9h1.0v1.0h-1.0zM388.7 129.6h1.0v1.0h-1.0zM379.5 134.4h1.0v1.0h-1.0zM385.2 128.1h1.0v1.0h-1.0zM371.8 139.5h1.0v1.0h-1.0zM388.7 125.1h1.0v1.0h-1.0zM386.6 129.2h1.0v1.0h-1.0zM383.4 132.7h1.0v1.0h-1.0zM375.3 138.5h1.0v1.0h-1.0zM375.9 140.6h1.0v1.0h-1.0zM398.2 115.9h1.0v1.0h-1.0zM393.4 121.8h1.0v1.0h-1.0zM390.9 126.0h1.0v1.0h-1.0zM381.2 132.6h1.0v1.0h-1.0zM385.9 129.3h1.0v1.0h-1.0zM392.8 123.7h1.0v1.0h-1.0zM371.9 139.6h1.0v1.0h-1.0zM392.4 125.4h1.0v1.0h-1.0zM378.3 132.5h1.0v1.0h-1.0zM376.3 140.6h1.0v1.0h-1.0zM373.2 139.8h1.0v1.0h-1.0zM385.0 127.7h1.0v1.0h-1.0zM382.4 131.5h1.0v1.0h-1.0zM383.2 130.0h1.0v1.0h-1.0zM372.8 138.8h1.0v1.0h-1.0zM378.4 153.2h1.0v1.0h-1.0zM384.3 131.1h1.0v1.0h-1.0zM375.1 139.8h1.0v1.0h-1.0zM366.8 146.1h1.0v1.0h-1.0zM382.3 131.5h1.0v1.0h-1.0zM372.4 142.1h1.0v1.0h-1.0zM373.7 136.9h1.0v1.0h-1.0zM377.9 134.5h1.0v1.0h-1.0zM375.9 135.6h1.0v1.0h-1.0zM378.8 141.1h1.0v1.0h-1.0zM383.4 130.4h1.0v1.0h-1.0zM380.6 132.4h1.0v1.0h-1.0zM391.5 119.1h1.0v1.0h-1.0zM388.1 124.5h1.0v1.0h-1.0zM389.2 123.8h1.0v1.0h-1.0zM375.5 133.8h1.0v1.0h-1.0zM383.2 131.3h1.0v1.0h-1.0zM375.7 142.9h1.0v1.0h-1.0zM377.8 130.9h1.0v1.0h-1.0zM381.7 131.2h1.0v1.0h-1.0zM384.3 128.8h1.0v1.0h-1.0zM364.2 150.1h1.0v1.0h-1.0zM385.8 130.9h1.0v1.0h-1.0zM373.4 129.9h1.0v1.0h-1.0zM388.7 127.3h1.0v1.0h-1.0zM376.3 133.3h1.0v1.0h-1.0zM364.6 147.4h1.0v1.0h-1.0zM381.5 133.8h1.0v1.0h-1.0zM375.6 142.8h1.0v1.0h-1.0zM382.9 127.5h1.0v1.0h-1.0zM369.3 141.1h1.0v1.0h-1.0zM382.7 131.1h1.0v1.0h-1.0zM368.9 142.7h1.0v1.0h-1.0zM376.4 138.5h1.0v1.0h-1.0zM378.1 141.9h1.0v1.0h-1.0zM386.1 126.9h1.0v1.0h-1.0zM377.4 137.1h1.0v1.0h-1.0zM387.8 129.4h1.0v1.0h-1.0zM377.7 138.3h1.0v1.0h-1.0zM399.3 115.8h1.0v1.0h-1.0zM383.1 132.0h1.0v1.0h-1.0zM380.7 130.7h1.0v1.0h-1.0zM378.8 132.8h1.0v1.0h-1.0zM382.1 135.2h1.0v1.0h-1.0zM397.5 117.1h1.0v1.0h-1.0zM387.4 128.6h1.0v1.0h-1.0zM373.8 137.8h1.0v1.0h-1.0zM381.2 131.3h1.0v1.0h-1.0zM387.6 131.1h1.0v1.0h-1.0zM375.8 136.4h1.0v1.0h-1.0zM390.5 123.9h1.0v1.0h-1.0zM392.9 122.0h1.0v1.0h-1.0zM389.8 126.4h1.0v1.0h-1.0zM397.1 120.5h1.0v1.0h-1.0zM390.3 120.4h1.0v1.0h-1.0zM365.9 145.6h1.0v1.0h-1.0zM391.9 125.3h1.0v1.0h-1.0zM386.4 127.8h1.0v1.0h-1.0zM393.3 123.9h1.0v1.0h-1.0zM365.6 149.5h1.0v1.0h-1.0zM388.4 125.6h1.0v1.0h-1.0zM379.9 132.5h1.0v1.0h-1.0zM374.7 136.5h1.0v1.0h-1.0zM384.2 130.9h1.0v1.0h-1.0zM379.8 131.2h1.0v1.0h-1.0zM377.3 136.7h1.0v1.0h-1.0zM377.4 137.9h1.0v1.0h-1.0zM384.6 131.7h1.0v1.0h-1.0zM383.7 130.2h1.0v1.0h-1.0zM387.9 128.3h1.0v1.0h-1.0zM381.2 132.9h1.0v1.0h-1.0zM381.1 136.7h1.0v1.0h-1.0zM384.6 130.4h1.0v1.0h-1.0zM383.1 127.3h1.0v1.0h-1.0zM371.2 141.0h1.0v1.0h-1.0zM379.5 137.6h1.0v1.0h-1.0zM372.8 140.4h1.0v1.0h-1.0zM389.2 125.1h1.0v1.0h-1.0zM365.7 147.3h1.0v1.0h-1.0zM391.6 121.3h1.0v1.0h-1.0zM373.8 141.5h1.0v1.0h-1.0zM392.3 119.9h1.0v1.0h-1.0zM374.4 141.4h1.0v1.0h-1.0zM381.9 127.2h1.0v1.0h-1.0zM376.8 135.8h1.0v1.0h-1.0zM377.5 137.3h1.0v1.0h-1.0zM383.1 131.8h1.0v1.0h-1.0zM378.1 134.8h1.0v1.0h-1.0zM366.1 150.0h1.0v1.0h-1.0zM364.7 147.3h1.0v1.0h-1.0zM392.4 122.2h1.0v1.0h-1.0zM381.7 132.7h1.0v1.0h-1.0zM384.6 126.7h1.0v1.0h-1.0zM386.0 130.2h1.0v1.0h-1.0zM369.8 145.4h1.0v1.0h-1.0zM387.1 129.2h1.0v1.0h-1.0zM379.3 133.7h1.0v1.0h-1.0zM394.6 119.4h1.0v1.0h-1.0zM375.2 143.4h1.0v1.0h-1.0zM378.1 136.1h1.0v1.0h-1.0zM374.0 138.3h1.0v1.0h-1.0zM370.0 144.9h1.0v1.0h-1.0zM390.2 128.2h1.0v1.0h-1.0zM384.7 125.9h1.0v1.0h-1.0zM387.4 124.0h1.0v1.0h-1.0zM386.7 126.7h1.0v1.0h-1.0zM375.0 135.2h1.0v1.0h-1.0zM381.6 131.4h1.0v1.0h-1.0zM387.6 127.7h1.0v1.0h-1.0zM378.8 140.7h1.0v1.0h-1.0zM377.6 133.4h1.0v1.0h-1.0zM389.8 124.0h1.0v1.0h-1.0zM393.6 119.5h1.0v1.0h-1.0zM396.1 115.7h1.0v1.0h-1.0zM382.1 132.5h1.0v1.0h-1.0zM371.6 138.1h1.0v1.0h-1.0zM363.2 134.2h1.0v1.0h-1.0zM385.6 126.8h1.0v1.0h-1.0zM397.8 117.7h1.0v1.0h-1.0zM384.3 127.1h1.0v1.0h-1.0zM376.7 137.1h1.0v1.0h-1.0zM380.3 134.3h1.0v1.0h-1.0zM391.2 124.4h1.0v1.0h-1.0zM390.7 123.7h1.0v1.0h-1.0zM388.7 128.8h1.0v1.0h-1.0zM382.0 130.0h1.0v1.0h-1.0zM361.1 146.1h1.0v1.0h-1.0zM393.4 122.2h1.0v1.0h-1.0zM381.5 132.1h1.0v1.0h-1.0zM382.1 131.7h1.0v1.0h-1.0zM382.5 130.1h1.0v1.0h-1.0zM380.4 131.4h1.0v1.0h-1.0zM381.2 134.1h1.0v1.0h-1.0zM378.6 135.4h1.0v1.0h-1.0zM374.5 132.2h1.0v1.0h-1.0zM394.6 119.4h1.0v1.0h-1.0zM376.3 136.0h1.0v1.0h-1.0zM386.2 127.8h1.0v1.0h-1.0zM372.6 140.9h1.0v1.0h-1.0zM366.7 147.6h1.0v1.0h-1.0zM388.7 142.9h1.0v1.0h-1.0zM379.2 132.3h1.0v1.0h-1.0zM382.4 131.7h1.0v1.0h-1.0zM390.3 124.5h1.0v1.0h-1.0zM380.4 133.1h1.0v1.0h-1.0zM367.6 144.4h1.0v1.0h-1.0zM384.8 129.7h1.0v1.0h-1.0zM389.6 126.1h1.0v1.0h-1.0zM383.9 127.3h1.0v1.0h-1.0zM380.3 130.1h1.0v1.0h-1.0zM376.3 139.6h1.0v1.0h-1.0zM390.0 125.9h1.0v1.0h-1.0zM388.9 127.3h1.0v1.0h-1.0zM377.6 138.4h1.0v1.0h-1.0zM383.1 131.8h1.0v1.0h-1.0zM376.9 141.2h1.0v1.0h-1.0zM394.1 119.4h1.0v1.0h-1.0z" fill="#000" fill-opacity="0.42"/>
<path d="M378.6 133.9h1.0v1.0h-1.0zM385.3 130.3h1.0v1.0h-1.0zM382.0 132.3h1.0v1.0h-1.0zM381.2 134.5h1.0v1.0h-1.0zM382.1 133.5h1.0v1.0h-1.0zM384.6 127.9h1.0v1.0h-1.0zM389.8 124.2h1.0v1.0h-1.0zM379.2 130.8h1.0v1.0h-1.0zM375.6 135.8h1.0v1.0h-1.0zM375.1 137.2h1.0v1.0h-1.0zM379.6 134.6h1.0v1.0h-1.0zM386.0 129.4h1.0v1.0h-1.0zM388.8 127.0h1.0v1.0h-1.0zM383.2 131.5h1.0v1.0h-1.0zM401.1 117.8h1.0v1.0h-1.0zM366.8 143.1h1.0v1.0h-1.0zM376.4 138.1h1.0v1.0h-1.0zM382.3 134.6h1.0v1.0h-1.0zM388.6 126.4h1.0v1.0h-1.0zM373.8 138.4h1.0v1.0h-1.0zM386.3 127.8h1.0v1.0h-1.0zM387.2 125.1h1.0v1.0h-1.0zM377.3 133.9h1.0v1.0h-1.0zM374.9 151.4h1.0v1.0h-1.0zM379.0 137.2h1.0v1.0h-1.0zM378.1 134.0h1.0v1.0h-1.0zM389.0 126.2h1.0v1.0h-1.0zM388.6 124.1h1.0v1.0h-1.0zM380.7 129.8h1.0v1.0h-1.0zM373.0 141.0h1.0v1.0h-1.0zM389.5 124.5h1.0v1.0h-1.0zM384.6 128.1h1.0v1.0h-1.0zM397.7 120.5h1.0v1.0h-1.0zM389.5 123.7h1.0v1.0h-1.0zM388.5 129.6h1.0v1.0h-1.0zM385.6 123.5h1.0v1.0h-1.0zM387.1 123.8h1.0v1.0h-1.0zM385.7 130.7h1.0v1.0h-1.0zM388.4 129.9h1.0v1.0h-1.0zM384.1 131.7h1.0v1.0h-1.0zM385.3 128.5h1.0v1.0h-1.0zM375.1 137.9h1.0v1.0h-1.0zM364.9 147.2h1.0v1.0h-1.0zM374.2 138.0h1.0v1.0h-1.0zM391.2 122.7h1.0v1.0h-1.0zM390.6 123.4h1.0v1.0h-1.0zM370.4 143.9h1.0v1.0h-1.0zM376.6 144.3h1.0v1.0h-1.0zM377.5 134.3h1.0v1.0h-1.0zM382.0 136.7h1.0v1.0h-1.0zM377.3 134.2h1.0v1.0h-1.0zM384.3 131.1h1.0v1.0h-1.0zM388.4 124.0h1.0v1.0h-1.0zM382.1 130.5h1.0v1.0h-1.0zM376.7 135.4h1.0v1.0h-1.0zM363.2 146.3h1.0v1.0h-1.0zM386.4 128.4h1.0v1.0h-1.0zM378.8 135.9h1.0v1.0h-1.0zM395.6 120.5h1.0v1.0h-1.0zM388.9 126.5h1.0v1.0h-1.0zM385.0 128.8h1.0v1.0h-1.0zM378.7 134.5h1.0v1.0h-1.0zM382.4 136.2h1.0v1.0h-1.0zM384.7 126.7h1.0v1.0h-1.0zM361.4 140.6h1.0v1.0h-1.0zM384.0 129.7h1.0v1.0h-1.0zM388.8 126.5h1.0v1.0h-1.0zM378.4 132.0h1.0v1.0h-1.0zM392.1 121.2h1.0v1.0h-1.0zM381.8 130.7h1.0v1.0h-1.0zM373.0 137.0h1.0v1.0h-1.0zM395.5 116.2h1.0v1.0h-1.0zM384.8 129.9h1.0v1.0h-1.0zM383.8 131.6h1.0v1.0h-1.0zM376.9 135.5h1.0v1.0h-1.0zM387.5 128.5h1.0v1.0h-1.0zM389.2 124.2h1.0v1.0h-1.0zM384.3 127.3h1.0v1.0h-1.0zM388.7 120.3h1.0v1.0h-1.0zM388.2 127.6h1.0v1.0h-1.0zM391.3 121.9h1.0v1.0h-1.0zM377.0 136.4h1.0v1.0h-1.0zM376.8 133.9h1.0v1.0h-1.0zM376.2 139.6h1.0v1.0h-1.0zM378.8 137.1h1.0v1.0h-1.0zM381.5 133.8h1.0v1.0h-1.0zM389.7 122.8h1.0v1.0h-1.0zM392.3 117.4h1.0v1.0h-1.0zM383.2 129.8h1.0v1.0h-1.0zM387.9 123.8h1.0v1.0h-1.0zM377.9 135.5h1.0v1.0h-1.0zM372.2 146.4h1.0v1.0h-1.0zM372.1 137.1h1.0v1.0h-1.0zM376.5 141.6h1.0v1.0h-1.0zM371.9 141.0h1.0v1.0h-1.0zM401.7 116.2h1.0v1.0h-1.0zM382.5 130.0h1.0v1.0h-1.0zM392.1 123.0h1.0v1.0h-1.0zM375.9 136.8h1.0v1.0h-1.0zM376.6 139.5h1.0v1.0h-1.0zM388.4 125.5h1.0v1.0h-1.0zM385.3 130.5h1.0v1.0h-1.0zM371.5 141.9h1.0v1.0h-1.0zM384.9 131.9h1.0v1.0h-1.0zM394.0 119.2h1.0v1.0h-1.0zM373.8 141.3h1.0v1.0h-1.0zM386.7 126.6h1.0v1.0h-1.0zM378.7 136.2h1.0v1.0h-1.0zM377.3 138.0h1.0v1.0h-1.0zM384.6 132.5h1.0v1.0h-1.0zM389.1 124.4h1.0v1.0h-1.0zM397.4 121.2h1.0v1.0h-1.0zM379.0 138.6h1.0v1.0h-1.0zM392.3 122.2h1.0v1.0h-1.0zM390.9 120.1h1.0v1.0h-1.0zM381.5 132.4h1.0v1.0h-1.0zM385.3 127.9h1.0v1.0h-1.0zM390.7 121.4h1.0v1.0h-1.0zM379.2 132.2h1.0v1.0h-1.0zM383.2 129.1h1.0v1.0h-1.0zM386.6 126.1h1.0v1.0h-1.0zM391.2 121.5h1.0v1.0h-1.0zM375.8 133.2h1.0v1.0h-1.0zM381.7 126.3h1.0v1.0h-1.0zM369.7 143.3h1.0v1.0h-1.0zM375.1 133.6h1.0v1.0h-1.0zM383.7 135.4h1.0v1.0h-1.0zM381.7 129.9h1.0v1.0h-1.0zM385.2 133.5h1.0v1.0h-1.0zM379.0 135.2h1.0v1.0h-1.0zM381.5 131.7h1.0v1.0h-1.0zM394.7 124.3h1.0v1.0h-1.0zM396.6 122.8h1.0v1.0h-1.0zM384.1 130.5h1.0v1.0h-1.0zM380.0 136.8h1.0v1.0h-1.0zM391.8 122.7h1.0v1.0h-1.0zM355.7 154.6h1.0v1.0h-1.0zM380.2 136.2h1.0v1.0h-1.0zM386.4 128.5h1.0v1.0h-1.0zM383.2 133.3h1.0v1.0h-1.0zM389.5 126.2h1.0v1.0h-1.0zM384.5 125.4h1.0v1.0h-1.0zM374.7 133.8h1.0v1.0h-1.0zM372.0 142.9h1.0v1.0h-1.0zM384.9 130.3h1.0v1.0h-1.0zM385.1 127.9h1.0v1.0h-1.0zM377.9 134.5h1.0v1.0h-1.0zM380.5 128.9h1.0v1.0h-1.0zM386.1 126.7h1.0v1.0h-1.0zM393.6 120.2h1.0v1.0h-1.0zM368.1 137.4h1.0v1.0h-1.0zM387.4 126.7h1.0v1.0h-1.0zM370.3 131.7h1.0v1.0h-1.0zM365.3 148.0h1.0v1.0h-1.0zM378.7 136.2h1.0v1.0h-1.0zM388.3 130.8h1.0v1.0h-1.0zM400.4 115.9h1.0v1.0h-1.0zM377.9 137.5h1.0v1.0h-1.0zM388.0 124.4h1.0v1.0h-1.0zM387.0 130.1h1.0v1.0h-1.0zM370.4 141.6h1.0v1.0h-1.0zM380.1 134.3h1.0v1.0h-1.0zM391.0 122.9h1.0v1.0h-1.0zM373.0 135.5h1.0v1.0h-1.0zM384.7 127.3h1.0v1.0h-1.0zM383.2 134.8h1.0v1.0h-1.0zM369.4 144.1h1.0v1.0h-1.0zM375.8 135.4h1.0v1.0h-1.0zM379.8 135.7h1.0v1.0h-1.0zM386.6 129.4h1.0v1.0h-1.0zM380.1 137.1h1.0v1.0h-1.0zM375.8 137.0h1.0v1.0h-1.0zM369.0 143.1h1.0v1.0h-1.0zM389.7 125.9h1.0v1.0h-1.0zM388.1 126.3h1.0v1.0h-1.0zM394.5 117.7h1.0v1.0h-1.0zM390.4 121.7h1.0v1.0h-1.0zM384.4 130.2h1.0v1.0h-1.0zM385.2 131.6h1.0v1.0h-1.0zM387.5 121.9h1.0v1.0h-1.0zM388.2 124.0h1.0v1.0h-1.0zM381.1 135.8h1.0v1.0h-1.0zM389.0 124.1h1.0v1.0h-1.0zM386.9 129.6h1.0v1.0h-1.0zM379.0 133.8h1.0v1.0h-1.0zM394.9 123.3h1.0v1.0h-1.0zM392.0 122.3h1.0v1.0h-1.0zM375.1 137.9h1.0v1.0h-1.0zM393.3 121.4h1.0v1.0h-1.0zM380.2 137.1h1.0v1.0h-1.0zM378.8 133.1h1.0v1.0h-1.0zM368.2 133.8h1.0v1.0h-1.0zM379.3 137.8h1.0v1.0h-1.0zM373.2 145.4h1.0v1.0h-1.0zM384.1 130.3h1.0v1.0h-1.0zM380.4 132.3h1.0v1.0h-1.0zM378.2 133.3h1.0v1.0h-1.0zM394.4 122.5h1.0v1.0h-1.0zM391.2 122.8h1.0v1.0h-1.0zM388.4 122.3h1.0v1.0h-1.0zM376.4 134.2h1.0v1.0h-1.0zM397.8 119.8h1.0v1.0h-1.0zM380.1 132.7h1.0v1.0h-1.0zM387.8 127.5h1.0v1.0h-1.0zM381.0 135.0h1.0v1.0h-1.0zM394.0 147.6h1.0v1.0h-1.0zM379.5 133.6h1.0v1.0h-1.0zM379.6 132.2h1.0v1.0h-1.0zM396.7 122.9h1.0v1.0h-1.0zM389.1 127.2h1.0v1.0h-1.0zM367.6 147.4h1.0v1.0h-1.0zM378.8 131.6h1.0v1.0h-1.0zM387.4 124.3h1.0v1.0h-1.0zM378.9 134.8h1.0v1.0h-1.0zM380.3 129.7h1.0v1.0h-1.0zM377.6 135.6h1.0v1.0h-1.0zM382.6 131.6h1.0v1.0h-1.0zM380.6 132.5h1.0v1.0h-1.0zM372.5 136.3h1.0v1.0h-1.0zM389.7 125.5h1.0v1.0h-1.0zM398.6 116.8h1.0v1.0h-1.0zM374.7 141.3h1.0v1.0h-1.0zM381.7 143.9h1.0v1.0h-1.0zM377.1 137.2h1.0v1.0h-1.0zM383.1 132.1h1.0v1.0h-1.0zM388.6 124.0h1.0v1.0h-1.0zM385.1 129.7h1.0v1.0h-1.0zM369.1 143.1h1.0v1.0h-1.0zM394.2 118.7h1.0v1.0h-1.0zM380.1 130.7h1.0v1.0h-1.0zM387.7 130.8h1.0v1.0h-1.0zM392.2 124.9h1.0v1.0h-1.0zM385.2 129.5h1.0v1.0h-1.0zM390.3 124.7h1.0v1.0h-1.0zM368.3 145.3h1.0v1.0h-1.0zM387.4 126.7h1.0v1.0h-1.0zM379.0 133.3h1.0v1.0h-1.0zM390.9 120.8h1.0v1.0h-1.0zM396.3 121.9h1.0v1.0h-1.0zM379.6 137.0h1.0v1.0h-1.0zM373.9 141.3h1.0v1.0h-1.0zM388.1 128.8h1.0v1.0h-1.0zM381.6 131.2h1.0v1.0h-1.0zM400.4 117.9h1.0v1.0h-1.0zM382.7 130.8h1.0v1.0h-1.0zM383.5 131.1h1.0v1.0h-1.0zM387.7 131.2h1.0v1.0h-1.0zM375.8 138.8h1.0v1.0h-1.0zM375.6 138.5h1.0v1.0h-1.0zM384.3 132.4h1.0v1.0h-1.0zM397.9 118.7h1.0v1.0h-1.0zM383.2 128.8h1.0v1.0h-1.0zM379.5 131.9h1.0v1.0h-1.0zM383.1 130.9h1.0v1.0h-1.0zM373.2 142.1h1.0v1.0h-1.0zM379.4 134.4h1.0v1.0h-1.0zM380.5 130.9h1.0v1.0h-1.0zM394.5 119.2h1.0v1.0h-1.0zM375.6 136.1h1.0v1.0h-1.0zM382.4 132.6h1.0v1.0h-1.0zM385.2 132.9h1.0v1.0h-1.0zM375.7 139.7h1.0v1.0h-1.0zM396.0 115.8h1.0v1.0h-1.0zM391.3 122.7h1.0v1.0h-1.0zM391.6 122.8h1.0v1.0h-1.0zM383.3 132.5h1.0v1.0h-1.0zM385.7 127.5h1.0v1.0h-1.0zM393.5 121.4h1.0v1.0h-1.0zM375.3 143.0h1.0v1.0h-1.0zM393.7 119.1h1.0v1.0h-1.0zM372.3 145.4h1.0v1.0h-1.0zM377.9 135.6h1.0v1.0h-1.0zM383.0 133.2h1.0v1.0h-1.0zM381.3 130.2h1.0v1.0h-1.0zM389.9 125.7h1.0v1.0h-1.0zM383.1 130.2h1.0v1.0h-1.0zM377.5 134.0h1.0v1.0h-1.0zM379.1 135.2h1.0v1.0h-1.0zM384.2 130.0h1.0v1.0h-1.0zM377.7 142.6h1.0v1.0h-1.0zM390.0 125.2h1.0v1.0h-1.0zM389.6 121.8h1.0v1.0h-1.0zM382.3 132.3h1.0v1.0h-1.0zM378.7 131.6h1.0v1.0h-1.0zM379.8 135.0h1.0v1.0h-1.0zM368.9 141.2h1.0v1.0h-1.0zM381.0 130.3h1.0v1.0h-1.0zM392.5 124.6h1.0v1.0h-1.0zM387.1 129.9h1.0v1.0h-1.0zM369.0 144.1h1.0v1.0h-1.0zM385.4 129.3h1.0v1.0h-1.0zM392.4 123.9h1.0v1.0h-1.0zM386.1 129.6h1.0v1.0h-1.0zM386.6 129.1h1.0v1.0h-1.0z" fill="#000" fill-opacity="0.42"/>
<path d="M391.3 124.9h1.0v1.0h-1.0zM377.9 134.1h1.0v1.0h-1.0zM378.7 132.4h1.0v1.0h-1.0zM386.2 127.4h1.0v1.0h-1.0zM373.2 137.2h1.0v1.0h-1.0zM385.6 130.7h1.0v1.0h-1.0zM378.2 132.5h1.0v1.0h-1.0zM382.3 131.2h1.0v1.0h-1.0zM380.4 136.7h1.0v1.0h-1.0zM374.3 140.1h1.0v1.0h-1.0zM388.4 124.4h1.0v1.0h-1.0zM375.4 135.9h1.0v1.0h-1.0zM391.6 127.2h1.0v1.0h-1.0zM381.9 134.0h1.0v1.0h-1.0zM385.6 130.6h1.0v1.0h-1.0zM365.5 147.8h1.0v1.0h-1.0zM397.9 119.2h1.0v1.0h-1.0zM372.0 143.8h1.0v1.0h-1.0zM387.8 127.7h1.0v1.0h-1.0zM387.4 127.8h1.0v1.0h-1.0zM375.3 135.1h1.0v1.0h-1.0zM386.4 126.3h1.0v1.0h-1.0zM376.1 138.1h1.0v1.0h-1.0zM373.8 136.6h1.0v1.0h-1.0zM374.4 141.9h1.0v1.0h-1.0zM394.1 122.0h1.0v1.0h-1.0zM378.9 134.5h1.0v1.0h-1.0zM380.1 132.1h1.0v1.0h-1.0zM375.0 139.6h1.0v1.0h-1.0zM395.6 119.2h1.0v1.0h-1.0zM380.8 129.5h1.0v1.0h-1.0zM397.6 118.4h1.0v1.0h-1.0zM379.3 132.2h1.0v1.0h-1.0zM369.0 143.2h1.0v1.0h-1.0zM385.7 130.9h1.0v1.0h-1.0zM390.7 127.5h1.0v1.0h-1.0zM397.8 117.1h1.0v1.0h-1.0zM387.8 128.5h1.0v1.0h-1.0zM368.5 144.5h1.0v1.0h-1.0zM391.7 124.9h1.0v1.0h-1.0zM380.6 133.9h1.0v1.0h-1.0zM386.5 129.4h1.0v1.0h-1.0zM381.3 127.7h1.0v1.0h-1.0zM388.3 132.5h1.0v1.0h-1.0zM394.5 122.2h1.0v1.0h-1.0zM373.7 139.1h1.0v1.0h-1.0zM378.2 132.9h1.0v1.0h-1.0zM378.5 133.2h1.0v1.0h-1.0zM377.0 133.6h1.0v1.0h-1.0zM380.1 132.1h1.0v1.0h-1.0zM383.1 128.4h1.0v1.0h-1.0zM389.3 126.5h1.0v1.0h-1.0zM374.6 146.8h1.0v1.0h-1.0zM383.4 132.1h1.0v1.0h-1.0zM379.3 137.3h1.0v1.0h-1.0zM378.4 135.9h1.0v1.0h-1.0zM370.4 142.4h1.0v1.0h-1.0zM383.8 129.1h1.0v1.0h-1.0zM390.7 126.9h1.0v1.0h-1.0zM385.0 126.0h1.0v1.0h-1.0zM393.6 122.8h1.0v1.0h-1.0zM390.5 123.7h1.0v1.0h-1.0zM378.5 135.5h1.0v1.0h-1.0zM384.8 129.4h1.0v1.0h-1.0zM383.7 135.0h1.0v1.0h-1.0zM377.8 136.3h1.0v1.0h-1.0zM374.6 139.9h1.0v1.0h-1.0zM376.6 136.8h1.0v1.0h-1.0zM392.7 125.3h1.0v1.0h-1.0zM391.7 122.7h1.0v1.0h-1.0zM377.2 135.4h1.0v1.0h-1.0zM380.8 129.6h1.0v1.0h-1.0zM380.5 131.6h1.0v1.0h-1.0zM401.3 118.4h1.0v1.0h-1.0zM381.3 136.3h1.0v1.0h-1.0zM389.5 128.5h1.0v1.0h-1.0zM375.1 139.8h1.0v1.0h-1.0zM376.9 141.2h1.0v1.0h-1.0zM393.1 123.5h1.0v1.0h-1.0zM380.9 132.7h1.0v1.0h-1.0zM380.6 131.8h1.0v1.0h-1.0zM367.7 135.2h1.0v1.0h-1.0zM389.4 126.1h1.0v1.0h-1.0zM388.2 129.1h1.0v1.0h-1.0zM370.6 146.2h1.0v1.0h-1.0zM370.9 143.1h1.0v1.0h-1.0zM391.1 123.8h1.0v1.0h-1.0zM368.0 140.4h1.0v1.0h-1.0zM399.6 115.4h1.0v1.0h-1.0zM389.6 126.4h1.0v1.0h-1.0zM388.8 125.6h1.0v1.0h-1.0zM389.0 126.5h1.0v1.0h-1.0zM370.1 142.7h1.0v1.0h-1.0zM372.9 135.9h1.0v1.0h-1.0zM385.9 129.4h1.0v1.0h-1.0zM392.7 119.9h1.0v1.0h-1.0zM390.9 125.6h1.0v1.0h-1.0zM382.1 130.1h1.0v1.0h-1.0zM386.8 125.7h1.0v1.0h-1.0zM389.5 122.8h1.0v1.0h-1.0zM393.5 125.4h1.0v1.0h-1.0zM383.9 130.1h1.0v1.0h-1.0zM379.0 133.8h1.0v1.0h-1.0zM383.5 129.0h1.0v1.0h-1.0zM381.5 134.1h1.0v1.0h-1.0zM374.4 140.6h1.0v1.0h-1.0zM377.5 136.6h1.0v1.0h-1.0zM388.0 127.9h1.0v1.0h-1.0zM379.2 137.0h1.0v1.0h-1.0zM376.4 135.8h1.0v1.0h-1.0zM389.4 122.0h1.0v1.0h-1.0zM386.7 128.4h1.0v1.0h-1.0zM381.9 132.9h1.0v1.0h-1.0zM381.3 131.2h1.0v1.0h-1.0zM385.3 131.4h1.0v1.0h-1.0zM380.1 134.1h1.0v1.0h-1.0zM389.5 129.3h1.0v1.0h-1.0zM387.1 125.6h1.0v1.0h-1.0zM387.4 131.0h1.0v1.0h-1.0zM377.6 138.9h1.0v1.0h-1.0zM385.0 126.6h1.0v1.0h-1.0zM380.3 133.3h1.0v1.0h-1.0zM378.5 138.2h1.0v1.0h-1.0zM379.8 135.7h1.0v1.0h-1.0zM394.2 116.4h1.0v1.0h-1.0zM400.7 114.8h1.0v1.0h-1.0zM373.9 140.0h1.0v1.0h-1.0zM389.0 124.0h1.0v1.0h-1.0zM386.1 129.5h1.0v1.0h-1.0zM394.1 118.6h1.0v1.0h-1.0zM379.9 133.8h1.0v1.0h-1.0zM378.8 133.4h1.0v1.0h-1.0zM385.8 130.0h1.0v1.0h-1.0zM379.5 135.8h1.0v1.0h-1.0zM388.9 124.3h1.0v1.0h-1.0zM371.5 143.2h1.0v1.0h-1.0zM383.9 133.2h1.0v1.0h-1.0zM390.0 123.8h1.0v1.0h-1.0zM376.1 133.6h1.0v1.0h-1.0zM383.1 131.6h1.0v1.0h-1.0zM363.4 147.4h1.0v1.0h-1.0zM382.5 131.5h1.0v1.0h-1.0zM391.0 120.9h1.0v1.0h-1.0zM378.1 136.6h1.0v1.0h-1.0zM381.9 134.0h1.0v1.0h-1.0zM374.5 133.9h1.0v1.0h-1.0zM365.5 150.2h1.0v1.0h-1.0zM378.1 131.7h1.0v1.0h-1.0zM381.8 135.0h1.0v1.0h-1.0zM364.0 148.3h1.0v1.0h-1.0zM381.2 129.6h1.0v1.0h-1.0zM377.1 135.1h1.0v1.0h-1.0zM390.7 125.0h1.0v1.0h-1.0zM371.8 141.4h1.0v1.0h-1.0zM390.2 123.9h1.0v1.0h-1.0zM380.4 127.4h1.0v1.0h-1.0zM378.6 134.4h1.0v1.0h-1.0zM383.6 131.8h1.0v1.0h-1.0zM381.4 130.7h1.0v1.0h-1.0zM383.9 129.9h1.0v1.0h-1.0zM374.0 134.9h1.0v1.0h-1.0zM384.8 127.1h1.0v1.0h-1.0zM380.9 132.9h1.0v1.0h-1.0zM376.0 138.0h1.0v1.0h-1.0zM372.5 137.4h1.0v1.0h-1.0zM395.5 116.6h1.0v1.0h-1.0zM385.7 130.1h1.0v1.0h-1.0zM378.1 135.3h1.0v1.0h-1.0zM384.3 126.3h1.0v1.0h-1.0zM384.2 133.8h1.0v1.0h-1.0zM388.4 126.8h1.0v1.0h-1.0zM384.9 131.9h1.0v1.0h-1.0zM395.9 122.9h1.0v1.0h-1.0zM374.1 139.9h1.0v1.0h-1.0zM366.9 148.0h1.0v1.0h-1.0zM392.7 118.7h1.0v1.0h-1.0zM384.0 132.9h1.0v1.0h-1.0zM384.0 128.0h1.0v1.0h-1.0zM358.5 158.1h1.0v1.0h-1.0zM367.7 145.7h1.0v1.0h-1.0zM372.9 139.0h1.0v1.0h-1.0zM376.2 137.2h1.0v1.0h-1.0zM385.5 130.0h1.0v1.0h-1.0zM371.3 141.5h1.0v1.0h-1.0zM384.6 129.9h1.0v1.0h-1.0zM375.8 135.7h1.0v1.0h-1.0zM385.9 127.2h1.0v1.0h-1.0zM394.9 123.6h1.0v1.0h-1.0zM382.4 131.8h1.0v1.0h-1.0zM373.8 139.2h1.0v1.0h-1.0zM385.0 123.3h1.0v1.0h-1.0zM376.8 137.3h1.0v1.0h-1.0zM381.4 130.2h1.0v1.0h-1.0zM382.8 132.4h1.0v1.0h-1.0zM370.9 142.9h1.0v1.0h-1.0zM376.7 139.4h1.0v1.0h-1.0zM376.3 140.2h1.0v1.0h-1.0zM379.0 134.6h1.0v1.0h-1.0zM393.7 119.4h1.0v1.0h-1.0zM392.9 125.3h1.0v1.0h-1.0zM379.8 132.2h1.0v1.0h-1.0zM392.5 122.7h1.0v1.0h-1.0zM384.5 133.0h1.0v1.0h-1.0zM385.6 130.1h1.0v1.0h-1.0zM378.5 136.1h1.0v1.0h-1.0zM388.3 125.2h1.0v1.0h-1.0zM388.8 124.4h1.0v1.0h-1.0zM386.8 127.2h1.0v1.0h-1.0zM385.2 126.6h1.0v1.0h-1.0zM392.8 124.1h1.0v1.0h-1.0zM386.6 127.4h1.0v1.0h-1.0zM389.0 126.5h1.0v1.0h-1.0zM367.8 143.3h1.0v1.0h-1.0zM368.2 145.5h1.0v1.0h-1.0zM385.0 130.0h1.0v1.0h-1.0zM385.3 131.8h1.0v1.0h-1.0zM379.2 135.9h1.0v1.0h-1.0zM384.5 126.1h1.0v1.0h-1.0zM368.6 147.7h1.0v1.0h-1.0zM388.1 130.4h1.0v1.0h-1.0zM387.4 123.7h1.0v1.0h-1.0zM378.7 133.4h1.0v1.0h-1.0zM384.0 129.0h1.0v1.0h-1.0zM378.9 133.2h1.0v1.0h-1.0zM388.4 124.3h1.0v1.0h-1.0zM375.6 136.6h1.0v1.0h-1.0zM403.4 114.4h1.0v1.0h-1.0zM381.2 135.8h1.0v1.0h-1.0zM385.9 128.8h1.0v1.0h-1.0zM374.8 138.9h1.0v1.0h-1.0zM373.6 138.8h1.0v1.0h-1.0zM373.9 138.9h1.0v1.0h-1.0zM382.7 126.5h1.0v1.0h-1.0zM386.4 127.8h1.0v1.0h-1.0zM394.8 118.4h1.0v1.0h-1.0zM367.7 145.6h1.0v1.0h-1.0zM375.0 141.9h1.0v1.0h-1.0zM391.0 122.1h1.0v1.0h-1.0zM379.2 136.1h1.0v1.0h-1.0zM390.9 124.0h1.0v1.0h-1.0zM379.6 134.3h1.0v1.0h-1.0zM386.2 126.0h1.0v1.0h-1.0zM382.0 132.7h1.0v1.0h-1.0zM384.6 131.9h1.0v1.0h-1.0zM378.7 137.1h1.0v1.0h-1.0zM372.6 139.2h1.0v1.0h-1.0zM392.7 117.8h1.0v1.0h-1.0zM391.2 126.0h1.0v1.0h-1.0zM375.3 134.3h1.0v1.0h-1.0zM388.0 124.4h1.0v1.0h-1.0zM375.1 137.4h1.0v1.0h-1.0zM362.7 149.1h1.0v1.0h-1.0zM363.8 143.7h1.0v1.0h-1.0zM399.0 118.6h1.0v1.0h-1.0zM377.9 135.4h1.0v1.0h-1.0zM390.1 126.1h1.0v1.0h-1.0zM371.4 145.5h1.0v1.0h-1.0zM390.4 123.8h1.0v1.0h-1.0zM395.6 116.9h1.0v1.0h-1.0zM371.2 142.9h1.0v1.0h-1.0zM385.9 129.1h1.0v1.0h-1.0zM377.7 133.7h1.0v1.0h-1.0zM386.4 127.0h1.0v1.0h-1.0zM393.6 121.7h1.0v1.0h-1.0zM381.3 128.8h1.0v1.0h-1.0zM387.0 123.5h1.0v1.0h-1.0zM388.7 125.0h1.0v1.0h-1.0zM386.0 129.0h1.0v1.0h-1.0zM381.2 128.9h1.0v1.0h-1.0zM374.3 138.3h1.0v1.0h-1.0zM374.6 136.8h1.0v1.0h-1.0zM394.6 123.6h1.0v1.0h-1.0zM387.8 128.4h1.0v1.0h-1.0zM383.7 131.6h1.0v1.0h-1.0zM370.0 143.2h1.0v1.0h-1.0zM376.7 136.1h1.0v1.0h-1.0zM385.9 123.9h1.0v1.0h-1.0zM372.8 143.2h1.0v1.0h-1.0zM376.8 133.3h1.0v1.0h-1.0zM371.5 145.1h1.0v1.0h-1.0zM395.1 122.5h1.0v1.0h-1.0zM383.1 129.8h1.0v1.0h-1.0zM388.1 125.7h1.0v1.0h-1.0zM372.2 142.0h1.0v1.0h-1.0zM388.8 125.7h1.0v1.0h-1.0zM368.4 145.6h1.0v1.0h-1.0zM375.4 134.1h1.0v1.0h-1.0zM384.1 130.0h1.0v1.0h-1.0zM374.8 139.3h1.0v1.0h-1.0zM384.6 134.1h1.0v1.0h-1.0zM389.9 124.1h1.0v1.0h-1.0zM359.3 152.7h1.0v1.0h-1.0zM398.0 118.5h1.0v1.0h-1.0zM390.7 118.5h1.0v1.0h-1.0z" fill="#000" fill-opacity="0.42"/>
<path d="M380.2 135.1h1.0v1.0h-1.0zM363.5 146.9h1.0v1.0h-1.0zM384.1 128.8h1.0v1.0h-1.0zM383.3 129.2h1.0v1.0h-1.0zM382.3 128.7h1.0v1.0h-1.0zM382.1 130.1h1.0v1.0h-1.0zM383.3 134.7h1.0v1.0h-1.0zM388.8 124.6h1.0v1.0h-1.0zM372.8 141.3h1.0v1.0h-1.0zM382.1 132.9h1.0v1.0h-1.0zM384.7 128.0h1.0v1.0h-1.0zM394.7 121.6h1.0v1.0h-1.0zM383.4 130.6h1.0v1.0h-1.0zM382.8 130.7h1.0v1.0h-1.0zM374.5 141.9h1.0v1.0h-1.0zM392.0 123.9h1.0v1.0h-1.0zM375.6 134.2h1.0v1.0h-1.0zM378.7 139.8h1.0v1.0h-1.0zM374.8 140.4h1.0v1.0h-1.0zM386.9 129.7h1.0v1.0h-1.0zM383.3 128.2h1.0v1.0h-1.0zM381.0 133.8h1.0v1.0h-1.0zM393.1 122.7h1.0v1.0h-1.0zM380.0 135.2h1.0v1.0h-1.0zM379.4 137.2h1.0v1.0h-1.0zM377.5 133.0h1.0v1.0h-1.0zM379.7 134.3h1.0v1.0h-1.0zM397.6 119.0h1.0v1.0h-1.0zM368.7 143.3h1.0v1.0h-1.0zM381.6 131.4h1.0v1.0h-1.0zM372.6 135.7h1.0v1.0h-1.0zM382.9 134.1h1.0v1.0h-1.0zM381.3 131.3h1.0v1.0h-1.0zM376.3 134.3h1.0v1.0h-1.0zM379.4 132.6h1.0v1.0h-1.0zM380.9 133.4h1.0v1.0h-1.0zM381.8 131.1h1.0v1.0h-1.0zM385.2 133.1h1.0v1.0h-1.0zM378.7 136.8h1.0v1.0h-1.0zM366.4 147.3h1.0v1.0h-1.0zM385.8 128.9h1.0v1.0h-1.0zM387.2 125.2h1.0v1.0h-1.0zM375.5 136.5h1.0v1.0h-1.0zM381.1 128.6h1.0v1.0h-1.0zM370.6 146.2h1.0v1.0h-1.0zM370.6 141.9h1.0v1.0h-1.0zM389.4 124.6h1.0v1.0h-1.0zM376.9 134.9h1.0v1.0h-1.0zM382.0 130.6h1.0v1.0h-1.0zM378.9 133.5h1.0v1.0h-1.0zM385.1 130.0h1.0v1.0h-1.0zM388.2 121.1h1.0v1.0h-1.0zM394.9 122.0h1.0v1.0h-1.0zM383.3 127.3h1.0v1.0h-1.0zM390.6 121.3h1.0v1.0h-1.0zM391.4 118.5h1.0v1.0h-1.0zM383.8 132.4h1.0v1.0h-1.0zM380.8 134.7h1.0v1.0h-1.0zM379.4 133.9h1.0v1.0h-1.0zM392.0 125.9h1.0v1.0h-1.0zM392.4 125.3h1.0v1.0h-1.0zM380.0 131.0h1.0v1.0h-1.0zM388.4 122.9h1.0v1.0h-1.0zM382.0 136.7h1.0v1.0h-1.0zM380.9 131.2h1.0v1.0h-1.0zM392.2 123.0h1.0v1.0h-1.0zM378.6 132.9h1.0v1.0h-1.0zM381.8 133.6h1.0v1.0h-1.0zM386.2 131.8h1.0v1.0h-1.0zM378.0 136.6h1.0v1.0h-1.0zM369.7 145.3h1.0v1.0h-1.0zM379.5 133.9h1.0v1.0h-1.0zM380.1 131.1h1.0v1.0h-1.0zM379.7 133.1h1.0v1.0h-1.0zM392.1 125.4h1.0v1.0h-1.0zM379.5 132.7h1.0v1.0h-1.0zM376.7 132.8h1.0v1.0h-1.0zM371.7 141.6h1.0v1.0h-1.0zM382.6 130.0h1.0v1.0h-1.0zM397.7 117.2h1.0v1.0h-1.0zM385.3 133.4h1.0v1.0h-1.0zM382.9 129.9h1.0v1.0h-1.0zM376.6 136.1h1.0v1.0h-1.0zM376.8 142.7h1.0v1.0h-1.0zM380.9 131.6h1.0v1.0h-1.0zM392.7 123.7h1.0v1.0h-1.0zM389.9 125.5h1.0v1.0h-1.0zM374.3 140.0h1.0v1.0h-1.0zM382.9 126.6h1.0v1.0h-1.0zM383.3 129.3h1.0v1.0h-1.0zM372.0 144.7h1.0v1.0h-1.0zM386.1 129.2h1.0v1.0h-1.0zM394.6 120.6h1.0v1.0h-1.0zM381.9 128.3h1.0v1.0h-1.0zM373.6 143.4h1.0v1.0h-1.0zM388.2 125.9h1.0v1.0h-1.0zM388.2 128.6h1.0v1.0h-1.0zM380.7 134.9h1.0v1.0h-1.0zM381.4 133.5h1.0v1.0h-1.0zM382.8 133.0h1.0v1.0h-1.0zM390.0 123.5h1.0v1.0h-1.0zM378.1 139.4h1.0v1.0h-1.0zM372.2 142.1h1.0v1.0h-1.0zM375.3 135.6h1.0v1.0h-1.0zM392.8 119.3h1.0v1.0h-1.0zM377.1 137.8h1.0v1.0h-1.0zM396.4 123.8h1.0v1.0h-1.0zM384.7 128.8h1.0v1.0h-1.0zM390.1 123.2h1.0v1.0h-1.0zM390.3 127.9h1.0v1.0h-1.0zM378.4 130.7h1.0v1.0h-1.0zM381.9 132.6h1.0v1.0h-1.0zM385.3 126.1h1.0v1.0h-1.0zM379.4 131.2h1.0v1.0h-1.0zM377.4 135.8h1.0v1.0h-1.0zM375.3 136.6h1.0v1.0h-1.0zM389.2 125.9h1.0v1.0h-1.0zM388.5 125.5h1.0v1.0h-1.0zM369.4 144.3h1.0v1.0h-1.0zM386.2 127.9h1.0v1.0h-1.0zM378.1 131.1h1.0v1.0h-1.0zM394.5 122.5h1.0v1.0h-1.0zM386.7 126.8h1.0v1.0h-1.0zM377.6 135.0h1.0v1.0h-1.0zM390.7 123.7h1.0v1.0h-1.0zM400.5 120.1h1.0v1.0h-1.0zM398.4 119.3h1.0v1.0h-1.0zM377.5 137.4h1.0v1.0h-1.0zM389.8 126.1h1.0v1.0h-1.0zM382.5 129.2h1.0v1.0h-1.0zM383.8 129.7h1.0v1.0h-1.0zM378.8 134.9h1.0v1.0h-1.0zM385.6 129.0h1.0v1.0h-1.0zM384.8 131.6h1.0v1.0h-1.0zM381.8 132.3h1.0v1.0h-1.0zM376.5 130.4h1.0v1.0h-1.0zM383.7 125.0h1.0v1.0h-1.0zM374.7 139.0h1.0v1.0h-1.0zM373.3 141.0h1.0v1.0h-1.0zM397.4 117.0h1.0v1.0h-1.0zM393.5 118.2h1.0v1.0h-1.0zM375.2 137.9h1.0v1.0h-1.0zM392.5 124.8h1.0v1.0h-1.0zM372.3 136.7h1.0v1.0h-1.0zM379.5 132.3h1.0v1.0h-1.0zM367.5 148.9h1.0v1.0h-1.0zM390.5 120.0h1.0v1.0h-1.0zM371.1 141.5h1.0v1.0h-1.0zM390.0 128.0h1.0v1.0h-1.0zM385.8 128.4h1.0v1.0h-1.0zM386.3 129.9h1.0v1.0h-1.0zM385.6 131.3h1.0v1.0h-1.0zM390.0 122.8h1.0v1.0h-1.0zM381.4 133.3h1.0v1.0h-1.0zM382.0 128.0h1.0v1.0h-1.0zM379.1 141.2h1.0v1.0h-1.0zM377.4 142.4h1.0v1.0h-1.0zM383.0 128.0h1.0v1.0h-1.0zM385.0 127.0h1.0v1.0h-1.0zM381.4 135.6h1.0v1.0h-1.0zM375.5 134.4h1.0v1.0h-1.0zM385.1 125.4h1.0v1.0h-1.0zM376.3 138.1h1.0v1.0h-1.0zM382.7 133.6h1.0v1.0h-1.0zM374.9 139.4h1.0v1.0h-1.0zM391.4 125.0h1.0v1.0h-1.0zM388.0 125.3h1.0v1.0h-1.0zM371.5 142.4h1.0v1.0h-1.0zM379.2 132.3h1.0v1.0h-1.0zM376.4 138.0h1.0v1.0h-1.0zM389.9 128.4h1.0v1.0h-1.0zM394.8 121.8h1.0v1.0h-1.0zM385.2 127.1h1.0v1.0h-1.0zM382.3 131.3h1.0v1.0h-1.0zM382.6 133.9h1.0v1.0h-1.0zM382.5 136.7h1.0v1.0h-1.0zM393.5 125.1h1.0v1.0h-1.0zM384.2 131.2h1.0v1.0h-1.0zM392.9 123.3h1.0v1.0h-1.0zM376.7 132.9h1.0v1.0h-1.0zM382.4 134.4h1.0v1.0h-1.0zM384.1 128.7h1.0v1.0h-1.0zM385.1 128.3h1.0v1.0h-1.0zM385.8 127.8h1.0v1.0h-1.0zM379.6 132.5h1.0v1.0h-1.0zM389.9 124.6h1.0v1.0h-1.0zM386.7 129.7h1.0v1.0h-1.0zM388.4 126.3h1.0v1.0h-1.0zM385.2 124.2h1.0v1.0h-1.0zM380.4 134.8h1.0v1.0h-1.0zM383.4 134.5h1.0v1.0h-1.0zM373.6 138.3h1.0v1.0h-1.0zM388.7 126.5h1.0v1.0h-1.0zM384.5 131.2h1.0v1.0h-1.0zM394.0 117.9h1.0v1.0h-1.0zM391.7 122.1h1.0v1.0h-1.0zM370.2 153.1h1.0v1.0h-1.0zM385.1 130.3h1.0v1.0h-1.0zM376.0 135.1h1.0v1.0h-1.0zM391.4 122.7h1.0v1.0h-1.0zM384.9 131.9h1.0v1.0h-1.0zM376.4 136.7h1.0v1.0h-1.0zM383.7 129.1h1.0v1.0h-1.0zM383.0 130.4h1.0v1.0h-1.0zM379.2 133.1h1.0v1.0h-1.0zM371.4 143.5h1.0v1.0h-1.0zM389.7 124.9h1.0v1.0h-1.0zM372.2 140.9h1.0v1.0h-1.0zM388.9 126.3h1.0v1.0h-1.0zM372.5 141.0h1.0v1.0h-1.0zM388.9 121.9h1.0v1.0h-1.0zM393.8 118.7h1.0v1.0h-1.0zM370.5 153.5h1.0v1.0h-1.0zM371.6 138.6h1.0v1.0h-1.0zM377.8 132.3h1.0v1.0h-1.0zM380.0 132.8h1.0v1.0h-1.0zM402.8 115.2h1.0v1.0h-1.0zM385.8 130.1h1.0v1.0h-1.0zM359.6 138.8h1.0v1.0h-1.0zM391.8 125.4h1.0v1.0h-1.0zM398.2 117.3h1.0v1.0h-1.0zM364.0 149.6h1.0v1.0h-1.0zM376.9 135.7h1.0v1.0h-1.0zM367.3 143.4h1.0v1.0h-1.0zM386.6 127.9h1.0v1.0h-1.0zM375.4 137.1h1.0v1.0h-1.0zM363.0 144.3h1.0v1.0h-1.0zM376.9 137.9h1.0v1.0h-1.0zM374.3 142.2h1.0v1.0h-1.0zM373.7 133.4h1.0v1.0h-1.0zM370.3 145.6h1.0v1.0h-1.0zM387.1 128.9h1.0v1.0h-1.0zM377.9 135.3h1.0v1.0h-1.0zM375.7 140.1h1.0v1.0h-1.0zM392.0 120.6h1.0v1.0h-1.0zM382.6 132.1h1.0v1.0h-1.0zM370.2 141.4h1.0v1.0h-1.0zM383.3 130.6h1.0v1.0h-1.0zM379.5 131.3h1.0v1.0h-1.0zM390.5 121.6h1.0v1.0h-1.0zM384.7 131.8h1.0v1.0h-1.0zM362.3 128.6h1.0v1.0h-1.0zM370.1 134.5h1.0v1.0h-1.0zM388.6 129.7h1.0v1.0h-1.0zM383.5 134.3h1.0v1.0h-1.0zM393.9 119.9h1.0v1.0h-1.0zM382.0 131.5h1.0v1.0h-1.0zM374.7 138.7h1.0v1.0h-1.0zM388.8 126.5h1.0v1.0h-1.0zM386.4 127.1h1.0v1.0h-1.0zM392.1 122.8h1.0v1.0h-1.0zM379.9 136.6h1.0v1.0h-1.0zM375.8 132.9h1.0v1.0h-1.0zM366.6 136.8h1.0v1.0h-1.0zM372.7 146.8h1.0v1.0h-1.0zM385.9 124.4h1.0v1.0h-1.0zM362.4 148.2h1.0v1.0h-1.0zM385.4 129.7h1.0v1.0h-1.0zM373.6 134.6h1.0v1.0h-1.0zM369.9 141.8h1.0v1.0h-1.0zM366.2 148.7h1.0v1.0h-1.0zM386.3 125.5h1.0v1.0h-1.0zM381.5 135.5h1.0v1.0h-1.0zM379.1 136.9h1.0v1.0h-1.0zM380.5 137.3h1.0v1.0h-1.0zM370.9 145.5h1.0v1.0h-1.0zM378.6 133.8h1.0v1.0h-1.0zM390.8 126.2h1.0v1.0h-1.0zM397.0 117.5h1.0v1.0h-1.0zM375.4 137.3h1.0v1.0h-1.0zM383.5 132.2h1.0v1.0h-1.0zM378.0 136.2h1.0v1.0h-1.0zM377.6 136.1h1.0v1.0h-1.0zM383.7 130.0h1.0v1.0h-1.0zM380.8 130.0h1.0v1.0h-1.0zM399.4 115.1h1.0v1.0h-1.0zM381.7 135.3h1.0v1.0h-1.0zM390.0 124.2h1.0v1.0h-1.0zM375.5 138.7h1.0v1.0h-1.0zM372.0 143.3h1.0v1.0h-1.0zM379.6 134.2h1.0v1.0h-1.0zM378.4 137.7h1.0v1.0h-1.0zM383.9 128.4h1.0v1.0h-1.0zM389.6 125.6h1.0v1.0h-1.0zM384.9 133.2h1.0v1.0h-1.0zM366.8 146.3h1.0v1.0h-1.0zM377.1 140.6h1.0v1.0h-1.0zM383.2 129.5h1.0v1.0h-1.0zM384.8 127.3h1.0v1.0h-1.0zM385.6 130.3h1.0v1.0h-1.0zM383.7 131.3h1.0v1.0h-1.0zM377.9 137.9h1.0v1.0h-1.0zM379.3 135.0h1.0v1.0h-1.0zM370.6 143.5h1.0v1.0h-1.0z" fill="#000" fill-opacity="0.42"/>
<path d="M374.5 141.9h1.0v1.0h-1.0zM373.2 137.2h1.0v1.0h-1.0zM368.5 136.0h1.0v1.0h-1.0zM369.6 145.0h1.0v1.0h-1.0zM388.2 122.6h1.0v1.0h-1.0zM388.8 122.8h1.0v1.0h-1.0zM374.2 137.5h1.0v1.0h-1.0zM380.6 132.7h1.0v1.0h-1.0zM382.9 131.5h1.0v1.0h-1.0zM384.4 131.2h1.0v1.0h-1.0zM390.0 123.3h1.0v1.0h-1.0zM393.1 123.4h1.0v1.0h-1.0zM379.2 135.7h1.0v1.0h-1.0zM378.1 131.1h1.0v1.0h-1.0zM397.7 122.0h1.0v1.0h-1.0zM386.2 128.8h1.0v1.0h-1.0zM372.3 136.5h1.0v1.0h-1.0zM381.3 134.4h1.0v1.0h-1.0zM387.8 130.5h1.0v1.0h-1.0zM379.2 140.4h1.0v1.0h-1.0zM389.4 128.2h1.0v1.0h-1.0zM376.4 138.3h1.0v1.0h-1.0zM375.5 136.1h1.0v1.0h-1.0zM384.4 127.3h1.0v1.0h-1.0zM394.6 115.8h1.0v1.0h-1.0zM376.6 146.1h1.0v1.0h-1.0zM372.4 142.2h1.0v1.0h-1.0zM392.9 124.4h1.0v1.0h-1.0zM389.9 124.4h1.0v1.0h-1.0zM377.9 134.9h1.0v1.0h-1.0zM390.3 126.4h1.0v1.0h-1.0zM365.6 145.7h1.0v1.0h-1.0zM386.7 131.2h1.0v1.0h-1.0zM379.9 134.5h1.0v1.0h-1.0zM385.2 128.4h1.0v1.0h-1.0zM386.1 123.4h1.0v1.0h-1.0zM388.0 128.9h1.0v1.0h-1.0zM377.9 134.2h1.0v1.0h-1.0zM379.6 132.7h1.0v1.0h-1.0zM385.3 128.1h1.0v1.0h-1.0zM364.0 145.6h1.0v1.0h-1.0zM398.9 115.7h1.0v1.0h-1.0zM376.5 137.7h1.0v1.0h-1.0zM394.1 120.0h1.0v1.0h-1.0zM377.3 137.0h1.0v1.0h-1.0zM388.9 126.6h1.0v1.0h-1.0zM377.8 134.6h1.0v1.0h-1.0zM382.4 132.0h1.0v1.0h-1.0zM393.1 121.4h1.0v1.0h-1.0zM366.6 142.9h1.0v1.0h-1.0zM384.5 126.7h1.0v1.0h-1.0zM393.0 119.3h1.0v1.0h-1.0zM391.4 123.2h1.0v1.0h-1.0zM374.7 135.5h1.0v1.0h-1.0zM369.6 143.0h1.0v1.0h-1.0zM386.1 129.5h1.0v1.0h-1.0zM372.4 142.3h1.0v1.0h-1.0zM378.8 135.5h1.0v1.0h-1.0zM397.7 118.9h1.0v1.0h-1.0zM373.1 139.3h1.0v1.0h-1.0zM375.6 139.0h1.0v1.0h-1.0zM394.2 122.6h1.0v1.0h-1.0zM374.5 138.5h1.0v1.0h-1.0zM393.5 121.0h1.0v1.0h-1.0zM386.5 125.9h1.0v1.0h-1.0zM377.6 136.3h1.0v1.0h-1.0zM380.7 132.8h1.0v1.0h-1.0zM378.4 130.8h1.0v1.0h-1.0zM390.1 126.0h1.0v1.0h-1.0zM381.6 131.2h1.0v1.0h-1.0zM394.6 119.9h1.0v1.0h-1.0zM358.9 152.6h1.0v1.0h-1.0zM383.9 128.2h1.0v1.0h-1.0zM379.7 135.9h1.0v1.0h-1.0zM383.8 128.5h1.0v1.0h-1.0zM378.0 135.6h1.0v1.0h-1.0zM386.7 128.0h1.0v1.0h-1.0zM397.0 119.1h1.0v1.0h-1.0zM350.0 132.2h1.0v1.0h-1.0zM383.3 131.4h1.0v1.0h-1.0zM378.9 133.4h1.0v1.0h-1.0zM385.3 130.3h1.0v1.0h-1.0zM393.3 121.3h1.0v1.0h-1.0zM377.8 135.5h1.0v1.0h-1.0zM357.2 153.5h1.0v1.0h-1.0zM379.8 130.1h1.0v1.0h-1.0zM390.8 123.3h1.0v1.0h-1.0zM372.4 140.9h1.0v1.0h-1.0zM387.1 130.8h1.0v1.0h-1.0zM392.1 120.4h1.0v1.0h-1.0zM367.3 144.2h1.0v1.0h-1.0zM380.9 133.0h1.0v1.0h-1.0zM374.6 139.5h1.0v1.0h-1.0zM379.5 136.6h1.0v1.0h-1.0zM381.5 132.4h1.0v1.0h-1.0zM374.3 141.9h1.0v1.0h-1.0zM386.0 129.0h1.0v1.0h-1.0zM391.3 122.5h1.0v1.0h-1.0zM378.0 134.4h1.0v1.0h-1.0zM393.6 121.1h1.0v1.0h-1.0zM381.1 131.1h1.0v1.0h-1.0zM377.7 135.6h1.0v1.0h-1.0zM386.3 131.0h1.0v1.0h-1.0zM383.2 131.7h1.0v1.0h-1.0zM381.2 132.8h1.0v1.0h-1.0zM391.0 125.0h1.0v1.0h-1.0zM375.0 141.2h1.0v1.0h-1.0zM393.0 124.1h1.0v1.0h-1.0zM368.6 146.7h1.0v1.0h-1.0zM389.5 124.4h1.0v1.0h-1.0zM371.9 140.6h1.0v1.0h-1.0zM373.7 142.1h1.0v1.0h-1.0zM387.2 127.7h1.0v1.0h-1.0zM396.1 118.8h1.0v1.0h-1.0zM401.3 114.0h1.0v1.0h-1.0zM386.7 127.3h1.0v1.0h-1.0zM380.4 132.3h1.0v1.0h-1.0zM371.2 140.9h1.0v1.0h-1.0zM388.4 122.2h1.0v1.0h-1.0zM367.1 144.0h1.0v1.0h-1.0zM387.3 127.1h1.0v1.0h-1.0zM377.7 134.3h1.0v1.0h-1.0zM388.8 123.1h1.0v1.0h-1.0zM388.1 128.7h1.0v1.0h-1.0zM389.3 129.6h1.0v1.0h-1.0zM379.6 132.9h1.0v1.0h-1.0zM384.2 132.2h1.0v1.0h-1.0zM383.4 129.7h1.0v1.0h-1.0zM391.3 123.0h1.0v1.0h-1.0zM367.9 147.8h1.0v1.0h-1.0zM383.2 132.2h1.0v1.0h-1.0zM380.1 129.5h1.0v1.0h-1.0zM370.6 140.9h1.0v1.0h-1.0zM382.7 129.9h1.0v1.0h-1.0zM374.9 136.7h1.0v1.0h-1.0zM387.4 128.0h1.0v1.0h-1.0zM396.9 116.9h1.0v1.0h-1.0zM371.4 141.2h1.0v1.0h-1.0zM375.0 138.5h1.0v1.0h-1.0zM384.9 132.4h1.0v1.0h-1.0zM387.9 126.5h1.0v1.0h-1.0zM386.6 123.9h1.0v1.0h-1.0zM386.8 129.0h1.0v1.0h-1.0zM385.2 130.8h1.0v1.0h-1.0zM390.3 121.5h1.0v1.0h-1.0zM389.0 124.3h1.0v1.0h-1.0zM363.4 126.5h1.0v1.0h-1.0zM378.3 139.3h1.0v1.0h-1.0zM368.1 145.4h1.0v1.0h-1.0zM385.9 127.3h1.0v1.0h-1.0zM391.2 125.1h1.0v1.0h-1.0zM386.9 126.1h1.0v1.0h-1.0zM371.8 139.1h1.0v1.0h-1.0zM395.7 114.8h1.0v1.0h-1.0zM375.0 140.2h1.0v1.0h-1.0zM373.6 142.4h1.0v1.0h-1.0zM403.2 114.8h1.0v1.0h-1.0zM378.5 136.0h1.0v1.0h-1.0zM381.2 130.6h1.0v1.0h-1.0zM373.8 138.9h1.0v1.0h-1.0zM367.9 144.7h1.0v1.0h-1.0zM382.9 133.8h1.0v1.0h-1.0zM400.4 116.8h1.0v1.0h-1.0zM395.0 124.8h1.0v1.0h-1.0zM393.5 121.7h1.0v1.0h-1.0zM383.1 126.0h1.0v1.0h-1.0zM376.6 140.7h1.0v1.0h-1.0zM376.0 140.6h1.0v1.0h-1.0zM391.1 120.8h1.0v1.0h-1.0zM373.5 142.4h1.0v1.0h-1.0zM382.9 129.9h1.0v1.0h-1.0zM383.9 128.7h1.0v1.0h-1.0zM388.2 126.6h1.0v1.0h-1.0zM386.9 127.9h1.0v1.0h-1.0zM374.6 139.6h1.0v1.0h-1.0zM384.2 130.6h1.0v1.0h-1.0zM378.6 136.0h1.0v1.0h-1.0zM371.6 142.1h1.0v1.0h-1.0zM391.9 124.8h1.0v1.0h-1.0zM378.7 134.1h1.0v1.0h-1.0zM378.3 131.0h1.0v1.0h-1.0zM395.3 122.3h1.0v1.0h-1.0zM385.8 127.2h1.0v1.0h-1.0zM394.8 121.2h1.0v1.0h-1.0zM362.1 136.0h1.0v1.0h-1.0zM381.5 131.1h1.0v1.0h-1.0zM379.6 130.7h1.0v1.0h-1.0zM379.7 132.8h1.0v1.0h-1.0zM359.8 153.0h1.0v1.0h-1.0zM388.3 125.5h1.0v1.0h-1.0zM382.8 132.5h1.0v1.0h-1.0zM393.9 121.4h1.0v1.0h-1.0zM393.5 122.0h1.0v1.0h-1.0zM390.4 122.0h1.0v1.0h-1.0zM368.8 143.2h1.0v1.0h-1.0zM384.7 132.1h1.0v1.0h-1.0zM373.5 135.8h1.0v1.0h-1.0zM383.0 133.2h1.0v1.0h-1.0zM376.7 133.5h1.0v1.0h-1.0zM388.7 122.5h1.0v1.0h-1.0zM378.9 137.7h1.0v1.0h-1.0zM386.8 126.3h1.0v1.0h-1.0zM361.0 149.4h1.0v1.0h-1.0zM385.5 129.3h1.0v1.0h-1.0zM374.8 138.9h1.0v1.0h-1.0zM381.8 132.6h1.0v1.0h-1.0zM374.7 141.4h1.0v1.0h-1.0zM380.4 136.0h1.0v1.0h-1.0zM383.2 132.6h1.0v1.0h-1.0zM386.5 130.4h1.0v1.0h-1.0zM380.0 133.6h1.0v1.0h-1.0zM379.5 137.0h1.0v1.0h-1.0zM380.7 131.2h1.0v1.0h-1.0zM376.8 133.9h1.0v1.0h-1.0zM381.0 129.3h1.0v1.0h-1.0zM379.1 133.5h1.0v1.0h-1.0zM390.3 124.3h1.0v1.0h-1.0zM380.5 134.7h1.0v1.0h-1.0zM377.1 136.4h1.0v1.0h-1.0zM378.0 136.6h1.0v1.0h-1.0zM378.1 135.2h1.0v1.0h-1.0zM381.7 130.7h1.0v1.0h-1.0zM378.4 133.3h1.0v1.0h-1.0zM389.0 123.9h1.0v1.0h-1.0zM384.2 133.5h1.0v1.0h-1.0zM386.4 128.1h1.0v1.0h-1.0zM380.1 131.8h1.0v1.0h-1.0zM376.4 137.2h1.0v1.0h-1.0zM374.0 133.3h1.0v1.0h-1.0zM377.0 137.2h1.0v1.0h-1.0zM380.7 132.5h1.0v1.0h-1.0zM379.1 132.9h1.0v1.0h-1.0zM375.9 134.7h1.0v1.0h-1.0zM391.3 122.3h1.0v1.0h-1.0zM352.0 148.1h1.0v1.0h-1.0zM382.5 128.7h1.0v1.0h-1.0zM372.6 139.8h1.0v1.0h-1.0zM372.9 139.3h1.0v1.0h-1.0zM389.3 127.9h1.0v1.0h-1.0zM388.8 132.3h1.0v1.0h-1.0zM391.6 121.6h1.0v1.0h-1.0zM383.0 133.8h1.0v1.0h-1.0zM385.4 130.7h1.0v1.0h-1.0zM394.5 120.4h1.0v1.0h-1.0zM365.7 145.8h1.0v1.0h-1.0zM374.7 139.9h1.0v1.0h-1.0zM373.8 138.4h1.0v1.0h-1.0zM390.9 123.4h1.0v1.0h-1.0zM382.3 134.6h1.0v1.0h-1.0zM373.0 140.6h1.0v1.0h-1.0zM391.4 123.5h1.0v1.0h-1.0zM371.2 140.6h1.0v1.0h-1.0zM380.0 131.3h1.0v1.0h-1.0zM378.1 133.5h1.0v1.0h-1.0zM362.5 153.1h1.0v1.0h-1.0zM363.3 140.8h1.0v1.0h-1.0zM379.9 137.5h1.0v1.0h-1.0zM384.6 130.3h1.0v1.0h-1.0zM379.8 135.2h1.0v1.0h-1.0zM379.5 131.6h1.0v1.0h-1.0zM381.9 134.7h1.0v1.0h-1.0zM378.9 134.5h1.0v1.0h-1.0zM381.2 132.5h1.0v1.0h-1.0zM379.4 134.8h1.0v1.0h-1.0zM378.4 137.1h1.0v1.0h-1.0zM386.4 126.2h1.0v1.0h-1.0zM372.9 140.1h1.0v1.0h-1.0zM387.7 123.9h1.0v1.0h-1.0zM395.5 122.7h1.0v1.0h-1.0zM391.6 123.9h1.0v1.0h-1.0zM384.5 130.9h1.0v1.0h-1.0zM388.4 121.7h1.0v1.0h-1.0zM388.3 126.3h1.0v1.0h-1.0zM380.9 133.4h1.0v1.0h-1.0zM396.6 119.3h1.0v1.0h-1.0zM387.2 123.0h1.0v1.0h-1.0zM366.2 145.2h1.0v1.0h-1.0zM392.4 126.3h1.0v1.0h-1.0zM376.3 136.6h1.0v1.0h-1.0zM380.3 134.3h1.0v1.0h-1.0zM394.4 124.4h1.0v1.0h-1.0zM381.9 134.5h1.0v1.0h-1.0zM401.3 114.4h1.0v1.0h-1.0zM394.3 125.3h1.0v1.0h-1.0zM365.3 139.2h1.0v1.0h-1.0zM392.8 118.6h1.0v1.0h-1.0zM382.7 132.5h1.0v1.0h-1.0zM372.4 142.3h1.0v1.0h-1.0zM381.9 138.5h1.0v1.0h-1.0zM374.4 138.4h1.0v1.0h-1.0zM378.2 135.6h1.0v1.0h-1.0zM372.5 141.7h1.0v1.0h-1.0zM369.9 145.9h1.0v1.0h-1.0zM384.8 129.0h1.0v1.0h-1.0z" fill="#000" fill-opacity="0.42"/>
<path d="M364.2 155.0h1.0v1.0h-1.0zM362.9 165.7h1.0v1.0h-1.0zM364.9 171.9h1.0v1.0h-1.0zM361.5 171.2h1.0v1.0h-1.0zM358.7 142.5h1.0v1.0h-1.0zM363.5 169.7h1.0v1.0h-1.0zM361.0 159.1h1.0v1.0h-1.0zM365.9 168.0h1.0v1.0h-1.0zM369.8 164.9h1.0v1.0h-1.0zM359.5 163.1h1.0v1.0h-1.0zM363.9 158.7h1.0v1.0h-1.0zM364.7 155.2h1.0v1.0h-1.0zM365.6 167.0h1.0v1.0h-1.0zM362.1 155.4h1.0v1.0h-1.0zM355.2 158.8h1.0v1.0h-1.0zM360.9 164.9h1.0v1.0h-1.0zM369.0 172.8h1.0v1.0h-1.0zM357.5 160.4h1.0v1.0h-1.0zM357.8 164.3h1.0v1.0h-1.0zM363.1 161.5h1.0v1.0h-1.0zM351.0 159.5h1.0v1.0h-1.0zM369.3 155.6h1.0v1.0h-1.0zM367.4 162.7h1.0v1.0h-1.0zM366.0 117.5h1.0v1.0h-1.0zM358.6 165.6h1.0v1.0h-1.0zM351.2 143.9h1.0v1.0h-1.0zM365.3 160.0h1.0v1.0h-1.0zM369.0 167.5h1.0v1.0h-1.0zM360.6 159.6h1.0v1.0h-1.0zM369.0 172.8h1.0v1.0h-1.0zM351.3 151.2h1.0v1.0h-1.0zM360.1 157.3h1.0v1.0h-1.0zM358.3 151.8h1.0v1.0h-1.0zM366.8 161.8h1.0v1.0h-1.0zM364.1 157.2h1.0v1.0h-1.0zM360.0 115.5h1.0v1.0h-1.0zM368.8 163.8h1.0v1.0h-1.0zM363.3 155.6h1.0v1.0h-1.0zM364.7 171.7h1.0v1.0h-1.0zM364.5 156.2h1.0v1.0h-1.0zM369.9 164.4h1.0v1.0h-1.0zM368.4 156.7h1.0v1.0h-1.0zM364.3 172.8h1.0v1.0h-1.0zM369.5 163.2h1.0v1.0h-1.0zM362.2 147.2h1.0v1.0h-1.0zM365.3 158.8h1.0v1.0h-1.0zM362.0 151.0h1.0v1.0h-1.0zM365.9 151.4h1.0v1.0h-1.0zM364.4 160.2h1.0v1.0h-1.0zM361.0 166.3h1.0v1.0h-1.0zM364.2 160.2h1.0v1.0h-1.0zM357.0 148.7h1.0v1.0h-1.0zM358.5 157.2h1.0v1.0h-1.0zM356.7 128.1h1.0v1.0h-1.0zM357.8 160.6h1.0v1.0h-1.0zM366.0 165.9h1.0v1.0h-1.0zM369.6 159.5h1.0v1.0h-1.0zM367.5 143.6h1.0v1.0h-1.0zM361.0 167.0h1.0v1.0h-1.0zM361.4 154.9h1.0v1.0h-1.0zM362.0 155.4h1.0v1.0h-1.0zM367.1 159.6h1.0v1.0h-1.0zM362.9 153.9h1.0v1.0h-1.0zM365.8 166.4h1.0v1.0h-1.0zM367.3 165.0h1.0v1.0h-1.0zM366.0 161.0h1.0v1.0h-1.0zM356.5 172.8h1.0v1.0h-1.0zM355.0 169.7h1.0v1.0h-1.0zM363.4 166.0h1.0v1.0h-1.0zM362.0 140.3h1.0v1.0h-1.0zM363.1 159.4h1.0v1.0h-1.0zM358.9 172.1h1.0v1.0h-1.0zM365.6 156.4h1.0v1.0h-1.0zM356.0 169.1h1.0v1.0h-1.0zM363.0 161.6h1.0v1.0h-1.0zM362.9 166.0h1.0v1.0h-1.0zM363.5 157.9h1.0v1.0h-1.0zM356.1 140.4h1.0v1.0h-1.0zM355.1 154.7h1.0v1.0h-1.0zM360.2 168.1h1.0v1.0h-1.0zM359.5 145.4h1.0v1.0h-1.0zM358.2 158.5h1.0v1.0h-1.0zM360.1 170.9h1.0v1.0h-1.0zM358.0 164.6h1.0v1.0h-1.0zM365.5 166.6h1.0v1.0h-1.0zM360.0 163.0h1.0v1.0h-1.0zM361.9 151.1h1.0v1.0h-1.0zM362.0 165.5h1.0v1.0h-1.0zM361.6 157.9h1.0v1.0h-1.0zM363.9 159.8h1.0v1.0h-1.0zM364.8 172.8h1.0v1.0h-1.0zM365.2 160.1h1.0v1.0h-1.0zM370.2 172.4h1.0v1.0h-1.0zM362.9 154.4h1.0v1.0h-1.0zM363.5 153.9h1.0v1.0h-1.0zM355.8 158.2h1.0v1.0h-1.0zM365.8 163.8h1.0v1.0h-1.0zM365.5 170.2h1.0v1.0h-1.0zM364.5 127.3h1.0v1.0h-1.0zM358.9 173.6h1.0v1.0h-1.0zM362.0 149.4h1.0v1.0h-1.0zM365.4 169.4h1.0v1.0h-1.0zM358.7 145.1h1.0v1.0h-1.0zM355.6 160.3h1.0v1.0h-1.0zM359.6 165.0h1.0v1.0h-1.0zM360.6 173.6h1.0v1.0h-1.0zM367.1 157.8h1.0v1.0h-1.0zM357.8 145.9h1.0v1.0h-1.0zM366.0 164.2h1.0v1.0h-1.0zM366.9 155.3h1.0v1.0h-1.0zM362.0 171.0h1.0v1.0h-1.0zM358.5 158.4h1.0v1.0h-1.0zM366.8 149.1h1.0v1.0h-1.0zM360.5 155.8h1.0v1.0h-1.0zM350.1 134.0h1.0v1.0h-1.0zM363.2 150.4h1.0v1.0h-1.0zM364.4 168.8h1.0v1.0h-1.0zM361.0 155.2h1.0v1.0h-1.0zM368.7 154.1h1.0v1.0h-1.0z" fill="#000" fill-opacity="0.34"/>
<path d="M367.4 149.7h1.0v1.0h-1.0zM361.5 166.8h1.0v1.0h-1.0zM363.2 156.1h1.0v1.0h-1.0zM359.6 160.7h1.0v1.0h-1.0zM362.8 171.2h1.0v1.0h-1.0zM365.6 169.3h1.0v1.0h-1.0zM356.3 135.9h1.0v1.0h-1.0zM361.3 164.9h1.0v1.0h-1.0zM359.7 158.0h1.0v1.0h-1.0zM364.3 156.3h1.0v1.0h-1.0zM367.5 169.8h1.0v1.0h-1.0zM368.9 157.6h1.0v1.0h-1.0zM370.1 158.1h1.0v1.0h-1.0zM355.1 170.0h1.0v1.0h-1.0zM355.7 157.0h1.0v1.0h-1.0zM363.7 152.8h1.0v1.0h-1.0zM369.6 148.6h1.0v1.0h-1.0zM353.9 159.2h1.0v1.0h-1.0zM361.7 158.7h1.0v1.0h-1.0zM368.3 151.6h1.0v1.0h-1.0zM360.3 158.1h1.0v1.0h-1.0zM364.6 172.0h1.0v1.0h-1.0zM356.7 173.4h1.0v1.0h-1.0zM364.6 162.5h1.0v1.0h-1.0zM356.1 168.0h1.0v1.0h-1.0zM361.2 156.4h1.0v1.0h-1.0zM364.8 160.2h1.0v1.0h-1.0zM356.3 163.5h1.0v1.0h-1.0zM359.9 162.9h1.0v1.0h-1.0zM357.4 163.2h1.0v1.0h-1.0zM357.6 164.6h1.0v1.0h-1.0zM357.9 166.9h1.0v1.0h-1.0zM365.5 159.7h1.0v1.0h-1.0zM361.4 160.5h1.0v1.0h-1.0zM350.1 158.1h1.0v1.0h-1.0zM363.9 152.8h1.0v1.0h-1.0zM365.3 169.8h1.0v1.0h-1.0zM358.7 166.4h1.0v1.0h-1.0zM361.0 161.3h1.0v1.0h-1.0zM363.0 162.5h1.0v1.0h-1.0zM350.4 132.6h1.0v1.0h-1.0zM364.4 160.2h1.0v1.0h-1.0zM369.3 163.8h1.0v1.0h-1.0zM362.6 156.6h1.0v1.0h-1.0zM366.9 170.3h1.0v1.0h-1.0zM362.2 165.8h1.0v1.0h-1.0zM358.2 155.7h1.0v1.0h-1.0zM361.8 170.2h1.0v1.0h-1.0zM364.0 153.7h1.0v1.0h-1.0zM365.8 162.9h1.0v1.0h-1.0zM360.6 156.6h1.0v1.0h-1.0zM361.8 154.2h1.0v1.0h-1.0zM353.6 159.8h1.0v1.0h-1.0zM363.7 165.7h1.0v1.0h-1.0zM359.1 155.5h1.0v1.0h-1.0zM362.2 161.0h1.0v1.0h-1.0zM359.6 155.5h1.0v1.0h-1.0zM359.4 157.5h1.0v1.0h-1.0zM359.7 169.3h1.0v1.0h-1.0zM363.8 156.6h1.0v1.0h-1.0zM365.9 152.6h1.0v1.0h-1.0zM362.2 163.7h1.0v1.0h-1.0zM358.8 158.6h1.0v1.0h-1.0zM363.9 165.3h1.0v1.0h-1.0zM356.6 159.1h1.0v1.0h-1.0zM361.0 151.7h1.0v1.0h-1.0zM358.3 157.3h1.0v1.0h-1.0zM360.8 168.3h1.0v1.0h-1.0zM354.0 158.0h1.0v1.0h-1.0zM353.7 162.9h1.0v1.0h-1.0zM362.7 150.0h1.0v1.0h-1.0zM367.5 161.5h1.0v1.0h-1.0zM360.5 161.6h1.0v1.0h-1.0zM364.2 156.1h1.0v1.0h-1.0zM363.2 159.7h1.0v1.0h-1.0zM365.7 168.7h1.0v1.0h-1.0zM362.1 170.4h1.0v1.0h-1.0zM366.4 162.3h1.0v1.0h-1.0zM361.6 148.7h1.0v1.0h-1.0zM359.2 146.0h1.0v1.0h-1.0zM355.4 140.0h1.0v1.0h-1.0zM363.7 166.5h1.0v1.0h-1.0zM362.1 168.2h1.0v1.0h-1.0zM360.7 152.7h1.0v1.0h-1.0zM363.6 169.2h1.0v1.0h-1.0zM358.5 164.3h1.0v1.0h-1.0zM355.0 155.3h1.0v1.0h-1.0zM364.2 162.2h1.0v1.0h-1.0zM361.8 160.8h1.0v1.0h-1.0zM361.4 150.0h1.0v1.0h-1.0zM361.4 151.5h1.0v1.0h-1.0zM354.3 164.4h1.0v1.0h-1.0zM367.1 158.0h1.0v1.0h-1.0zM363.5 155.7h1.0v1.0h-1.0zM359.7 143.9h1.0v1.0h-1.0zM360.6 156.1h1.0v1.0h-1.0zM363.7 158.1h1.0v1.0h-1.0zM358.0 150.5h1.0v1.0h-1.0zM360.2 168.5h1.0v1.0h-1.0zM368.2 147.6h1.0v1.0h-1.0zM364.0 154.0h1.0v1.0h-1.0zM359.5 165.1h1.0v1.0h-1.0zM366.5 162.1h1.0v1.0h-1.0zM362.5 158.9h1.0v1.0h-1.0zM361.6 158.3h1.0v1.0h-1.0zM353.9 164.4h1.0v1.0h-1.0zM355.5 171.7h1.0v1.0h-1.0zM351.1 119.1h1.0v1.0h-1.0zM356.4 165.0h1.0v1.0h-1.0zM349.2 131.8h1.0v1.0h-1.0zM362.8 164.4h1.0v1.0h-1.0zM355.6 167.8h1.0v1.0h-1.0zM370.5 152.0h1.0v1.0h-1.0zM357.5 169.7h1.0v1.0h-1.0zM362.8 162.3h1.0v1.0h-1.0zM361.8 169.5h1.0v1.0h-1.0zM361.8 169.5h1.0v1.0h-1.0zM364.0 156.2h1.0v1.0h-1.0zM363.8 152.8h1.0v1.0h-1.0z" fill="#000" fill-opacity="0.34"/>
<path d="M363.8 157.7h1.0v1.0h-1.0zM364.4 159.0h1.0v1.0h-1.0zM366.4 138.4h1.0v1.0h-1.0zM361.9 173.5h1.0v1.0h-1.0zM362.9 152.5h1.0v1.0h-1.0zM370.2 159.5h1.0v1.0h-1.0zM360.5 173.5h1.0v1.0h-1.0zM359.9 153.4h1.0v1.0h-1.0zM365.5 169.7h1.0v1.0h-1.0zM356.3 154.7h1.0v1.0h-1.0zM366.3 165.4h1.0v1.0h-1.0zM359.9 150.4h1.0v1.0h-1.0zM361.9 158.5h1.0v1.0h-1.0zM362.0 162.1h1.0v1.0h-1.0zM350.3 166.3h1.0v1.0h-1.0zM362.2 158.6h1.0v1.0h-1.0zM358.4 160.8h1.0v1.0h-1.0zM359.5 152.6h1.0v1.0h-1.0zM362.1 167.0h1.0v1.0h-1.0zM360.3 157.3h1.0v1.0h-1.0zM365.9 155.6h1.0v1.0h-1.0zM361.9 166.5h1.0v1.0h-1.0zM360.2 171.1h1.0v1.0h-1.0zM356.8 161.9h1.0v1.0h-1.0zM364.6 165.7h1.0v1.0h-1.0zM364.7 170.4h1.0v1.0h-1.0zM364.1 161.1h1.0v1.0h-1.0zM358.1 157.8h1.0v1.0h-1.0zM364.8 160.8h1.0v1.0h-1.0zM364.8 162.4h1.0v1.0h-1.0zM359.2 152.3h1.0v1.0h-1.0zM361.7 155.2h1.0v1.0h-1.0zM350.5 168.7h1.0v1.0h-1.0zM362.3 167.6h1.0v1.0h-1.0zM365.1 151.9h1.0v1.0h-1.0zM364.3 162.8h1.0v1.0h-1.0zM354.8 153.8h1.0v1.0h-1.0zM359.3 144.0h1.0v1.0h-1.0zM367.3 147.5h1.0v1.0h-1.0zM360.8 163.0h1.0v1.0h-1.0zM365.5 170.8h1.0v1.0h-1.0zM360.8 166.7h1.0v1.0h-1.0zM353.1 173.8h1.0v1.0h-1.0zM362.5 161.1h1.0v1.0h-1.0zM358.5 126.6h1.0v1.0h-1.0zM370.1 158.4h1.0v1.0h-1.0zM365.5 159.9h1.0v1.0h-1.0zM358.5 162.3h1.0v1.0h-1.0zM357.5 159.4h1.0v1.0h-1.0zM354.7 159.6h1.0v1.0h-1.0zM358.3 173.4h1.0v1.0h-1.0zM365.0 149.7h1.0v1.0h-1.0zM358.5 162.1h1.0v1.0h-1.0zM365.7 162.3h1.0v1.0h-1.0zM361.0 166.1h1.0v1.0h-1.0zM367.3 157.5h1.0v1.0h-1.0zM366.2 164.8h1.0v1.0h-1.0zM363.0 165.4h1.0v1.0h-1.0zM359.9 167.6h1.0v1.0h-1.0zM360.7 153.4h1.0v1.0h-1.0zM361.1 156.1h1.0v1.0h-1.0zM359.7 159.8h1.0v1.0h-1.0zM360.3 161.4h1.0v1.0h-1.0zM349.9 154.0h1.0v1.0h-1.0zM366.7 170.9h1.0v1.0h-1.0zM359.7 163.9h1.0v1.0h-1.0zM359.8 162.4h1.0v1.0h-1.0zM366.1 155.3h1.0v1.0h-1.0zM369.4 158.5h1.0v1.0h-1.0zM355.8 147.6h1.0v1.0h-1.0zM365.9 162.1h1.0v1.0h-1.0zM356.2 167.2h1.0v1.0h-1.0zM360.8 161.7h1.0v1.0h-1.0zM359.2 129.8h1.0v1.0h-1.0zM357.0 167.1h1.0v1.0h-1.0zM364.1 164.5h1.0v1.0h-1.0zM356.8 156.5h1.0v1.0h-1.0zM359.0 166.3h1.0v1.0h-1.0zM359.1 148.6h1.0v1.0h-1.0zM361.1 172.8h1.0v1.0h-1.0zM359.2 161.2h1.0v1.0h-1.0zM361.8 165.3h1.0v1.0h-1.0zM365.1 160.1h1.0v1.0h-1.0zM363.6 161.9h1.0v1.0h-1.0zM365.7 158.8h1.0v1.0h-1.0zM351.8 167.7h1.0v1.0h-1.0zM360.9 166.5h1.0v1.0h-1.0zM364.5 159.7h1.0v1.0h-1.0zM362.1 163.5h1.0v1.0h-1.0zM363.6 169.5h1.0v1.0h-1.0zM355.5 168.0h1.0v1.0h-1.0zM367.0 162.0h1.0v1.0h-1.0zM363.0 151.5h1.0v1.0h-1.0zM359.6 155.1h1.0v1.0h-1.0zM369.9 170.4h1.0v1.0h-1.0zM355.5 154.9h1.0v1.0h-1.0zM357.5 152.1h1.0v1.0h-1.0zM351.2 170.9h1.0v1.0h-1.0zM358.0 159.2h1.0v1.0h-1.0zM360.7 163.6h1.0v1.0h-1.0zM364.8 160.0h1.0v1.0h-1.0zM366.8 169.3h1.0v1.0h-1.0zM361.2 165.8h1.0v1.0h-1.0zM369.6 157.3h1.0v1.0h-1.0zM358.5 144.1h1.0v1.0h-1.0zM358.4 148.5h1.0v1.0h-1.0zM363.4 157.1h1.0v1.0h-1.0zM360.8 156.2h1.0v1.0h-1.0zM365.0 159.6h1.0v1.0h-1.0zM361.1 161.1h1.0v1.0h-1.0zM356.0 171.3h1.0v1.0h-1.0zM363.3 148.0h1.0v1.0h-1.0zM359.0 154.3h1.0v1.0h-1.0zM362.0 137.8h1.0v1.0h-1.0zM354.8 159.5h1.0v1.0h-1.0zM363.5 154.9h1.0v1.0h-1.0zM357.0 151.6h1.0v1.0h-1.0zM366.2 162.0h1.0v1.0h-1.0zM372.3 166.6h1.0v1.0h-1.0z" fill="#000" fill-opacity="0.34"/>
<path d="M356.3 158.4h1.0v1.0h-1.0zM360.8 154.8h1.0v1.0h-1.0zM363.1 162.0h1.0v1.0h-1.0zM361.3 150.9h1.0v1.0h-1.0zM366.1 160.7h1.0v1.0h-1.0zM368.2 155.0h1.0v1.0h-1.0zM362.5 159.8h1.0v1.0h-1.0zM359.6 151.2h1.0v1.0h-1.0zM369.5 160.6h1.0v1.0h-1.0zM364.2 154.6h1.0v1.0h-1.0zM366.8 160.4h1.0v1.0h-1.0zM363.7 121.5h1.0v1.0h-1.0zM363.0 164.2h1.0v1.0h-1.0zM370.0 143.8h1.0v1.0h-1.0zM360.9 164.9h1.0v1.0h-1.0zM365.4 141.3h1.0v1.0h-1.0zM364.4 167.9h1.0v1.0h-1.0zM354.9 150.3h1.0v1.0h-1.0zM358.2 151.4h1.0v1.0h-1.0zM360.8 116.7h1.0v1.0h-1.0zM358.5 156.3h1.0v1.0h-1.0zM359.4 151.8h1.0v1.0h-1.0zM361.3 162.2h1.0v1.0h-1.0zM362.7 154.5h1.0v1.0h-1.0zM358.8 160.8h1.0v1.0h-1.0zM366.4 155.3h1.0v1.0h-1.0zM354.8 171.1h1.0v1.0h-1.0zM367.4 168.8h1.0v1.0h-1.0zM359.4 149.5h1.0v1.0h-1.0zM369.9 170.7h1.0v1.0h-1.0zM366.0 146.7h1.0v1.0h-1.0zM360.6 160.5h1.0v1.0h-1.0zM355.1 117.3h1.0v1.0h-1.0zM360.9 168.5h1.0v1.0h-1.0zM363.1 161.8h1.0v1.0h-1.0zM365.2 148.3h1.0v1.0h-1.0zM365.1 174.1h1.0v1.0h-1.0zM364.9 161.3h1.0v1.0h-1.0zM358.3 169.0h1.0v1.0h-1.0zM359.7 170.3h1.0v1.0h-1.0zM355.2 148.4h1.0v1.0h-1.0zM352.2 153.0h1.0v1.0h-1.0zM369.5 157.9h1.0v1.0h-1.0zM355.7 158.2h1.0v1.0h-1.0zM364.2 157.8h1.0v1.0h-1.0zM359.4 157.9h1.0v1.0h-1.0zM361.2 164.5h1.0v1.0h-1.0zM361.6 151.8h1.0v1.0h-1.0zM365.6 159.5h1.0v1.0h-1.0zM360.6 162.6h1.0v1.0h-1.0zM369.6 160.5h1.0v1.0h-1.0zM356.6 155.4h1.0v1.0h-1.0zM364.4 166.3h1.0v1.0h-1.0zM363.6 163.9h1.0v1.0h-1.0zM351.7 151.2h1.0v1.0h-1.0zM358.6 169.2h1.0v1.0h-1.0zM360.9 151.5h1.0v1.0h-1.0zM354.2 117.9h1.0v1.0h-1.0zM365.0 150.2h1.0v1.0h-1.0zM365.2 166.5h1.0v1.0h-1.0zM358.6 153.9h1.0v1.0h-1.0zM364.4 160.1h1.0v1.0h-1.0zM365.4 157.8h1.0v1.0h-1.0zM358.1 156.8h1.0v1.0h-1.0zM366.3 151.0h1.0v1.0h-1.0zM360.8 156.2h1.0v1.0h-1.0zM353.2 163.0h1.0v1.0h-1.0zM365.8 144.6h1.0v1.0h-1.0zM364.7 157.0h1.0v1.0h-1.0zM357.3 158.6h1.0v1.0h-1.0zM361.6 149.6h1.0v1.0h-1.0zM358.7 157.6h1.0v1.0h-1.0zM364.8 153.9h1.0v1.0h-1.0zM359.7 160.0h1.0v1.0h-1.0zM360.1 163.1h1.0v1.0h-1.0zM365.7 163.4h1.0v1.0h-1.0zM358.9 173.3h1.0v1.0h-1.0zM359.8 163.2h1.0v1.0h-1.0zM365.2 158.8h1.0v1.0h-1.0zM361.0 163.8h1.0v1.0h-1.0zM355.8 165.6h1.0v1.0h-1.0zM365.7 157.1h1.0v1.0h-1.0zM357.2 163.6h1.0v1.0h-1.0zM360.8 154.8h1.0v1.0h-1.0zM351.4 154.3h1.0v1.0h-1.0zM364.9 158.5h1.0v1.0h-1.0zM354.6 163.8h1.0v1.0h-1.0zM363.1 169.5h1.0v1.0h-1.0zM364.2 169.7h1.0v1.0h-1.0zM358.1 166.3h1.0v1.0h-1.0zM365.5 146.3h1.0v1.0h-1.0zM362.3 170.5h1.0v1.0h-1.0zM361.0 168.5h1.0v1.0h-1.0zM356.0 174.1h1.0v1.0h-1.0zM356.7 170.4h1.0v1.0h-1.0zM362.9 167.2h1.0v1.0h-1.0zM358.5 151.5h1.0v1.0h-1.0zM365.3 167.7h1.0v1.0h-1.0zM367.1 150.9h1.0v1.0h-1.0zM370.1 169.6h1.0v1.0h-1.0zM364.4 155.4h1.0v1.0h-1.0zM359.7 162.6h1.0v1.0h-1.0zM362.7 148.6h1.0v1.0h-1.0zM366.0 172.8h1.0v1.0h-1.0zM359.3 157.9h1.0v1.0h-1.0zM353.4 124.4h1.0v1.0h-1.0zM358.5 154.4h1.0v1.0h-1.0zM360.5 169.1h1.0v1.0h-1.0zM364.0 115.0h1.0v1.0h-1.0zM356.9 141.4h1.0v1.0h-1.0zM361.5 170.7h1.0v1.0h-1.0zM360.2 163.4h1.0v1.0h-1.0zM358.7 154.0h1.0v1.0h-1.0zM359.9 160.8h1.0v1.0h-1.0zM361.6 165.1h1.0v1.0h-1.0zM361.8 160.9h1.0v1.0h-1.0zM365.8 153.0h1.0v1.0h-1.0zM358.7 165.7h1.0v1.0h-1.0z" fill="#000" fill-opacity="0.34"/>
<text x="271.70" y="38.33" font-size="7.9" text-anchor="start" font-weight="normal" fill="#1a1a1a" stroke="#1a1a1a" stroke-width="0.12">&lt;1%</text>
<text x="336.80" y="38.33" font-size="7.9" text-anchor="end" font-weight="normal" fill="#1a1a1a" stroke="#1a1a1a" stroke-width="0.12">&lt;1%</text>
<text x="271.70" y="71.73" font-size="7.9" text-anchor="start" font-weight="normal" fill="#1a1a1a" stroke="#1a1a1a" stroke-width="0.12">99%</text>
<text x="336.80" y="71.73" font-size="7.9" text-anchor="end" font-weight="normal" fill="#1a1a1a" stroke="#1a1a1a" stroke-width="0.12">&lt;1%</text>
<text x="349.00" y="38.33" font-size="7.9" text-anchor="start" font-weight="normal" fill="#1a1a1a" stroke="#1a1a1a" stroke-width="0.12">59%</text>
<text x="413.60" y="38.33" font-size="7.9" text-anchor="end" font-weight="normal" fill="#1a1a1a" stroke="#1a1a1a" stroke-width="0.12">1%</text>
<text x="349.00" y="71.93" font-size="7.9" text-anchor="start" font-weight="normal" fill="#1a1a1a" stroke="#1a1a1a" stroke-width="0.12">40%</text>
<text x="413.60" y="71.93" font-size="7.9" text-anchor="end" font-weight="normal" fill="#1a1a1a" stroke="#1a1a1a" stroke-width="0.12">&lt;1%</text>
<text x="271.70" y="120.33" font-size="7.9" text-anchor="start" font-weight="normal" fill="#1a1a1a" stroke="#1a1a1a" stroke-width="0.12">&lt;1%</text>
<text x="336.80" y="120.33" font-size="7.9" text-anchor="end" font-weight="normal" fill="#1a1a1a" stroke="#1a1a1a" stroke-width="0.12">&lt;1%</text>
<text x="271.70" y="153.93" font-size="7.9" text-anchor="start" font-weight="normal" fill="#1a1a1a" stroke="#1a1a1a" stroke-width="0.12">32%</text>
<text x="336.80" y="153.93" font-size="7.9" text-anchor="end" font-weight="normal" fill="#1a1a1a" stroke="#1a1a1a" stroke-width="0.12">68%</text>
<text x="349.00" y="120.33" font-size="7.9" text-anchor="start" font-weight="normal" fill="#1a1a1a" stroke="#1a1a1a" stroke-width="0.12">6%</text>
<text x="413.60" y="120.33" font-size="7.9" text-anchor="end" font-weight="normal" fill="#1a1a1a" stroke="#1a1a1a" stroke-width="0.12">72%</text>
<text x="349.00" y="153.73" font-size="7.9" text-anchor="start" font-weight="normal" fill="#1a1a1a" stroke="#1a1a1a" stroke-width="0.12">21%</text>
<text x="413.60" y="153.73" font-size="7.9" text-anchor="end" font-weight="normal" fill="#1a1a1a" stroke="#1a1a1a" stroke-width="0.12">1%</text>
<line x1="260.80" y1="86.60" x2="260.80" y2="62.00" stroke="#111" stroke-width="1.0" />
<path d="M258.6 63.5 L260.8 58.6 L263.0 63.5 Z" fill="#111"/>
<text transform="translate(263.79,104.50) rotate(-90)" font-size="9.2" text-anchor="middle" font-weight="normal" fill="#1a1a1a" textLength="23.2" stroke="#1a1a1a" stroke-width="0.22" lengthAdjust="spacingAndGlyphs">mbaIL6</text>
<line x1="260.80" y1="122.00" x2="260.80" y2="150.70" stroke="#111" stroke-width="1.0" />
<line x1="277.20" y1="185.70" x2="311.80" y2="185.70" stroke="#111" stroke-width="1.0" />
<text x="315.00" y="189.30" font-size="9.6" text-anchor="start" font-weight="normal" fill="#1a1a1a" textLength="45.2" stroke="#1a1a1a" stroke-width="0.35" lengthAdjust="spacingAndGlyphs">anti-CD19 CAR</text>
<line x1="363.00" y1="185.70" x2="398.00" y2="185.70" stroke="#111" stroke-width="1.0" />
<path d="M396.5 183.6 L401.2 185.7 L396.5 187.8 Z" fill="#111"/>
<text x="7.00" y="62.10" font-size="12.2" text-anchor="start" font-weight="bold" fill="#000" >C</text>
<line x1="49.40" y1="69.80" x2="49.40" y2="154.30" stroke="#111" stroke-width="1.1" />
<line x1="46.10" y1="151.10" x2="49.40" y2="151.10" stroke="#111" stroke-width="1.0" />
<text x="43.30" y="154.25" font-size="8.8" text-anchor="end" font-weight="normal" fill="#1a1a1a" textLength="4.95" lengthAdjust="spacingAndGlyphs">0</text>
<line x1="46.10" y1="135.34" x2="49.40" y2="135.34" stroke="#111" stroke-width="1.0" />
<text x="43.30" y="138.49" font-size="8.8" text-anchor="end" font-weight="normal" fill="#1a1a1a" textLength="9.90" lengthAdjust="spacingAndGlyphs">20</text>
<line x1="46.10" y1="119.58" x2="49.40" y2="119.58" stroke="#111" stroke-width="1.0" />
<text x="43.30" y="122.73" font-size="8.8" text-anchor="end" font-weight="normal" fill="#1a1a1a" textLength="9.90" lengthAdjust="spacingAndGlyphs">40</text>
<line x1="46.10" y1="103.82" x2="49.40" y2="103.82" stroke="#111" stroke-width="1.0" />
<text x="43.30" y="106.97" font-size="8.8" text-anchor="end" font-weight="normal" fill="#1a1a1a" textLength="9.90" lengthAdjust="spacingAndGlyphs">60</text>
<line x1="46.10" y1="88.06" x2="49.40" y2="88.06" stroke="#111" stroke-width="1.0" />
<text x="43.30" y="91.21" font-size="8.8" text-anchor="end" font-weight="normal" fill="#1a1a1a" textLength="9.90" lengthAdjust="spacingAndGlyphs">80</text>
<line x1="46.10" y1="72.30" x2="49.40" y2="72.30" stroke="#111" stroke-width="1.0" />
<text x="43.30" y="75.45" font-size="8.8" text-anchor="end" font-weight="normal" fill="#1a1a1a" textLength="14.85" lengthAdjust="spacingAndGlyphs">100</text>
<line x1="57.20" y1="160.10" x2="104.70" y2="160.10" stroke="#111" stroke-width="1.3" />
<line x1="63.20" y1="160.10" x2="63.20" y2="163.00" stroke="#111" stroke-width="1.0" />
<line x1="75.00" y1="160.10" x2="75.00" y2="163.00" stroke="#111" stroke-width="1.0" />
<line x1="86.80" y1="160.10" x2="86.80" y2="163.00" stroke="#111" stroke-width="1.0" />
<line x1="98.80" y1="160.10" x2="98.80" y2="163.00" stroke="#111" stroke-width="1.0" />
<text transform="translate(66.28,166.60) rotate(-90)" font-size="8.6" text-anchor="end" font-weight="normal" fill="#1a1a1a" textLength="26.4" lengthAdjust="spacingAndGlyphs">Control</text>
<text transform="translate(78.08,166.60) rotate(-90)" font-size="8.6" text-anchor="end" font-weight="normal" fill="#1a1a1a" textLength="26.4" lengthAdjust="spacingAndGlyphs">mbaIL6</text>
<text transform="translate(89.88,166.60) rotate(-90)" font-size="8.6" text-anchor="end" font-weight="normal" fill="#1a1a1a" textLength="17.0" lengthAdjust="spacingAndGlyphs">CAR</text>
<text transform="translate(101.88,166.60) rotate(-90)" font-size="8.6" text-anchor="end" font-weight="normal" fill="#1a1a1a" textLength="20.6" lengthAdjust="spacingAndGlyphs">DUAL</text>
<text transform="translate(20.81,111.60) rotate(-90)" font-size="9.8" text-anchor="middle" font-weight="normal" fill="#1a1a1a" textLength="31.3" stroke="#1a1a1a" stroke-width="0.22" lengthAdjust="spacingAndGlyphs">% mbaIL6</text>
<circle cx="60.50" cy="151.10" r="1.8" fill="#2a4a8a" stroke="#111" stroke-width="0.95"/>
<circle cx="61.66" cy="151.10" r="1.8" fill="#2a4a8a" stroke="#111" stroke-width="0.95"/>
<circle cx="62.82" cy="151.10" r="1.8" fill="#2a4a8a" stroke="#111" stroke-width="0.95"/>
<circle cx="63.98" cy="151.10" r="1.8" fill="#2a4a8a" stroke="#111" stroke-width="0.95"/>
<circle cx="65.14" cy="151.10" r="1.8" fill="#2a4a8a" stroke="#111" stroke-width="0.95"/>
<circle cx="66.30" cy="151.10" r="1.8" fill="#2a4a8a" stroke="#111" stroke-width="0.95"/>
<circle cx="84.00" cy="151.10" r="1.8" fill="#5aa02c" stroke="#111" stroke-width="0.95"/>
<circle cx="85.10" cy="151.10" r="1.8" fill="#5aa02c" stroke="#111" stroke-width="0.95"/>
<circle cx="86.20" cy="151.10" r="1.8" fill="#5aa02c" stroke="#111" stroke-width="0.95"/>
<circle cx="87.30" cy="151.10" r="1.8" fill="#5aa02c" stroke="#111" stroke-width="0.95"/>
<circle cx="88.40" cy="151.10" r="1.8" fill="#5aa02c" stroke="#111" stroke-width="0.95"/>
<circle cx="89.50" cy="151.10" r="1.8" fill="#5aa02c" stroke="#111" stroke-width="0.95"/>
<circle cx="74.90" cy="93.60" r="1.8" fill="#c4142c" stroke="#111" stroke-width="0.95"/>
<circle cx="74.90" cy="98.50" r="1.8" fill="#c4142c" stroke="#111" stroke-width="0.95"/>
<circle cx="73.30" cy="102.60" r="1.8" fill="#c4142c" stroke="#111" stroke-width="0.95"/>
<circle cx="76.50" cy="102.60" r="1.8" fill="#c4142c" stroke="#111" stroke-width="0.95"/>
<circle cx="72.80" cy="105.50" r="1.8" fill="#c4142c" stroke="#111" stroke-width="0.95"/>
<circle cx="77.00" cy="105.50" r="1.8" fill="#c4142c" stroke="#111" stroke-width="0.95"/>
<circle cx="98.40" cy="75.80" r="1.8" fill="#8c88cc" stroke="#111" stroke-width="0.95"/>
<circle cx="96.40" cy="82.50" r="1.8" fill="#8c88cc" stroke="#111" stroke-width="0.95"/>
<circle cx="100.60" cy="82.50" r="1.8" fill="#8c88cc" stroke="#111" stroke-width="0.95"/>
<circle cx="96.40" cy="88.70" r="1.8" fill="#8c88cc" stroke="#111" stroke-width="0.95"/>
<circle cx="100.60" cy="88.70" r="1.8" fill="#8c88cc" stroke="#111" stroke-width="0.95"/>
<circle cx="98.40" cy="95.00" r="1.8" fill="#8c88cc" stroke="#111" stroke-width="0.95"/>
<line x1="71.60" y1="101.60" x2="78.20" y2="101.60" stroke="#111" stroke-width="0.9" />
<line x1="74.90" y1="99.30" x2="74.90" y2="104.00" stroke="#111" stroke-width="0.8" />
<line x1="95.20" y1="86.00" x2="101.60" y2="86.00" stroke="#111" stroke-width="0.9" />
<line x1="98.40" y1="79.30" x2="98.40" y2="92.30" stroke="#111" stroke-width="0.8" />
<line x1="96.60" y1="79.30" x2="100.20" y2="79.30" stroke="#111" stroke-width="0.8" />
<line x1="96.60" y1="92.30" x2="100.20" y2="92.30" stroke="#111" stroke-width="0.8" />
<line x1="156.20" y1="69.80" x2="156.20" y2="154.30" stroke="#111" stroke-width="1.1" />
<line x1="152.90" y1="151.10" x2="156.20" y2="151.10" stroke="#111" stroke-width="1.0" />
<text x="150.10" y="154.25" font-size="8.8" text-anchor="end" font-weight="normal" fill="#1a1a1a" textLength="4.95" lengthAdjust="spacingAndGlyphs">0</text>
<line x1="152.90" y1="135.34" x2="156.20" y2="135.34" stroke="#111" stroke-width="1.0" />
<text x="150.10" y="138.49" font-size="8.8" text-anchor="end" font-weight="normal" fill="#1a1a1a" textLength="9.90" lengthAdjust="spacingAndGlyphs">20</text>
<line x1="152.90" y1="119.58" x2="156.20" y2="119.58" stroke="#111" stroke-width="1.0" />
<text x="150.10" y="122.73" font-size="8.8" text-anchor="end" font-weight="normal" fill="#1a1a1a" textLength="9.90" lengthAdjust="spacingAndGlyphs">40</text>
<line x1="152.90" y1="103.82" x2="156.20" y2="103.82" stroke="#111" stroke-width="1.0" />
<text x="150.10" y="106.97" font-size="8.8" text-anchor="end" font-weight="normal" fill="#1a1a1a" textLength="9.90" lengthAdjust="spacingAndGlyphs">60</text>
<line x1="152.90" y1="88.06" x2="156.20" y2="88.06" stroke="#111" stroke-width="1.0" />
<text x="150.10" y="91.21" font-size="8.8" text-anchor="end" font-weight="normal" fill="#1a1a1a" textLength="9.90" lengthAdjust="spacingAndGlyphs">80</text>
<line x1="152.90" y1="72.30" x2="156.20" y2="72.30" stroke="#111" stroke-width="1.0" />
<text x="150.10" y="75.45" font-size="8.8" text-anchor="end" font-weight="normal" fill="#1a1a1a" textLength="14.85" lengthAdjust="spacingAndGlyphs">100</text>
<line x1="165.30" y1="160.10" x2="211.90" y2="160.10" stroke="#111" stroke-width="1.3" />
<line x1="170.90" y1="160.10" x2="170.90" y2="163.00" stroke="#111" stroke-width="1.0" />
<line x1="182.30" y1="160.10" x2="182.30" y2="163.00" stroke="#111" stroke-width="1.0" />
<line x1="193.80" y1="160.10" x2="193.80" y2="163.00" stroke="#111" stroke-width="1.0" />
<line x1="205.30" y1="160.10" x2="205.30" y2="163.00" stroke="#111" stroke-width="1.0" />
<text transform="translate(173.98,166.60) rotate(-90)" font-size="8.6" text-anchor="end" font-weight="normal" fill="#1a1a1a" textLength="26.4" lengthAdjust="spacingAndGlyphs">Control</text>
<text transform="translate(185.38,166.60) rotate(-90)" font-size="8.6" text-anchor="end" font-weight="normal" fill="#1a1a1a" textLength="26.4" lengthAdjust="spacingAndGlyphs">mbaIL6</text>
<text transform="translate(196.88,166.60) rotate(-90)" font-size="8.6" text-anchor="end" font-weight="normal" fill="#1a1a1a" textLength="17.0" lengthAdjust="spacingAndGlyphs">CAR</text>
<text transform="translate(208.38,166.60) rotate(-90)" font-size="8.6" text-anchor="end" font-weight="normal" fill="#1a1a1a" textLength="20.6" lengthAdjust="spacingAndGlyphs">DUAL</text>
<text transform="translate(129.41,111.80) rotate(-90)" font-size="9.8" text-anchor="middle" font-weight="normal" fill="#1a1a1a" textLength="22.4" stroke="#1a1a1a" stroke-width="0.22" lengthAdjust="spacingAndGlyphs">% CAR</text>
<circle cx="168.30" cy="151.10" r="1.8" fill="#2a4a8a" stroke="#111" stroke-width="0.95"/>
<circle cx="169.34" cy="151.10" r="1.8" fill="#2a4a8a" stroke="#111" stroke-width="0.95"/>
<circle cx="170.38" cy="151.10" r="1.8" fill="#2a4a8a" stroke="#111" stroke-width="0.95"/>
<circle cx="171.42" cy="151.10" r="1.8" fill="#2a4a8a" stroke="#111" stroke-width="0.95"/>
<circle cx="172.46" cy="151.10" r="1.8" fill="#2a4a8a" stroke="#111" stroke-width="0.95"/>
<circle cx="173.50" cy="151.10" r="1.8" fill="#2a4a8a" stroke="#111" stroke-width="0.95"/>
<circle cx="179.80" cy="151.10" r="1.8" fill="#c4142c" stroke="#111" stroke-width="0.95"/>
<circle cx="180.84" cy="151.10" r="1.8" fill="#c4142c" stroke="#111" stroke-width="0.95"/>
<circle cx="181.88" cy="151.10" r="1.8" fill="#c4142c" stroke="#111" stroke-width="0.95"/>
<circle cx="182.92" cy="151.10" r="1.8" fill="#c4142c" stroke="#111" stroke-width="0.95"/>
<circle cx="183.96" cy="151.10" r="1.8" fill="#c4142c" stroke="#111" stroke-width="0.95"/>
<circle cx="185.00" cy="151.10" r="1.8" fill="#c4142c" stroke="#111" stroke-width="0.95"/>
<circle cx="194.20" cy="75.10" r="1.8" fill="#5aa02c" stroke="#111" stroke-width="0.95"/>
<circle cx="191.90" cy="81.50" r="1.8" fill="#5aa02c" stroke="#111" stroke-width="0.95"/>
<circle cx="196.20" cy="84.00" r="1.8" fill="#5aa02c" stroke="#111" stroke-width="0.95"/>
<circle cx="191.90" cy="85.70" r="1.8" fill="#5aa02c" stroke="#111" stroke-width="0.95"/>
<circle cx="194.20" cy="89.60" r="1.8" fill="#5aa02c" stroke="#111" stroke-width="0.95"/>
<circle cx="194.20" cy="94.30" r="1.8" fill="#5aa02c" stroke="#111" stroke-width="0.95"/>
<circle cx="205.70" cy="75.80" r="1.8" fill="#8c88cc" stroke="#111" stroke-width="0.95"/>
<circle cx="203.40" cy="82.30" r="1.8" fill="#8c88cc" stroke="#111" stroke-width="0.95"/>
<circle cx="207.90" cy="83.10" r="1.8" fill="#8c88cc" stroke="#111" stroke-width="0.95"/>
<circle cx="203.40" cy="88.50" r="1.8" fill="#8c88cc" stroke="#111" stroke-width="0.95"/>
<circle cx="207.90" cy="89.60" r="1.8" fill="#8c88cc" stroke="#111" stroke-width="0.95"/>
<circle cx="205.70" cy="95.20" r="1.8" fill="#8c88cc" stroke="#111" stroke-width="0.95"/>
<line x1="191.00" y1="84.30" x2="197.40" y2="84.30" stroke="#222" stroke-width="0.9" />
<line x1="194.20" y1="78.40" x2="194.20" y2="90.80" stroke="#222" stroke-width="0.8" />
<line x1="192.40" y1="78.40" x2="196.00" y2="78.40" stroke="#222" stroke-width="0.8" />
<line x1="192.40" y1="90.80" x2="196.00" y2="90.80" stroke="#222" stroke-width="0.8" />
<line x1="202.50" y1="85.50" x2="208.90" y2="85.50" stroke="#222" stroke-width="0.9" />
<line x1="205.70" y1="78.80" x2="205.70" y2="91.00" stroke="#222" stroke-width="0.8" />
<line x1="203.90" y1="78.80" x2="207.50" y2="78.80" stroke="#222" stroke-width="0.8" />
<line x1="203.90" y1="91.00" x2="207.50" y2="91.00" stroke="#222" stroke-width="0.8" />
<text x="7.30" y="220.40" font-size="12.2" text-anchor="start" font-weight="bold" fill="#000" >D</text>
<line x1="45.30" y1="229.60" x2="45.30" y2="318.00" stroke="#111" stroke-width="1.1" />
<line x1="44.80" y1="317.60" x2="131.30" y2="317.60" stroke="#111" stroke-width="1.1" />
<rect x="45.80" y="233.40" width="26.26" height="4.20" fill="#64a83a" stroke="none" stroke-width="1" />
<rect x="45.80" y="237.60" width="26.26" height="4.00" fill="#8d81c7" stroke="none" stroke-width="1" />
<line x1="72.06" y1="235.65" x2="74.48" y2="235.65" stroke="#111" stroke-width="0.9" />
<line x1="74.48" y1="234.40" x2="74.48" y2="236.90" stroke="#111" stroke-width="0.9" />
<line x1="72.06" y1="239.55" x2="77.31" y2="239.55" stroke="#111" stroke-width="0.9" />
<line x1="77.31" y1="238.30" x2="77.31" y2="240.80" stroke="#111" stroke-width="0.9" />
<line x1="42.30" y1="237.60" x2="45.30" y2="237.60" stroke="#111" stroke-width="1.0" />
<text x="38.60" y="240.21" font-size="8.7" text-anchor="end" font-weight="normal" fill="#1a1a1a" >CD69</text>
<rect x="45.80" y="245.47" width="55.35" height="4.20" fill="#64a83a" stroke="none" stroke-width="1" />
<rect x="45.80" y="249.67" width="53.73" height="4.00" fill="#8d81c7" stroke="none" stroke-width="1" />
<line x1="101.15" y1="247.72" x2="110.84" y2="247.72" stroke="#111" stroke-width="0.9" />
<line x1="110.84" y1="246.47" x2="110.84" y2="248.97" stroke="#111" stroke-width="0.9" />
<line x1="99.53" y1="251.62" x2="110.44" y2="251.62" stroke="#111" stroke-width="0.9" />
<line x1="110.44" y1="250.37" x2="110.44" y2="252.87" stroke="#111" stroke-width="0.9" />
<line x1="42.30" y1="249.67" x2="45.30" y2="249.67" stroke="#111" stroke-width="1.0" />
<text x="38.60" y="252.28" font-size="8.7" text-anchor="end" font-weight="normal" fill="#1a1a1a" >CD62L</text>
<rect x="45.80" y="257.54" width="80.40" height="4.20" fill="#64a83a" stroke="none" stroke-width="1" />
<rect x="45.80" y="261.74" width="80.40" height="4.00" fill="#8d81c7" stroke="none" stroke-width="1" />
<line x1="126.20" y1="259.79" x2="127.00" y2="259.79" stroke="#111" stroke-width="0.9" />
<line x1="127.00" y1="258.54" x2="127.00" y2="261.04" stroke="#111" stroke-width="0.9" />
<line x1="126.20" y1="263.69" x2="127.00" y2="263.69" stroke="#111" stroke-width="0.9" />
<line x1="127.00" y1="262.44" x2="127.00" y2="264.94" stroke="#111" stroke-width="0.9" />
<line x1="42.30" y1="261.74" x2="45.30" y2="261.74" stroke="#111" stroke-width="1.0" />
<text x="38.60" y="264.35" font-size="8.7" text-anchor="end" font-weight="normal" fill="#1a1a1a" >CD7</text>
<rect x="45.80" y="269.61" width="38.78" height="4.20" fill="#64a83a" stroke="none" stroke-width="1" />
<rect x="45.80" y="273.81" width="33.53" height="4.00" fill="#8d81c7" stroke="none" stroke-width="1" />
<line x1="84.58" y1="271.86" x2="92.66" y2="271.86" stroke="#111" stroke-width="0.9" />
<line x1="92.66" y1="270.61" x2="92.66" y2="273.11" stroke="#111" stroke-width="0.9" />
<line x1="79.33" y1="275.76" x2="88.22" y2="275.76" stroke="#111" stroke-width="0.9" />
<line x1="88.22" y1="274.51" x2="88.22" y2="277.01" stroke="#111" stroke-width="0.9" />
<line x1="42.30" y1="273.81" x2="45.30" y2="273.81" stroke="#111" stroke-width="1.0" />
<text x="38.60" y="276.42" font-size="8.7" text-anchor="end" font-weight="normal" fill="#1a1a1a" >CD25</text>
<rect x="45.80" y="281.68" width="80.40" height="4.20" fill="#64a83a" stroke="none" stroke-width="1" />
<rect x="45.80" y="285.88" width="80.40" height="4.00" fill="#8d81c7" stroke="none" stroke-width="1" />
<line x1="126.20" y1="283.93" x2="127.00" y2="283.93" stroke="#111" stroke-width="0.9" />
<line x1="127.00" y1="282.68" x2="127.00" y2="285.18" stroke="#111" stroke-width="0.9" />
<line x1="126.20" y1="287.83" x2="127.00" y2="287.83" stroke="#111" stroke-width="0.9" />
<line x1="127.00" y1="286.58" x2="127.00" y2="289.08" stroke="#111" stroke-width="0.9" />
<line x1="42.30" y1="285.88" x2="45.30" y2="285.88" stroke="#111" stroke-width="1.0" />
<text x="38.60" y="288.49" font-size="8.7" text-anchor="end" font-weight="normal" fill="#1a1a1a" >CD3</text>
<rect x="45.80" y="293.75" width="40.40" height="4.20" fill="#64a83a" stroke="none" stroke-width="1" />
<rect x="45.80" y="297.95" width="47.67" height="4.00" fill="#8d81c7" stroke="none" stroke-width="1" />
<line x1="86.20" y1="296.00" x2="95.49" y2="296.00" stroke="#111" stroke-width="0.9" />
<line x1="95.49" y1="294.75" x2="95.49" y2="297.25" stroke="#111" stroke-width="0.9" />
<line x1="93.47" y1="299.90" x2="102.76" y2="299.90" stroke="#111" stroke-width="0.9" />
<line x1="102.76" y1="298.65" x2="102.76" y2="301.15" stroke="#111" stroke-width="0.9" />
<line x1="42.30" y1="297.95" x2="45.30" y2="297.95" stroke="#111" stroke-width="1.0" />
<text x="38.60" y="300.56" font-size="8.7" text-anchor="end" font-weight="normal" fill="#1a1a1a" >CD8</text>
<rect x="45.80" y="305.82" width="38.78" height="4.20" fill="#64a83a" stroke="none" stroke-width="1" />
<rect x="45.80" y="310.02" width="33.13" height="4.00" fill="#8d81c7" stroke="none" stroke-width="1" />
<line x1="84.58" y1="308.07" x2="93.07" y2="308.07" stroke="#111" stroke-width="0.9" />
<line x1="93.07" y1="306.82" x2="93.07" y2="309.32" stroke="#111" stroke-width="0.9" />
<line x1="78.93" y1="311.97" x2="87.82" y2="311.97" stroke="#111" stroke-width="0.9" />
<line x1="87.82" y1="310.72" x2="87.82" y2="313.22" stroke="#111" stroke-width="0.9" />
<line x1="42.30" y1="310.02" x2="45.30" y2="310.02" stroke="#111" stroke-width="1.0" />
<text x="38.60" y="312.63" font-size="8.7" text-anchor="end" font-weight="normal" fill="#1a1a1a" >CD4</text>
<line x1="45.50" y1="317.60" x2="45.50" y2="320.20" stroke="#111" stroke-width="1.0" />
<text x="45.50" y="330.74" font-size="8.5" text-anchor="middle" font-weight="normal" fill="#1a1a1a" >0</text>
<line x1="61.80" y1="317.60" x2="61.80" y2="320.20" stroke="#111" stroke-width="1.0" />
<text x="61.80" y="330.74" font-size="8.5" text-anchor="middle" font-weight="normal" fill="#1a1a1a" >20</text>
<line x1="78.10" y1="317.60" x2="78.10" y2="320.20" stroke="#111" stroke-width="1.0" />
<text x="78.10" y="330.74" font-size="8.5" text-anchor="middle" font-weight="normal" fill="#1a1a1a" >40</text>
<line x1="94.40" y1="317.60" x2="94.40" y2="320.20" stroke="#111" stroke-width="1.0" />
<text x="94.40" y="330.74" font-size="8.5" text-anchor="middle" font-weight="normal" fill="#1a1a1a" >60</text>
<line x1="110.70" y1="317.60" x2="110.70" y2="320.20" stroke="#111" stroke-width="1.0" />
<text x="110.70" y="330.74" font-size="8.5" text-anchor="middle" font-weight="normal" fill="#1a1a1a" >80</text>
<line x1="127.00" y1="317.60" x2="127.00" y2="320.20" stroke="#111" stroke-width="1.0" />
<text x="127.00" y="330.74" font-size="8.5" text-anchor="middle" font-weight="normal" fill="#1a1a1a" >100</text>
<text x="57.00" y="344.30" font-size="10" text-anchor="start" font-weight="normal" fill="#1a1a1a" textLength="62.3" stroke="#1a1a1a" stroke-width="0.22" lengthAdjust="spacingAndGlyphs">% cells with marker</text>
<rect x="129.20" y="229.00" width="4.90" height="4.60" fill="#64a83a" stroke="none" stroke-width="1" />
<rect x="129.20" y="240.90" width="4.90" height="4.60" fill="#8d81c7" stroke="none" stroke-width="1" />
<text x="137.80" y="233.97" font-size="8.3" text-anchor="start" font-weight="normal" fill="#1a1a1a" >CAR</text>
<text x="137.80" y="245.77" font-size="8.3" text-anchor="start" font-weight="normal" fill="#1a1a1a" >DUAL</text>
<text x="174.40" y="220.40" font-size="11" text-anchor="start" font-weight="bold" fill="#000" >E</text>
<line x1="208.60" y1="228.40" x2="208.60" y2="317.30" stroke="#111" stroke-width="1.1" />
<line x1="207.70" y1="316.90" x2="295.20" y2="316.90" stroke="#111" stroke-width="1.3" />
<line x1="205.50" y1="316.60" x2="208.60" y2="316.60" stroke="#111" stroke-width="1.0" />
<text x="203.10" y="319.45" font-size="8.8" text-anchor="end" font-weight="normal" fill="#1a1a1a" textLength="4.90" lengthAdjust="spacingAndGlyphs">0</text>
<line x1="205.50" y1="299.38" x2="208.60" y2="299.38" stroke="#111" stroke-width="1.0" />
<text x="203.10" y="302.23" font-size="8.8" text-anchor="end" font-weight="normal" fill="#1a1a1a" textLength="9.80" lengthAdjust="spacingAndGlyphs">20</text>
<line x1="205.50" y1="282.16" x2="208.60" y2="282.16" stroke="#111" stroke-width="1.0" />
<text x="203.10" y="285.01" font-size="8.8" text-anchor="end" font-weight="normal" fill="#1a1a1a" textLength="9.80" lengthAdjust="spacingAndGlyphs">40</text>
<line x1="205.50" y1="264.94" x2="208.60" y2="264.94" stroke="#111" stroke-width="1.0" />
<text x="203.10" y="267.79" font-size="8.8" text-anchor="end" font-weight="normal" fill="#1a1a1a" textLength="9.80" lengthAdjust="spacingAndGlyphs">60</text>
<line x1="205.50" y1="247.72" x2="208.60" y2="247.72" stroke="#111" stroke-width="1.0" />
<text x="203.10" y="250.57" font-size="8.8" text-anchor="end" font-weight="normal" fill="#1a1a1a" textLength="9.80" lengthAdjust="spacingAndGlyphs">80</text>
<line x1="205.50" y1="230.50" x2="208.60" y2="230.50" stroke="#111" stroke-width="1.0" />
<text x="203.10" y="233.35" font-size="8.8" text-anchor="end" font-weight="normal" fill="#1a1a1a" textLength="14.70" lengthAdjust="spacingAndGlyphs">100</text>
<rect x="213.50" y="289.91" width="12.40" height="26.69" fill="#4e1f60" stroke="none" stroke-width="1" />
<rect x="213.50" y="261.50" width="12.40" height="28.41" fill="#6fb0e2" stroke="none" stroke-width="1" />
<rect x="213.50" y="234.81" width="12.40" height="26.69" fill="#c6067e" stroke="none" stroke-width="1" />
<rect x="213.50" y="230.50" width="12.40" height="4.30" fill="#2f6a4c" stroke="none" stroke-width="1" />
<rect x="235.20" y="288.19" width="12.40" height="28.41" fill="#4e1f60" stroke="none" stroke-width="1" />
<rect x="235.20" y="267.52" width="12.40" height="20.66" fill="#6fb0e2" stroke="none" stroke-width="1" />
<rect x="235.20" y="235.67" width="12.40" height="31.86" fill="#c6067e" stroke="none" stroke-width="1" />
<rect x="235.20" y="231.36" width="12.40" height="4.30" fill="#2f6a4c" stroke="none" stroke-width="1" />
<rect x="256.60" y="304.55" width="12.40" height="12.05" fill="#4e1f60" stroke="none" stroke-width="1" />
<rect x="256.60" y="282.16" width="12.40" height="22.39" fill="#6fb0e2" stroke="none" stroke-width="1" />
<rect x="256.60" y="239.97" width="12.40" height="42.19" fill="#c6067e" stroke="none" stroke-width="1" />
<rect x="256.60" y="230.50" width="12.40" height="9.47" fill="#2f6a4c" stroke="none" stroke-width="1" />
<rect x="278.20" y="302.82" width="12.40" height="13.78" fill="#4e1f60" stroke="none" stroke-width="1" />
<rect x="278.20" y="282.16" width="12.40" height="20.66" fill="#6fb0e2" stroke="none" stroke-width="1" />
<rect x="278.20" y="241.69" width="12.40" height="40.47" fill="#c6067e" stroke="none" stroke-width="1" />
<rect x="278.20" y="231.36" width="12.40" height="10.33" fill="#2f6a4c" stroke="none" stroke-width="1" />
<line x1="219.80" y1="316.90" x2="219.80" y2="319.40" stroke="#111" stroke-width="1.0" />
<text transform="translate(222.88,324.00) rotate(-90)" font-size="8.6" text-anchor="end" font-weight="normal" fill="#1a1a1a" textLength="26.4" lengthAdjust="spacingAndGlyphs">Control</text>
<line x1="241.00" y1="316.90" x2="241.00" y2="319.40" stroke="#111" stroke-width="1.0" />
<text transform="translate(244.08,324.00) rotate(-90)" font-size="8.6" text-anchor="end" font-weight="normal" fill="#1a1a1a" textLength="26.4" lengthAdjust="spacingAndGlyphs">mbaIL6</text>
<line x1="263.00" y1="316.90" x2="263.00" y2="319.40" stroke="#111" stroke-width="1.0" />
<text transform="translate(266.08,324.00) rotate(-90)" font-size="8.6" text-anchor="end" font-weight="normal" fill="#1a1a1a" textLength="17.0" lengthAdjust="spacingAndGlyphs">CAR</text>
<line x1="284.60" y1="316.90" x2="284.60" y2="319.40" stroke="#111" stroke-width="1.0" />
<text transform="translate(287.68,324.00) rotate(-90)" font-size="8.6" text-anchor="end" font-weight="normal" fill="#1a1a1a" textLength="20.6" lengthAdjust="spacingAndGlyphs">DUAL</text>
<text transform="translate(182.22,274.00) rotate(-90)" font-size="9.0" text-anchor="middle" font-weight="normal" fill="#1a1a1a" textLength="42.8" stroke="#1a1a1a" stroke-width="0.1" lengthAdjust="spacingAndGlyphs">% of T cells</text>
<rect x="299.00" y="232.30" width="7.00" height="5.60" fill="#4e1f60" stroke="none" stroke-width="1" />
<text x="309.60" y="237.66" font-size="8.0" text-anchor="start" font-weight="normal" fill="#1a1a1a" ><tspan textLength="16.6" lengthAdjust="spacingAndGlyphs">naive</tspan></text>
<rect x="299.00" y="241.25" width="7.00" height="5.60" fill="#2f6a4c" stroke="none" stroke-width="1" />
<text x="309.60" y="246.61" font-size="8.0" text-anchor="start" font-weight="normal" fill="#1a1a1a" >T<tspan font-size="7.2" dy="1.5">E</tspan></text>
<rect x="299.00" y="250.20" width="7.00" height="5.60" fill="#6fb0e2" stroke="none" stroke-width="1" />
<text x="309.60" y="255.56" font-size="8.0" text-anchor="start" font-weight="normal" fill="#1a1a1a" >T<tspan font-size="7.2" dy="1.5">CM</tspan></text>
<rect x="299.00" y="259.15" width="7.00" height="5.60" fill="#c6067e" stroke="none" stroke-width="1" />
<text x="309.60" y="264.51" font-size="8.0" text-anchor="start" font-weight="normal" fill="#1a1a1a" >T<tspan font-size="7.2" dy="1.5">EM</tspan></text>
<text x="343.60" y="220.30" font-size="11" text-anchor="start" font-weight="bold" fill="#000" >F</text>
<rect x="378.00" y="229.80" width="85.60" height="87.10" fill="none" stroke="#111" stroke-width="1.1" />
<line x1="404.60" y1="229.80" x2="404.60" y2="316.90" stroke="#222" stroke-width="1.15" stroke-dasharray="3.3 2.6" stroke-dashoffset="2.5"/>
<line x1="436.00" y1="229.80" x2="436.00" y2="316.90" stroke="#222" stroke-width="1.15" stroke-dasharray="3.3 2.6" stroke-dashoffset="2.5"/>
<line x1="374.60" y1="316.90" x2="378.00" y2="316.90" stroke="#111" stroke-width="1.0" />
<text x="370.90" y="319.46" font-size="8.0" text-anchor="end" font-weight="normal" fill="#1a1a1a" >0</text>
<line x1="374.60" y1="302.38" x2="378.00" y2="302.38" stroke="#111" stroke-width="1.0" />
<text x="370.90" y="304.95" font-size="8.0" text-anchor="end" font-weight="normal" fill="#1a1a1a" >20</text>
<line x1="374.60" y1="287.87" x2="378.00" y2="287.87" stroke="#111" stroke-width="1.0" />
<text x="370.90" y="290.43" font-size="8.0" text-anchor="end" font-weight="normal" fill="#1a1a1a" >40</text>
<line x1="374.60" y1="273.35" x2="378.00" y2="273.35" stroke="#111" stroke-width="1.0" />
<text x="370.90" y="275.92" font-size="8.0" text-anchor="end" font-weight="normal" fill="#1a1a1a" >60</text>
<line x1="374.60" y1="258.84" x2="378.00" y2="258.84" stroke="#111" stroke-width="1.0" />
<text x="370.90" y="261.40" font-size="8.0" text-anchor="end" font-weight="normal" fill="#1a1a1a" >80</text>
<line x1="374.60" y1="244.32" x2="378.00" y2="244.32" stroke="#111" stroke-width="1.0" />
<text x="370.90" y="246.88" font-size="8.0" text-anchor="end" font-weight="normal" fill="#1a1a1a" >100</text>
<line x1="374.60" y1="229.80" x2="378.00" y2="229.80" stroke="#111" stroke-width="1.0" />
<text x="370.90" y="232.37" font-size="8.0" text-anchor="end" font-weight="normal" fill="#1a1a1a" >120</text>
<line x1="392.10" y1="316.90" x2="392.10" y2="319.40" stroke="#111" stroke-width="1.0" />
<text x="392.10" y="331.37" font-size="8.3" text-anchor="middle" font-weight="normal" fill="#1a1a1a" >0.5</text>
<line x1="420.60" y1="316.90" x2="420.60" y2="319.40" stroke="#111" stroke-width="1.0" />
<text x="420.60" y="331.37" font-size="8.3" text-anchor="middle" font-weight="normal" fill="#1a1a1a" >1.0</text>
<line x1="449.20" y1="316.90" x2="449.20" y2="319.40" stroke="#111" stroke-width="1.0" />
<text x="449.20" y="331.37" font-size="8.3" text-anchor="middle" font-weight="normal" fill="#1a1a1a" >2.0</text>
<text x="395.30" y="347.70" font-size="10.6" text-anchor="start" font-weight="normal" fill="#1a1a1a" textLength="51" stroke="#1a1a1a" stroke-width="0.22" lengthAdjust="spacingAndGlyphs">Cells (x 10<tspan font-size="7.0" dy="-3.6">6</tspan><tspan dy="3.6">/mL)</tspan></text>
<text transform="translate(352.08,273.50) rotate(-90)" font-size="10.0" text-anchor="middle" font-weight="normal" fill="#1a1a1a" textLength="40.2" stroke="#1a1a1a" stroke-width="0.22" lengthAdjust="spacingAndGlyphs">% input  IL-6</text>
<circle cx="385.00" cy="239.60" r="2.05" fill="#fff" stroke="#2b4a8c" stroke-width="0.95"/>
<circle cx="389.70" cy="243.10" r="2.05" fill="#fff" stroke="#6ab040" stroke-width="0.95"/>
<circle cx="394.60" cy="243.10" r="2.1" fill="#000" stroke="#2b4a8c" stroke-width="0.8"/>
<circle cx="399.20" cy="238.50" r="2.1" fill="#000" stroke="#6ab040" stroke-width="0.8"/>
<circle cx="392.20" cy="292.00" r="2.05" fill="#fff" stroke="#b0163a" stroke-width="0.95"/>
<circle cx="385.60" cy="298.50" r="2.1" fill="#000" stroke="#a09ad4" stroke-width="0.8"/>
<circle cx="392.20" cy="303.10" r="2.05" fill="#fff" stroke="#a09ad4" stroke-width="0.95"/>
<circle cx="398.20" cy="300.20" r="2.1" fill="#000" stroke="#b0163a" stroke-width="0.8"/>
<circle cx="413.40" cy="240.70" r="2.05" fill="#fff" stroke="#2b4a8c" stroke-width="0.95"/>
<circle cx="418.40" cy="243.30" r="2.1" fill="#000" stroke="#2b4a8c" stroke-width="0.8"/>
<circle cx="423.00" cy="241.60" r="2.1" fill="#000" stroke="#6ab040" stroke-width="0.8"/>
<circle cx="428.00" cy="240.60" r="2.05" fill="#fff" stroke="#6ab040" stroke-width="0.95"/>
<circle cx="420.60" cy="303.60" r="2.05" fill="#fff" stroke="#b0163a" stroke-width="0.95"/>
<circle cx="414.30" cy="308.00" r="2.1" fill="#000" stroke="#a09ad4" stroke-width="0.8"/>
<circle cx="420.40" cy="310.60" r="2.05" fill="#fff" stroke="#a09ad4" stroke-width="0.95"/>
<circle cx="427.30" cy="310.60" r="2.1" fill="#000" stroke="#b0163a" stroke-width="0.8"/>
<circle cx="449.20" cy="234.50" r="2.05" fill="#fff" stroke="#6ab040" stroke-width="0.95"/>
<circle cx="455.50" cy="244.10" r="2.05" fill="#fff" stroke="#2b4a8c" stroke-width="0.95"/>
<circle cx="443.00" cy="249.60" r="2.1" fill="#000" stroke="#6ab040" stroke-width="0.8"/>
<circle cx="449.40" cy="250.20" r="2.1" fill="#000" stroke="#2b4a8c" stroke-width="0.8"/>
<circle cx="442.10" cy="312.80" r="2.05" fill="#fff" stroke="#a09ad4" stroke-width="0.95"/>
<circle cx="447.10" cy="314.40" r="2.1" fill="#000" stroke="#b0163a" stroke-width="0.8"/>
<circle cx="451.80" cy="313.00" r="2.1" fill="#000" stroke="#a09ad4" stroke-width="0.8"/>
<circle cx="456.60" cy="311.30" r="2.05" fill="#fff" stroke="#b0163a" stroke-width="0.95"/>
<circle cx="474.10" cy="241.40" r="2.05" fill="#fff" stroke="#2b4a8c" stroke-width="0.95"/>
<circle cx="481.30" cy="241.40" r="2.1" fill="#000" stroke="#2b4a8c" stroke-width="0.8"/>
<text x="486.80" y="244.19" font-size="7.8" text-anchor="start" font-weight="normal" fill="#1a1a1a" >Control</text>
<circle cx="474.10" cy="251.30" r="2.05" fill="#fff" stroke="#b0163a" stroke-width="0.95"/>
<circle cx="481.30" cy="251.30" r="2.1" fill="#000" stroke="#b0163a" stroke-width="0.8"/>
<text x="486.80" y="254.09" font-size="7.8" text-anchor="start" font-weight="normal" fill="#1a1a1a" >mbaIL6</text>
<circle cx="474.10" cy="261.20" r="2.05" fill="#fff" stroke="#6ab040" stroke-width="0.95"/>
<circle cx="481.30" cy="261.20" r="2.1" fill="#000" stroke="#6ab040" stroke-width="0.8"/>
<text x="486.80" y="263.99" font-size="7.8" text-anchor="start" font-weight="normal" fill="#1a1a1a" >CAR</text>
<circle cx="474.10" cy="271.10" r="2.05" fill="#fff" stroke="#a09ad4" stroke-width="0.95"/>
<circle cx="481.30" cy="271.10" r="2.1" fill="#000" stroke="#a09ad4" stroke-width="0.8"/>
<text x="486.80" y="273.89" font-size="7.8" text-anchor="start" font-weight="normal" fill="#1a1a1a" >DUAL</text></svg>
</body></html>
